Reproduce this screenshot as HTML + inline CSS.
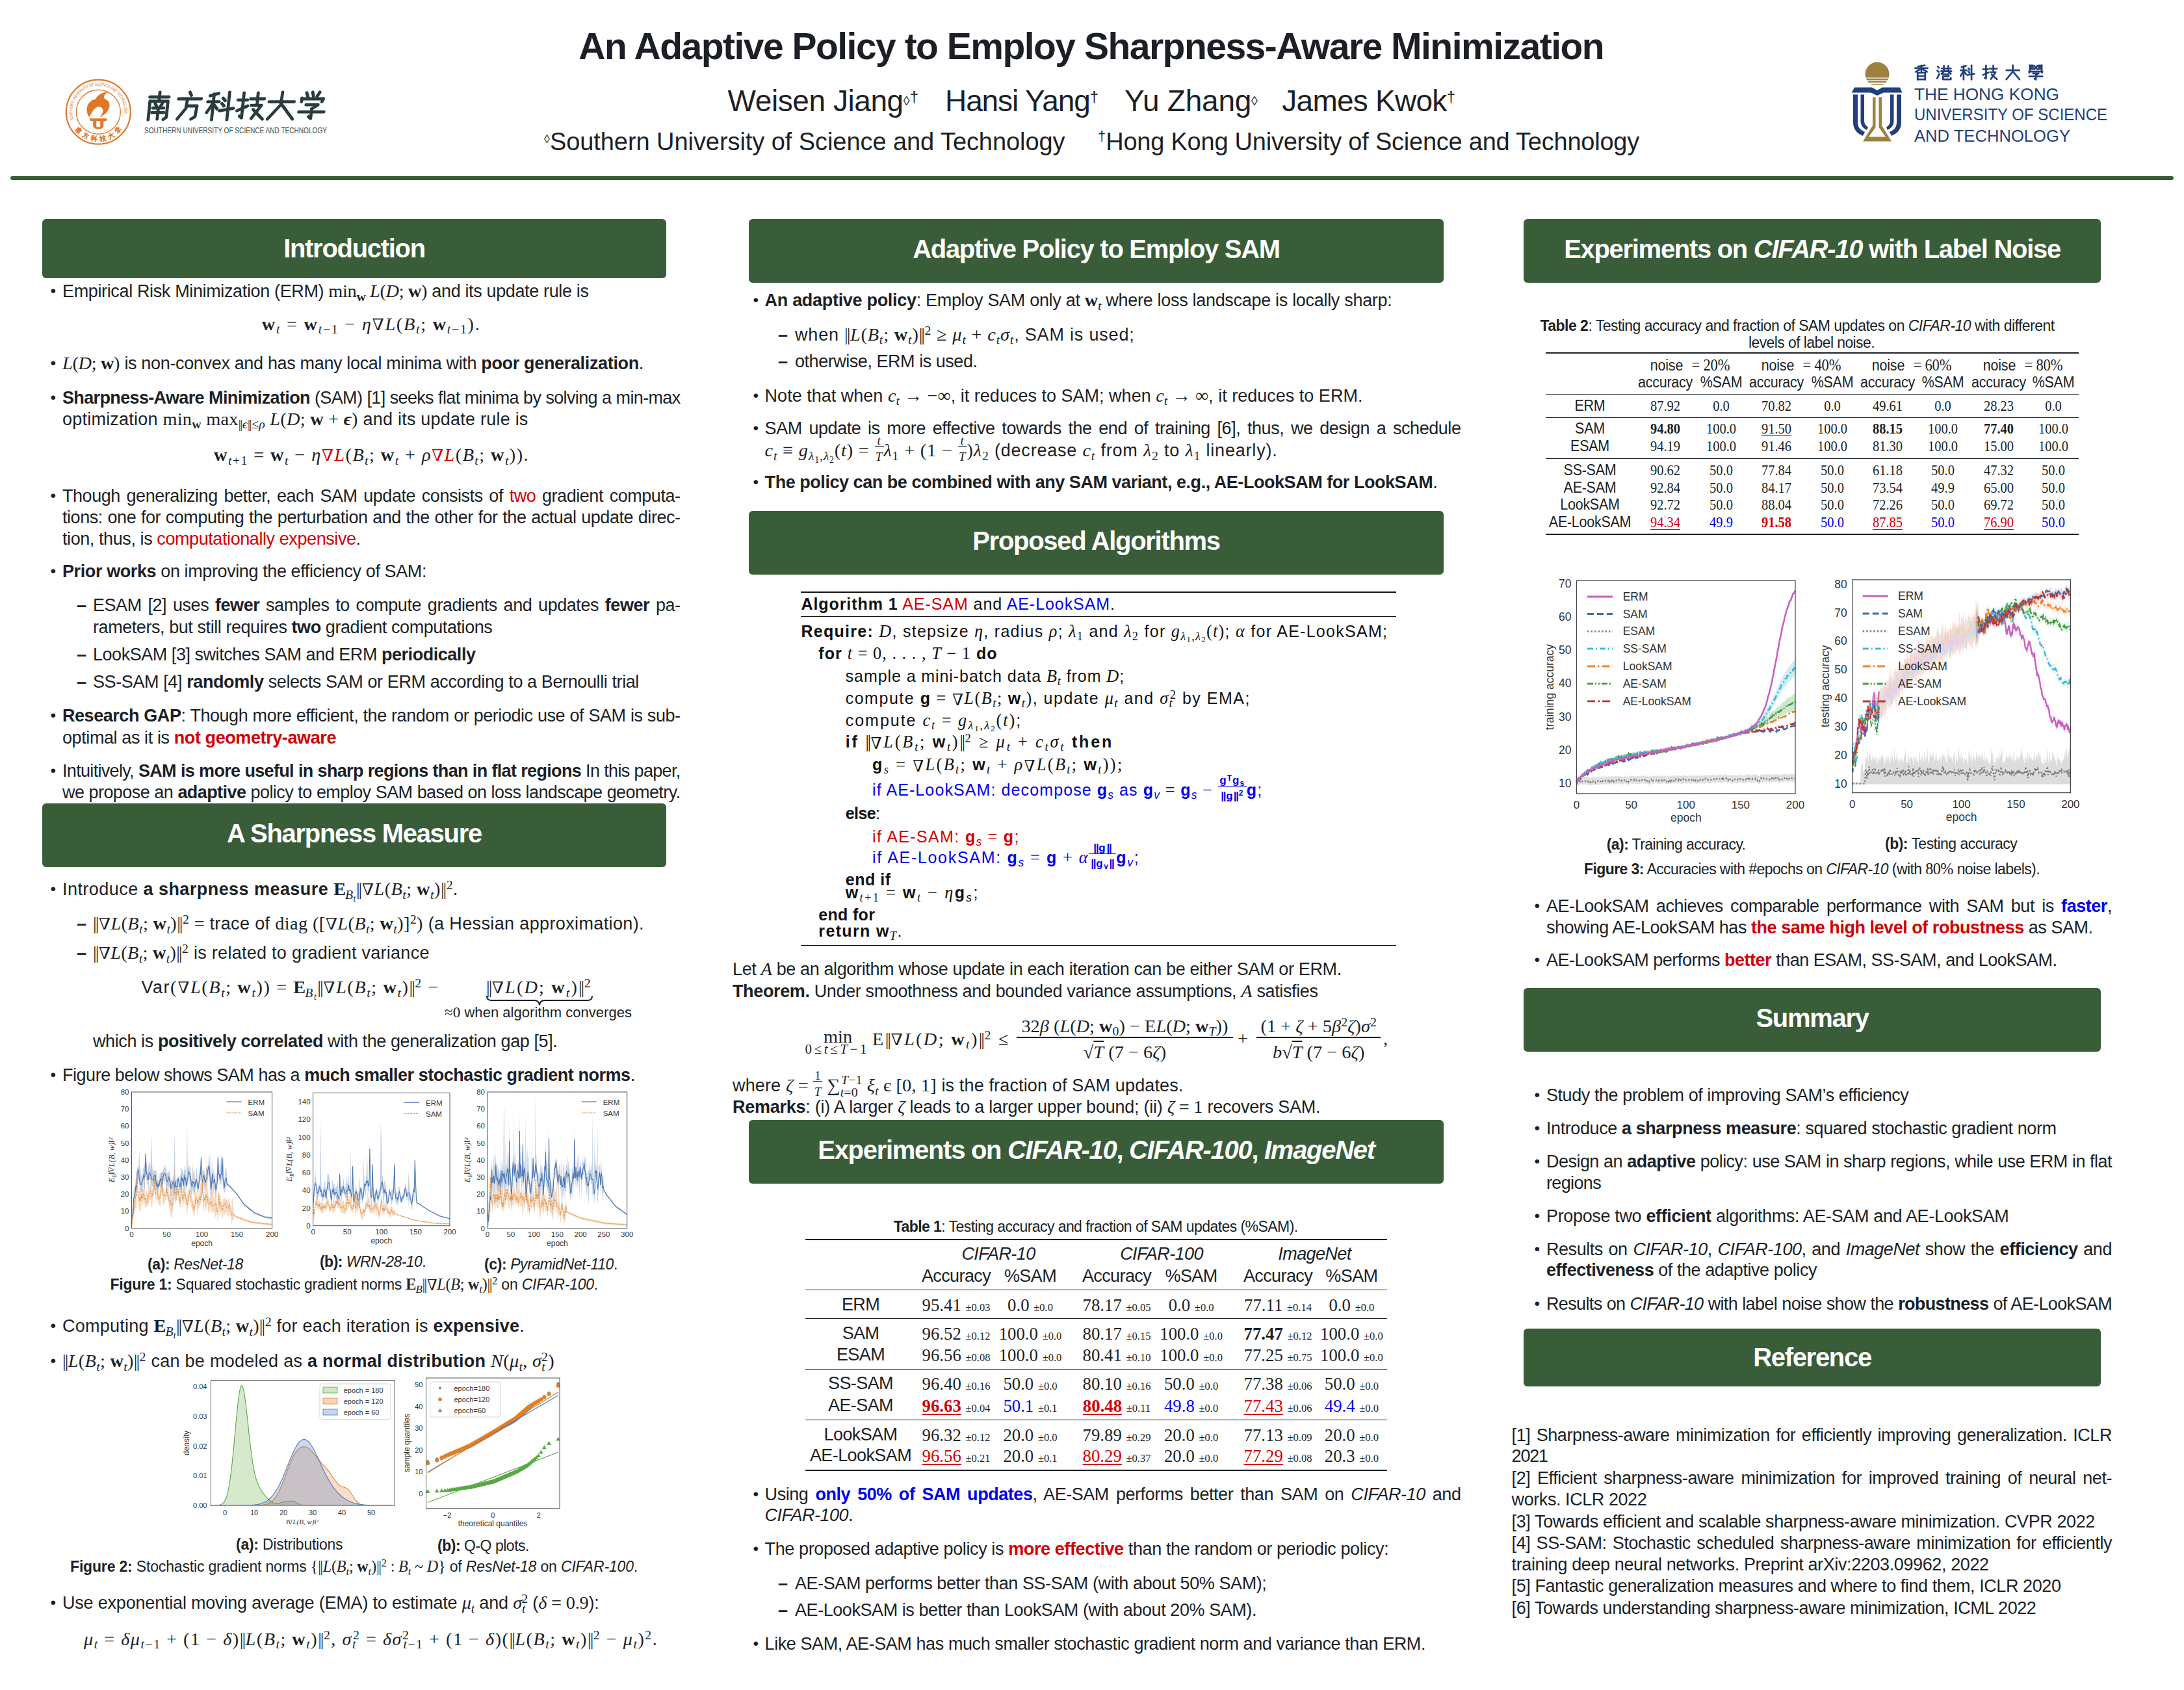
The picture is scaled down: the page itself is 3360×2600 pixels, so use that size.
<!DOCTYPE html><html><head><meta charset="utf-8"><style>
*{margin:0;padding:0;box-sizing:border-box}
html,body{width:3360px;height:2600px;background:#fff;overflow:hidden}
body{position:relative;font-family:"Liberation Sans",sans-serif;color:#1c1f26}
.l{position:absolute;white-space:nowrap;line-height:0;font-size:27px;letter-spacing:-0.45px}
.j{text-align:justify;text-align-last:justify;white-space:normal}
.c{text-align:center}
.r{text-align:right}
.m{font-family:"Liberation Serif",serif;font-size:1.05em}
.m i, i.m{font-style:italic}
.m b, b.m{font-weight:bold}
b{font-weight:bold}
sub,sup{font-size:70%;position:relative;vertical-align:baseline;line-height:0}
sub{top:0.28em}
sup{top:-0.45em}
.nab{display:inline-block;transform:scaleY(-1)}
.nrm{letter-spacing:-0.07em;margin-right:0.05em;font-style:normal}
.red{color:#d40000}
.blue{color:#0000ee}
.hb{position:absolute;background:#395d38;border-radius:6px}
.ht{position:absolute;line-height:0;color:#fff;font-weight:bold;font-size:40px;letter-spacing:-1.3px;text-align:center;white-space:nowrap}
.rule{position:absolute;background:#1c1f26}
.fr{display:inline-block;position:relative;text-align:center;vertical-align:baseline}
.fr .n{position:absolute;left:0;right:0;}
.fr .d{position:absolute;left:0;right:0;}
.fr .bar{position:absolute;left:0;right:0;height:1.5px;background:currentColor}
svg{position:absolute;overflow:visible}
</style></head><body><svg style="left:0;top:0" width="3360" height="260" viewBox="0 0 3360 260"><circle cx="151.3" cy="172.2" r="49.5" fill="none" stroke="#e0782a" stroke-width="2.2"/><circle cx="151.3" cy="172.2" r="34" fill="none" stroke="#e0782a" stroke-width="1.4"/><path id="arc1" d="M 110.9,185.3 A 42.5 42.5 0 1 1 191.7,185.3" fill="none"/><text font-family="Liberation Sans" font-size="6.6" fill="#e0782a" dy="2.3"><textPath href="#arc1" textLength="150" lengthAdjust="spacingAndGlyphs">SOUTHERN UNIVERSITY OF SCIENCE AND TECHNOLOGY</textPath></text><g transform="translate(120.9,200.5) rotate(47) translate(-5,-5)"><polyline points="1.8,2.0 8.2,2.0" fill="none" stroke="#e0782a" stroke-width="1.6" stroke-linecap="round" stroke-linejoin="round"/><polyline points="5.0,0.4 5.0,3.2" fill="none" stroke="#e0782a" stroke-width="1.6" stroke-linecap="round" stroke-linejoin="round"/><polyline points="2.0,3.4 2.0,9.6" fill="none" stroke="#e0782a" stroke-width="1.6" stroke-linecap="round" stroke-linejoin="round"/><polyline points="2.0,3.4 8.0,3.4 8.0,8.8 7.0,9.5" fill="none" stroke="#e0782a" stroke-width="1.6" stroke-linecap="round" stroke-linejoin="round"/><polyline points="3.8,4.2 4.4,5.2" fill="none" stroke="#e0782a" stroke-width="1.6" stroke-linecap="round" stroke-linejoin="round"/><polyline points="6.2,4.2 5.6,5.2" fill="none" stroke="#e0782a" stroke-width="1.6" stroke-linecap="round" stroke-linejoin="round"/><polyline points="3.2,5.7 6.8,5.7" fill="none" stroke="#e0782a" stroke-width="1.6" stroke-linecap="round" stroke-linejoin="round"/><polyline points="3.0,7.2 7.0,7.2" fill="none" stroke="#e0782a" stroke-width="1.6" stroke-linecap="round" stroke-linejoin="round"/><polyline points="5.0,5.7 5.0,9.4" fill="none" stroke="#e0782a" stroke-width="1.6" stroke-linecap="round" stroke-linejoin="round"/></g><g transform="translate(131.7,208.8) rotate(28) translate(-5,-5)"><polyline points="4.8,0.4 5.4,1.5" fill="none" stroke="#e0782a" stroke-width="1.6" stroke-linecap="round" stroke-linejoin="round"/><polyline points="1.2,2.6 8.8,2.6" fill="none" stroke="#e0782a" stroke-width="1.6" stroke-linecap="round" stroke-linejoin="round"/><polyline points="4.2,2.6 4.0,5.8 1.4,9.4" fill="none" stroke="#e0782a" stroke-width="1.6" stroke-linecap="round" stroke-linejoin="round"/><polyline points="4.0,5.0 7.6,5.0 7.3,8.6 6.0,9.4" fill="none" stroke="#e0782a" stroke-width="1.6" stroke-linecap="round" stroke-linejoin="round"/></g><g transform="translate(144.5,213.1) rotate(9) translate(-5,-5)"><polyline points="1.4,1.6 4.2,0.8" fill="none" stroke="#e0782a" stroke-width="1.6" stroke-linecap="round" stroke-linejoin="round"/><polyline points="0.8,3.6 4.6,3.6" fill="none" stroke="#e0782a" stroke-width="1.6" stroke-linecap="round" stroke-linejoin="round"/><polyline points="2.7,1.0 2.7,9.6" fill="none" stroke="#e0782a" stroke-width="1.6" stroke-linecap="round" stroke-linejoin="round"/><polyline points="2.7,4.0 0.8,7.2" fill="none" stroke="#e0782a" stroke-width="1.6" stroke-linecap="round" stroke-linejoin="round"/><polyline points="3.0,4.6 4.2,6.0" fill="none" stroke="#e0782a" stroke-width="1.6" stroke-linecap="round" stroke-linejoin="round"/><polyline points="5.8,2.4 6.6,3.2" fill="none" stroke="#e0782a" stroke-width="1.6" stroke-linecap="round" stroke-linejoin="round"/><polyline points="5.6,4.2 6.4,5.0" fill="none" stroke="#e0782a" stroke-width="1.6" stroke-linecap="round" stroke-linejoin="round"/><polyline points="5.0,6.6 9.6,5.8" fill="none" stroke="#e0782a" stroke-width="1.6" stroke-linecap="round" stroke-linejoin="round"/><polyline points="7.8,0.4 7.8,9.6" fill="none" stroke="#e0782a" stroke-width="1.6" stroke-linecap="round" stroke-linejoin="round"/></g><g transform="translate(158.1,213.1) rotate(-9) translate(-5,-5)"><polyline points="0.6,3.0 3.8,3.0" fill="none" stroke="#e0782a" stroke-width="1.6" stroke-linecap="round" stroke-linejoin="round"/><polyline points="2.4,0.6 2.4,9.0 1.6,8.4" fill="none" stroke="#e0782a" stroke-width="1.6" stroke-linecap="round" stroke-linejoin="round"/><polyline points="0.6,6.6 4.0,5.0" fill="none" stroke="#e0782a" stroke-width="1.6" stroke-linecap="round" stroke-linejoin="round"/><polyline points="4.8,2.6 9.4,2.6" fill="none" stroke="#e0782a" stroke-width="1.6" stroke-linecap="round" stroke-linejoin="round"/><polyline points="7.1,0.6 7.1,4.6" fill="none" stroke="#e0782a" stroke-width="1.6" stroke-linecap="round" stroke-linejoin="round"/><polyline points="5.2,4.8 8.6,4.8 5.6,9.2" fill="none" stroke="#e0782a" stroke-width="1.6" stroke-linecap="round" stroke-linejoin="round"/><polyline points="6.0,6.2 9.4,9.4" fill="none" stroke="#e0782a" stroke-width="1.6" stroke-linecap="round" stroke-linejoin="round"/></g><g transform="translate(170.9,208.8) rotate(-28) translate(-5,-5)"><polyline points="0.8,3.6 9.2,3.6" fill="none" stroke="#e0782a" stroke-width="1.6" stroke-linecap="round" stroke-linejoin="round"/><polyline points="5.0,0.4 4.8,4.6 0.8,9.4" fill="none" stroke="#e0782a" stroke-width="1.6" stroke-linecap="round" stroke-linejoin="round"/><polyline points="5.2,4.6 9.2,9.4" fill="none" stroke="#e0782a" stroke-width="1.6" stroke-linecap="round" stroke-linejoin="round"/></g><g transform="translate(181.7,200.5) rotate(-47) translate(-5,-5)"><polyline points="2.8,0.6 3.4,2.0" fill="none" stroke="#e0782a" stroke-width="1.6" stroke-linecap="round" stroke-linejoin="round"/><polyline points="4.8,0.4 5.2,1.8" fill="none" stroke="#e0782a" stroke-width="1.6" stroke-linecap="round" stroke-linejoin="round"/><polyline points="7.2,0.4 6.4,1.8" fill="none" stroke="#e0782a" stroke-width="1.6" stroke-linecap="round" stroke-linejoin="round"/><polyline points="1.4,2.4 1.4,3.6" fill="none" stroke="#e0782a" stroke-width="1.6" stroke-linecap="round" stroke-linejoin="round"/><polyline points="1.4,2.6 8.6,2.6 8.2,3.6" fill="none" stroke="#e0782a" stroke-width="1.6" stroke-linecap="round" stroke-linejoin="round"/><polyline points="3.0,4.6 7.0,4.6 5.0,6.0" fill="none" stroke="#e0782a" stroke-width="1.6" stroke-linecap="round" stroke-linejoin="round"/><polyline points="5.0,6.0 5.0,9.2 4.2,8.6" fill="none" stroke="#e0782a" stroke-width="1.6" stroke-linecap="round" stroke-linejoin="round"/><polyline points="0.8,7.0 9.2,7.0" fill="none" stroke="#e0782a" stroke-width="1.6" stroke-linecap="round" stroke-linejoin="round"/></g><path d="M 137.3,180.2 C 129.3,168.2 135.3,154.2 147.3,152.2 C 149.3,146.2 157.3,142.2 165.3,141.2 C 157.3,148.2 159.3,152.2 165.3,154.2 C 173.3,162.2 165.3,176.2 153.3,180.2 C 161.3,172.2 159.3,164.2 151.3,164.2 C 143.3,166.2 141.3,174.2 137.3,180.2 Z" fill="#e0782a"/><path d="M 137.3,182.2 L 165.3,182.2 L 163.3,186.2 L 159.3,186.2 L 159.3,194.2 C 157.3,200.2 145.3,200.2 143.3,194.2 L 143.3,186.2 L 139.3,186.2 Z" fill="#e0782a"/><rect x="148.3" y="186.2" width="6" height="9" fill="#fff"/><g transform="skewX(-6) translate(14.0,0)"><polyline points="232.3,149.2 261.7,149.2" fill="none" stroke="#2a3c3d" stroke-width="4.8" stroke-linecap="round" stroke-linejoin="round"/><polyline points="247.0,141.8 247.0,154.7" fill="none" stroke="#2a3c3d" stroke-width="4.8" stroke-linecap="round" stroke-linejoin="round"/><polyline points="233.2,155.6 233.2,184.2" fill="none" stroke="#2a3c3d" stroke-width="4.8" stroke-linecap="round" stroke-linejoin="round"/><polyline points="233.2,155.6 260.8,155.6 260.8,180.5 256.2,183.7" fill="none" stroke="#2a3c3d" stroke-width="4.8" stroke-linecap="round" stroke-linejoin="round"/><polyline points="241.5,159.3 244.2,163.9" fill="none" stroke="#2a3c3d" stroke-width="4.8" stroke-linecap="round" stroke-linejoin="round"/><polyline points="252.5,159.3 249.8,163.9" fill="none" stroke="#2a3c3d" stroke-width="4.8" stroke-linecap="round" stroke-linejoin="round"/><polyline points="238.7,166.2 255.3,166.2" fill="none" stroke="#2a3c3d" stroke-width="4.8" stroke-linecap="round" stroke-linejoin="round"/><polyline points="237.8,173.1 256.2,173.1" fill="none" stroke="#2a3c3d" stroke-width="4.8" stroke-linecap="round" stroke-linejoin="round"/><polyline points="247.0,166.2 247.0,183.2" fill="none" stroke="#2a3c3d" stroke-width="4.8" stroke-linecap="round" stroke-linejoin="round"/></g><g transform="skewX(-6) translate(14.0,0)"><polyline points="293.3,141.8 296.0,146.9" fill="none" stroke="#2a3c3d" stroke-width="4.8" stroke-linecap="round" stroke-linejoin="round"/><polyline points="276.7,152.0 311.7,152.0" fill="none" stroke="#2a3c3d" stroke-width="4.8" stroke-linecap="round" stroke-linejoin="round"/><polyline points="290.5,152.0 289.6,166.7 277.6,183.2" fill="none" stroke="#2a3c3d" stroke-width="4.8" stroke-linecap="round" stroke-linejoin="round"/><polyline points="289.6,163.0 306.2,163.0 304.8,179.6 298.8,183.2" fill="none" stroke="#2a3c3d" stroke-width="4.8" stroke-linecap="round" stroke-linejoin="round"/></g><g transform="skewX(-6) translate(14.0,0)"><polyline points="324.8,147.4 337.7,143.7" fill="none" stroke="#2a3c3d" stroke-width="4.8" stroke-linecap="round" stroke-linejoin="round"/><polyline points="322.1,156.6 339.6,156.6" fill="none" stroke="#2a3c3d" stroke-width="4.8" stroke-linecap="round" stroke-linejoin="round"/><polyline points="330.8,144.6 330.8,184.2" fill="none" stroke="#2a3c3d" stroke-width="4.8" stroke-linecap="round" stroke-linejoin="round"/><polyline points="330.8,158.4 322.1,173.1" fill="none" stroke="#2a3c3d" stroke-width="4.8" stroke-linecap="round" stroke-linejoin="round"/><polyline points="332.2,161.2 337.7,167.6" fill="none" stroke="#2a3c3d" stroke-width="4.8" stroke-linecap="round" stroke-linejoin="round"/><polyline points="345.1,151.0 348.8,154.7" fill="none" stroke="#2a3c3d" stroke-width="4.8" stroke-linecap="round" stroke-linejoin="round"/><polyline points="344.2,159.3 347.8,163.0" fill="none" stroke="#2a3c3d" stroke-width="4.8" stroke-linecap="round" stroke-linejoin="round"/><polyline points="341.4,170.4 362.6,166.7" fill="none" stroke="#2a3c3d" stroke-width="4.8" stroke-linecap="round" stroke-linejoin="round"/><polyline points="354.3,141.8 354.3,184.2" fill="none" stroke="#2a3c3d" stroke-width="4.8" stroke-linecap="round" stroke-linejoin="round"/></g><g transform="skewX(-6) translate(14.0,0)"><polyline points="368.4,153.8 383.1,153.8" fill="none" stroke="#2a3c3d" stroke-width="4.8" stroke-linecap="round" stroke-linejoin="round"/><polyline points="376.6,142.8 376.6,181.4 373.0,178.6" fill="none" stroke="#2a3c3d" stroke-width="4.8" stroke-linecap="round" stroke-linejoin="round"/><polyline points="368.4,170.4 384.0,163.0" fill="none" stroke="#2a3c3d" stroke-width="4.8" stroke-linecap="round" stroke-linejoin="round"/><polyline points="387.7,152.0 408.8,152.0" fill="none" stroke="#2a3c3d" stroke-width="4.8" stroke-linecap="round" stroke-linejoin="round"/><polyline points="398.3,142.8 398.3,161.2" fill="none" stroke="#2a3c3d" stroke-width="4.8" stroke-linecap="round" stroke-linejoin="round"/><polyline points="389.5,162.1 405.2,162.1 391.4,182.3" fill="none" stroke="#2a3c3d" stroke-width="4.8" stroke-linecap="round" stroke-linejoin="round"/><polyline points="393.2,168.5 408.8,183.2" fill="none" stroke="#2a3c3d" stroke-width="4.8" stroke-linecap="round" stroke-linejoin="round"/></g><g transform="skewX(-6) translate(14.0,0)"><polyline points="416.5,156.6 455.1,156.6" fill="none" stroke="#2a3c3d" stroke-width="4.8" stroke-linecap="round" stroke-linejoin="round"/><polyline points="435.8,141.8 434.9,161.2 416.5,183.2" fill="none" stroke="#2a3c3d" stroke-width="4.8" stroke-linecap="round" stroke-linejoin="round"/><polyline points="436.7,161.2 455.1,183.2" fill="none" stroke="#2a3c3d" stroke-width="4.8" stroke-linecap="round" stroke-linejoin="round"/></g><g transform="skewX(-6) translate(14.0,0)"><polyline points="472.9,142.8 475.6,149.2" fill="none" stroke="#2a3c3d" stroke-width="4.8" stroke-linecap="round" stroke-linejoin="round"/><polyline points="482.1,141.8 483.9,148.3" fill="none" stroke="#2a3c3d" stroke-width="4.8" stroke-linecap="round" stroke-linejoin="round"/><polyline points="493.1,141.8 489.4,148.3" fill="none" stroke="#2a3c3d" stroke-width="4.8" stroke-linecap="round" stroke-linejoin="round"/><polyline points="466.4,151.0 466.4,156.6" fill="none" stroke="#2a3c3d" stroke-width="4.8" stroke-linecap="round" stroke-linejoin="round"/><polyline points="466.4,152.0 499.6,152.0 497.7,156.6" fill="none" stroke="#2a3c3d" stroke-width="4.8" stroke-linecap="round" stroke-linejoin="round"/><polyline points="473.8,161.2 492.2,161.2 483.0,167.6" fill="none" stroke="#2a3c3d" stroke-width="4.8" stroke-linecap="round" stroke-linejoin="round"/><polyline points="483.0,167.6 483.0,182.3 479.3,179.6" fill="none" stroke="#2a3c3d" stroke-width="4.8" stroke-linecap="round" stroke-linejoin="round"/><polyline points="463.7,172.2 502.3,172.2" fill="none" stroke="#2a3c3d" stroke-width="4.8" stroke-linecap="round" stroke-linejoin="round"/></g><text x="222" y="205" font-family="Liberation Sans" font-size="13.5" fill="#3b4d4e" textLength="281" lengthAdjust="spacingAndGlyphs">SOUTHERN UNIVERSITY OF SCIENCE AND TECHNOLOGY</text><clipPath id="sunclip"><rect x="2868" y="94" width="40" height="38"/></clipPath><circle cx="2888" cy="114" r="18.5" fill="#9d8140" clip-path="url(#sunclip)"/><rect x="2868" y="119.5" width="40" height="1.2" fill="#fff"/><rect x="2868" y="123.5" width="40" height="1.5" fill="#fff"/><rect x="2868" y="127.2" width="40" height="1.8" fill="#fff"/><rect x="2868" y="130.5" width="40" height="2.1" fill="#fff"/><rect x="2868" y="132.2" width="40" height="4" fill="#fff"/><path d="M 2848.7,142.5 L 2853,134.5 L 2880,134.5 L 2888,139 L 2896,134.5 L 2923,134.5 L 2926.5,142.5 L 2898,142.5 L 2888,147 L 2878,142.5 Z" fill="#213f7c"/><path d="M 2851,145.5 L 2858,145.5 L 2858,188 C 2858,196 2862,200 2869,203 L 2866,209 C 2856,205 2851,198 2851,188 Z" fill="#213f7c"/><path d="M 2862.5,145.5 L 2868,145.5 L 2868,185 C 2868,190 2870,193 2874,196 L 2872,200 C 2866,197 2862.5,193 2862.5,186 Z" fill="#213f7c"/><path d="M 2925,145.5 L 2918,145.5 L 2918,188 C 2918,196 2914,200 2907,203 L 2910,209 C 2920,205 2925,198 2925,188 Z" fill="#213f7c"/><path d="M 2913.5,145.5 L 2908,145.5 L 2908,185 C 2908,190 2906,193 2902,196 L 2904,200 C 2910,197 2913.5,193 2913.5,186 Z" fill="#213f7c"/><path d="M 2881,149.5 L 2885.5,149.5 L 2885.5,196 L 2875,210.5 L 2901,210.5 L 2890.5,196 L 2890.5,149.5 L 2895,149.5 L 2895,193 L 2910,217.5 L 2866,217.5 L 2881,193 Z" fill="#9d8140"/><polyline points="2950.7,102.4 2961.3,100.5" fill="none" stroke="#213f7c" stroke-width="2.7" stroke-linecap="round" stroke-linejoin="round"/><polyline points="2946.4,104.8 2965.6,104.8" fill="none" stroke="#213f7c" stroke-width="2.7" stroke-linecap="round" stroke-linejoin="round"/><polyline points="2956.0,100.9 2956.0,110.1" fill="none" stroke="#213f7c" stroke-width="2.7" stroke-linecap="round" stroke-linejoin="round"/><polyline points="2955.5,105.7 2947.4,110.5" fill="none" stroke="#213f7c" stroke-width="2.7" stroke-linecap="round" stroke-linejoin="round"/><polyline points="2956.5,105.7 2964.6,110.5" fill="none" stroke="#213f7c" stroke-width="2.7" stroke-linecap="round" stroke-linejoin="round"/><polyline points="2950.2,112.0 2950.2,122.5" fill="none" stroke="#213f7c" stroke-width="2.7" stroke-linecap="round" stroke-linejoin="round"/><polyline points="2950.2,112.0 2961.8,112.0 2961.8,122.5" fill="none" stroke="#213f7c" stroke-width="2.7" stroke-linecap="round" stroke-linejoin="round"/><polyline points="2950.2,117.0 2961.8,117.0" fill="none" stroke="#213f7c" stroke-width="2.7" stroke-linecap="round" stroke-linejoin="round"/><polyline points="2950.2,122.1 2961.8,122.1" fill="none" stroke="#213f7c" stroke-width="2.7" stroke-linecap="round" stroke-linejoin="round"/><polyline points="2981.1,102.4 2983.0,104.3" fill="none" stroke="#213f7c" stroke-width="2.7" stroke-linecap="round" stroke-linejoin="round"/><polyline points="2980.4,108.6 2982.6,110.5" fill="none" stroke="#213f7c" stroke-width="2.7" stroke-linecap="round" stroke-linejoin="round"/><polyline points="2980.2,120.6 2983.5,113.9" fill="none" stroke="#213f7c" stroke-width="2.7" stroke-linecap="round" stroke-linejoin="round"/><polyline points="2987.4,105.3 3001.3,105.3" fill="none" stroke="#213f7c" stroke-width="2.7" stroke-linecap="round" stroke-linejoin="round"/><polyline points="2986.4,109.6 3002.2,109.6" fill="none" stroke="#213f7c" stroke-width="2.7" stroke-linecap="round" stroke-linejoin="round"/><polyline points="2990.7,101.4 2990.7,109.6" fill="none" stroke="#213f7c" stroke-width="2.7" stroke-linecap="round" stroke-linejoin="round"/><polyline points="2997.4,101.4 2997.4,109.6" fill="none" stroke="#213f7c" stroke-width="2.7" stroke-linecap="round" stroke-linejoin="round"/><polyline points="2990.7,110.1 2986.9,113.4" fill="none" stroke="#213f7c" stroke-width="2.7" stroke-linecap="round" stroke-linejoin="round"/><polyline points="2997.4,110.1 3001.3,113.4" fill="none" stroke="#213f7c" stroke-width="2.7" stroke-linecap="round" stroke-linejoin="round"/><polyline points="2988.8,114.4 2997.9,114.4 2997.9,117.7 2989.3,117.7 2989.3,122.1 3001.3,122.1 3001.3,120.1" fill="none" stroke="#213f7c" stroke-width="2.7" stroke-linecap="round" stroke-linejoin="round"/><polyline points="3017.8,103.3 3024.5,101.4" fill="none" stroke="#213f7c" stroke-width="2.7" stroke-linecap="round" stroke-linejoin="round"/><polyline points="3016.3,108.1 3025.4,108.1" fill="none" stroke="#213f7c" stroke-width="2.7" stroke-linecap="round" stroke-linejoin="round"/><polyline points="3020.9,101.9 3020.9,122.5" fill="none" stroke="#213f7c" stroke-width="2.7" stroke-linecap="round" stroke-linejoin="round"/><polyline points="3020.9,109.1 3016.3,116.8" fill="none" stroke="#213f7c" stroke-width="2.7" stroke-linecap="round" stroke-linejoin="round"/><polyline points="3021.6,110.5 3024.5,113.9" fill="none" stroke="#213f7c" stroke-width="2.7" stroke-linecap="round" stroke-linejoin="round"/><polyline points="3028.3,105.3 3030.2,107.2" fill="none" stroke="#213f7c" stroke-width="2.7" stroke-linecap="round" stroke-linejoin="round"/><polyline points="3027.8,109.6 3029.8,111.5" fill="none" stroke="#213f7c" stroke-width="2.7" stroke-linecap="round" stroke-linejoin="round"/><polyline points="3026.4,115.3 3037.4,113.4" fill="none" stroke="#213f7c" stroke-width="2.7" stroke-linecap="round" stroke-linejoin="round"/><polyline points="3033.1,100.5 3033.1,122.5" fill="none" stroke="#213f7c" stroke-width="2.7" stroke-linecap="round" stroke-linejoin="round"/><polyline points="3051.0,106.7 3058.7,106.7" fill="none" stroke="#213f7c" stroke-width="2.7" stroke-linecap="round" stroke-linejoin="round"/><polyline points="3055.4,100.9 3055.4,121.1 3053.4,119.7" fill="none" stroke="#213f7c" stroke-width="2.7" stroke-linecap="round" stroke-linejoin="round"/><polyline points="3051.0,115.3 3059.2,111.5" fill="none" stroke="#213f7c" stroke-width="2.7" stroke-linecap="round" stroke-linejoin="round"/><polyline points="3061.1,105.7 3072.2,105.7" fill="none" stroke="#213f7c" stroke-width="2.7" stroke-linecap="round" stroke-linejoin="round"/><polyline points="3066.6,100.9 3066.6,110.5" fill="none" stroke="#213f7c" stroke-width="2.7" stroke-linecap="round" stroke-linejoin="round"/><polyline points="3062.1,111.0 3070.2,111.0 3063.0,121.6" fill="none" stroke="#213f7c" stroke-width="2.7" stroke-linecap="round" stroke-linejoin="round"/><polyline points="3064.0,114.4 3072.2,122.1" fill="none" stroke="#213f7c" stroke-width="2.7" stroke-linecap="round" stroke-linejoin="round"/><polyline points="3086.7,108.1 3106.9,108.1" fill="none" stroke="#213f7c" stroke-width="2.7" stroke-linecap="round" stroke-linejoin="round"/><polyline points="3096.8,100.5 3096.3,110.5 3086.7,122.1" fill="none" stroke="#213f7c" stroke-width="2.7" stroke-linecap="round" stroke-linejoin="round"/><polyline points="3097.3,110.5 3106.9,122.1" fill="none" stroke="#213f7c" stroke-width="2.7" stroke-linecap="round" stroke-linejoin="round"/><polyline points="3122.9,100.5 3122.9,108.6" fill="none" stroke="#213f7c" stroke-width="2.7" stroke-linecap="round" stroke-linejoin="round"/><polyline points="3141.1,100.5 3141.1,108.6" fill="none" stroke="#213f7c" stroke-width="2.7" stroke-linecap="round" stroke-linejoin="round"/><polyline points="3122.9,100.9 3127.7,100.9" fill="none" stroke="#213f7c" stroke-width="2.7" stroke-linecap="round" stroke-linejoin="round"/><polyline points="3136.3,100.9 3141.1,100.9" fill="none" stroke="#213f7c" stroke-width="2.7" stroke-linecap="round" stroke-linejoin="round"/><polyline points="3124.8,103.3 3127.7,103.3" fill="none" stroke="#213f7c" stroke-width="2.7" stroke-linecap="round" stroke-linejoin="round"/><polyline points="3136.3,103.3 3139.2,103.3" fill="none" stroke="#213f7c" stroke-width="2.7" stroke-linecap="round" stroke-linejoin="round"/><polyline points="3124.8,106.2 3127.7,106.2" fill="none" stroke="#213f7c" stroke-width="2.7" stroke-linecap="round" stroke-linejoin="round"/><polyline points="3136.3,106.2 3139.2,106.2" fill="none" stroke="#213f7c" stroke-width="2.7" stroke-linecap="round" stroke-linejoin="round"/><polyline points="3129.6,101.4 3134.4,106.7" fill="none" stroke="#213f7c" stroke-width="2.7" stroke-linecap="round" stroke-linejoin="round"/><polyline points="3134.4,101.4 3129.6,106.7" fill="none" stroke="#213f7c" stroke-width="2.7" stroke-linecap="round" stroke-linejoin="round"/><polyline points="3121.9,109.6 3121.9,112.0" fill="none" stroke="#213f7c" stroke-width="2.7" stroke-linecap="round" stroke-linejoin="round"/><polyline points="3121.9,110.1 3142.1,110.1 3141.6,112.0" fill="none" stroke="#213f7c" stroke-width="2.7" stroke-linecap="round" stroke-linejoin="round"/><polyline points="3127.7,112.9 3136.3,112.9 3132.0,115.3" fill="none" stroke="#213f7c" stroke-width="2.7" stroke-linecap="round" stroke-linejoin="round"/><polyline points="3132.0,115.3 3132.0,122.5 3130.1,121.1" fill="none" stroke="#213f7c" stroke-width="2.7" stroke-linecap="round" stroke-linejoin="round"/><polyline points="3121.9,117.7 3142.1,117.7" fill="none" stroke="#213f7c" stroke-width="2.7" stroke-linecap="round" stroke-linejoin="round"/><text x="2945" y="153.8" font-family="Liberation Sans" font-size="26.5" fill="#213f7c" textLength="223" lengthAdjust="spacingAndGlyphs">THE HONG KONG</text><text x="2945" y="185.4" font-family="Liberation Sans" font-size="26.5" fill="#213f7c" textLength="297" lengthAdjust="spacingAndGlyphs">UNIVERSITY OF SCIENCE</text><text x="2945" y="217.7" font-family="Liberation Sans" font-size="26.5" fill="#213f7c" textLength="240" lengthAdjust="spacingAndGlyphs">AND TECHNOLOGY</text></svg>
<div id="L1" class="l" style="left:890.3px;top:70.7px;font-size:57px;letter-spacing:-1.509px;font-weight:bold;">An Adaptive Policy to Employ Sharpness-Aware Minimization</div>
<div id="L2" class="l" style="left:1119.6px;top:155.3px;font-size:46px;letter-spacing:-0.430px;">Weisen Jiang<span style="font-size:20px;position:relative;top:-9px;letter-spacing:0">◊</span><span style="font-size:24px;position:relative;top:-14px;letter-spacing:0">†</span></div>
<div id="L3" class="l" style="left:1454.0px;top:155.3px;font-size:46px;letter-spacing:-1.094px;">Hansi Yang<span style="font-size:24px;position:relative;top:-14px;letter-spacing:0">†</span></div>
<div id="L4" class="l" style="left:1730.0px;top:155.3px;font-size:46px;letter-spacing:-0.230px;">Yu Zhang<span style="font-size:20px;position:relative;top:-9px;letter-spacing:0">◊</span></div>
<div id="L5" class="l" style="left:1972.3px;top:155.3px;font-size:46px;letter-spacing:-0.742px;">James Kwok<span style="font-size:24px;position:relative;top:-14px;letter-spacing:0">†</span></div>
<div id="L6" class="l" style="left:837.0px;top:218.4px;font-size:38px;letter-spacing:-0.068px;"><span style="font-size:18px;position:relative;top:-11px;letter-spacing:0">◊</span>Southern University of Science and Technology</div>
<div id="L7" class="l" style="left:1689.0px;top:218.4px;font-size:38px;letter-spacing:-0.236px;"><span style="font-size:22px;position:relative;top:-14px;letter-spacing:0">†</span>Hong Kong University of Science and Technology</div>
<div style="position:absolute;left:16px;top:271px;width:3328px;height:6px;border-radius:3px;background:#395d38"></div>
<div class="hb" style="left:65px;top:337px;width:960px;height:90.5px"></div>
<div class="ht" style="left:65px;top:382.1px;width:960px">Introduction</div>
<div class="hb" style="left:65px;top:1236px;width:960px;height:98px"></div>
<div class="ht" style="left:65px;top:1282.1px;width:960px">A Sharpness Measure</div>
<div class="hb" style="left:1152px;top:337px;width:1069px;height:98px"></div>
<div class="ht" style="left:1152px;top:383.1px;width:1069px">Adaptive Policy to Employ SAM</div>
<div class="hb" style="left:1152px;top:785.5px;width:1069px;height:98.5px"></div>
<div class="ht" style="left:1152px;top:831.6px;width:1069px">Proposed Algorithms</div>
<div class="hb" style="left:1152px;top:1723px;width:1069px;height:97.5px"></div>
<div class="ht" style="left:1152px;top:1769.1px;width:1069px">Experiments on <i>CIFAR-10</i>, <i>CIFAR-100</i>, <i>ImageNet</i></div>
<div class="hb" style="left:2344px;top:337px;width:888px;height:97.5px"></div>
<div class="ht" style="left:2344px;top:383.1px;width:888px">Experiments on <i>CIFAR-10</i> with Label Noise</div>
<div class="hb" style="left:2344px;top:1520px;width:888px;height:97.5px"></div>
<div class="ht" style="left:2344px;top:1566.1px;width:888px">Summary</div>
<div class="hb" style="left:2344px;top:2044px;width:888px;height:88.5px"></div>
<div class="ht" style="left:2344px;top:2088.1px;width:888px">Reference</div>
<div id="L8" class="l" style="left:77.5px;top:448.0px;font-size:24.5px;letter-spacing:-0.450px;letter-spacing:0">•</div>
<div id="L9" class="l" style="left:96.0px;top:448.1px;letter-spacing:-0.359px;">Empirical Risk Minimization (ERM) <span class="m">min<sub><b>w</b></sub> <i>L</i>(<i>D</i>; <b>w</b>)</span> and its update rule is</div>
<div id="L10" class="l" style="left:402.8px;top:498.7px;letter-spacing:1.703px;"><span class="m"><b>w</b><sub><i>t</i></sub> = <b>w</b><sub><i>t</i>−1</sub> − <i>η</i><span class="nab">Δ</span><i>L</i>(<i>B</i><sub><i>t</i></sub>; <b>w</b><sub><i>t</i>−1</sub>).</span></div>
<div id="L11" class="l" style="left:77.5px;top:558.8px;font-size:24.5px;letter-spacing:-0.450px;letter-spacing:0">•</div>
<div id="L12" class="l" style="left:96.0px;top:558.9px;letter-spacing:-0.341px;"><span class="m"><i>L</i>(<i>D</i>; <b>w</b>)</span> is non-convex and has many local minima with <b>poor generalization</b>.</div>
<div id="L13" class="l" style="left:77.5px;top:611.7px;font-size:24.5px;letter-spacing:-0.450px;letter-spacing:0">•</div>
<div id="L14" class="l j" style="left:96.0px;top:611.8px;width:950.6px;letter-spacing:-0.645px;"><b>Sharpness-Aware Minimization</b> (SAM) [1] seeks flat minima by solving a min-max</div>
<div id="L15" class="l" style="left:96.0px;top:644.9px;letter-spacing:0.225px;">optimization <span class="m">min<sub><b>w</b></sub> max<sub><span class="nrm">||</span><i>ϵ</i><span class="nrm">||</span>≤<i>ρ</i></sub> <i>L</i>(<i>D</i>; <b>w</b> + <b><i>ϵ</i></b>)</span> and its update rule is</div>
<div id="L16" class="l" style="left:329.0px;top:700.3px;letter-spacing:1.401px;"><span class="m"><b>w</b><sub><i>t</i>+1</sub> = <b>w</b><sub><i>t</i></sub> − <i>η</i><span class="red"><span class="nab">Δ</span><i>L</i></span>(<i>B</i><sub><i>t</i></sub>; <b>w</b><sub><i>t</i></sub> + <i>ρ</i><span class="red"><span class="nab">Δ</span><i>L</i></span>(<i>B</i><sub><i>t</i></sub>; <b>w</b><sub><i>t</i></sub>)).</span></div>
<div id="L17" class="l" style="left:77.5px;top:762.7px;font-size:24.5px;letter-spacing:-0.450px;letter-spacing:0">•</div>
<div id="L18" class="l j" style="left:96.0px;top:762.8px;width:950.6px;letter-spacing:-0.450px;">Though generalizing better, each SAM update consists of <span class="red">two</span> gradient computa-</div>
<div id="L19" class="l j" style="left:96.0px;top:795.8px;width:950.6px;letter-spacing:-0.450px;">tions: one for computing the perturbation and the other for the actual update direc-</div>
<div id="L20" class="l" style="left:96.0px;top:828.8px;letter-spacing:-0.417px;">tion, thus, is <span class="red">computationally expensive</span>.</div>
<div id="L21" class="l" style="left:77.5px;top:879.0px;font-size:24.5px;letter-spacing:-0.450px;letter-spacing:0">•</div>
<div id="L22" class="l" style="left:96.0px;top:879.1px;letter-spacing:-0.399px;"><b>Prior works</b> on improving the efficiency of SAM:</div>
<div id="L23" class="l" style="left:118.0px;top:931.0px;letter-spacing:-0.450px;font-weight:bold;letter-spacing:0">–</div>
<div id="L24" class="l j" style="left:143.0px;top:931.0px;width:903.6px;letter-spacing:-0.450px;">ESAM [2] uses <b>fewer</b> samples to compute gradients and updates <b>fewer</b> pa-</div>
<div id="L25" class="l" style="left:143.0px;top:965.0px;letter-spacing:-0.433px;">rameters, but still requires <b>two</b> gradient computations</div>
<div id="L26" class="l" style="left:118.0px;top:1007.4px;letter-spacing:-0.450px;font-weight:bold;letter-spacing:0">–</div>
<div id="L27" class="l" style="left:143.0px;top:1007.4px;letter-spacing:-0.461px;">LookSAM [3] switches SAM and ERM <b>periodically</b></div>
<div id="L28" class="l" style="left:118.0px;top:1048.9px;letter-spacing:-0.450px;font-weight:bold;letter-spacing:0">–</div>
<div id="L29" class="l" style="left:143.0px;top:1048.9px;letter-spacing:-0.396px;">SS-SAM [4] <b>randomly</b> selects SAM or ERM according to a Bernoulli trial</div>
<div id="L30" class="l" style="left:77.5px;top:1100.7px;font-size:24.5px;letter-spacing:-0.450px;letter-spacing:0">•</div>
<div id="L31" class="l j" style="left:96.0px;top:1100.8px;width:950.6px;letter-spacing:-0.450px;"><b>Research GAP</b>: Though more efficient, the random or periodic use of SAM is sub-</div>
<div id="L32" class="l" style="left:96.0px;top:1134.7px;letter-spacing:-0.404px;">optimal as it is <b class="red">not geometry-aware</b></div>
<div id="L33" class="l" style="left:77.5px;top:1185.6px;font-size:24.5px;letter-spacing:-0.450px;letter-spacing:0">•</div>
<div id="L34" class="l j" style="left:96.0px;top:1185.7px;width:950.6px;letter-spacing:-0.681px;">Intuitively, <b>SAM is more useful in sharp regions than in flat regions</b> In this paper,</div>
<div id="L35" class="l j" style="left:96.0px;top:1218.7px;width:950.6px;letter-spacing:-0.571px;">we propose an <b>adaptive</b> policy to employ SAM based on loss landscape geometry.</div>
<div id="L36" class="l" style="left:77.5px;top:1368.3px;font-size:24.5px;letter-spacing:-0.450px;letter-spacing:0">•</div>
<div id="L37" class="l" style="left:96.0px;top:1368.4px;letter-spacing:0.446px;">Introduce <b>a sharpness measure</b> <span class="m"><span style="font-weight:bold;letter-spacing:-1px">E</span><sub><i>B</i><sub><i>t</i></sub></sub><span class="nrm">||</span><span class="nab">Δ</span><i>L</i>(<i>B</i><sub><i>t</i></sub>; <b>w</b><sub><i>t</i></sub>)<span class="nrm">||</span><sup>2</sup>.</span></div>
<div id="L38" class="l" style="left:118.0px;top:1421.4px;letter-spacing:-0.450px;font-weight:bold;letter-spacing:0">–</div>
<div id="L39" class="l" style="left:143.0px;top:1421.4px;letter-spacing:0.366px;"><span class="m"><span class="nrm">||</span><span class="nab">Δ</span><i>L</i>(<i>B</i><sub><i>t</i></sub>; <b>w</b><sub><i>t</i></sub>)<span class="nrm">||</span><sup>2</sup> = </span>trace of <span class="m">diag ([<span class="nab">Δ</span><i>L</i>(<i>B</i><sub><i>t</i></sub>; <b>w</b><sub><i>t</i></sub>)]<sup>2</sup>)</span> (a Hessian approximation).</div>
<div id="L40" class="l" style="left:118.0px;top:1466.4px;letter-spacing:-0.450px;font-weight:bold;letter-spacing:0">–</div>
<div id="L41" class="l" style="left:143.0px;top:1466.4px;letter-spacing:0.274px;"><span class="m"><span class="nrm">||</span><span class="nab">Δ</span><i>L</i>(<i>B</i><sub><i>t</i></sub>; <b>w</b><sub><i>t</i></sub>)<span class="nrm">||</span><sup>2</sup></span> is related to gradient variance</div>
<div id="L42" class="l" style="left:217.4px;top:1519.4px;letter-spacing:1.566px;">Var<span class="m">(<span class="nab">Δ</span><i>L</i>(<i>B</i><sub><i>t</i></sub>; <b>w</b><sub><i>t</i></sub>)) = <span style="font-weight:bold;letter-spacing:-1px">E</span><sub><i>B</i><sub><i>t</i></sub></sub><span class="nrm">||</span><span class="nab">Δ</span><i>L</i>(<i>B</i><sub><i>t</i></sub>; <b>w</b><sub><i>t</i></sub>)<span class="nrm">||</span><sup>2</sup> −</span></div>
<div id="L43" class="l" style="left:748.0px;top:1519.4px;letter-spacing:2.085px;"><span class="m"><span class="nrm">||</span><span class="nab">Δ</span><i>L</i>(<i>D</i>; <b>w</b><sub><i>t</i></sub>)<span class="nrm">||</span><sup>2</sup></span></div>
<svg style="left:748px;top:1530px" width="164" height="18" viewBox="0 0 164 18"><path d="M1 2 Q1 9 8 9 L74 9 Q81 9 82 16 Q83 9 90 9 L156 9 Q163 9 163 2" fill="none" stroke="#1c1f26" stroke-width="2"/></svg>
<div id="L44" class="l" style="left:684.0px;top:1556.7px;font-size:22px;letter-spacing:0.031px;"><span class="m">≈0</span> when algorithm converges</div>
<div id="L45" class="l" style="left:143.0px;top:1602.0px;letter-spacing:-0.405px;">which is <b>positively correlated</b> with the generalization gap [5].</div>
<div id="L46" class="l" style="left:77.5px;top:1653.8px;font-size:24.5px;letter-spacing:-0.450px;letter-spacing:0">•</div>
<div id="L47" class="l" style="left:96.0px;top:1653.9px;letter-spacing:-0.466px;">Figure below shows SAM has a <b>much smaller stochastic gradient norms</b>.</div>
<div id="L48" class="l" style="left:227.0px;top:1944.8px;font-size:23px;letter-spacing:-0.379px;"><b>(a):</b> <i>ResNet-18</i></div>
<div id="L49" class="l" style="left:492.0px;top:1940.8px;font-size:23px;letter-spacing:-0.536px;"><b>(b):</b> <i>WRN-28-10</i>.</div>
<div id="L50" class="l" style="left:745.0px;top:1944.8px;font-size:23px;letter-spacing:-0.403px;"><b>(c):</b> <i>PyramidNet-110</i>.</div>
<div id="L51" class="l" style="left:169.5px;top:1975.8px;font-size:23px;letter-spacing:-0.240px;"><b>Figure 1:</b> Squared stochastic gradient norms <span class="m"><span style="font-weight:bold;letter-spacing:-1px">E</span><sub><i>B</i></sub><span class="nrm">||</span><span class="nab">Δ</span><i>L</i>(<i>B</i>; <b>w</b><sub><i>t</i></sub>)<span class="nrm">||</span><sup>2</sup></span> on <i>CIFAR-100</i>.</div>
<div id="L52" class="l" style="left:77.5px;top:2040.3px;font-size:24.5px;letter-spacing:-0.450px;letter-spacing:0">•</div>
<div id="L53" class="l" style="left:96.0px;top:2040.4px;letter-spacing:0.243px;">Computing <span class="m"><span style="font-weight:bold;letter-spacing:-1px">E</span><sub><i>B</i><sub><i>t</i></sub></sub><span class="nrm">||</span><span class="nab">Δ</span><i>L</i>(<i>B</i><sub><i>t</i></sub>; <b>w</b><sub><i>t</i></sub>)<span class="nrm">||</span><sup>2</sup></span> for each iteration is <b>expensive</b>.</div>
<div id="L54" class="l" style="left:77.5px;top:2094.3px;font-size:24.5px;letter-spacing:-0.450px;letter-spacing:0">•</div>
<div id="L55" class="l" style="left:96.0px;top:2094.4px;letter-spacing:0.272px;"><span class="m"><span class="nrm">||</span><i>L</i>(<i>B</i><sub><i>t</i></sub>; <b>w</b><sub><i>t</i></sub>)<span class="nrm">||</span><sup>2</sup></span> can be modeled as <b>a normal distribution</b> <span class="m"><i>N</i>(<i>μ</i><sub><i>t</i></sub>, <i>σ</i><sub style="margin-right:-0.3em"><i>t</i></sub><sup>2</sup>)</span></div>
<div id="L56" class="l" style="left:363.0px;top:2375.8px;font-size:23px;letter-spacing:-0.246px;"><b>(a):</b> Distributions</div>
<div id="L57" class="l" style="left:673.0px;top:2377.8px;font-size:23px;letter-spacing:-0.483px;"><b>(b):</b> Q-Q plots.</div>
<div id="L58" class="l" style="left:108.0px;top:2409.8px;font-size:23px;letter-spacing:-0.168px;"><b>Figure 2:</b> Stochastic gradient norms <span class="m">{<span class="nrm">||</span><i>L</i>(<i>B</i><sub><i>t</i></sub>; <b>w</b><sub><i>t</i></sub>)<span class="nrm">||</span><sup>2</sup> : <i>B</i><sub><i>t</i></sub> ~ <i>D</i>}</span> of <i>ResNet-18</i> on <i>CIFAR-100</i>.</div>
<div id="L59" class="l" style="left:77.5px;top:2466.3px;font-size:24.5px;letter-spacing:-0.450px;letter-spacing:0">•</div>
<div id="L60" class="l" style="left:96.0px;top:2466.4px;letter-spacing:-0.196px;">Use exponential moving average (EMA) to estimate <span class="m"><i>μ</i><sub><i>t</i></sub></span> and <span class="m"><i>σ</i><sub style="margin-right:-0.3em"><i>t</i></sub><sup>2</sup></span> (<span class="m"><i>δ</i> = 0.9</span>):</div>
<div id="L61" class="l" style="left:129.0px;top:2521.7px;letter-spacing:1.461px;"><span class="m"><i>μ</i><sub><i>t</i></sub> = <i>δμ</i><sub><i>t</i>−1</sub> + (1 − <i>δ</i>)<span class="nrm">||</span><i>L</i>(<i>B</i><sub><i>t</i></sub>; <b>w</b><sub><i>t</i></sub>)<span class="nrm">||</span><sup>2</sup>,  <i>σ</i><sub style="margin-right:-0.3em"><i>t</i></sub><sup>2</sup> = <i>δσ</i><sup style="margin-right:-0.5em">2</sup><sub><i>t</i>−1</sub> + (1 − <i>δ</i>)(<span class="nrm">||</span><i>L</i>(<i>B</i><sub><i>t</i></sub>; <b>w</b><sub><i>t</i></sub>)<span class="nrm">||</span><sup>2</sup> − <i>μ</i><sub><i>t</i></sub>)<sup>2</sup>.</span></div>
<div id="L62" class="l" style="left:1158.5px;top:462.3px;font-size:24.5px;letter-spacing:-0.450px;letter-spacing:0">•</div>
<div id="L63" class="l" style="left:1176.6px;top:462.4px;letter-spacing:-0.307px;"><b>An adaptive policy</b>: Employ SAM only at <span class="m"><b>w</b><sub><i>t</i></sub></span> where loss landscape is locally sharp:</div>
<div id="L64" class="l" style="left:1197.0px;top:514.7px;letter-spacing:-0.450px;font-weight:bold;letter-spacing:0">–</div>
<div id="L65" class="l" style="left:1223.0px;top:514.7px;letter-spacing:0.811px;">when <span class="m"><span class="nrm">||</span><i>L</i>(<i>B</i><sub><i>t</i></sub>; <b>w</b><sub><i>t</i></sub>)<span class="nrm">||</span><sup>2</sup> ≥ <i>μ</i><sub><i>t</i></sub> + <i>c</i><sub><i>t</i></sub><i>σ</i><sub><i>t</i></sub></span>, SAM is used;</div>
<div id="L66" class="l" style="left:1197.0px;top:556.1px;letter-spacing:-0.450px;font-weight:bold;letter-spacing:0">–</div>
<div id="L67" class="l" style="left:1223.0px;top:556.1px;letter-spacing:-0.461px;">otherwise, ERM is used.</div>
<div id="L68" class="l" style="left:1158.5px;top:608.8px;font-size:24.5px;letter-spacing:-0.450px;letter-spacing:0">•</div>
<div id="L69" class="l" style="left:1176.6px;top:608.9px;letter-spacing:0.011px;">Note that when <span class="m"><i>c</i><sub><i>t</i></sub> → −∞</span>, it reduces to SAM; when <span class="m"><i>c</i><sub><i>t</i></sub> → ∞</span>, it reduces to ERM.</div>
<div id="L70" class="l" style="left:1158.5px;top:659.0px;font-size:24.5px;letter-spacing:-0.450px;letter-spacing:0">•</div>
<div id="L71" class="l j" style="left:1176.6px;top:659.1px;width:1070.9px;letter-spacing:-0.450px;">SAM update is more effective towards the end of training [6], thus, we design a schedule</div>
<div id="L72" class="l" style="left:1176.6px;top:693.2px;letter-spacing:0.795px;"><span class="m"><i>c</i><sub><i>t</i></sub> ≡ <i>g</i><sub><i>λ</i><sub>1</sub>,<i>λ</i><sub>2</sub></sub>(<i>t</i>) = <span class="fr" style="width:14px;font-size:19px">&#8203;<span class="n" style="top:-0.95em"><i>t</i></span><span class="bar" style="top:-0.55em"></span><span class="d" style="top:0.35em"><i>T</i></span></span><i>λ</i><sub>1</sub> + (1 − <span class="fr" style="width:14px;font-size:19px">&#8203;<span class="n" style="top:-0.95em"><i>t</i></span><span class="bar" style="top:-0.55em"></span><span class="d" style="top:0.35em"><i>T</i></span></span>)<i>λ</i><sub>2</sub></span> (decrease <span class="m"><i>c</i><sub><i>t</i></sub></span> from <span class="m"><i>λ</i><sub>2</sub></span> to <span class="m"><i>λ</i><sub>1</sub></span> linearly).</div>
<div id="L73" class="l" style="left:1158.5px;top:742.3px;font-size:24.5px;letter-spacing:-0.450px;letter-spacing:0">•</div>
<div id="L74" class="l" style="left:1176.6px;top:742.4px;letter-spacing:-0.454px;"><b>The policy can be combined with any SAM variant, e.g., AE-LookSAM for LookSAM</b>.</div>
<div class="rule" style="left:1232.4px;top:910px;width:915.2999999999997px;height:2px;background:#111"></div>
<div class="rule" style="left:1232.4px;top:948px;width:915.2999999999997px;height:1px;background:#111"></div>
<div class="rule" style="left:1232.4px;top:1454px;width:915.2999999999997px;height:1px;background:#111"></div>
<div id="L75" class="l" style="left:1232.4px;top:928.7px;font-size:25px;letter-spacing:0.942px;color:#111"><b>Algorithm 1</b> <span class="red">AE-SAM</span> and <span class="blue">AE-LookSAM</span>.</div>
<div id="L76" class="l" style="left:1232.4px;top:970.6px;font-size:25px;letter-spacing:1.275px;color:#111"><b>Require:</b> <span class="m"><i>D</i></span>, stepsize <span class="m"><i>η</i></span>, radius <span class="m"><i>ρ</i></span>; <span class="m"><i>λ</i><sub>1</sub></span> and <span class="m"><i>λ</i><sub>2</sub></span> for <span class="m"><i>g</i><sub><i>λ</i><sub>1</sub>,<i>λ</i><sub>2</sub></sub>(<i>t</i>)</span>; <span class="m"><i>α</i></span> for AE-LookSAM;</div>
<div id="L77" class="l" style="left:1259.3px;top:1005.1px;font-size:25px;letter-spacing:1.032px;color:#111"><b>for</b> <span class="m"><i>t</i> = 0, . . . , <i>T</i> − 1</span> <b>do</b></div>
<div id="L78" class="l" style="left:1300.7px;top:1039.9px;font-size:25px;letter-spacing:0.917px;color:#111">sample a mini-batch data <span class="m"><i>B</i><sub><i>t</i></sub></span> from <span class="m"><i>D</i></span>;</div>
<div id="L79" class="l" style="left:1300.7px;top:1074.1px;font-size:25px;letter-spacing:1.516px;color:#111">compute <b>g</b><span class="m"> = <span class="nab">Δ</span><i>L</i>(<i>B</i><sub><i>t</i></sub>; </span><b>w</b><span class="m"><sub><i>t</i></sub>)</span>, update <span class="m"><i>μ</i><sub><i>t</i></sub></span> and <span class="m"><i>σ</i><sub style="margin-right:-0.3em"><i>t</i></sub><sup>2</sup></span> by EMA;</div>
<div id="L80" class="l" style="left:1300.7px;top:1107.7px;font-size:25px;letter-spacing:1.991px;color:#111">compute <span class="m"><i>c</i><sub><i>t</i></sub> = <i>g</i><sub><i>λ</i><sub>1</sub>,<i>λ</i><sub>2</sub></sub>(<i>t</i>)</span>;</div>
<div id="L81" class="l" style="left:1300.7px;top:1141.3px;font-size:25px;letter-spacing:2.827px;color:#111"><b>if</b> <span class="m"><span class="nrm">||</span><span class="nab">Δ</span><i>L</i>(<i>B</i><sub><i>t</i></sub>; </span><b>w</b><span class="m"><sub><i>t</i></sub>)<span class="nrm">||</span><sup>2</sup> ≥ <i>μ</i><sub><i>t</i></sub> + <i>c</i><sub><i>t</i></sub><i>σ</i><sub><i>t</i></sub></span> <b>then</b></div>
<div id="L82" class="l" style="left:1342.0px;top:1176.1px;font-size:25px;letter-spacing:2.376px;color:#111"><b>g</b><span class="m"><sub><i>s</i></sub> = <span class="nab">Δ</span><i>L</i>(<i>B</i><sub><i>t</i></sub>; </span><b>w</b><span class="m"><sub><i>t</i></sub> + <i>ρ</i><span class="nab">Δ</span><i>L</i>(<i>B</i><sub><i>t</i></sub>; </span><b>w</b><span class="m"><sub><i>t</i></sub>));</span></div>
<div id="L83" class="l" style="left:1342.0px;top:1214.8px;font-size:25px;letter-spacing:1.104px;color:#111"><span class="blue">if AE-LookSAM: decompose <b>g</b><sub><i>s</i></sub> as <b>g</b><sub><i>v</i></sub><span class="m"> = </span><b>g</b><sub><i>s</i></sub><span class="m"> − </span><b><span class="fr" style="width:44px;font-size:17px">&#8203;<span class="n" style="top:-1.05em">g<sup>T</sup>g<sub>s</sub></span><span class="bar" style="top:-0.6em"></span><span class="d" style="top:0.35em"><span class="nrm">||</span>g<span class="nrm">||</span><sup>2</sup></span></span></b><b>g</b>;</span></div>
<div id="L84" class="l" style="left:1300.7px;top:1250.6px;font-size:25px;letter-spacing:-0.562px;color:#111"><b>else</b>:</div>
<div id="L85" class="l" style="left:1342.0px;top:1286.8px;font-size:25px;letter-spacing:1.371px;color:#111"><span class="red">if AE-SAM: <b>g</b><sub><i>s</i></sub><span class="m"> = </span><b>g</b>;</span></div>
<div id="L86" class="l" style="left:1342.0px;top:1318.9px;font-size:25px;letter-spacing:1.694px;color:#111"><span class="blue">if AE-LookSAM: <b>g</b><sub><i>s</i></sub><span class="m"> = </span><b>g</b><span class="m"> + <i>α</i></span><span class="fr" style="width:42px;font-size:17px">&#8203;<span class="n" style="top:-1.05em"><b><span class="nrm">||</span>g<span class="nrm">||</span></b></span><span class="bar" style="top:-0.6em"></span><span class="d" style="top:0.35em"><b><span class="nrm">||</span>g<sub>v</sub><span class="nrm">||</span></b></span></span><b>g</b><sub><i>v</i></sub>;</span></div>
<div id="L87" class="l" style="left:1300.7px;top:1352.5px;font-size:25px;letter-spacing:0.538px;color:#111"><b>end if</b></div>
<div id="L88" class="l" style="left:1300.7px;top:1373.1px;font-size:25px;letter-spacing:2.337px;color:#111"><b>w</b><span class="m"><sub><i>t</i>+1</sub> = </span><b>w</b><span class="m"><sub><i>t</i></sub> − <i>η</i></span><b>g</b><sub><i>s</i></sub>;</div>
<div id="L89" class="l" style="left:1259.3px;top:1406.8px;font-size:25px;letter-spacing:0.311px;color:#111"><b>end for</b></div>
<div id="L90" class="l" style="left:1259.3px;top:1431.6px;font-size:25px;letter-spacing:1.357px;color:#111"><b>return</b> <b>w</b><span class="m"><sub><i>T</i></sub></span>.</div>
<div id="L91" class="l" style="left:1127.0px;top:1491.4px;letter-spacing:-0.373px;">Let <span class="m"><i>A</i></span> be an algorithm whose update in each iteration can be either SAM or ERM.</div>
<div id="L92" class="l" style="left:1127.0px;top:1525.1px;letter-spacing:-0.369px;"><b>Theorem.</b> Under smoothness and bounded variance assumptions, <span class="m"><i>A</i></span> satisfies</div>
<div id="L93" class="l" style="left:1267.0px;top:1595.3px;letter-spacing:0.000px;"><span class="m">min</span></div>
<div id="L94" class="l" style="left:1238.6px;top:1614.1px;font-size:20px;letter-spacing:3.565px;"><span class="m">0≤<i>t</i>≤<i>T</i>−1</span></div>
<div id="L95" class="l" style="left:1342.0px;top:1598.7px;letter-spacing:2.320px;"><span class="m">E<span class="nrm">||</span><span class="nab">Δ</span><i>L</i>(<i>D</i>; <b>w</b><sub><i>t</i></sub>)<span class="nrm">||</span><sup>2</sup> ≤</span></div>
<div class="rule" style="left:1563.6px;top:1595px;width:333.70000000000005px;height:2px;background:#1c1f26"></div>
<div id="L96" class="l c" style="left:1563.6px;top:1578.7px;width:333.7px;letter-spacing:0.000px;"><span class="m">32<i>β</i> (<i>L</i>(<i>D</i>; <b>w</b><sub>0</sub>) − E<i>L</i>(<i>D</i>; <b>w</b><sub><i>T</i></sub>))</span></div>
<div id="L97" class="l c" style="left:1563.6px;top:1618.7px;width:333.7px;letter-spacing:0.000px;"><span class="m">√<span style="text-decoration:overline"><i>T</i></span> (7 − 6<i>ζ</i>)</span></div>
<div id="L98" class="l" style="left:1904.0px;top:1597.7px;letter-spacing:0.000px;"><span class="m">+</span></div>
<div class="rule" style="left:1933px;top:1595px;width:191.4000000000001px;height:2px;background:#1c1f26"></div>
<div id="L99" class="l c" style="left:1933.0px;top:1578.7px;width:191.4px;letter-spacing:0.000px;"><span class="m">(1 + <i>ζ</i> + 5<i>β</i><sup>2</sup><i>ζ</i>)<i>σ</i><sup>2</sup></span></div>
<div id="L100" class="l c" style="left:1933.0px;top:1618.7px;width:191.4px;letter-spacing:0.000px;"><span class="m"><i>b</i>√<span style="text-decoration:overline"><i>T</i></span> (7 − 6<i>ζ</i>)</span></div>
<div id="L101" class="l" style="left:2128.0px;top:1597.7px;letter-spacing:0.000px;"><span class="m">,</span></div>
<div id="L102" class="l" style="left:1127.0px;top:1670.0px;letter-spacing:0.144px;">where <span class="m"><i>ζ</i> = <span class="fr" style="width:14px;font-size:19px">&#8203;<span class="n" style="top:-0.95em">1</span><span class="bar" style="top:-0.55em"></span><span class="d" style="top:0.35em"><i>T</i></span></span> ∑<sub style="margin-right:-1.3em;top:0.4em"><i>t</i>=0</sub><sup style="top:-0.55em"><i>T</i>−1</sup> <i>ξ</i><sub><i>t</i></sub> є [0, 1]</span> is the fraction of SAM updates.</div>
<div id="L103" class="l" style="left:1127.0px;top:1703.4px;letter-spacing:-0.254px;"><b>Remarks</b>: (i) A larger <span class="m"><i>ζ</i></span> leads to a larger upper bound; (ii) <span class="m"><i>ζ</i> = 1</span> recovers SAM.</div>
<div id="L104" class="l" style="left:1374.7px;top:1886.8px;font-size:23px;letter-spacing:-0.563px;"><b>Table 1</b>: Testing accuracy and fraction of SAM updates (%SAM).</div>
<div class="rule" style="left:1238.6px;top:1906px;width:895.0999999999999px;height:2px;background:#1c1f26"></div>
<div class="rule" style="left:1238.6px;top:1984px;width:895.0999999999999px;height:1px;background:#1c1f26"></div>
<div class="rule" style="left:1238.6px;top:2028px;width:895.0999999999999px;height:1px;background:#1c1f26"></div>
<div class="rule" style="left:1238.6px;top:2106px;width:895.0999999999999px;height:1px;background:#1c1f26"></div>
<div class="rule" style="left:1238.6px;top:2184px;width:895.0999999999999px;height:1px;background:#1c1f26"></div>
<div class="rule" style="left:1238.6px;top:2261px;width:895.0999999999999px;height:2px;background:#1c1f26"></div>
<div id="L105" class="l c" style="left:1386.0px;top:1929.4px;width:300.0px;letter-spacing:-0.600px;"><i>CIFAR-10</i></div>
<div id="L106" class="l c" style="left:1637.0px;top:1929.4px;width:300.0px;letter-spacing:-0.600px;"><i>CIFAR-100</i></div>
<div id="L107" class="l c" style="left:1872.5px;top:1929.4px;width:300.0px;letter-spacing:-0.600px;"><i>ImageNet</i></div>
<div id="L108" class="l c" style="left:1321.0px;top:1963.0px;width:300.0px;letter-spacing:-0.600px;">Accuracy</div>
<div id="L109" class="l c" style="left:1435.0px;top:1963.0px;width:300.0px;letter-spacing:-0.600px;">%SAM</div>
<div id="L110" class="l c" style="left:1568.0px;top:1963.0px;width:300.0px;letter-spacing:-0.600px;">Accuracy</div>
<div id="L111" class="l c" style="left:1682.6px;top:1963.0px;width:300.0px;letter-spacing:-0.600px;">%SAM</div>
<div id="L112" class="l c" style="left:1816.0px;top:1963.0px;width:300.0px;letter-spacing:-0.600px;">Accuracy</div>
<div id="L113" class="l c" style="left:1929.4px;top:1963.0px;width:300.0px;letter-spacing:-0.600px;">%SAM</div>
<div id="L114" class="l c" style="left:1174.0px;top:2007.0px;width:300.0px;letter-spacing:-0.600px;">ERM</div>
<div id="L115" class="l c" style="left:1321.0px;top:2007.8px;font-size:25.5px;width:300.0px;letter-spacing:0.000px;"><span class="m"><span style="">95.41</span> <span style="font-size:16.5px">±0.03</span></span></div>
<div id="L116" class="l c" style="left:1435.0px;top:2007.8px;font-size:25.5px;width:300.0px;letter-spacing:0.000px;"><span class="m"><span style="">0.0</span> <span style="font-size:16.5px">±0.0</span></span></div>
<div id="L117" class="l c" style="left:1568.0px;top:2007.8px;font-size:25.5px;width:300.0px;letter-spacing:0.000px;"><span class="m"><span style="">78.17</span> <span style="font-size:16.5px">±0.05</span></span></div>
<div id="L118" class="l c" style="left:1682.6px;top:2007.8px;font-size:25.5px;width:300.0px;letter-spacing:0.000px;"><span class="m"><span style="">0.0</span> <span style="font-size:16.5px">±0.0</span></span></div>
<div id="L119" class="l c" style="left:1816.0px;top:2007.8px;font-size:25.5px;width:300.0px;letter-spacing:0.000px;"><span class="m"><span style="">77.11</span> <span style="font-size:16.5px">±0.14</span></span></div>
<div id="L120" class="l c" style="left:1929.4px;top:2007.8px;font-size:25.5px;width:300.0px;letter-spacing:0.000px;"><span class="m"><span style="">0.0</span> <span style="font-size:16.5px">±0.0</span></span></div>
<div id="L121" class="l c" style="left:1174.0px;top:2051.0px;width:300.0px;letter-spacing:-0.600px;">SAM</div>
<div id="L122" class="l c" style="left:1321.0px;top:2051.8px;font-size:25.5px;width:300.0px;letter-spacing:0.000px;"><span class="m"><span style="">96.52</span> <span style="font-size:16.5px">±0.12</span></span></div>
<div id="L123" class="l c" style="left:1435.0px;top:2051.8px;font-size:25.5px;width:300.0px;letter-spacing:0.000px;"><span class="m"><span style="">100.0</span> <span style="font-size:16.5px">±0.0</span></span></div>
<div id="L124" class="l c" style="left:1568.0px;top:2051.8px;font-size:25.5px;width:300.0px;letter-spacing:0.000px;"><span class="m"><span style="">80.17</span> <span style="font-size:16.5px">±0.15</span></span></div>
<div id="L125" class="l c" style="left:1682.6px;top:2051.8px;font-size:25.5px;width:300.0px;letter-spacing:0.000px;"><span class="m"><span style="">100.0</span> <span style="font-size:16.5px">±0.0</span></span></div>
<div id="L126" class="l c" style="left:1816.0px;top:2051.8px;font-size:25.5px;width:300.0px;letter-spacing:0.000px;"><span class="m"><span style="font-weight:bold;">77.47</span> <span style="font-size:16.5px">±0.12</span></span></div>
<div id="L127" class="l c" style="left:1929.4px;top:2051.8px;font-size:25.5px;width:300.0px;letter-spacing:0.000px;"><span class="m"><span style="">100.0</span> <span style="font-size:16.5px">±0.0</span></span></div>
<div id="L128" class="l c" style="left:1174.0px;top:2084.4px;width:300.0px;letter-spacing:-0.600px;">ESAM</div>
<div id="L129" class="l c" style="left:1321.0px;top:2085.2px;font-size:25.5px;width:300.0px;letter-spacing:0.000px;"><span class="m"><span style="">96.56</span> <span style="font-size:16.5px">±0.08</span></span></div>
<div id="L130" class="l c" style="left:1435.0px;top:2085.2px;font-size:25.5px;width:300.0px;letter-spacing:0.000px;"><span class="m"><span style="">100.0</span> <span style="font-size:16.5px">±0.0</span></span></div>
<div id="L131" class="l c" style="left:1568.0px;top:2085.2px;font-size:25.5px;width:300.0px;letter-spacing:0.000px;"><span class="m"><span style="">80.41</span> <span style="font-size:16.5px">±0.10</span></span></div>
<div id="L132" class="l c" style="left:1682.6px;top:2085.2px;font-size:25.5px;width:300.0px;letter-spacing:0.000px;"><span class="m"><span style="">100.0</span> <span style="font-size:16.5px">±0.0</span></span></div>
<div id="L133" class="l c" style="left:1816.0px;top:2085.2px;font-size:25.5px;width:300.0px;letter-spacing:0.000px;"><span class="m"><span style="">77.25</span> <span style="font-size:16.5px">±0.75</span></span></div>
<div id="L134" class="l c" style="left:1929.4px;top:2085.2px;font-size:25.5px;width:300.0px;letter-spacing:0.000px;"><span class="m"><span style="">100.0</span> <span style="font-size:16.5px">±0.0</span></span></div>
<div id="L135" class="l c" style="left:1174.0px;top:2128.4px;width:300.0px;letter-spacing:-0.600px;">SS-SAM</div>
<div id="L136" class="l c" style="left:1321.0px;top:2129.2px;font-size:25.5px;width:300.0px;letter-spacing:0.000px;"><span class="m"><span style="">96.40</span> <span style="font-size:16.5px">±0.16</span></span></div>
<div id="L137" class="l c" style="left:1435.0px;top:2129.2px;font-size:25.5px;width:300.0px;letter-spacing:0.000px;"><span class="m"><span style="">50.0</span> <span style="font-size:16.5px">±0.0</span></span></div>
<div id="L138" class="l c" style="left:1568.0px;top:2129.2px;font-size:25.5px;width:300.0px;letter-spacing:0.000px;"><span class="m"><span style="">80.10</span> <span style="font-size:16.5px">±0.16</span></span></div>
<div id="L139" class="l c" style="left:1682.6px;top:2129.2px;font-size:25.5px;width:300.0px;letter-spacing:0.000px;"><span class="m"><span style="">50.0</span> <span style="font-size:16.5px">±0.0</span></span></div>
<div id="L140" class="l c" style="left:1816.0px;top:2129.2px;font-size:25.5px;width:300.0px;letter-spacing:0.000px;"><span class="m"><span style="">77.38</span> <span style="font-size:16.5px">±0.06</span></span></div>
<div id="L141" class="l c" style="left:1929.4px;top:2129.2px;font-size:25.5px;width:300.0px;letter-spacing:0.000px;"><span class="m"><span style="">50.0</span> <span style="font-size:16.5px">±0.0</span></span></div>
<div id="L142" class="l c" style="left:1174.0px;top:2161.9px;width:300.0px;letter-spacing:-0.600px;">AE-SAM</div>
<div id="L143" class="l c" style="left:1321.0px;top:2162.7px;font-size:25.5px;width:300.0px;letter-spacing:0.000px;"><span class="m"><span style="color:#d40000;font-weight:bold;text-decoration:underline;text-decoration-thickness:1.5px;text-underline-offset:3px;">96.63</span> <span style="font-size:16.5px">±0.04</span></span></div>
<div id="L144" class="l c" style="left:1435.0px;top:2162.7px;font-size:25.5px;width:300.0px;letter-spacing:0.000px;"><span class="m"><span style="color:#0000ee;">50.1</span> <span style="font-size:16.5px">±0.1</span></span></div>
<div id="L145" class="l c" style="left:1568.0px;top:2162.7px;font-size:25.5px;width:300.0px;letter-spacing:0.000px;"><span class="m"><span style="color:#d40000;font-weight:bold;text-decoration:underline;text-decoration-thickness:1.5px;text-underline-offset:3px;">80.48</span> <span style="font-size:16.5px">±0.11</span></span></div>
<div id="L146" class="l c" style="left:1682.6px;top:2162.7px;font-size:25.5px;width:300.0px;letter-spacing:0.000px;"><span class="m"><span style="color:#0000ee;">49.8</span> <span style="font-size:16.5px">±0.0</span></span></div>
<div id="L147" class="l c" style="left:1816.0px;top:2162.7px;font-size:25.5px;width:300.0px;letter-spacing:0.000px;"><span class="m"><span style="color:#d40000;text-decoration:underline;text-decoration-thickness:1.5px;text-underline-offset:3px;">77.43</span> <span style="font-size:16.5px">±0.06</span></span></div>
<div id="L148" class="l c" style="left:1929.4px;top:2162.7px;font-size:25.5px;width:300.0px;letter-spacing:0.000px;"><span class="m"><span style="color:#0000ee;">49.4</span> <span style="font-size:16.5px">±0.0</span></span></div>
<div id="L149" class="l c" style="left:1174.0px;top:2207.0px;width:300.0px;letter-spacing:-0.600px;">LookSAM</div>
<div id="L150" class="l c" style="left:1321.0px;top:2207.8px;font-size:25.5px;width:300.0px;letter-spacing:0.000px;"><span class="m"><span style="">96.32</span> <span style="font-size:16.5px">±0.12</span></span></div>
<div id="L151" class="l c" style="left:1435.0px;top:2207.8px;font-size:25.5px;width:300.0px;letter-spacing:0.000px;"><span class="m"><span style="">20.0</span> <span style="font-size:16.5px">±0.0</span></span></div>
<div id="L152" class="l c" style="left:1568.0px;top:2207.8px;font-size:25.5px;width:300.0px;letter-spacing:0.000px;"><span class="m"><span style="">79.89</span> <span style="font-size:16.5px">±0.29</span></span></div>
<div id="L153" class="l c" style="left:1682.6px;top:2207.8px;font-size:25.5px;width:300.0px;letter-spacing:0.000px;"><span class="m"><span style="">20.0</span> <span style="font-size:16.5px">±0.0</span></span></div>
<div id="L154" class="l c" style="left:1816.0px;top:2207.8px;font-size:25.5px;width:300.0px;letter-spacing:0.000px;"><span class="m"><span style="">77.13</span> <span style="font-size:16.5px">±0.09</span></span></div>
<div id="L155" class="l c" style="left:1929.4px;top:2207.8px;font-size:25.5px;width:300.0px;letter-spacing:0.000px;"><span class="m"><span style="">20.0</span> <span style="font-size:16.5px">±0.0</span></span></div>
<div id="L156" class="l c" style="left:1174.0px;top:2239.4px;width:300.0px;letter-spacing:-0.600px;">AE-LookSAM</div>
<div id="L157" class="l c" style="left:1321.0px;top:2240.2px;font-size:25.5px;width:300.0px;letter-spacing:0.000px;"><span class="m"><span style="color:#d40000;text-decoration:underline;text-decoration-thickness:1.5px;text-underline-offset:3px;">96.56</span> <span style="font-size:16.5px">±0.21</span></span></div>
<div id="L158" class="l c" style="left:1435.0px;top:2240.2px;font-size:25.5px;width:300.0px;letter-spacing:0.000px;"><span class="m"><span style="">20.0</span> <span style="font-size:16.5px">±0.1</span></span></div>
<div id="L159" class="l c" style="left:1568.0px;top:2240.2px;font-size:25.5px;width:300.0px;letter-spacing:0.000px;"><span class="m"><span style="color:#d40000;text-decoration:underline;text-decoration-thickness:1.5px;text-underline-offset:3px;">80.29</span> <span style="font-size:16.5px">±0.37</span></span></div>
<div id="L160" class="l c" style="left:1682.6px;top:2240.2px;font-size:25.5px;width:300.0px;letter-spacing:0.000px;"><span class="m"><span style="">20.0</span> <span style="font-size:16.5px">±0.0</span></span></div>
<div id="L161" class="l c" style="left:1816.0px;top:2240.2px;font-size:25.5px;width:300.0px;letter-spacing:0.000px;"><span class="m"><span style="color:#d40000;text-decoration:underline;text-decoration-thickness:1.5px;text-underline-offset:3px;">77.29</span> <span style="font-size:16.5px">±0.08</span></span></div>
<div id="L162" class="l c" style="left:1929.4px;top:2240.2px;font-size:25.5px;width:300.0px;letter-spacing:0.000px;"><span class="m"><span style="">20.3</span> <span style="font-size:16.5px">±0.0</span></span></div>
<div id="L163" class="l" style="left:1158.5px;top:2298.9px;font-size:24.5px;letter-spacing:-0.450px;letter-spacing:0">•</div>
<div id="L164" class="l j" style="left:1176.6px;top:2299.0px;width:1070.9px;letter-spacing:-0.450px;">Using <b class="blue">only 50% of SAM updates</b>, AE-SAM performs better than SAM on <i>CIFAR-10</i> and</div>
<div id="L165" class="l" style="left:1176.6px;top:2331.4px;letter-spacing:-0.517px;"><i>CIFAR-100</i>.</div>
<div id="L166" class="l" style="left:1158.5px;top:2383.3px;font-size:24.5px;letter-spacing:-0.450px;letter-spacing:0">•</div>
<div id="L167" class="l" style="left:1176.6px;top:2383.4px;letter-spacing:-0.395px;">The proposed adaptive policy is <b class="red">more effective</b> than the random or periodic policy:</div>
<div id="L168" class="l" style="left:1197.0px;top:2436.2px;letter-spacing:-0.450px;font-weight:bold;letter-spacing:0">–</div>
<div id="L169" class="l" style="left:1223.0px;top:2436.2px;letter-spacing:-0.418px;">AE-SAM performs better than SS-SAM (with about 50% SAM);</div>
<div id="L170" class="l" style="left:1197.0px;top:2477.4px;letter-spacing:-0.450px;font-weight:bold;letter-spacing:0">–</div>
<div id="L171" class="l" style="left:1223.0px;top:2477.4px;letter-spacing:-0.434px;">AE-LookSAM is better than LookSAM (with about 20% SAM).</div>
<div id="L172" class="l" style="left:1158.5px;top:2529.3px;font-size:24.5px;letter-spacing:-0.450px;letter-spacing:0">•</div>
<div id="L173" class="l" style="left:1176.6px;top:2529.4px;letter-spacing:-0.420px;">Like SAM, AE-SAM has much smaller stochastic gradient norm and variance than ERM.</div>
<div id="L174" class="l" style="left:2369.5px;top:500.8px;font-size:23px;letter-spacing:-0.525px;"><b>Table 2</b>: Testing accuracy and fraction of SAM updates on <i>CIFAR-10</i> with different</div>
<div id="L175" class="l" style="left:2690.0px;top:526.8px;font-size:23px;letter-spacing:-0.597px;">levels of label noise.</div>
<div class="rule" style="left:2378px;top:542px;width:820px;height:2px;background:#1c1f26"></div>
<div class="rule" style="left:2378px;top:606px;width:820px;height:1px;background:#1c1f26"></div>
<div class="rule" style="left:2378px;top:642px;width:820px;height:1px;background:#1c1f26"></div>
<div class="rule" style="left:2378px;top:705px;width:820px;height:1px;background:#1c1f26"></div>
<div class="rule" style="left:2378px;top:821px;width:820px;height:2px;background:#1c1f26"></div>
<div id="L176" class="l c" style="left:2480.0px;top:561.6px;font-size:23px;width:240.0px;letter-spacing:-0.200px;transform:scaleX(0.935);">noise <span class="m" style="margin-left:8px">= 20%</span></div>
<div id="L177" class="l c" style="left:2650.8px;top:561.6px;font-size:23px;width:240.0px;letter-spacing:-0.200px;transform:scaleX(0.935);">noise <span class="m" style="margin-left:8px">= 40%</span></div>
<div id="L178" class="l c" style="left:2821.3px;top:561.6px;font-size:23px;width:240.0px;letter-spacing:-0.200px;transform:scaleX(0.935);">noise <span class="m" style="margin-left:8px">= 60%</span></div>
<div id="L179" class="l c" style="left:2992.0px;top:561.6px;font-size:23px;width:240.0px;letter-spacing:-0.200px;transform:scaleX(0.935);">noise <span class="m" style="margin-left:8px">= 80%</span></div>
<div id="L180" class="l c" style="left:2442.0px;top:588.3px;font-size:23px;width:240.0px;letter-spacing:-0.300px;transform:scaleX(0.935);">accuracy</div>
<div id="L181" class="l c" style="left:2528.0px;top:588.3px;font-size:23px;width:240.0px;letter-spacing:-0.300px;transform:scaleX(0.935);">%SAM</div>
<div id="L182" class="l c" style="left:2613.0px;top:588.3px;font-size:23px;width:240.0px;letter-spacing:-0.300px;transform:scaleX(0.935);">accuracy</div>
<div id="L183" class="l c" style="left:2698.5px;top:588.3px;font-size:23px;width:240.0px;letter-spacing:-0.300px;transform:scaleX(0.935);">%SAM</div>
<div id="L184" class="l c" style="left:2783.7px;top:588.3px;font-size:23px;width:240.0px;letter-spacing:-0.300px;transform:scaleX(0.935);">accuracy</div>
<div id="L185" class="l c" style="left:2869.0px;top:588.3px;font-size:23px;width:240.0px;letter-spacing:-0.300px;transform:scaleX(0.935);">%SAM</div>
<div id="L186" class="l c" style="left:2954.6px;top:588.3px;font-size:23px;width:240.0px;letter-spacing:-0.300px;transform:scaleX(0.935);">accuracy</div>
<div id="L187" class="l c" style="left:3039.4px;top:588.3px;font-size:23px;width:240.0px;letter-spacing:-0.300px;transform:scaleX(0.935);">%SAM</div>
<div id="L188" class="l c" style="left:2325.7px;top:623.6px;font-size:23px;width:240.0px;letter-spacing:-0.300px;transform:scaleX(0.935);">ERM</div>
<div id="L189" class="l c" style="left:2442.0px;top:624.5px;font-size:21px;width:240.0px;letter-spacing:0.000px;transform:scaleX(0.93);"><span class="m" style="">87.92</span></div>
<div id="L190" class="l c" style="left:2528.0px;top:624.5px;font-size:21px;width:240.0px;letter-spacing:0.000px;transform:scaleX(0.93);"><span class="m" style="">0.0</span></div>
<div id="L191" class="l c" style="left:2613.0px;top:624.5px;font-size:21px;width:240.0px;letter-spacing:0.000px;transform:scaleX(0.93);"><span class="m" style="">70.82</span></div>
<div id="L192" class="l c" style="left:2698.5px;top:624.5px;font-size:21px;width:240.0px;letter-spacing:0.000px;transform:scaleX(0.93);"><span class="m" style="">0.0</span></div>
<div id="L193" class="l c" style="left:2783.7px;top:624.5px;font-size:21px;width:240.0px;letter-spacing:0.000px;transform:scaleX(0.93);"><span class="m" style="">49.61</span></div>
<div id="L194" class="l c" style="left:2869.0px;top:624.5px;font-size:21px;width:240.0px;letter-spacing:0.000px;transform:scaleX(0.93);"><span class="m" style="">0.0</span></div>
<div id="L195" class="l c" style="left:2954.6px;top:624.5px;font-size:21px;width:240.0px;letter-spacing:0.000px;transform:scaleX(0.93);"><span class="m" style="">28.23</span></div>
<div id="L196" class="l c" style="left:3039.4px;top:624.5px;font-size:21px;width:240.0px;letter-spacing:0.000px;transform:scaleX(0.93);"><span class="m" style="">0.0</span></div>
<div id="L197" class="l c" style="left:2325.7px;top:659.3px;font-size:23px;width:240.0px;letter-spacing:-0.300px;transform:scaleX(0.935);">SAM</div>
<div id="L198" class="l c" style="left:2442.0px;top:660.2px;font-size:21px;width:240.0px;letter-spacing:0.000px;transform:scaleX(0.93);"><span class="m" style="font-weight:bold;">94.80</span></div>
<div id="L199" class="l c" style="left:2528.0px;top:660.2px;font-size:21px;width:240.0px;letter-spacing:0.000px;transform:scaleX(0.93);"><span class="m" style="">100.0</span></div>
<div id="L200" class="l c" style="left:2613.0px;top:660.2px;font-size:21px;width:240.0px;letter-spacing:0.000px;transform:scaleX(0.93);"><span class="m" style="text-decoration:underline;text-decoration-thickness:1.2px;text-underline-offset:3px;">91.50</span></div>
<div id="L201" class="l c" style="left:2698.5px;top:660.2px;font-size:21px;width:240.0px;letter-spacing:0.000px;transform:scaleX(0.93);"><span class="m" style="">100.0</span></div>
<div id="L202" class="l c" style="left:2783.7px;top:660.2px;font-size:21px;width:240.0px;letter-spacing:0.000px;transform:scaleX(0.93);"><span class="m" style="font-weight:bold;">88.15</span></div>
<div id="L203" class="l c" style="left:2869.0px;top:660.2px;font-size:21px;width:240.0px;letter-spacing:0.000px;transform:scaleX(0.93);"><span class="m" style="">100.0</span></div>
<div id="L204" class="l c" style="left:2954.6px;top:660.2px;font-size:21px;width:240.0px;letter-spacing:0.000px;transform:scaleX(0.93);"><span class="m" style="font-weight:bold;">77.40</span></div>
<div id="L205" class="l c" style="left:3039.4px;top:660.2px;font-size:21px;width:240.0px;letter-spacing:0.000px;transform:scaleX(0.93);"><span class="m" style="">100.0</span></div>
<div id="L206" class="l c" style="left:2325.7px;top:686.4px;font-size:23px;width:240.0px;letter-spacing:-0.300px;transform:scaleX(0.935);">ESAM</div>
<div id="L207" class="l c" style="left:2442.0px;top:687.3px;font-size:21px;width:240.0px;letter-spacing:0.000px;transform:scaleX(0.93);"><span class="m" style="">94.19</span></div>
<div id="L208" class="l c" style="left:2528.0px;top:687.3px;font-size:21px;width:240.0px;letter-spacing:0.000px;transform:scaleX(0.93);"><span class="m" style="">100.0</span></div>
<div id="L209" class="l c" style="left:2613.0px;top:687.3px;font-size:21px;width:240.0px;letter-spacing:0.000px;transform:scaleX(0.93);"><span class="m" style="">91.46</span></div>
<div id="L210" class="l c" style="left:2698.5px;top:687.3px;font-size:21px;width:240.0px;letter-spacing:0.000px;transform:scaleX(0.93);"><span class="m" style="">100.0</span></div>
<div id="L211" class="l c" style="left:2783.7px;top:687.3px;font-size:21px;width:240.0px;letter-spacing:0.000px;transform:scaleX(0.93);"><span class="m" style="">81.30</span></div>
<div id="L212" class="l c" style="left:2869.0px;top:687.3px;font-size:21px;width:240.0px;letter-spacing:0.000px;transform:scaleX(0.93);"><span class="m" style="">100.0</span></div>
<div id="L213" class="l c" style="left:2954.6px;top:687.3px;font-size:21px;width:240.0px;letter-spacing:0.000px;transform:scaleX(0.93);"><span class="m" style="">15.00</span></div>
<div id="L214" class="l c" style="left:3039.4px;top:687.3px;font-size:21px;width:240.0px;letter-spacing:0.000px;transform:scaleX(0.93);"><span class="m" style="">100.0</span></div>
<div id="L215" class="l c" style="left:2325.7px;top:722.8px;font-size:23px;width:240.0px;letter-spacing:-0.300px;transform:scaleX(0.935);">SS-SAM</div>
<div id="L216" class="l c" style="left:2442.0px;top:723.7px;font-size:21px;width:240.0px;letter-spacing:0.000px;transform:scaleX(0.93);"><span class="m" style="">90.62</span></div>
<div id="L217" class="l c" style="left:2528.0px;top:723.7px;font-size:21px;width:240.0px;letter-spacing:0.000px;transform:scaleX(0.93);"><span class="m" style="">50.0</span></div>
<div id="L218" class="l c" style="left:2613.0px;top:723.7px;font-size:21px;width:240.0px;letter-spacing:0.000px;transform:scaleX(0.93);"><span class="m" style="">77.84</span></div>
<div id="L219" class="l c" style="left:2698.5px;top:723.7px;font-size:21px;width:240.0px;letter-spacing:0.000px;transform:scaleX(0.93);"><span class="m" style="">50.0</span></div>
<div id="L220" class="l c" style="left:2783.7px;top:723.7px;font-size:21px;width:240.0px;letter-spacing:0.000px;transform:scaleX(0.93);"><span class="m" style="">61.18</span></div>
<div id="L221" class="l c" style="left:2869.0px;top:723.7px;font-size:21px;width:240.0px;letter-spacing:0.000px;transform:scaleX(0.93);"><span class="m" style="">50.0</span></div>
<div id="L222" class="l c" style="left:2954.6px;top:723.7px;font-size:21px;width:240.0px;letter-spacing:0.000px;transform:scaleX(0.93);"><span class="m" style="">47.32</span></div>
<div id="L223" class="l c" style="left:3039.4px;top:723.7px;font-size:21px;width:240.0px;letter-spacing:0.000px;transform:scaleX(0.93);"><span class="m" style="">50.0</span></div>
<div id="L224" class="l c" style="left:2325.7px;top:749.8px;font-size:23px;width:240.0px;letter-spacing:-0.300px;transform:scaleX(0.935);">AE-SAM</div>
<div id="L225" class="l c" style="left:2442.0px;top:750.7px;font-size:21px;width:240.0px;letter-spacing:0.000px;transform:scaleX(0.93);"><span class="m" style="">92.84</span></div>
<div id="L226" class="l c" style="left:2528.0px;top:750.7px;font-size:21px;width:240.0px;letter-spacing:0.000px;transform:scaleX(0.93);"><span class="m" style="">50.0</span></div>
<div id="L227" class="l c" style="left:2613.0px;top:750.7px;font-size:21px;width:240.0px;letter-spacing:0.000px;transform:scaleX(0.93);"><span class="m" style="">84.17</span></div>
<div id="L228" class="l c" style="left:2698.5px;top:750.7px;font-size:21px;width:240.0px;letter-spacing:0.000px;transform:scaleX(0.93);"><span class="m" style="">50.0</span></div>
<div id="L229" class="l c" style="left:2783.7px;top:750.7px;font-size:21px;width:240.0px;letter-spacing:0.000px;transform:scaleX(0.93);"><span class="m" style="">73.54</span></div>
<div id="L230" class="l c" style="left:2869.0px;top:750.7px;font-size:21px;width:240.0px;letter-spacing:0.000px;transform:scaleX(0.93);"><span class="m" style="">49.9</span></div>
<div id="L231" class="l c" style="left:2954.6px;top:750.7px;font-size:21px;width:240.0px;letter-spacing:0.000px;transform:scaleX(0.93);"><span class="m" style="">65.00</span></div>
<div id="L232" class="l c" style="left:3039.4px;top:750.7px;font-size:21px;width:240.0px;letter-spacing:0.000px;transform:scaleX(0.93);"><span class="m" style="">50.0</span></div>
<div id="L233" class="l c" style="left:2325.7px;top:776.4px;font-size:23px;width:240.0px;letter-spacing:-0.300px;transform:scaleX(0.935);">LookSAM</div>
<div id="L234" class="l c" style="left:2442.0px;top:777.3px;font-size:21px;width:240.0px;letter-spacing:0.000px;transform:scaleX(0.93);"><span class="m" style="">92.72</span></div>
<div id="L235" class="l c" style="left:2528.0px;top:777.3px;font-size:21px;width:240.0px;letter-spacing:0.000px;transform:scaleX(0.93);"><span class="m" style="">50.0</span></div>
<div id="L236" class="l c" style="left:2613.0px;top:777.3px;font-size:21px;width:240.0px;letter-spacing:0.000px;transform:scaleX(0.93);"><span class="m" style="">88.04</span></div>
<div id="L237" class="l c" style="left:2698.5px;top:777.3px;font-size:21px;width:240.0px;letter-spacing:0.000px;transform:scaleX(0.93);"><span class="m" style="">50.0</span></div>
<div id="L238" class="l c" style="left:2783.7px;top:777.3px;font-size:21px;width:240.0px;letter-spacing:0.000px;transform:scaleX(0.93);"><span class="m" style="">72.26</span></div>
<div id="L239" class="l c" style="left:2869.0px;top:777.3px;font-size:21px;width:240.0px;letter-spacing:0.000px;transform:scaleX(0.93);"><span class="m" style="">50.0</span></div>
<div id="L240" class="l c" style="left:2954.6px;top:777.3px;font-size:21px;width:240.0px;letter-spacing:0.000px;transform:scaleX(0.93);"><span class="m" style="">69.72</span></div>
<div id="L241" class="l c" style="left:3039.4px;top:777.3px;font-size:21px;width:240.0px;letter-spacing:0.000px;transform:scaleX(0.93);"><span class="m" style="">50.0</span></div>
<div id="L242" class="l c" style="left:2325.7px;top:802.8px;font-size:23px;width:240.0px;letter-spacing:-0.300px;transform:scaleX(0.935);">AE-LookSAM</div>
<div id="L243" class="l c" style="left:2442.0px;top:803.7px;font-size:21px;width:240.0px;letter-spacing:0.000px;transform:scaleX(0.93);"><span class="m" style="color:#d40000;text-decoration:underline;text-decoration-thickness:1.2px;text-underline-offset:3px;">94.34</span></div>
<div id="L244" class="l c" style="left:2528.0px;top:803.7px;font-size:21px;width:240.0px;letter-spacing:0.000px;transform:scaleX(0.93);"><span class="m" style="color:#0000ee;">49.9</span></div>
<div id="L245" class="l c" style="left:2613.0px;top:803.7px;font-size:21px;width:240.0px;letter-spacing:0.000px;transform:scaleX(0.93);"><span class="m" style="color:#d40000;font-weight:bold;">91.58</span></div>
<div id="L246" class="l c" style="left:2698.5px;top:803.7px;font-size:21px;width:240.0px;letter-spacing:0.000px;transform:scaleX(0.93);"><span class="m" style="color:#0000ee;">50.0</span></div>
<div id="L247" class="l c" style="left:2783.7px;top:803.7px;font-size:21px;width:240.0px;letter-spacing:0.000px;transform:scaleX(0.93);"><span class="m" style="color:#d40000;text-decoration:underline;text-decoration-thickness:1.2px;text-underline-offset:3px;">87.85</span></div>
<div id="L248" class="l c" style="left:2869.0px;top:803.7px;font-size:21px;width:240.0px;letter-spacing:0.000px;transform:scaleX(0.93);"><span class="m" style="color:#0000ee;">50.0</span></div>
<div id="L249" class="l c" style="left:2954.6px;top:803.7px;font-size:21px;width:240.0px;letter-spacing:0.000px;transform:scaleX(0.93);"><span class="m" style="color:#d40000;text-decoration:underline;text-decoration-thickness:1.2px;text-underline-offset:3px;">76.90</span></div>
<div id="L250" class="l c" style="left:3039.4px;top:803.7px;font-size:21px;width:240.0px;letter-spacing:0.000px;transform:scaleX(0.93);"><span class="m" style="color:#0000ee;">50.0</span></div>
<div id="L251" class="l" style="left:2471.8px;top:1298.8px;font-size:23px;letter-spacing:-0.587px;"><b>(a):</b> Training accuracy.</div>
<div id="L252" class="l" style="left:2900.0px;top:1297.5px;font-size:23px;letter-spacing:-0.525px;"><b>(b):</b> Testing accuracy</div>
<div id="L253" class="l" style="left:2437.0px;top:1336.8px;font-size:23px;letter-spacing:-0.583px;"><b>Figure 3:</b> Accuracies with #epochs on <i>CIFAR-10</i> (with <span class="m">80%</span> noise labels).</div>
<div id="L254" class="l" style="left:2360.5px;top:1393.5px;font-size:24.5px;letter-spacing:-0.450px;letter-spacing:0">•</div>
<div id="L255" class="l j" style="left:2379.0px;top:1393.6px;width:870.0px;letter-spacing:-0.450px;">AE-LookSAM achieves comparable performance with SAM but is <b class="blue">faster</b>,</div>
<div id="L256" class="l" style="left:2379.0px;top:1426.7px;letter-spacing:-0.465px;">showing AE-LookSAM has <b class="red">the same high level of robustness</b> as SAM.</div>
<div id="L257" class="l" style="left:2360.5px;top:1477.3px;font-size:24.5px;letter-spacing:-0.450px;letter-spacing:0">•</div>
<div id="L258" class="l" style="left:2379.0px;top:1477.4px;letter-spacing:-0.480px;">AE-LookSAM performs <b class="red">better</b> than ESAM, SS-SAM, and LookSAM.</div>
<div id="L259" class="l" style="left:2360.5px;top:1684.9px;font-size:24.5px;letter-spacing:-0.450px;letter-spacing:0">•</div>
<div id="L260" class="l" style="left:2379.0px;top:1685.0px;letter-spacing:-0.444px;">Study the problem of improving SAM’s efficiency</div>
<div id="L261" class="l" style="left:2360.5px;top:1735.6px;font-size:24.5px;letter-spacing:-0.450px;letter-spacing:0">•</div>
<div id="L262" class="l" style="left:2379.0px;top:1735.7px;letter-spacing:-0.411px;">Introduce <b>a sharpness measure</b>: squared stochastic gradient norm</div>
<div id="L263" class="l" style="left:2360.5px;top:1786.9px;font-size:24.5px;letter-spacing:-0.450px;letter-spacing:0">•</div>
<div id="L264" class="l j" style="left:2379.0px;top:1787.0px;width:870.0px;letter-spacing:-0.533px;">Design an <b>adaptive</b> policy: use SAM in sharp regions, while use ERM in flat</div>
<div id="L265" class="l" style="left:2379.0px;top:1819.7px;letter-spacing:-0.651px;">regions</div>
<div id="L266" class="l" style="left:2360.5px;top:1870.8px;font-size:24.5px;letter-spacing:-0.450px;letter-spacing:0">•</div>
<div id="L267" class="l" style="left:2379.0px;top:1870.9px;letter-spacing:-0.351px;">Propose two <b>efficient</b> algorithms: AE-SAM and AE-LookSAM</div>
<div id="L268" class="l" style="left:2360.5px;top:1921.6px;font-size:24.5px;letter-spacing:-0.450px;letter-spacing:0">•</div>
<div id="L269" class="l j" style="left:2379.0px;top:1921.7px;width:870.0px;letter-spacing:-0.450px;">Results on <i>CIFAR-10</i>, <i>CIFAR-100</i>, and <i>ImageNet</i> show the <b>efficiency</b> and</div>
<div id="L270" class="l" style="left:2379.0px;top:1954.4px;letter-spacing:-0.452px;"><b>effectiveness</b> of the adaptive policy</div>
<div id="L271" class="l" style="left:2360.5px;top:2005.9px;font-size:24.5px;letter-spacing:-0.450px;letter-spacing:0">•</div>
<div id="L272" class="l j" style="left:2379.0px;top:2006.0px;width:870.0px;letter-spacing:-0.642px;">Results on <i>CIFAR-10</i> with label noise show the <b>robustness</b> of AE-LookSAM</div>
<div id="L273" class="l j" style="left:2325.6px;top:2207.9px;width:923.4px;letter-spacing:-0.450px;">[1] Sharpness-aware minimization for efficiently improving generalization.  ICLR</div>
<div id="L274" class="l" style="left:2325.6px;top:2240.2px;letter-spacing:-1.219px;">2021</div>
<div id="L275" class="l j" style="left:2325.6px;top:2274.4px;width:923.4px;letter-spacing:-0.450px;">[2] Efficient sharpness-aware minimization for improved training of neural net-</div>
<div id="L276" class="l" style="left:2325.6px;top:2306.7px;letter-spacing:-0.431px;">works. ICLR 2022</div>
<div id="L277" class="l" style="left:2325.6px;top:2341.2px;letter-spacing:-0.393px;">[3] Towards efficient and scalable sharpness-aware minimization. CVPR 2022</div>
<div id="L278" class="l j" style="left:2325.6px;top:2374.0px;width:923.4px;letter-spacing:-0.450px;">[4] SS-SAM: Stochastic scheduled sharpness-aware minimization for efficiently</div>
<div id="L279" class="l" style="left:2325.6px;top:2406.7px;letter-spacing:-0.385px;">training deep neural networks. Preprint arXiv:2203.09962, 2022</div>
<div id="L280" class="l" style="left:2325.6px;top:2439.9px;letter-spacing:-0.424px;">[5] Fantastic generalization measures and where to find them, ICLR 2020</div>
<div id="L281" class="l" style="left:2325.6px;top:2473.6px;letter-spacing:-0.425px;">[6] Towards understanding sharpness-aware minimization, ICML 2022</div>
<svg style="left:140px;top:1670px" width="850" height="260" viewBox="140 1670 850 260" ><polygon points="202.5,1860.7 203.6,1854.6 204.7,1859.7 205.7,1833.2 206.8,1826.8 207.9,1822.8 209.0,1811.9 210.1,1813.3 211.1,1796.1 212.2,1796.5 213.3,1791.9 214.4,1767.2 215.5,1811.5 216.5,1793.8 217.6,1811.2 218.7,1809.7 219.8,1802.5 220.9,1796.3 221.9,1796.3 223.0,1787.1 224.1,1767.6 225.2,1788.1 226.3,1799.4 227.4,1803.2 228.4,1794.4 229.5,1788.8 230.6,1785.5 231.7,1799.7 232.8,1741.4 233.8,1789.3 234.9,1799.4 236.0,1802.7 237.1,1799.6 238.2,1801.0 239.2,1802.0 240.3,1798.4 241.4,1807.8 242.5,1815.8 243.6,1814.8 244.6,1818.3 245.7,1805.2 246.8,1804.8 247.9,1806.5 249.0,1811.6 250.0,1802.8 251.1,1801.2 252.2,1789.5 253.3,1797.7 254.4,1796.8 255.4,1792.7 256.5,1803.4 257.6,1804.1 258.7,1805.1 259.8,1800.9 260.8,1801.9 261.9,1806.8 263.0,1814.7 264.1,1815.7 265.2,1815.9 266.2,1809.0 267.3,1811.7 268.4,1740.4 269.5,1802.1 270.6,1819.0 271.7,1813.2 272.7,1814.5 273.8,1806.1 274.9,1810.9 276.0,1815.3 277.1,1807.0 278.1,1805.7 279.2,1795.0 280.3,1798.6 281.4,1803.3 282.5,1806.8 283.5,1799.8 284.6,1792.1 285.7,1801.6 286.8,1813.5 287.9,1728.3 288.9,1799.7 290.0,1790.0 291.1,1795.4 292.2,1794.6 293.3,1800.3 294.3,1814.5 295.4,1813.2 296.5,1790.5 297.6,1806.9 298.7,1794.4 299.7,1819.4 300.8,1811.0 301.9,1797.7 303.0,1798.4 304.1,1816.4 305.1,1822.9 306.2,1801.1 307.3,1800.7 308.4,1794.1 309.5,1774.2 310.6,1805.2 311.6,1800.3 312.7,1804.1 313.8,1795.5 314.9,1805.5 316.0,1812.3 317.0,1798.3 318.1,1793.9 319.2,1796.7 320.3,1792.0 321.4,1781.8 322.4,1775.0 323.5,1814.9 324.6,1764.1 325.7,1810.6 326.8,1789.2 327.8,1810.6 328.9,1797.1 330.0,1805.3 331.1,1815.7 332.2,1824.3 333.2,1809.3 334.3,1799.3 335.4,1770.0 336.5,1799.1 337.6,1801.3 338.6,1795.5 339.7,1786.8 340.8,1777.7 341.9,1773.3 343.0,1791.4 344.0,1777.7 345.1,1820.3 346.2,1801.5 347.3,1797.3 348.4,1796.6 349.4,1820.1 350.5,1821.0 351.6,1822.0 352.7,1822.9 353.8,1823.8 354.9,1825.0 355.9,1826.2 357.0,1827.4 358.1,1828.6 359.2,1829.7 360.3,1830.9 361.3,1832.1 362.4,1833.3 363.5,1834.4 364.6,1835.6 365.7,1837.2 366.7,1838.8 367.8,1840.3 368.9,1841.9 370.0,1843.5 371.1,1845.1 372.1,1846.6 373.2,1848.2 374.3,1849.8 375.4,1851.3 376.5,1852.2 377.5,1853.1 378.6,1854.0 379.7,1854.8 380.8,1855.7 381.9,1856.6 382.9,1857.5 384.0,1858.3 385.1,1859.2 386.2,1860.1 387.3,1861.0 388.3,1861.8 389.4,1862.7 390.5,1863.6 391.6,1864.4 392.7,1864.9 393.7,1865.3 394.8,1865.8 395.9,1866.2 397.0,1866.6 398.1,1867.1 399.2,1867.5 400.2,1867.9 401.3,1868.4 402.4,1868.8 403.5,1869.3 404.6,1869.7 405.6,1870.1 406.7,1870.6 407.8,1871.0 408.9,1871.1 410.0,1871.3 411.0,1871.4 412.1,1871.5 413.2,1871.7 414.3,1871.8 415.4,1871.9 416.4,1872.0 417.5,1872.2 418.6,1872.3 418.6,1875.5 417.5,1875.3 416.4,1875.2 415.4,1875.1 414.3,1874.9 413.2,1874.8 412.1,1874.7 411.0,1874.5 410.0,1874.4 408.9,1874.3 407.8,1874.1 406.7,1873.7 405.6,1873.3 404.6,1872.8 403.5,1872.4 402.4,1872.0 401.3,1871.5 400.2,1871.1 399.2,1870.6 398.1,1870.2 397.0,1869.8 395.9,1869.3 394.8,1868.9 393.7,1868.5 392.7,1868.0 391.6,1867.6 390.5,1866.7 389.4,1865.8 388.3,1865.0 387.3,1864.1 386.2,1863.2 385.1,1862.4 384.0,1861.5 382.9,1860.6 381.9,1859.7 380.8,1858.9 379.7,1858.0 378.6,1857.1 377.5,1856.2 376.5,1855.4 375.4,1854.5 374.3,1852.9 373.2,1851.3 372.1,1849.8 371.1,1848.2 370.0,1846.6 368.9,1845.1 367.8,1843.5 366.7,1841.9 365.7,1840.3 364.6,1838.8 363.5,1837.6 362.4,1836.4 361.3,1835.2 360.3,1834.1 359.2,1832.9 358.1,1831.7 357.0,1830.5 355.9,1829.3 354.9,1828.2 353.8,1827.0 352.7,1826.0 351.6,1825.1 350.5,1824.2 349.4,1823.2 348.4,1824.5 347.3,1826.4 346.2,1834.5 345.1,1834.4 344.0,1829.9 343.0,1828.6 341.9,1793.9 340.8,1819.6 339.7,1821.0 338.6,1825.7 337.6,1812.7 336.5,1820.7 335.4,1789.9 334.3,1828.3 333.2,1833.1 332.2,1846.8 331.1,1835.8 330.0,1826.8 328.9,1839.5 327.8,1826.4 326.8,1816.4 325.7,1837.1 324.6,1840.2 323.5,1836.9 322.4,1806.9 321.4,1805.9 320.3,1809.3 319.2,1817.3 318.1,1821.8 317.0,1825.3 316.0,1831.6 314.9,1832.9 313.8,1822.0 312.7,1825.9 311.6,1836.8 310.6,1833.8 309.5,1801.4 308.4,1818.6 307.3,1819.9 306.2,1825.4 305.1,1836.0 304.1,1836.9 303.0,1831.2 301.9,1820.0 300.8,1828.8 299.7,1835.9 298.7,1833.8 297.6,1837.4 296.5,1828.3 295.4,1838.7 294.3,1837.2 293.3,1833.2 292.2,1823.0 291.1,1811.5 290.0,1812.7 288.9,1822.3 287.9,1823.7 286.8,1831.2 285.7,1822.7 284.6,1827.7 283.5,1829.7 282.5,1838.0 281.4,1819.4 280.3,1823.0 279.2,1829.8 278.1,1830.0 277.1,1837.6 276.0,1830.6 274.9,1826.7 273.8,1820.5 272.7,1834.0 271.7,1840.5 270.6,1851.0 269.5,1823.6 268.4,1838.5 267.3,1829.1 266.2,1823.7 265.2,1846.5 264.1,1840.1 263.0,1840.4 261.9,1825.9 260.8,1828.5 259.8,1823.8 258.7,1828.7 257.6,1823.6 256.5,1825.0 255.4,1833.6 254.4,1816.8 253.3,1820.8 252.2,1811.9 251.1,1821.0 250.0,1838.0 249.0,1835.7 247.9,1831.1 246.8,1826.6 245.7,1824.2 244.6,1833.0 243.6,1833.7 242.5,1838.7 241.4,1829.9 240.3,1829.1 239.2,1819.5 238.2,1824.0 237.1,1818.0 236.0,1834.7 234.9,1826.5 233.8,1822.9 232.8,1821.1 231.7,1815.7 230.6,1816.3 229.5,1813.3 228.4,1828.8 227.4,1822.3 226.3,1821.9 225.2,1813.1 224.1,1783.9 223.0,1825.9 221.9,1830.9 220.9,1815.2 219.8,1830.6 218.7,1838.3 217.6,1833.0 216.5,1835.5 215.5,1825.8 214.4,1824.4 213.3,1811.8 212.2,1816.7 211.1,1822.1 210.1,1836.5 209.0,1831.7 207.9,1844.4 206.8,1843.7 205.7,1856.6 204.7,1876.2 203.6,1875.8 202.5,1887.2" fill="#4a76b2" fill-opacity="0.33" stroke="none"/><polygon points="202.5,1878.3 203.6,1861.1 204.7,1859.1 205.7,1855.3 206.8,1844.4 207.9,1839.0 209.0,1826.3 210.1,1821.5 211.1,1792.3 212.2,1828.9 213.3,1833.3 214.4,1831.5 215.5,1821.4 216.5,1838.6 217.6,1826.5 218.7,1838.4 219.8,1828.0 220.9,1830.7 221.9,1777.7 223.0,1836.4 224.1,1837.8 225.2,1832.1 226.3,1836.0 227.4,1838.2 228.4,1825.0 229.5,1826.3 230.6,1823.7 231.7,1813.6 232.8,1755.6 233.8,1829.8 234.9,1829.1 236.0,1802.2 237.1,1823.0 238.2,1805.9 239.2,1827.2 240.3,1821.7 241.4,1814.5 242.5,1832.0 243.6,1833.5 244.6,1839.4 245.7,1833.0 246.8,1830.5 247.9,1816.1 249.0,1797.5 250.0,1831.9 251.1,1827.6 252.2,1827.4 253.3,1834.2 254.4,1832.9 255.4,1828.7 256.5,1817.5 257.6,1828.6 258.7,1803.6 259.8,1837.3 260.8,1836.5 261.9,1826.0 263.0,1831.9 264.1,1844.9 265.2,1841.8 266.2,1841.8 267.3,1809.4 268.4,1791.0 269.5,1823.3 270.6,1826.4 271.7,1827.5 272.7,1827.6 273.8,1821.5 274.9,1831.6 276.0,1827.0 277.1,1842.2 278.1,1832.1 279.2,1801.2 280.3,1832.4 281.4,1838.3 282.5,1829.0 283.5,1829.6 284.6,1821.5 285.7,1828.9 286.8,1841.5 287.9,1841.3 288.9,1830.0 290.0,1828.4 291.1,1831.5 292.2,1821.0 293.3,1840.5 294.3,1837.2 295.4,1837.2 296.5,1845.8 297.6,1854.3 298.7,1848.3 299.7,1798.1 300.8,1837.1 301.9,1835.7 303.0,1833.6 304.1,1844.6 305.1,1839.5 306.2,1837.6 307.3,1826.3 308.4,1821.8 309.5,1815.7 310.6,1831.0 311.6,1799.5 312.7,1840.2 313.8,1837.9 314.9,1832.9 316.0,1836.8 317.0,1823.0 318.1,1768.1 319.2,1826.4 320.3,1842.5 321.4,1837.2 322.4,1844.2 323.5,1841.4 324.6,1833.8 325.7,1836.7 326.8,1811.3 327.8,1831.7 328.9,1847.1 330.0,1843.2 331.1,1842.8 332.2,1784.7 333.2,1847.7 334.3,1858.9 335.4,1842.8 336.5,1828.3 337.6,1843.4 338.6,1831.0 339.7,1844.5 340.8,1850.0 341.9,1854.8 343.0,1843.3 344.0,1845.1 345.1,1842.1 346.2,1847.1 347.3,1838.4 348.4,1846.3 349.4,1844.1 350.5,1850.0 351.6,1843.1 352.7,1842.9 353.8,1854.5 354.9,1855.0 355.9,1862.0 357.0,1840.2 358.1,1848.8 359.2,1859.7 360.3,1867.9 361.3,1868.6 362.4,1869.4 363.5,1870.2 364.6,1871.0 365.7,1871.4 366.7,1871.8 367.8,1872.2 368.9,1872.6 370.0,1873.0 371.1,1873.4 372.1,1873.7 373.2,1874.1 374.3,1874.5 375.4,1874.9 376.5,1875.3 377.5,1875.7 378.6,1876.1 379.7,1876.5 380.8,1876.9 381.9,1877.3 382.9,1877.7 384.0,1878.1 385.1,1878.5 386.2,1878.9 387.3,1879.0 388.3,1879.1 389.4,1879.2 390.5,1879.3 391.6,1879.4 392.7,1879.5 393.7,1879.7 394.8,1879.8 395.9,1879.9 397.0,1880.0 398.1,1880.1 399.2,1880.2 400.2,1880.3 401.3,1880.4 402.4,1880.6 403.5,1880.7 404.6,1880.8 405.6,1880.9 406.7,1881.0 407.8,1881.1 408.9,1881.2 410.0,1881.4 411.0,1881.5 412.1,1881.6 413.2,1881.7 414.3,1881.8 415.4,1881.9 416.4,1882.0 417.5,1882.2 418.6,1882.3 418.6,1885.4 417.5,1885.3 416.4,1885.2 415.4,1885.1 414.3,1885.0 413.2,1884.8 412.1,1884.7 411.0,1884.6 410.0,1884.5 408.9,1884.4 407.8,1884.3 406.7,1884.2 405.6,1884.0 404.6,1883.9 403.5,1883.8 402.4,1883.7 401.3,1883.6 400.2,1883.5 399.2,1883.4 398.1,1883.3 397.0,1883.1 395.9,1883.0 394.8,1882.9 393.7,1882.8 392.7,1882.7 391.6,1882.6 390.5,1882.5 389.4,1882.3 388.3,1882.2 387.3,1882.1 386.2,1882.0 385.1,1881.6 384.0,1881.2 382.9,1880.8 381.9,1880.4 380.8,1880.0 379.7,1879.6 378.6,1879.3 377.5,1878.9 376.5,1878.5 375.4,1878.1 374.3,1877.7 373.2,1877.3 372.1,1876.9 371.1,1876.5 370.0,1876.1 368.9,1875.7 367.8,1875.3 366.7,1874.9 365.7,1874.5 364.6,1874.1 363.5,1873.4 362.4,1872.6 361.3,1871.8 360.3,1871.0 359.2,1877.5 358.1,1879.4 357.0,1875.1 355.9,1886.2 354.9,1870.1 353.8,1870.9 352.7,1859.3 351.6,1874.6 350.5,1864.7 349.4,1871.7 348.4,1865.6 347.3,1863.8 346.2,1867.9 345.1,1869.2 344.0,1862.9 343.0,1876.7 341.9,1872.8 340.8,1863.6 339.7,1865.2 338.6,1870.0 337.6,1869.4 336.5,1847.8 335.4,1884.9 334.3,1872.4 333.2,1867.6 332.2,1869.8 331.1,1874.4 330.0,1866.9 328.9,1864.3 327.8,1864.7 326.8,1863.5 325.7,1868.7 324.6,1856.4 323.5,1859.1 322.4,1864.7 321.4,1861.2 320.3,1868.9 319.2,1848.5 318.1,1860.9 317.0,1853.3 316.0,1865.5 314.9,1853.1 313.8,1865.3 312.7,1859.3 311.6,1831.4 310.6,1848.9 309.5,1846.3 308.4,1853.2 307.3,1861.2 306.2,1853.8 305.1,1861.5 304.1,1871.2 303.0,1856.3 301.9,1850.6 300.8,1851.0 299.7,1865.1 298.7,1874.3 297.6,1868.9 296.5,1863.8 295.4,1860.1 294.3,1856.9 293.3,1852.8 292.2,1840.7 291.1,1846.6 290.0,1851.6 288.9,1858.4 287.9,1875.3 286.8,1855.6 285.7,1852.2 284.6,1850.3 283.5,1845.1 282.5,1849.9 281.4,1860.8 280.3,1850.1 279.2,1829.5 278.1,1855.2 277.1,1861.2 276.0,1855.0 274.9,1849.6 273.8,1836.3 272.7,1840.3 271.7,1846.9 270.6,1852.2 269.5,1848.5 268.4,1845.2 267.3,1839.4 266.2,1863.5 265.2,1865.5 264.1,1872.8 263.0,1874.2 261.9,1861.2 260.8,1861.5 259.8,1853.0 258.7,1848.5 257.6,1844.3 256.5,1837.3 255.4,1847.4 254.4,1846.6 253.3,1848.8 252.2,1857.7 251.1,1850.5 250.0,1851.9 249.0,1810.6 247.9,1844.5 246.8,1854.9 245.7,1855.2 244.6,1853.1 243.6,1853.8 242.5,1843.1 241.4,1848.9 240.3,1845.3 239.2,1847.1 238.2,1825.8 237.1,1837.3 236.0,1839.7 234.9,1848.2 233.8,1858.9 232.8,1854.5 231.7,1844.4 230.6,1847.9 229.5,1843.4 228.4,1853.1 227.4,1855.1 226.3,1855.6 225.2,1856.2 224.1,1860.5 223.0,1855.8 221.9,1849.4 220.9,1843.9 219.8,1855.5 218.7,1853.1 217.6,1848.7 216.5,1862.4 215.5,1862.6 214.4,1865.3 213.3,1853.2 212.2,1849.3 211.1,1811.9 210.1,1861.1 209.0,1856.0 207.9,1864.7 206.8,1870.5 205.7,1870.7 204.7,1876.2 203.6,1889.6 202.5,1889.6" fill="#e08a3c" fill-opacity="0.33" stroke="none"/><polyline points="202.5,1875.2 203.6,1869.1 204.7,1867.1 205.7,1845.0 206.8,1838.1 207.9,1834.7 209.0,1824.2 210.1,1827.0 211.1,1804.1 212.2,1802.1 213.3,1799.9 214.4,1815.4 215.5,1819.2 216.5,1822.2 217.6,1822.7 218.7,1817.7 219.8,1814.3 220.9,1808.5 221.9,1811.4 223.0,1810.3 224.1,1775.0 225.2,1804.6 226.3,1807.0 227.4,1814.4 228.4,1814.5 229.5,1804.1 230.6,1804.6 231.7,1808.0 232.8,1812.1 233.8,1814.8 234.9,1815.0 236.0,1815.6 237.1,1809.4 238.2,1807.8 239.2,1808.8 240.3,1823.4 241.4,1819.5 242.5,1826.6 243.6,1821.7 244.6,1824.9 245.7,1817.9 246.8,1812.7 247.9,1818.6 249.0,1821.5 250.0,1819.9 251.1,1809.4 252.2,1806.3 253.3,1805.3 254.4,1806.7 255.4,1810.8 256.5,1815.7 257.6,1818.0 258.7,1814.7 259.8,1810.1 260.8,1817.6 261.9,1819.2 263.0,1829.0 264.1,1822.8 265.2,1821.7 266.2,1818.1 267.3,1820.9 268.4,1827.1 269.5,1816.9 270.6,1825.8 271.7,1825.6 272.7,1825.8 273.8,1812.2 274.9,1817.5 276.0,1822.7 277.1,1826.2 278.1,1819.6 279.2,1810.6 280.3,1817.1 281.4,1813.0 282.5,1824.3 283.5,1808.2 284.6,1814.8 285.7,1811.9 286.8,1825.3 287.9,1818.0 288.9,1813.2 290.0,1802.6 291.1,1804.9 292.2,1806.7 293.3,1812.6 294.3,1820.9 295.4,1825.8 296.5,1817.2 297.6,1820.1 298.7,1819.2 299.7,1826.4 300.8,1819.2 301.9,1814.2 303.0,1818.2 304.1,1826.5 305.1,1829.0 306.2,1818.5 307.3,1807.8 308.4,1806.9 309.5,1780.4 310.6,1815.4 311.6,1817.5 312.7,1812.7 313.8,1807.6 314.9,1815.9 316.0,1819.9 317.0,1814.3 318.1,1814.0 319.2,1802.7 320.3,1798.7 321.4,1793.3 322.4,1798.4 323.5,1821.0 324.6,1830.1 325.7,1819.1 326.8,1805.8 327.8,1820.0 328.9,1817.8 330.0,1813.6 331.1,1822.9 332.2,1831.0 333.2,1825.3 334.3,1818.5 335.4,1780.0 336.5,1807.5 337.6,1807.0 338.6,1815.2 339.7,1806.9 340.8,1807.1 341.9,1781.8 343.0,1814.2 344.0,1818.3 345.1,1827.7 346.2,1816.7 347.3,1814.0 348.4,1812.8 349.4,1821.7 350.5,1822.6 351.6,1823.5 352.7,1824.5 353.8,1825.4 354.9,1826.6 355.9,1827.8 357.0,1828.9 358.1,1830.1 359.2,1831.3 360.3,1832.5 361.3,1833.7 362.4,1834.8 363.5,1836.0 364.6,1837.2 365.7,1838.8 366.7,1840.3 367.8,1841.9 368.9,1843.5 370.0,1845.1 371.1,1846.6 372.1,1848.2 373.2,1849.8 374.3,1851.3 375.4,1852.9 376.5,1853.8 377.5,1854.7 378.6,1855.5 379.7,1856.4 380.8,1857.3 381.9,1858.2 382.9,1859.0 384.0,1859.9 385.1,1860.8 386.2,1861.7 387.3,1862.5 388.3,1863.4 389.4,1864.3 390.5,1865.1 391.6,1866.0 392.7,1866.5 393.7,1866.9 394.8,1867.3 395.9,1867.8 397.0,1868.2 398.1,1868.6 399.2,1869.1 400.2,1869.5 401.3,1869.9 402.4,1870.4 403.5,1870.8 404.6,1871.3 405.6,1871.7 406.7,1872.1 407.8,1872.6 408.9,1872.7 410.0,1872.8 411.0,1873.0 412.1,1873.1 413.2,1873.2 414.3,1873.4 415.4,1873.5 416.4,1873.6 417.5,1873.7 418.6,1873.9" fill="none" stroke="#4a76b2" stroke-width="1.1"/><polyline points="202.5,1889.6 203.6,1876.5 204.7,1867.8 205.7,1863.6 206.8,1852.9 207.9,1845.5 209.0,1838.9 210.1,1840.3 211.1,1802.1 212.2,1837.5 213.3,1838.8 214.4,1847.6 215.5,1841.5 216.5,1846.9 217.6,1837.8 218.7,1844.8 219.8,1840.3 220.9,1836.4 221.9,1841.8 223.0,1846.1 224.1,1843.8 225.2,1850.5 226.3,1849.4 227.4,1845.2 228.4,1838.9 229.5,1834.5 230.6,1832.5 231.7,1833.2 232.8,1837.1 233.8,1841.8 234.9,1835.3 236.0,1832.7 237.1,1830.4 238.2,1811.8 239.2,1836.5 240.3,1836.1 241.4,1835.9 242.5,1837.5 243.6,1842.3 244.6,1845.6 245.7,1843.5 246.8,1837.6 247.9,1830.7 249.0,1803.2 250.0,1838.4 251.1,1839.6 252.2,1837.5 253.3,1840.2 254.4,1839.6 255.4,1839.8 256.5,1827.5 257.6,1835.1 258.7,1842.4 259.8,1845.9 260.8,1848.6 261.9,1846.5 263.0,1853.9 264.1,1850.9 265.2,1855.5 266.2,1852.3 267.3,1821.2 268.4,1835.6 269.5,1833.1 270.6,1838.5 271.7,1834.8 272.7,1834.7 273.8,1829.4 274.9,1841.2 276.0,1842.1 277.1,1850.9 278.1,1843.7 279.2,1817.9 280.3,1844.5 281.4,1845.4 282.5,1841.8 283.5,1835.7 284.6,1834.2 285.7,1842.3 286.8,1847.1 287.9,1853.9 288.9,1850.3 290.0,1843.2 291.1,1837.3 292.2,1831.2 293.3,1847.2 294.3,1847.4 295.4,1848.5 296.5,1851.8 297.6,1860.4 298.7,1861.0 299.7,1857.3 300.8,1844.3 301.9,1843.0 303.0,1843.8 304.1,1852.3 305.1,1846.4 306.2,1846.3 307.3,1841.6 308.4,1846.2 309.5,1837.0 310.6,1838.1 311.6,1818.6 312.7,1845.9 313.8,1848.1 314.9,1843.1 316.0,1845.8 317.0,1838.7 318.1,1843.3 319.2,1841.7 320.3,1852.4 321.4,1851.9 322.4,1853.9 323.5,1851.0 324.6,1848.4 325.7,1851.0 326.8,1855.3 327.8,1854.9 328.9,1854.3 330.0,1854.0 331.1,1854.2 332.2,1850.5 333.2,1858.5 334.3,1864.8 335.4,1865.1 336.5,1836.2 337.6,1852.8 338.6,1850.1 339.7,1856.8 340.8,1856.0 341.9,1862.0 343.0,1859.2 344.0,1855.5 345.1,1852.4 346.2,1852.9 347.3,1850.9 348.4,1857.9 349.4,1859.4 350.5,1858.9 351.6,1856.6 352.7,1852.4 353.8,1861.6 354.9,1863.7 355.9,1869.1 357.0,1867.5 358.1,1868.6 359.2,1868.9 360.3,1869.4 361.3,1870.2 362.4,1871.0 363.5,1871.8 364.6,1872.6 365.7,1873.0 366.7,1873.4 367.8,1873.7 368.9,1874.1 370.0,1874.5 371.1,1874.9 372.1,1875.3 373.2,1875.7 374.3,1876.1 375.4,1876.5 376.5,1876.9 377.5,1877.3 378.6,1877.7 379.7,1878.1 380.8,1878.5 381.9,1878.9 382.9,1879.3 384.0,1879.6 385.1,1880.0 386.2,1880.4 387.3,1880.5 388.3,1880.7 389.4,1880.8 390.5,1880.9 391.6,1881.0 392.7,1881.1 393.7,1881.2 394.8,1881.3 395.9,1881.5 397.0,1881.6 398.1,1881.7 399.2,1881.8 400.2,1881.9 401.3,1882.0 402.4,1882.1 403.5,1882.2 404.6,1882.4 405.6,1882.5 406.7,1882.6 407.8,1882.7 408.9,1882.8 410.0,1882.9 411.0,1883.0 412.1,1883.2 413.2,1883.3 414.3,1883.4 415.4,1883.5 416.4,1883.6 417.5,1883.7 418.6,1883.8" fill="none" stroke="#e08a3c" stroke-width="1.0" stroke-dasharray="3,1.5"/><rect x="202.5" y="1680" width="216.10000000000002" height="209.5999999999999" fill="none" stroke="#555" stroke-width="1.0"/><text x="198.5" y="1893.6" font-family="Liberation Sans" font-size="11.5" text-anchor="end" fill="#333" >0</text><text x="198.5" y="1867.4" font-family="Liberation Sans" font-size="11.5" text-anchor="end" fill="#333" >10</text><text x="198.5" y="1841.2" font-family="Liberation Sans" font-size="11.5" text-anchor="end" fill="#333" >20</text><text x="198.5" y="1815.0" font-family="Liberation Sans" font-size="11.5" text-anchor="end" fill="#333" >30</text><text x="198.5" y="1788.8" font-family="Liberation Sans" font-size="11.5" text-anchor="end" fill="#333" >40</text><text x="198.5" y="1762.6" font-family="Liberation Sans" font-size="11.5" text-anchor="end" fill="#333" >50</text><text x="198.5" y="1736.4" font-family="Liberation Sans" font-size="11.5" text-anchor="end" fill="#333" >60</text><text x="198.5" y="1710.2" font-family="Liberation Sans" font-size="11.5" text-anchor="end" fill="#333" >70</text><text x="198.5" y="1684.0" font-family="Liberation Sans" font-size="11.5" text-anchor="end" fill="#333" >80</text><text x="202.5" y="1902.6" font-family="Liberation Sans" font-size="11.5" text-anchor="middle" fill="#333" >0</text><text x="256.5" y="1902.6" font-family="Liberation Sans" font-size="11.5" text-anchor="middle" fill="#333" >50</text><text x="310.6" y="1902.6" font-family="Liberation Sans" font-size="11.5" text-anchor="middle" fill="#333" >100</text><text x="364.6" y="1902.6" font-family="Liberation Sans" font-size="11.5" text-anchor="middle" fill="#333" >150</text><text x="418.6" y="1902.6" font-family="Liberation Sans" font-size="11.5" text-anchor="middle" fill="#333" >200</text><text x="310.6" y="1916.6" font-family="Liberation Sans" font-size="12" text-anchor="middle" fill="#333" >epoch</text><text transform="translate(175.5,1784.8) rotate(-90)" font-family="Liberation Serif" font-style="italic" font-size="12.5" text-anchor="middle" fill="#333">E<tspan font-size="8" dy="3">B</tspan><tspan dy="-3">‖</tspan><tspan font-style="normal" dx="7.6" dy="-8.2" rotate="180">Δ</tspan><tspan dx="-7.6" dy="8.2">L(B, w)‖²</tspan></text><line x1="348.6" y1="1695" x2="371.6" y2="1695" stroke="#4a76b2" stroke-width="1.2"/><line x1="348.6" y1="1712" x2="371.6" y2="1712" stroke="#e08a3c" stroke-width="1.2" stroke-dasharray="3,1.5"/><text x="381.6" y="1699.5" font-family="Liberation Sans" font-size="11.5" text-anchor="start" fill="#333" >ERM</text><text x="381.6" y="1716.5" font-family="Liberation Sans" font-size="11.5" text-anchor="start" fill="#333" >SAM</text><polygon points="481.6,1848.0 482.7,1825.6 483.7,1820.8 484.8,1799.1 485.8,1812.8 486.9,1817.6 487.9,1829.9 489.0,1829.0 490.0,1820.8 491.1,1824.0 492.1,1820.3 493.2,1722.3 494.2,1819.6 495.3,1836.7 496.3,1835.5 497.4,1827.7 498.4,1827.0 499.5,1815.0 500.5,1823.5 501.6,1831.8 502.6,1827.7 503.7,1806.2 504.7,1806.2 505.8,1806.2 506.8,1813.1 507.9,1827.2 509.0,1828.9 510.0,1840.7 511.1,1814.0 512.1,1819.2 513.2,1823.8 514.2,1820.4 515.3,1829.8 516.3,1827.0 517.4,1825.6 518.4,1823.7 519.5,1819.2 520.5,1836.6 521.6,1836.6 522.6,1797.5 523.7,1829.1 524.7,1824.7 525.8,1825.5 526.8,1826.9 527.9,1811.9 528.9,1816.0 530.0,1827.2 531.0,1826.8 532.1,1826.0 533.1,1808.1 534.2,1818.4 535.3,1822.2 536.3,1804.2 537.4,1822.7 538.4,1826.6 539.5,1765.4 540.5,1835.7 541.6,1838.6 542.6,1785.6 543.7,1840.1 544.7,1844.1 545.8,1834.5 546.8,1829.9 547.9,1820.8 548.9,1832.0 550.0,1834.2 551.0,1837.3 552.1,1828.6 553.1,1809.9 554.2,1826.8 555.2,1825.5 556.3,1825.8 557.3,1835.0 558.4,1833.8 559.4,1777.6 560.5,1816.4 561.6,1818.5 562.6,1819.3 563.7,1808.9 564.7,1769.8 565.8,1809.6 566.8,1819.8 567.9,1820.4 568.9,1760.5 570.0,1821.4 571.0,1832.7 572.1,1821.2 573.1,1787.5 574.2,1824.9 575.2,1829.8 576.3,1840.5 577.3,1832.6 578.4,1830.8 579.4,1826.0 580.5,1835.8 581.5,1841.9 582.6,1831.3 583.6,1832.3 584.7,1815.9 585.7,1728.9 586.8,1750.0 587.9,1809.0 588.9,1808.3 590.0,1825.9 591.0,1815.8 592.1,1818.5 593.1,1824.2 594.2,1825.9 595.2,1847.2 596.3,1836.9 597.3,1840.7 598.4,1828.3 599.4,1827.9 600.5,1832.8 601.5,1837.1 602.6,1829.1 603.6,1831.1 604.7,1826.8 605.7,1820.4 606.8,1781.2 607.8,1821.2 608.9,1833.6 609.9,1832.5 611.0,1835.5 612.0,1838.7 613.1,1828.6 614.2,1824.0 615.2,1830.5 616.3,1839.9 617.3,1841.0 618.4,1834.0 619.4,1840.6 620.5,1835.0 621.5,1832.3 622.6,1827.0 623.6,1817.9 624.7,1827.3 625.7,1831.8 626.8,1834.9 627.8,1820.1 628.9,1803.1 629.9,1822.0 631.0,1835.9 632.0,1839.6 633.1,1847.3 634.1,1843.5 635.2,1832.3 636.2,1823.5 637.3,1829.4 638.3,1780.5 639.4,1807.5 640.5,1833.7 641.5,1849.5 642.6,1850.2 643.6,1850.8 644.7,1851.5 645.7,1852.2 646.8,1852.9 647.8,1853.6 648.9,1854.2 649.9,1854.9 651.0,1855.6 652.0,1856.3 653.1,1857.0 654.1,1857.6 655.2,1858.3 656.2,1859.0 657.3,1859.7 658.3,1860.4 659.4,1861.0 660.4,1861.7 661.5,1862.3 662.5,1862.8 663.6,1863.4 664.6,1863.9 665.7,1864.5 666.8,1865.0 667.8,1865.5 668.9,1866.1 669.9,1866.6 671.0,1867.2 672.0,1867.7 673.1,1868.3 674.1,1868.8 675.2,1869.4 676.2,1869.9 677.3,1870.2 678.3,1870.4 679.4,1870.7 680.4,1871.0 681.5,1871.3 682.5,1871.5 683.6,1871.8 684.6,1872.1 685.7,1872.4 686.7,1872.6 687.8,1872.9 688.8,1873.2 689.9,1873.4 690.9,1873.7 692.0,1874.0 692.0,1875.6 690.9,1875.3 689.9,1875.1 688.8,1874.8 687.8,1874.5 686.7,1874.3 685.7,1874.0 684.6,1873.7 683.6,1873.4 682.5,1873.2 681.5,1872.9 680.4,1872.6 679.4,1872.4 678.3,1872.1 677.3,1871.8 676.2,1871.5 675.2,1871.0 674.1,1870.4 673.1,1869.9 672.0,1869.4 671.0,1868.8 669.9,1868.3 668.9,1867.7 667.8,1867.2 666.8,1866.6 665.7,1866.1 664.6,1865.5 663.6,1865.0 662.5,1864.5 661.5,1863.9 660.4,1863.4 659.4,1862.7 658.3,1862.0 657.3,1861.3 656.2,1860.6 655.2,1860.0 654.1,1859.3 653.1,1858.6 652.0,1857.9 651.0,1857.2 649.9,1856.6 648.9,1855.9 647.8,1855.2 646.8,1854.5 645.7,1853.8 644.7,1853.1 643.6,1852.5 642.6,1851.8 641.5,1851.1 640.5,1854.3 639.4,1822.9 638.3,1793.9 637.3,1853.3 636.2,1839.9 635.2,1849.9 634.1,1860.8 633.1,1859.5 632.0,1853.1 631.0,1844.3 629.9,1847.4 628.9,1857.4 627.8,1838.7 626.8,1846.0 625.7,1846.5 624.7,1838.8 623.6,1836.1 622.6,1834.5 621.5,1847.8 620.5,1844.0 619.4,1850.4 618.4,1846.7 617.3,1851.1 616.3,1851.6 615.2,1843.7 614.2,1839.6 613.1,1848.0 612.0,1858.6 611.0,1849.5 609.9,1854.6 608.9,1847.4 607.8,1850.2 606.8,1810.7 605.7,1834.1 604.7,1846.5 603.6,1848.7 602.6,1854.4 601.5,1848.4 600.5,1840.0 599.4,1840.2 598.4,1844.0 597.3,1852.7 596.3,1853.8 595.2,1856.6 594.2,1843.0 593.1,1839.3 592.1,1837.1 591.0,1843.3 590.0,1847.2 588.9,1827.6 587.9,1846.1 586.8,1826.9 585.7,1838.6 584.7,1835.8 583.6,1844.7 582.6,1844.9 581.5,1854.9 580.5,1845.3 579.4,1836.5 578.4,1850.0 577.3,1850.0 576.3,1854.9 575.2,1852.5 574.2,1848.0 573.1,1795.7 572.1,1849.6 571.0,1858.3 570.0,1839.4 568.9,1772.7 567.9,1836.5 566.8,1832.1 565.8,1833.2 564.7,1823.4 563.7,1822.1 562.6,1843.0 561.6,1829.4 560.5,1833.6 559.4,1840.9 558.4,1847.4 557.3,1852.6 556.3,1842.6 555.2,1835.0 554.2,1852.8 553.1,1851.8 552.1,1862.9 551.0,1850.7 550.0,1859.2 548.9,1842.2 547.9,1856.7 546.8,1841.8 545.8,1847.9 544.7,1851.4 543.7,1851.9 542.6,1804.2 541.6,1845.7 540.5,1850.7 539.5,1836.5 538.4,1838.3 537.4,1836.7 536.3,1830.2 535.3,1837.1 534.2,1835.2 533.1,1845.0 532.1,1843.1 531.0,1841.1 530.0,1838.4 528.9,1834.9 527.9,1836.8 526.8,1835.6 525.8,1842.6 524.7,1855.9 523.7,1846.2 522.6,1817.7 521.6,1850.1 520.5,1846.3 519.5,1854.6 518.4,1846.1 517.4,1843.4 516.3,1839.5 515.3,1842.2 514.2,1843.9 513.2,1834.4 512.1,1838.0 511.1,1836.0 510.0,1855.3 509.0,1854.2 507.9,1835.7 506.8,1831.1 505.8,1833.0 504.7,1827.4 503.7,1830.8 502.6,1846.5 501.6,1848.8 500.5,1839.7 499.5,1843.1 498.4,1840.9 497.4,1846.6 496.3,1848.1 495.3,1852.1 494.2,1834.0 493.2,1843.6 492.1,1828.9 491.1,1841.1 490.0,1840.6 489.0,1846.0 487.9,1845.3 486.9,1836.8 485.8,1825.4 484.8,1823.9 483.7,1837.8 482.7,1844.9 481.6,1859.8" fill="#4a76b2" fill-opacity="0.33" stroke="none"/><polygon points="481.6,1844.8 482.7,1859.3 483.7,1860.7 484.8,1852.2 485.8,1844.8 486.9,1840.6 487.9,1826.9 489.0,1842.6 490.0,1851.3 491.1,1847.9 492.1,1849.8 493.2,1848.8 494.2,1851.7 495.3,1849.1 496.3,1851.1 497.4,1850.9 498.4,1855.0 499.5,1851.2 500.5,1853.0 501.6,1846.2 502.6,1849.2 503.7,1841.5 504.7,1842.0 505.8,1848.2 506.8,1852.5 507.9,1858.7 509.0,1850.6 510.0,1850.4 511.1,1850.1 512.1,1853.1 513.2,1831.9 514.2,1850.4 515.3,1844.2 516.3,1847.5 517.4,1844.7 518.4,1833.5 519.5,1844.1 520.5,1847.5 521.6,1839.1 522.6,1841.5 523.7,1848.6 524.7,1853.4 525.8,1849.5 526.8,1849.1 527.9,1847.8 528.9,1846.5 530.0,1854.2 531.0,1850.3 532.1,1849.6 533.1,1848.8 534.2,1827.8 535.3,1846.9 536.3,1844.9 537.4,1839.5 538.4,1848.2 539.5,1833.8 540.5,1849.7 541.6,1854.0 542.6,1854.1 543.7,1845.6 544.7,1851.8 545.8,1829.7 546.8,1853.1 547.9,1841.2 548.9,1841.0 550.0,1840.3 551.0,1845.8 552.1,1843.9 553.1,1849.7 554.2,1855.0 555.2,1859.0 556.3,1863.9 557.3,1858.6 558.4,1864.1 559.4,1857.6 560.5,1860.9 561.6,1851.1 562.6,1849.5 563.7,1848.7 564.7,1847.2 565.8,1830.3 566.8,1842.7 567.9,1841.7 568.9,1850.4 570.0,1852.8 571.0,1855.2 572.1,1848.3 573.1,1855.9 574.2,1852.4 575.2,1851.4 576.3,1850.3 577.3,1848.9 578.4,1846.2 579.4,1850.9 580.5,1849.8 581.5,1850.4 582.6,1861.7 583.6,1863.8 584.7,1861.1 585.7,1849.3 586.8,1838.8 587.9,1847.1 588.9,1858.7 590.0,1820.7 591.0,1854.9 592.1,1848.0 593.1,1848.1 594.2,1854.2 595.2,1849.5 596.3,1858.6 597.3,1856.2 598.4,1863.0 599.4,1863.0 600.5,1857.1 601.5,1854.4 602.6,1855.9 603.6,1857.4 604.7,1861.8 605.7,1863.4 606.8,1860.2 607.8,1866.3 608.9,1866.7 609.9,1867.2 611.0,1867.6 612.0,1868.1 613.1,1868.5 614.2,1868.9 615.2,1869.2 616.3,1869.5 617.3,1869.8 618.4,1870.2 619.4,1870.5 620.5,1870.8 621.5,1871.2 622.6,1871.5 623.6,1871.8 624.7,1872.1 625.7,1872.5 626.8,1872.8 627.8,1873.1 628.9,1873.4 629.9,1873.8 631.0,1874.1 632.0,1874.4 633.1,1874.7 634.1,1875.1 635.2,1875.4 636.2,1875.7 637.3,1876.1 638.3,1876.4 639.4,1876.7 640.5,1876.9 641.5,1877.0 642.6,1877.2 643.6,1877.4 644.7,1877.5 645.7,1877.7 646.8,1877.9 647.8,1878.0 648.9,1878.2 649.9,1878.3 651.0,1878.5 652.0,1878.7 653.1,1878.8 654.1,1879.0 655.2,1879.2 656.2,1879.3 657.3,1879.5 658.3,1879.7 659.4,1879.8 660.4,1880.0 661.5,1880.1 662.5,1880.3 663.6,1880.5 664.6,1880.6 665.7,1880.8 666.8,1880.9 667.8,1880.9 668.9,1881.0 669.9,1881.0 671.0,1881.1 672.0,1881.1 673.1,1881.2 674.1,1881.2 675.2,1881.3 676.2,1881.3 677.3,1881.4 678.3,1881.5 679.4,1881.5 680.4,1881.6 681.5,1881.6 682.5,1881.7 683.6,1881.7 684.6,1881.8 685.7,1881.8 686.7,1881.9 687.8,1881.9 688.8,1882.0 689.9,1882.0 690.9,1882.1 692.0,1882.2 692.0,1883.8 690.9,1883.7 689.9,1883.7 688.8,1883.6 687.8,1883.6 686.7,1883.5 685.7,1883.5 684.6,1883.4 683.6,1883.4 682.5,1883.3 681.5,1883.2 680.4,1883.2 679.4,1883.1 678.3,1883.1 677.3,1883.0 676.2,1883.0 675.2,1882.9 674.1,1882.9 673.1,1882.8 672.0,1882.8 671.0,1882.7 669.9,1882.6 668.9,1882.6 667.8,1882.5 666.8,1882.5 665.7,1882.4 664.6,1882.3 663.6,1882.1 662.5,1881.9 661.5,1881.8 660.4,1881.6 659.4,1881.5 658.3,1881.3 657.3,1881.1 656.2,1881.0 655.2,1880.8 654.1,1880.6 653.1,1880.5 652.0,1880.3 651.0,1880.1 649.9,1880.0 648.9,1879.8 647.8,1879.7 646.8,1879.5 645.7,1879.3 644.7,1879.2 643.6,1879.0 642.6,1878.8 641.5,1878.7 640.5,1878.5 639.4,1878.3 638.3,1878.0 637.3,1877.7 636.2,1877.4 635.2,1877.0 634.1,1876.7 633.1,1876.4 632.0,1876.1 631.0,1875.7 629.9,1875.4 628.9,1875.1 627.8,1874.7 626.8,1874.4 625.7,1874.1 624.7,1873.8 623.6,1873.4 622.6,1873.1 621.5,1872.8 620.5,1872.5 619.4,1872.1 618.4,1871.8 617.3,1871.5 616.3,1871.2 615.2,1870.8 614.2,1870.5 613.1,1870.2 612.0,1869.7 611.0,1869.3 609.9,1868.8 608.9,1868.4 607.8,1867.9 606.8,1868.9 605.7,1871.0 604.7,1872.7 603.6,1868.5 602.6,1866.2 601.5,1871.3 600.5,1872.8 599.4,1871.8 598.4,1871.9 597.3,1868.3 596.3,1869.1 595.2,1864.4 594.2,1862.3 593.1,1863.4 592.1,1861.0 591.0,1873.9 590.0,1865.1 588.9,1871.9 587.9,1863.5 586.8,1853.6 585.7,1862.9 584.7,1870.5 583.6,1876.9 582.6,1872.1 581.5,1862.4 580.5,1863.0 579.4,1870.7 578.4,1861.4 577.3,1861.5 576.3,1866.7 575.2,1863.5 574.2,1867.0 573.1,1863.4 572.1,1866.3 571.0,1868.4 570.0,1865.3 568.9,1863.0 567.9,1864.0 566.8,1858.5 565.8,1860.6 564.7,1858.5 563.7,1858.2 562.6,1864.3 561.6,1865.5 560.5,1874.8 559.4,1867.0 558.4,1876.5 557.3,1875.7 556.3,1874.0 555.2,1876.5 554.2,1865.3 553.1,1857.5 552.1,1861.0 551.0,1856.8 550.0,1868.1 548.9,1862.0 547.9,1866.7 546.8,1872.5 545.8,1844.8 544.7,1867.3 543.7,1860.1 542.6,1866.2 541.6,1865.5 540.5,1863.2 539.5,1861.0 538.4,1858.7 537.4,1852.3 536.3,1856.3 535.3,1864.3 534.2,1843.3 533.1,1865.0 532.1,1866.7 531.0,1865.3 530.0,1868.5 528.9,1865.4 527.9,1866.3 526.8,1868.5 525.8,1863.3 524.7,1868.7 523.7,1861.2 522.6,1859.7 521.6,1856.6 520.5,1860.1 519.5,1859.1 518.4,1858.2 517.4,1852.4 516.3,1859.9 515.3,1864.1 514.2,1866.3 513.2,1865.6 512.1,1864.1 511.1,1864.7 510.0,1857.1 509.0,1863.2 507.9,1865.0 506.8,1864.3 505.8,1856.1 504.7,1860.0 503.7,1852.9 502.6,1863.7 501.6,1858.9 500.5,1862.8 499.5,1859.1 498.4,1867.6 497.4,1865.8 496.3,1867.8 495.3,1860.0 494.2,1868.0 493.2,1861.5 492.1,1864.8 491.1,1859.0 490.0,1860.5 489.0,1861.4 487.9,1860.2 486.9,1854.5 485.8,1856.3 484.8,1862.3 483.7,1877.4 482.7,1874.9 481.6,1864.9" fill="#e08a3c" fill-opacity="0.33" stroke="none"/><polyline points="481.6,1855.7 482.7,1841.9 483.7,1826.9 484.8,1820.3 485.8,1822.5 486.9,1825.8 487.9,1836.8 489.0,1834.3 490.0,1832.9 491.1,1828.2 492.1,1825.5 493.2,1833.7 494.2,1830.6 495.3,1841.0 496.3,1838.6 497.4,1841.2 498.4,1830.7 499.5,1831.1 500.5,1834.3 501.6,1844.5 502.6,1832.0 503.7,1826.1 504.7,1819.8 505.8,1819.7 506.8,1820.8 507.9,1830.8 509.0,1841.0 510.0,1846.8 511.1,1830.5 512.1,1834.2 513.2,1828.3 514.2,1838.5 515.3,1834.7 516.3,1835.9 517.4,1834.4 518.4,1835.5 519.5,1840.5 520.5,1842.6 521.6,1844.1 522.6,1806.1 523.7,1839.9 524.7,1836.5 525.8,1831.1 526.8,1832.5 527.9,1824.4 528.9,1829.3 530.0,1832.3 531.0,1836.0 532.1,1835.9 533.1,1831.6 534.2,1831.8 535.3,1829.5 536.3,1823.2 537.4,1831.6 538.4,1829.9 539.5,1830.7 540.5,1839.4 541.6,1842.3 542.6,1794.3 543.7,1845.6 544.7,1848.5 545.8,1840.8 546.8,1834.4 547.9,1832.7 548.9,1835.7 550.0,1843.2 551.0,1846.2 552.1,1846.2 553.1,1839.7 554.2,1832.4 555.2,1828.4 556.3,1831.8 557.3,1844.6 558.4,1843.3 559.4,1837.1 560.5,1822.7 561.6,1822.8 562.6,1823.8 563.7,1816.8 564.7,1819.2 565.8,1817.4 566.8,1824.9 567.9,1823.5 568.9,1767.4 570.0,1834.8 571.0,1842.1 572.1,1839.3 573.1,1791.6 574.2,1839.6 575.2,1845.0 576.3,1848.5 577.3,1837.5 578.4,1835.5 579.4,1830.4 580.5,1841.7 581.5,1844.8 582.6,1841.2 583.6,1837.4 584.7,1832.5 585.7,1829.4 586.8,1820.3 587.9,1818.5 588.9,1824.0 590.0,1831.4 591.0,1835.4 592.1,1829.4 593.1,1835.3 594.2,1834.6 595.2,1850.3 596.3,1850.7 597.3,1848.8 598.4,1839.5 599.4,1833.2 600.5,1836.2 601.5,1841.0 602.6,1844.5 603.6,1844.9 604.7,1837.8 605.7,1830.0 606.8,1791.6 607.8,1833.5 608.9,1843.1 609.9,1843.7 611.0,1842.6 612.0,1846.2 613.1,1842.1 614.2,1832.8 615.2,1835.5 616.3,1844.5 617.3,1848.0 618.4,1843.3 619.4,1843.7 620.5,1840.0 621.5,1841.1 622.6,1830.2 623.6,1828.3 624.7,1831.0 625.7,1840.2 626.8,1839.3 627.8,1835.3 628.9,1835.3 629.9,1836.5 631.0,1841.2 632.0,1846.0 633.1,1852.4 634.1,1848.8 635.2,1836.7 636.2,1830.2 637.3,1834.3 638.3,1785.0 639.4,1819.2 640.5,1845.6 641.5,1850.3 642.6,1851.0 643.6,1851.7 644.7,1852.3 645.7,1853.0 646.8,1853.7 647.8,1854.4 648.9,1855.1 649.9,1855.7 651.0,1856.4 652.0,1857.1 653.1,1857.8 654.1,1858.5 655.2,1859.1 656.2,1859.8 657.3,1860.5 658.3,1861.2 659.4,1861.9 660.4,1862.5 661.5,1863.1 662.5,1863.6 663.6,1864.2 664.6,1864.7 665.7,1865.3 666.8,1865.8 667.8,1866.4 668.9,1866.9 669.9,1867.4 671.0,1868.0 672.0,1868.5 673.1,1869.1 674.1,1869.6 675.2,1870.2 676.2,1870.7 677.3,1871.0 678.3,1871.3 679.4,1871.5 680.4,1871.8 681.5,1872.1 682.5,1872.4 683.6,1872.6 684.6,1872.9 685.7,1873.2 686.7,1873.4 687.8,1873.7 688.8,1874.0 689.9,1874.3 690.9,1874.5 692.0,1874.8" fill="none" stroke="#4a76b2" stroke-width="1.1"/><polyline points="481.6,1851.5 482.7,1868.5 483.7,1864.9 484.8,1856.2 485.8,1853.0 486.9,1848.3 487.9,1853.5 489.0,1853.2 490.0,1856.4 491.1,1851.8 492.1,1857.1 493.2,1857.1 494.2,1861.8 495.3,1856.1 496.3,1859.3 497.4,1855.0 498.4,1858.6 499.5,1854.8 500.5,1857.8 501.6,1855.3 502.6,1855.7 503.7,1848.5 504.7,1849.9 505.8,1851.2 506.8,1859.9 507.9,1861.6 509.0,1857.2 510.0,1853.6 511.1,1853.9 512.1,1858.5 513.2,1855.2 514.2,1858.4 515.3,1853.5 516.3,1854.2 517.4,1848.0 518.4,1852.6 519.5,1849.2 520.5,1852.1 521.6,1850.0 522.6,1854.7 523.7,1856.8 524.7,1859.2 525.8,1857.7 526.8,1855.3 527.9,1856.0 528.9,1857.8 530.0,1859.3 531.0,1861.1 532.1,1860.9 533.1,1861.1 534.2,1832.4 535.3,1855.3 536.3,1849.8 537.4,1848.8 538.4,1851.3 539.5,1853.5 540.5,1858.8 541.6,1857.1 542.6,1859.4 543.7,1853.1 544.7,1856.0 545.8,1839.5 546.8,1859.7 547.9,1856.4 548.9,1855.3 550.0,1851.1 551.0,1852.5 552.1,1852.9 553.1,1854.0 554.2,1861.2 555.2,1867.1 556.3,1868.5 557.3,1866.7 558.4,1867.3 559.4,1861.4 560.5,1865.2 561.6,1860.9 562.6,1857.6 563.7,1854.4 564.7,1850.9 565.8,1854.8 566.8,1854.9 567.9,1853.6 568.9,1859.0 570.0,1859.1 571.0,1860.5 572.1,1858.6 573.1,1859.8 574.2,1859.7 575.2,1858.4 576.3,1855.1 577.3,1855.8 578.4,1854.0 579.4,1859.9 580.5,1858.0 581.5,1858.3 582.6,1866.0 583.6,1868.8 584.7,1864.0 585.7,1856.2 586.8,1845.9 587.9,1858.3 588.9,1862.9 590.0,1857.9 591.0,1862.4 592.1,1858.0 593.1,1859.2 594.2,1858.9 595.2,1859.8 596.3,1862.9 597.3,1863.4 598.4,1866.5 599.4,1867.4 600.5,1864.6 601.5,1861.9 602.6,1860.3 603.6,1865.5 604.7,1867.1 605.7,1866.9 606.8,1863.3 607.8,1867.1 608.9,1867.5 609.9,1868.0 611.0,1868.4 612.0,1868.9 613.1,1869.4 614.2,1869.7 615.2,1870.0 616.3,1870.3 617.3,1870.7 618.4,1871.0 619.4,1871.3 620.5,1871.6 621.5,1872.0 622.6,1872.3 623.6,1872.6 624.7,1873.0 625.7,1873.3 626.8,1873.6 627.8,1873.9 628.9,1874.3 629.9,1874.6 631.0,1874.9 632.0,1875.2 633.1,1875.6 634.1,1875.9 635.2,1876.2 636.2,1876.5 637.3,1876.9 638.3,1877.2 639.4,1877.5 640.5,1877.7 641.5,1877.9 642.6,1878.0 643.6,1878.2 644.7,1878.3 645.7,1878.5 646.8,1878.7 647.8,1878.8 648.9,1879.0 649.9,1879.2 651.0,1879.3 652.0,1879.5 653.1,1879.7 654.1,1879.8 655.2,1880.0 656.2,1880.1 657.3,1880.3 658.3,1880.5 659.4,1880.6 660.4,1880.8 661.5,1881.0 662.5,1881.1 663.6,1881.3 664.6,1881.5 665.7,1881.6 666.8,1881.7 667.8,1881.7 668.9,1881.8 669.9,1881.8 671.0,1881.9 672.0,1881.9 673.1,1882.0 674.1,1882.0 675.2,1882.1 676.2,1882.2 677.3,1882.2 678.3,1882.3 679.4,1882.3 680.4,1882.4 681.5,1882.4 682.5,1882.5 683.6,1882.5 684.6,1882.6 685.7,1882.6 686.7,1882.7 687.8,1882.8 688.8,1882.8 689.9,1882.9 690.9,1882.9 692.0,1883.0" fill="none" stroke="#e08a3c" stroke-width="1.0" stroke-dasharray="3,1.5"/><rect x="481.6" y="1681.4" width="210.39999999999998" height="204.29999999999995" fill="none" stroke="#555" stroke-width="1.0"/><text x="477.6" y="1889.7" font-family="Liberation Sans" font-size="11.5" text-anchor="end" fill="#333" >0</text><text x="477.6" y="1862.5" font-family="Liberation Sans" font-size="11.5" text-anchor="end" fill="#333" >20</text><text x="477.6" y="1835.2" font-family="Liberation Sans" font-size="11.5" text-anchor="end" fill="#333" >40</text><text x="477.6" y="1808.0" font-family="Liberation Sans" font-size="11.5" text-anchor="end" fill="#333" >60</text><text x="477.6" y="1780.7" font-family="Liberation Sans" font-size="11.5" text-anchor="end" fill="#333" >80</text><text x="477.6" y="1753.5" font-family="Liberation Sans" font-size="11.5" text-anchor="end" fill="#333" >100</text><text x="477.6" y="1726.3" font-family="Liberation Sans" font-size="11.5" text-anchor="end" fill="#333" >120</text><text x="477.6" y="1699.0" font-family="Liberation Sans" font-size="11.5" text-anchor="end" fill="#333" >140</text><text x="481.6" y="1898.7" font-family="Liberation Sans" font-size="11.5" text-anchor="middle" fill="#333" >0</text><text x="534.2" y="1898.7" font-family="Liberation Sans" font-size="11.5" text-anchor="middle" fill="#333" >50</text><text x="586.8" y="1898.7" font-family="Liberation Sans" font-size="11.5" text-anchor="middle" fill="#333" >100</text><text x="639.4" y="1898.7" font-family="Liberation Sans" font-size="11.5" text-anchor="middle" fill="#333" >150</text><text x="692.0" y="1898.7" font-family="Liberation Sans" font-size="11.5" text-anchor="middle" fill="#333" >200</text><text x="586.8" y="1912.7" font-family="Liberation Sans" font-size="12" text-anchor="middle" fill="#333" >epoch</text><text transform="translate(448.6,1783.5500000000002) rotate(-90)" font-family="Liberation Serif" font-style="italic" font-size="12.5" text-anchor="middle" fill="#333">E<tspan font-size="8" dy="3">B</tspan><tspan dy="-3">‖</tspan><tspan font-style="normal" dx="7.6" dy="-8.2" rotate="180">Δ</tspan><tspan dx="-7.6" dy="8.2">L(B, w)‖²</tspan></text><line x1="622.0" y1="1696.4" x2="645.0" y2="1696.4" stroke="#4a76b2" stroke-width="1.2"/><line x1="622.0" y1="1713.4" x2="645.0" y2="1713.4" stroke="#e08a3c" stroke-width="1.2" stroke-dasharray="3,1.5"/><text x="655.0" y="1700.9" font-family="Liberation Sans" font-size="11.5" text-anchor="start" fill="#333" >ERM</text><text x="655.0" y="1717.9" font-family="Liberation Sans" font-size="11.5" text-anchor="start" fill="#333" >SAM</text><polygon points="750.0,1849.6 750.7,1845.7 751.4,1871.4 752.1,1862.2 752.9,1839.7 753.6,1830.7 754.3,1837.4 755.0,1832.7 755.7,1826.7 756.4,1782.3 757.2,1802.1 757.9,1789.5 758.6,1810.5 759.3,1773.5 760.0,1797.2 760.7,1788.6 761.5,1752.1 762.2,1788.0 762.9,1775.8 763.6,1796.4 764.3,1790.8 765.0,1807.6 765.7,1792.5 766.5,1793.6 767.2,1800.9 767.9,1809.3 768.6,1801.1 769.3,1806.1 770.0,1807.7 770.8,1779.2 771.5,1794.9 772.2,1805.3 772.9,1778.9 773.6,1794.8 774.3,1799.9 775.0,1710.5 775.8,1703.5 776.5,1797.0 777.2,1801.8 777.9,1747.5 778.6,1787.1 779.3,1793.3 780.1,1795.5 780.8,1772.6 781.5,1771.8 782.2,1798.0 782.9,1801.3 783.6,1724.9 784.4,1798.7 785.1,1800.1 785.8,1793.3 786.5,1820.0 787.2,1816.9 787.9,1814.1 788.6,1787.3 789.4,1775.3 790.1,1783.4 790.8,1717.0 791.5,1793.3 792.2,1775.7 792.9,1774.1 793.7,1797.9 794.4,1796.3 795.1,1807.9 795.8,1790.8 796.5,1791.5 797.2,1784.3 797.9,1797.3 798.7,1788.4 799.4,1711.8 800.1,1795.5 800.8,1779.1 801.5,1758.0 802.2,1800.2 803.0,1798.7 803.7,1786.3 804.4,1738.9 805.1,1792.1 805.8,1799.9 806.5,1793.9 807.3,1782.4 808.0,1795.4 808.7,1709.9 809.4,1826.3 810.1,1750.1 810.8,1814.5 811.5,1763.8 812.3,1786.7 813.0,1771.1 813.7,1805.8 814.4,1815.5 815.1,1814.6 815.8,1825.2 816.6,1821.2 817.3,1815.8 818.0,1749.8 818.7,1804.0 819.4,1802.3 820.1,1775.1 820.9,1791.8 821.6,1792.6 822.3,1801.9 823.0,1798.0 823.7,1682.0 824.4,1774.5 825.1,1777.7 825.9,1788.9 826.6,1802.6 827.3,1807.1 828.0,1801.9 828.7,1809.6 829.4,1811.1 830.2,1803.6 830.9,1806.9 831.6,1786.8 832.3,1792.6 833.0,1800.4 833.7,1792.3 834.4,1805.8 835.2,1788.1 835.9,1818.4 836.6,1803.9 837.3,1802.4 838.0,1787.7 838.7,1783.0 839.5,1753.4 840.2,1796.6 840.9,1787.3 841.6,1783.6 842.3,1791.8 843.0,1812.7 843.8,1806.9 844.5,1721.9 845.2,1793.8 845.9,1802.8 846.6,1804.6 847.3,1822.6 848.0,1815.4 848.8,1826.5 849.5,1828.9 850.2,1808.1 850.9,1817.1 851.6,1803.9 852.3,1790.6 853.1,1792.1 853.8,1789.3 854.5,1787.4 855.2,1779.1 855.9,1786.5 856.6,1779.4 857.4,1806.8 858.1,1804.4 858.8,1795.6 859.5,1804.9 860.2,1791.9 860.9,1792.1 861.6,1804.9 862.4,1813.9 863.1,1781.5 863.8,1797.2 864.5,1815.6 865.2,1814.8 865.9,1812.4 866.7,1789.6 867.4,1792.9 868.1,1796.6 868.8,1815.3 869.5,1797.7 870.2,1806.3 870.9,1792.8 871.7,1790.9 872.4,1772.5 873.1,1796.2 873.8,1795.2 874.5,1785.2 875.2,1792.9 876.0,1799.1 876.7,1797.3 877.4,1829.7 878.1,1807.1 878.8,1829.9 879.5,1810.5 880.3,1795.8 881.0,1802.0 881.7,1785.2 882.4,1807.0 883.1,1802.5 883.8,1732.6 884.5,1795.1 885.3,1802.7 886.0,1783.7 886.7,1791.4 887.4,1801.7 888.1,1792.0 888.8,1777.4 889.6,1774.8 890.3,1786.9 891.0,1803.7 891.7,1795.2 892.4,1783.5 893.1,1791.4 893.8,1792.0 894.6,1807.6 895.3,1797.9 896.0,1777.0 896.7,1789.8 897.4,1788.1 898.1,1785.7 898.9,1773.7 899.6,1786.6 900.3,1780.1 901.0,1781.6 901.7,1787.6 902.4,1804.2 903.2,1805.8 903.9,1810.9 904.6,1808.5 905.3,1799.6 906.0,1801.3 906.7,1801.1 907.4,1781.6 908.2,1800.2 908.9,1800.4 909.6,1786.1 910.3,1800.0 911.0,1796.4 911.7,1712.0 912.5,1788.3 913.2,1806.8 913.9,1828.2 914.6,1743.6 915.3,1815.7 916.0,1771.7 916.8,1794.3 917.5,1791.7 918.2,1796.7 918.9,1798.3 919.6,1727.6 920.3,1806.7 921.0,1809.9 921.8,1791.4 922.5,1792.1 923.2,1793.6 923.9,1809.5 924.6,1780.9 925.3,1794.0 926.1,1801.4 926.8,1814.9 927.5,1817.7 928.2,1804.2 928.9,1828.6 929.6,1830.0 930.3,1831.4 931.1,1832.8 931.8,1834.2 932.5,1835.6 933.2,1836.5 933.9,1837.5 934.6,1838.4 935.4,1839.3 936.1,1840.2 936.8,1841.1 937.5,1842.0 938.2,1843.0 938.9,1843.9 939.7,1844.8 940.4,1845.7 941.1,1846.6 941.8,1847.5 942.5,1848.5 943.2,1849.4 943.9,1850.3 944.7,1851.2 945.4,1852.1 946.1,1853.1 946.8,1854.0 947.5,1854.5 948.2,1855.0 949.0,1855.5 949.7,1856.1 950.4,1856.6 951.1,1857.1 951.8,1857.6 952.5,1858.2 953.2,1858.7 954.0,1859.2 954.7,1859.7 955.4,1860.3 956.1,1860.8 956.8,1861.3 957.5,1861.8 958.3,1862.4 959.0,1862.9 959.7,1863.4 960.4,1863.9 961.1,1864.4 961.8,1865.0 962.6,1865.5 963.3,1866.0 964.0,1866.5 964.7,1867.1 964.7,1870.2 964.0,1869.7 963.3,1869.2 962.6,1868.6 961.8,1868.1 961.1,1867.6 960.4,1867.1 959.7,1866.5 959.0,1866.0 958.3,1865.5 957.5,1865.0 956.8,1864.4 956.1,1863.9 955.4,1863.4 954.7,1862.9 954.0,1862.4 953.2,1861.8 952.5,1861.3 951.8,1860.8 951.1,1860.3 950.4,1859.7 949.7,1859.2 949.0,1858.7 948.2,1858.2 947.5,1857.6 946.8,1857.1 946.1,1856.2 945.4,1855.3 944.7,1854.4 943.9,1853.4 943.2,1852.5 942.5,1851.6 941.8,1850.7 941.1,1849.8 940.4,1848.9 939.7,1847.9 938.9,1847.0 938.2,1846.1 937.5,1845.2 936.8,1844.3 936.1,1843.4 935.4,1842.4 934.6,1841.5 933.9,1840.6 933.2,1839.7 932.5,1838.8 931.8,1837.4 931.1,1836.0 930.3,1834.6 929.6,1833.2 928.9,1831.8 928.2,1836.2 927.5,1836.0 926.8,1853.0 926.1,1831.3 925.3,1820.9 924.6,1822.5 923.9,1839.3 923.2,1820.0 922.5,1809.8 921.8,1813.9 921.0,1832.6 920.3,1838.2 919.6,1853.0 918.9,1847.6 918.2,1824.5 917.5,1816.1 916.8,1812.2 916.0,1806.1 915.3,1835.4 914.6,1847.4 913.9,1853.4 913.2,1834.6 912.5,1824.3 911.7,1845.0 911.0,1823.1 910.3,1820.2 909.6,1825.0 908.9,1814.8 908.2,1815.8 907.4,1815.0 906.7,1820.1 906.0,1844.9 905.3,1855.5 904.6,1829.0 903.9,1829.1 903.2,1836.9 902.4,1840.6 901.7,1820.5 901.0,1827.3 900.3,1821.4 899.6,1807.1 898.9,1799.3 898.1,1811.0 897.4,1806.0 896.7,1811.4 896.0,1815.2 895.3,1815.2 894.6,1845.8 893.8,1815.0 893.1,1812.8 892.4,1810.6 891.7,1845.8 891.0,1828.1 890.3,1818.7 889.6,1816.8 888.8,1821.6 888.1,1830.3 887.4,1826.4 886.7,1815.9 886.0,1808.5 885.3,1828.6 884.5,1816.1 883.8,1765.0 883.1,1820.7 882.4,1832.7 881.7,1815.6 881.0,1822.5 880.3,1846.0 879.5,1830.1 878.8,1843.3 878.1,1841.4 877.4,1847.3 876.7,1839.5 876.0,1828.0 875.2,1824.4 874.5,1817.3 873.8,1819.7 873.1,1824.4 872.4,1814.8 871.7,1820.4 870.9,1815.1 870.2,1847.4 869.5,1831.1 868.8,1839.4 868.1,1817.1 867.4,1832.5 866.7,1839.1 865.9,1845.8 865.2,1834.1 864.5,1845.0 863.8,1835.6 863.1,1822.2 862.4,1832.8 861.6,1831.8 860.9,1813.3 860.2,1821.4 859.5,1823.0 858.8,1823.0 858.1,1831.1 857.4,1822.0 856.6,1804.2 855.9,1813.6 855.2,1808.1 854.5,1806.8 853.8,1814.2 853.1,1808.9 852.3,1818.7 851.6,1832.4 850.9,1837.0 850.2,1837.1 849.5,1874.8 848.8,1853.1 848.0,1842.1 847.3,1870.5 846.6,1843.3 845.9,1836.0 845.2,1820.8 844.5,1757.6 843.8,1839.4 843.0,1834.0 842.3,1831.7 841.6,1831.7 840.9,1825.0 840.2,1826.8 839.5,1784.6 838.7,1826.1 838.0,1821.2 837.3,1829.4 836.6,1835.2 835.9,1850.6 835.2,1825.4 834.4,1844.7 833.7,1815.8 833.0,1833.6 832.3,1832.2 831.6,1840.2 830.9,1837.6 830.2,1840.8 829.4,1852.1 828.7,1840.3 828.0,1847.7 827.3,1825.0 826.6,1815.2 825.9,1820.2 825.1,1803.7 824.4,1807.5 823.7,1801.4 823.0,1818.6 822.3,1817.5 821.6,1827.8 820.9,1813.4 820.1,1792.4 819.4,1835.1 818.7,1826.3 818.0,1833.4 817.3,1844.4 816.6,1843.2 815.8,1853.0 815.1,1827.5 814.4,1839.0 813.7,1823.0 813.0,1819.2 812.3,1814.2 811.5,1820.4 810.8,1837.6 810.1,1847.7 809.4,1855.6 808.7,1846.0 808.0,1825.9 807.3,1804.8 806.5,1808.9 805.8,1819.6 805.1,1831.9 804.4,1767.6 803.7,1824.3 803.0,1825.3 802.2,1824.8 801.5,1800.9 800.8,1801.0 800.1,1819.7 799.4,1746.3 798.7,1822.2 797.9,1832.0 797.2,1813.9 796.5,1815.8 795.8,1814.2 795.1,1833.2 794.4,1830.0 793.7,1826.2 792.9,1807.6 792.2,1800.4 791.5,1813.1 790.8,1835.6 790.1,1806.1 789.4,1800.1 788.6,1807.2 787.9,1848.3 787.2,1848.5 786.5,1863.3 785.8,1825.1 785.1,1821.9 784.4,1817.4 783.6,1764.5 782.9,1846.7 782.2,1829.4 781.5,1813.0 780.8,1803.9 780.1,1825.9 779.3,1824.1 778.6,1816.3 777.9,1826.9 777.2,1847.5 776.5,1829.8 775.8,1822.6 775.0,1843.3 774.3,1816.0 773.6,1827.1 772.9,1826.0 772.2,1836.4 771.5,1842.7 770.8,1810.0 770.0,1831.3 769.3,1848.9 768.6,1836.5 767.9,1832.4 767.2,1832.7 766.5,1832.3 765.7,1824.3 765.0,1837.7 764.3,1832.0 763.6,1826.7 762.9,1807.0 762.2,1823.2 761.5,1827.1 760.7,1848.2 760.0,1827.8 759.3,1814.6 758.6,1852.7 757.9,1820.6 757.2,1840.7 756.4,1818.0 755.7,1848.8 755.0,1846.3 754.3,1865.0 753.6,1865.2 752.9,1871.0 752.1,1884.0 751.4,1889.1 750.7,1881.0 750.0,1889.6" fill="#4a76b2" fill-opacity="0.33" stroke="none"/><polygon points="750.0,1864.5 750.7,1850.5 751.4,1852.1 752.1,1849.2 752.9,1847.8 753.6,1831.5 754.3,1801.3 755.0,1832.0 755.7,1829.1 756.4,1839.9 757.2,1837.6 757.9,1846.3 758.6,1837.1 759.3,1822.7 760.0,1816.5 760.7,1838.4 761.5,1841.9 762.2,1834.3 762.9,1817.6 763.6,1836.8 764.3,1836.9 765.0,1796.8 765.7,1810.8 766.5,1807.1 767.2,1824.6 767.9,1837.1 768.6,1834.4 769.3,1825.5 770.0,1814.0 770.8,1805.5 771.5,1839.3 772.2,1850.1 772.9,1838.6 773.6,1818.3 774.3,1842.7 775.0,1837.7 775.8,1827.2 776.5,1821.6 777.2,1830.7 777.9,1829.9 778.6,1830.4 779.3,1833.2 780.1,1807.5 780.8,1809.7 781.5,1833.2 782.2,1835.5 782.9,1834.2 783.6,1836.8 784.4,1836.0 785.1,1816.6 785.8,1828.9 786.5,1833.4 787.2,1836.9 787.9,1831.9 788.6,1835.9 789.4,1828.7 790.1,1831.5 790.8,1820.1 791.5,1827.2 792.2,1831.9 792.9,1822.5 793.7,1839.4 794.4,1829.7 795.1,1809.9 795.8,1820.3 796.5,1814.7 797.2,1831.4 797.9,1828.6 798.7,1788.2 799.4,1825.7 800.1,1836.3 800.8,1833.4 801.5,1827.1 802.2,1816.5 803.0,1830.3 803.7,1840.5 804.4,1836.0 805.1,1833.6 805.8,1826.8 806.5,1843.9 807.3,1790.9 808.0,1834.7 808.7,1824.9 809.4,1829.5 810.1,1817.8 810.8,1808.1 811.5,1843.9 812.3,1825.5 813.0,1837.4 813.7,1843.8 814.4,1856.4 815.1,1847.3 815.8,1841.0 816.6,1837.9 817.3,1842.7 818.0,1829.4 818.7,1840.0 819.4,1831.7 820.1,1832.3 820.9,1834.7 821.6,1827.5 822.3,1842.7 823.0,1841.7 823.7,1823.8 824.4,1745.2 825.1,1835.6 825.9,1819.0 826.6,1830.6 827.3,1828.0 828.0,1829.1 828.7,1827.8 829.4,1829.8 830.2,1829.9 830.9,1851.5 831.6,1847.1 832.3,1840.2 833.0,1837.2 833.7,1841.1 834.4,1833.0 835.2,1836.9 835.9,1827.0 836.6,1840.4 837.3,1838.7 838.0,1836.7 838.7,1834.7 839.5,1842.2 840.2,1839.8 840.9,1849.7 841.6,1854.4 842.3,1850.3 843.0,1847.1 843.8,1840.4 844.5,1835.8 845.2,1802.2 845.9,1830.6 846.6,1841.7 847.3,1831.9 848.0,1848.2 848.8,1845.4 849.5,1850.2 850.2,1848.9 850.9,1846.2 851.6,1821.0 852.3,1819.1 853.1,1833.0 853.8,1832.1 854.5,1827.7 855.2,1839.8 855.9,1843.8 856.6,1789.2 857.4,1850.0 858.1,1850.5 858.8,1849.6 859.5,1791.7 860.2,1842.0 860.9,1852.7 861.6,1849.0 862.4,1863.8 863.1,1857.1 863.8,1833.6 864.5,1837.9 865.2,1848.5 865.9,1852.7 866.7,1863.1 867.4,1863.7 868.1,1857.2 868.8,1857.0 869.5,1850.7 870.2,1853.4 870.9,1838.2 871.7,1862.4 872.4,1862.8 873.1,1863.2 873.8,1863.6 874.5,1864.0 875.2,1864.4 876.0,1864.8 876.7,1865.1 877.4,1865.4 878.1,1865.7 878.8,1866.0 879.5,1866.3 880.3,1866.6 881.0,1867.0 881.7,1867.3 882.4,1867.6 883.1,1867.9 883.8,1868.2 884.5,1868.5 885.3,1868.8 886.0,1869.2 886.7,1869.5 887.4,1869.8 888.1,1870.1 888.8,1870.4 889.6,1870.7 890.3,1871.1 891.0,1871.4 891.7,1871.7 892.4,1872.0 893.1,1872.3 893.8,1872.5 894.6,1872.6 895.3,1872.8 896.0,1872.9 896.7,1873.1 897.4,1873.3 898.1,1873.4 898.9,1873.6 899.6,1873.7 900.3,1873.9 901.0,1874.0 901.7,1874.2 902.4,1874.4 903.2,1874.5 903.9,1874.7 904.6,1874.8 905.3,1875.0 906.0,1875.1 906.7,1875.3 907.4,1875.5 908.2,1875.6 908.9,1875.8 909.6,1875.9 910.3,1876.1 911.0,1876.2 911.7,1876.4 912.5,1876.6 913.2,1876.7 913.9,1876.9 914.6,1877.0 915.3,1877.2 916.0,1877.3 916.8,1877.5 917.5,1877.7 918.2,1877.8 918.9,1878.0 919.6,1878.1 920.3,1878.3 921.0,1878.4 921.8,1878.6 922.5,1878.8 923.2,1878.9 923.9,1879.1 924.6,1879.2 925.3,1879.4 926.1,1879.5 926.8,1879.7 927.5,1879.9 928.2,1880.0 928.9,1880.2 929.6,1880.2 930.3,1880.3 931.1,1880.3 931.8,1880.4 932.5,1880.4 933.2,1880.5 933.9,1880.5 934.6,1880.6 935.4,1880.6 936.1,1880.7 936.8,1880.7 937.5,1880.8 938.2,1880.8 938.9,1880.9 939.7,1881.0 940.4,1881.0 941.1,1881.1 941.8,1881.1 942.5,1881.2 943.2,1881.2 943.9,1881.3 944.7,1881.3 945.4,1881.4 946.1,1881.4 946.8,1881.5 947.5,1881.5 948.2,1881.6 949.0,1881.6 949.7,1881.7 950.4,1881.7 951.1,1881.8 951.8,1881.8 952.5,1881.9 953.2,1881.9 954.0,1882.0 954.7,1882.1 955.4,1882.1 956.1,1882.2 956.8,1882.2 957.5,1882.3 958.3,1882.3 959.0,1882.4 959.7,1882.4 960.4,1882.5 961.1,1882.5 961.8,1882.6 962.6,1882.6 963.3,1882.7 964.0,1882.7 964.7,1882.8 964.7,1885.9 964.0,1885.9 963.3,1885.8 962.6,1885.8 961.8,1885.7 961.1,1885.7 960.4,1885.6 959.7,1885.6 959.0,1885.5 958.3,1885.5 957.5,1885.4 956.8,1885.4 956.1,1885.3 955.4,1885.3 954.7,1885.2 954.0,1885.1 953.2,1885.1 952.5,1885.0 951.8,1885.0 951.1,1884.9 950.4,1884.9 949.7,1884.8 949.0,1884.8 948.2,1884.7 947.5,1884.7 946.8,1884.6 946.1,1884.6 945.4,1884.5 944.7,1884.5 943.9,1884.4 943.2,1884.4 942.5,1884.3 941.8,1884.3 941.1,1884.2 940.4,1884.2 939.7,1884.1 938.9,1884.0 938.2,1884.0 937.5,1883.9 936.8,1883.9 936.1,1883.8 935.4,1883.8 934.6,1883.7 933.9,1883.7 933.2,1883.6 932.5,1883.6 931.8,1883.5 931.1,1883.5 930.3,1883.4 929.6,1883.4 928.9,1883.3 928.2,1883.2 927.5,1883.0 926.8,1882.8 926.1,1882.7 925.3,1882.5 924.6,1882.4 923.9,1882.2 923.2,1882.1 922.5,1881.9 921.8,1881.7 921.0,1881.6 920.3,1881.4 919.6,1881.3 918.9,1881.1 918.2,1881.0 917.5,1880.8 916.8,1880.6 916.0,1880.5 915.3,1880.3 914.6,1880.2 913.9,1880.0 913.2,1879.9 912.5,1879.7 911.7,1879.5 911.0,1879.4 910.3,1879.2 909.6,1879.1 908.9,1878.9 908.2,1878.8 907.4,1878.6 906.7,1878.4 906.0,1878.3 905.3,1878.1 904.6,1878.0 903.9,1877.8 903.2,1877.7 902.4,1877.5 901.7,1877.3 901.0,1877.2 900.3,1877.0 899.6,1876.9 898.9,1876.7 898.1,1876.6 897.4,1876.4 896.7,1876.2 896.0,1876.1 895.3,1875.9 894.6,1875.8 893.8,1875.6 893.1,1875.5 892.4,1875.1 891.7,1874.8 891.0,1874.5 890.3,1874.2 889.6,1873.9 888.8,1873.6 888.1,1873.3 887.4,1872.9 886.7,1872.6 886.0,1872.3 885.3,1872.0 884.5,1871.7 883.8,1871.4 883.1,1871.1 882.4,1870.7 881.7,1870.4 881.0,1870.1 880.3,1869.8 879.5,1869.5 878.8,1869.2 878.1,1868.8 877.4,1868.5 876.7,1868.2 876.0,1867.9 875.2,1867.6 874.5,1867.2 873.8,1866.8 873.1,1866.3 872.4,1865.9 871.7,1865.5 870.9,1866.6 870.2,1878.0 869.5,1876.4 868.8,1880.8 868.1,1880.1 867.4,1889.6 866.7,1874.2 865.9,1871.7 865.2,1862.8 864.5,1859.3 863.8,1862.3 863.1,1882.6 862.4,1879.7 861.6,1875.5 860.9,1869.4 860.2,1872.1 859.5,1868.7 858.8,1869.0 858.1,1881.2 857.4,1863.9 856.6,1866.8 855.9,1856.6 855.2,1869.7 854.5,1852.5 853.8,1854.8 853.1,1867.4 852.3,1852.5 851.6,1867.7 850.9,1869.8 850.2,1875.5 849.5,1877.4 848.8,1871.2 848.0,1862.9 847.3,1866.9 846.6,1867.0 845.9,1857.2 845.2,1828.8 844.5,1848.8 843.8,1862.8 843.0,1862.9 842.3,1872.8 841.6,1869.1 840.9,1869.0 840.2,1854.1 839.5,1862.0 838.7,1868.2 838.0,1854.0 837.3,1857.0 836.6,1865.6 835.9,1869.4 835.2,1866.9 834.4,1861.5 833.7,1858.4 833.0,1858.5 832.3,1867.3 831.6,1874.2 830.9,1875.8 830.2,1859.6 829.4,1867.9 828.7,1853.3 828.0,1858.8 827.3,1854.7 826.6,1861.1 825.9,1846.1 825.1,1857.4 824.4,1826.5 823.7,1849.5 823.0,1858.8 822.3,1869.8 821.6,1862.9 820.9,1856.0 820.1,1861.9 819.4,1852.2 818.7,1856.8 818.0,1861.7 817.3,1857.7 816.6,1858.4 815.8,1855.0 815.1,1862.8 814.4,1870.8 813.7,1864.7 813.0,1859.5 812.3,1854.5 811.5,1869.3 810.8,1843.5 810.1,1853.8 809.4,1854.8 808.7,1840.3 808.0,1852.3 807.3,1865.6 806.5,1856.0 805.8,1856.2 805.1,1862.6 804.4,1871.6 803.7,1865.9 803.0,1853.3 802.2,1857.6 801.5,1853.6 800.8,1855.7 800.1,1861.5 799.4,1849.9 798.7,1849.2 797.9,1854.5 797.2,1857.4 796.5,1852.8 795.8,1850.9 795.1,1847.5 794.4,1853.7 793.7,1853.9 792.9,1851.3 792.2,1851.1 791.5,1843.6 790.8,1855.9 790.1,1851.7 789.4,1858.3 788.6,1854.3 787.9,1845.2 787.2,1867.2 786.5,1852.9 785.8,1855.1 785.1,1845.5 784.4,1856.9 783.6,1860.6 782.9,1859.7 782.2,1850.9 781.5,1859.6 780.8,1848.1 780.1,1837.1 779.3,1845.7 778.6,1851.0 777.9,1854.3 777.2,1851.9 776.5,1861.1 775.8,1854.1 775.0,1854.7 774.3,1866.5 773.6,1856.5 772.9,1866.7 772.2,1863.0 771.5,1859.5 770.8,1849.1 770.0,1838.6 769.3,1849.3 768.6,1852.3 767.9,1859.1 767.2,1848.2 766.5,1858.5 765.7,1857.8 765.0,1858.5 764.3,1857.4 763.6,1853.4 762.9,1848.1 762.2,1863.0 761.5,1859.1 760.7,1855.7 760.0,1842.5 759.3,1849.1 758.6,1857.6 757.9,1869.0 757.2,1857.1 756.4,1854.6 755.7,1847.0 755.0,1849.2 754.3,1821.7 753.6,1850.4 752.9,1875.4 752.1,1877.1 751.4,1879.8 750.7,1872.4 750.0,1879.1" fill="#e08a3c" fill-opacity="0.33" stroke="none"/><polyline points="750.0,1869.8 750.7,1868.8 751.4,1879.8 752.1,1869.0 752.9,1861.2 753.6,1839.5 754.3,1845.9 755.0,1840.5 755.7,1837.6 756.4,1799.4 757.2,1820.1 757.9,1812.3 758.6,1820.3 759.3,1809.0 760.0,1810.3 760.7,1820.8 761.5,1817.5 762.2,1808.0 762.9,1791.5 763.6,1812.2 764.3,1814.3 765.0,1816.2 765.7,1811.5 766.5,1823.0 767.2,1818.0 767.9,1816.8 768.6,1814.4 769.3,1826.1 770.0,1818.9 770.8,1800.5 771.5,1815.1 772.2,1820.1 772.9,1802.0 773.6,1808.3 774.3,1805.7 775.0,1812.2 775.8,1804.0 776.5,1813.7 777.2,1818.4 777.9,1821.2 778.6,1807.5 779.3,1809.5 780.1,1802.7 780.8,1798.2 781.5,1799.3 782.2,1814.9 782.9,1823.7 783.6,1754.9 784.4,1804.2 785.1,1810.7 785.8,1818.0 786.5,1836.4 787.2,1835.1 787.9,1824.1 788.6,1799.0 789.4,1788.2 790.1,1795.5 790.8,1809.8 791.5,1802.2 792.2,1793.7 792.9,1790.5 793.7,1805.6 794.4,1817.6 795.1,1818.8 795.8,1804.4 796.5,1801.0 797.2,1803.0 797.9,1812.4 798.7,1812.6 799.4,1740.1 800.1,1812.6 800.8,1792.3 801.5,1793.1 802.2,1809.2 803.0,1808.9 803.7,1809.3 804.4,1761.5 805.1,1819.2 805.8,1805.9 806.5,1799.4 807.3,1797.4 808.0,1812.5 808.7,1825.3 809.4,1836.7 810.1,1834.5 810.8,1822.9 811.5,1813.1 812.3,1802.5 813.0,1811.6 813.7,1813.2 814.4,1821.7 815.1,1821.0 815.8,1833.0 816.6,1836.4 817.3,1824.6 818.0,1822.0 818.7,1811.7 819.4,1811.9 820.1,1781.9 820.9,1805.6 821.6,1811.7 822.3,1810.7 823.0,1803.6 823.7,1795.7 824.4,1789.7 825.1,1796.9 825.9,1804.6 826.6,1809.1 827.3,1818.5 828.0,1823.1 828.7,1824.2 829.4,1827.4 830.2,1822.0 830.9,1823.4 831.6,1813.6 832.3,1814.5 833.0,1817.8 833.7,1804.0 834.4,1815.1 835.2,1815.6 835.9,1839.3 836.6,1825.6 837.3,1815.7 838.0,1793.9 838.7,1800.4 839.5,1771.8 840.2,1810.0 840.9,1814.5 841.6,1814.6 842.3,1818.2 843.0,1818.9 843.8,1826.8 844.5,1751.3 845.2,1809.4 845.9,1814.6 846.6,1817.6 847.3,1831.1 848.0,1836.2 848.8,1842.3 849.5,1837.8 850.2,1831.2 850.9,1831.3 851.6,1819.3 852.3,1811.2 853.1,1797.7 853.8,1796.7 854.5,1796.3 855.2,1787.0 855.9,1792.8 856.6,1792.8 857.4,1813.5 858.1,1818.3 858.8,1816.8 859.5,1811.2 860.2,1807.6 860.9,1807.7 861.6,1816.6 862.4,1822.9 863.1,1809.0 863.8,1822.6 864.5,1826.0 865.2,1824.2 865.9,1826.3 866.7,1812.0 867.4,1816.5 868.1,1809.7 868.8,1828.1 869.5,1824.2 870.2,1819.6 870.9,1807.1 871.7,1802.2 872.4,1807.0 873.1,1809.2 873.8,1810.1 874.5,1808.9 875.2,1804.6 876.0,1811.3 876.7,1816.8 877.4,1836.1 878.1,1831.9 878.8,1835.5 879.5,1823.3 880.3,1818.9 881.0,1811.3 881.7,1804.3 882.4,1813.8 883.1,1812.0 883.8,1753.0 884.5,1808.6 885.3,1812.2 886.0,1795.2 886.7,1810.3 887.4,1808.1 888.1,1816.4 888.8,1803.8 889.6,1802.0 890.3,1806.6 891.0,1811.3 891.7,1805.0 892.4,1795.5 893.1,1798.8 893.8,1807.0 894.6,1814.4 895.3,1803.9 896.0,1807.7 896.7,1799.0 897.4,1797.1 898.1,1795.4 898.9,1789.7 899.6,1801.2 900.3,1801.7 901.0,1811.0 901.7,1812.8 902.4,1811.1 903.2,1822.9 903.9,1822.3 904.6,1822.6 905.3,1823.7 906.0,1817.1 906.7,1813.1 907.4,1805.7 908.2,1806.2 908.9,1806.8 909.6,1811.1 910.3,1812.0 911.0,1814.8 911.7,1814.1 912.5,1815.3 913.2,1823.2 913.9,1836.6 914.6,1836.3 915.3,1828.4 916.0,1800.3 916.8,1804.9 917.5,1801.1 918.2,1817.5 918.9,1822.6 919.6,1829.9 920.3,1823.3 921.0,1816.6 921.8,1807.9 922.5,1803.3 923.2,1812.1 923.9,1823.2 924.6,1807.2 925.3,1805.8 926.1,1810.9 926.8,1827.7 927.5,1825.1 928.2,1825.0 928.9,1830.2 929.6,1831.6 930.3,1833.0 931.1,1834.4 931.8,1835.8 932.5,1837.2 933.2,1838.1 933.9,1839.0 934.6,1840.0 935.4,1840.9 936.1,1841.8 936.8,1842.7 937.5,1843.6 938.2,1844.5 938.9,1845.5 939.7,1846.4 940.4,1847.3 941.1,1848.2 941.8,1849.1 942.5,1850.0 943.2,1851.0 943.9,1851.9 944.7,1852.8 945.4,1853.7 946.1,1854.6 946.8,1855.5 947.5,1856.1 948.2,1856.6 949.0,1857.1 949.7,1857.6 950.4,1858.2 951.1,1858.7 951.8,1859.2 952.5,1859.7 953.2,1860.3 954.0,1860.8 954.7,1861.3 955.4,1861.8 956.1,1862.4 956.8,1862.9 957.5,1863.4 958.3,1863.9 959.0,1864.4 959.7,1865.0 960.4,1865.5 961.1,1866.0 961.8,1866.5 962.6,1867.1 963.3,1867.6 964.0,1868.1 964.7,1868.6" fill="none" stroke="#4a76b2" stroke-width="1.1"/><polyline points="750.0,1871.7 750.7,1863.3 751.4,1863.8 752.1,1863.1 752.9,1859.3 753.6,1844.6 754.3,1811.0 755.0,1839.5 755.7,1841.1 756.4,1849.1 757.2,1849.3 757.9,1852.4 758.6,1844.1 759.3,1838.1 760.0,1836.8 760.7,1847.7 761.5,1851.2 762.2,1845.1 762.9,1837.7 763.6,1844.6 764.3,1846.0 765.0,1848.3 765.7,1837.1 766.5,1846.0 767.2,1840.0 767.9,1845.7 768.6,1840.2 769.3,1841.9 770.0,1828.3 770.8,1837.1 771.5,1846.8 772.2,1855.7 772.9,1857.4 773.6,1849.0 774.3,1856.4 775.0,1847.8 775.8,1837.2 776.5,1837.3 777.2,1841.0 777.9,1846.6 778.6,1845.3 779.3,1840.0 780.1,1828.8 780.8,1834.9 781.5,1839.3 782.2,1843.0 782.9,1843.2 783.6,1843.7 784.4,1845.5 785.1,1839.9 785.8,1847.3 786.5,1841.9 787.2,1845.3 787.9,1837.7 788.6,1845.6 789.4,1841.7 790.1,1839.5 790.8,1837.0 791.5,1837.3 792.2,1842.2 792.9,1839.4 793.7,1846.6 794.4,1845.8 795.1,1841.9 795.8,1841.1 796.5,1842.7 797.2,1850.6 797.9,1847.4 798.7,1842.4 799.4,1841.2 800.1,1841.9 800.8,1843.8 801.5,1834.2 802.2,1840.5 803.0,1839.4 803.7,1846.1 804.4,1843.5 805.1,1842.4 805.8,1843.5 806.5,1850.3 807.3,1845.0 808.0,1843.3 808.7,1830.9 809.4,1841.7 810.1,1846.5 810.8,1836.4 811.5,1850.9 812.3,1846.1 813.0,1851.9 813.7,1858.0 814.4,1864.0 815.1,1853.5 815.8,1848.8 816.6,1843.6 817.3,1849.2 818.0,1845.7 818.7,1848.9 819.4,1845.0 820.1,1842.4 820.9,1843.0 821.6,1848.2 822.3,1856.2 823.0,1850.8 823.7,1837.4 824.4,1813.7 825.1,1843.7 825.9,1837.4 826.6,1843.6 827.3,1836.1 828.0,1838.8 828.7,1837.4 829.4,1847.5 830.2,1848.4 830.9,1857.6 831.6,1857.8 832.3,1856.7 833.0,1849.2 833.7,1847.2 834.4,1849.8 835.2,1856.0 835.9,1855.4 836.6,1850.4 837.3,1844.2 838.0,1848.1 838.7,1849.6 839.5,1852.1 840.2,1848.4 840.9,1857.2 841.6,1859.9 842.3,1863.1 843.0,1854.9 843.8,1852.8 844.5,1842.5 845.2,1820.7 845.9,1847.3 846.6,1854.3 847.3,1850.6 848.0,1853.9 848.8,1854.7 849.5,1860.9 850.2,1858.6 850.9,1856.4 851.6,1845.5 852.3,1844.3 853.1,1845.8 853.8,1848.6 854.5,1846.5 855.2,1847.4 855.9,1850.9 856.6,1856.2 857.4,1855.6 858.1,1856.5 858.8,1856.6 859.5,1858.6 860.2,1857.9 860.9,1859.6 861.6,1864.8 862.4,1869.3 863.1,1863.6 863.8,1855.5 864.5,1851.2 865.2,1855.1 865.9,1860.0 866.7,1868.6 867.4,1875.3 868.1,1872.6 868.8,1868.3 869.5,1862.9 870.2,1865.7 870.9,1856.2 871.7,1863.9 872.4,1864.3 873.1,1864.8 873.8,1865.2 874.5,1865.6 875.2,1866.0 876.0,1866.3 876.7,1866.6 877.4,1867.0 878.1,1867.3 878.8,1867.6 879.5,1867.9 880.3,1868.2 881.0,1868.5 881.7,1868.8 882.4,1869.2 883.1,1869.5 883.8,1869.8 884.5,1870.1 885.3,1870.4 886.0,1870.7 886.7,1871.1 887.4,1871.4 888.1,1871.7 888.8,1872.0 889.6,1872.3 890.3,1872.6 891.0,1872.9 891.7,1873.3 892.4,1873.6 893.1,1873.9 893.8,1874.0 894.6,1874.2 895.3,1874.4 896.0,1874.5 896.7,1874.7 897.4,1874.8 898.1,1875.0 898.9,1875.1 899.6,1875.3 900.3,1875.5 901.0,1875.6 901.7,1875.8 902.4,1875.9 903.2,1876.1 903.9,1876.2 904.6,1876.4 905.3,1876.6 906.0,1876.7 906.7,1876.9 907.4,1877.0 908.2,1877.2 908.9,1877.3 909.6,1877.5 910.3,1877.7 911.0,1877.8 911.7,1878.0 912.5,1878.1 913.2,1878.3 913.9,1878.4 914.6,1878.6 915.3,1878.8 916.0,1878.9 916.8,1879.1 917.5,1879.2 918.2,1879.4 918.9,1879.5 919.6,1879.7 920.3,1879.9 921.0,1880.0 921.8,1880.2 922.5,1880.3 923.2,1880.5 923.9,1880.6 924.6,1880.8 925.3,1881.0 926.1,1881.1 926.8,1881.3 927.5,1881.4 928.2,1881.6 928.9,1881.7 929.6,1881.8 930.3,1881.8 931.1,1881.9 931.8,1881.9 932.5,1882.0 933.2,1882.1 933.9,1882.1 934.6,1882.2 935.4,1882.2 936.1,1882.3 936.8,1882.3 937.5,1882.4 938.2,1882.4 938.9,1882.5 939.7,1882.5 940.4,1882.6 941.1,1882.6 941.8,1882.7 942.5,1882.7 943.2,1882.8 943.9,1882.8 944.7,1882.9 945.4,1882.9 946.1,1883.0 946.8,1883.0 947.5,1883.1 948.2,1883.2 949.0,1883.2 949.7,1883.3 950.4,1883.3 951.1,1883.4 951.8,1883.4 952.5,1883.5 953.2,1883.5 954.0,1883.6 954.7,1883.6 955.4,1883.7 956.1,1883.7 956.8,1883.8 957.5,1883.8 958.3,1883.9 959.0,1883.9 959.7,1884.0 960.4,1884.0 961.1,1884.1 961.8,1884.2 962.6,1884.2 963.3,1884.3 964.0,1884.3 964.7,1884.4" fill="none" stroke="#e08a3c" stroke-width="1.0" stroke-dasharray="3,1.5"/><rect x="750.0" y="1680" width="214.70000000000005" height="209.5999999999999" fill="none" stroke="#555" stroke-width="1.0"/><text x="746.0" y="1893.6" font-family="Liberation Sans" font-size="11.5" text-anchor="end" fill="#333" >0</text><text x="746.0" y="1867.4" font-family="Liberation Sans" font-size="11.5" text-anchor="end" fill="#333" >10</text><text x="746.0" y="1841.2" font-family="Liberation Sans" font-size="11.5" text-anchor="end" fill="#333" >20</text><text x="746.0" y="1815.0" font-family="Liberation Sans" font-size="11.5" text-anchor="end" fill="#333" >30</text><text x="746.0" y="1788.8" font-family="Liberation Sans" font-size="11.5" text-anchor="end" fill="#333" >40</text><text x="746.0" y="1762.6" font-family="Liberation Sans" font-size="11.5" text-anchor="end" fill="#333" >50</text><text x="746.0" y="1736.4" font-family="Liberation Sans" font-size="11.5" text-anchor="end" fill="#333" >60</text><text x="746.0" y="1710.2" font-family="Liberation Sans" font-size="11.5" text-anchor="end" fill="#333" >70</text><text x="746.0" y="1684.0" font-family="Liberation Sans" font-size="11.5" text-anchor="end" fill="#333" >80</text><text x="750.0" y="1902.6" font-family="Liberation Sans" font-size="11.5" text-anchor="middle" fill="#333" >0</text><text x="785.8" y="1902.6" font-family="Liberation Sans" font-size="11.5" text-anchor="middle" fill="#333" >50</text><text x="821.6" y="1902.6" font-family="Liberation Sans" font-size="11.5" text-anchor="middle" fill="#333" >100</text><text x="857.4" y="1902.6" font-family="Liberation Sans" font-size="11.5" text-anchor="middle" fill="#333" >150</text><text x="893.1" y="1902.6" font-family="Liberation Sans" font-size="11.5" text-anchor="middle" fill="#333" >200</text><text x="928.9" y="1902.6" font-family="Liberation Sans" font-size="11.5" text-anchor="middle" fill="#333" >250</text><text x="964.7" y="1902.6" font-family="Liberation Sans" font-size="11.5" text-anchor="middle" fill="#333" >300</text><text x="857.4" y="1916.6" font-family="Liberation Sans" font-size="12" text-anchor="middle" fill="#333" >epoch</text><text transform="translate(723.0,1784.8) rotate(-90)" font-family="Liberation Serif" font-style="italic" font-size="12.5" text-anchor="middle" fill="#333">E<tspan font-size="8" dy="3">B</tspan><tspan dy="-3">‖</tspan><tspan font-style="normal" dx="7.6" dy="-8.2" rotate="180">Δ</tspan><tspan dx="-7.6" dy="8.2">L(B, w)‖²</tspan></text><line x1="894.7" y1="1695" x2="917.7" y2="1695" stroke="#4a76b2" stroke-width="1.2"/><line x1="894.7" y1="1712" x2="917.7" y2="1712" stroke="#e08a3c" stroke-width="1.2" stroke-dasharray="3,1.5"/><text x="927.7" y="1699.5" font-family="Liberation Sans" font-size="11.5" text-anchor="start" fill="#333" >ERM</text><text x="927.7" y="1716.5" font-family="Liberation Sans" font-size="11.5" text-anchor="start" fill="#333" >SAM</text></svg>
<svg style="left:270px;top:2110px" width="620" height="250" viewBox="270 2110 620 250" ><polygon points="323.5,2316.0 323.5,2316.0 324.4,2316.0 325.4,2316.0 326.3,2316.0 327.2,2316.0 328.2,2316.0 329.1,2316.0 330.0,2315.9 331.0,2315.9 331.9,2315.9 332.8,2315.9 333.8,2315.8 334.7,2315.7 335.6,2315.6 336.6,2315.5 337.5,2315.3 338.4,2315.1 339.4,2314.8 340.3,2314.4 341.2,2314.0 342.2,2313.3 343.1,2312.6 344.0,2311.6 345.0,2310.4 345.9,2308.9 346.8,2307.0 347.8,2304.8 348.7,2302.2 349.6,2299.0 350.6,2295.3 351.5,2291.0 352.4,2286.1 353.4,2280.5 354.3,2274.2 355.2,2267.3 356.2,2259.6 357.1,2251.3 358.0,2242.3 359.0,2232.9 359.9,2223.1 360.8,2212.9 361.8,2202.7 362.7,2192.5 363.6,2182.5 364.6,2172.9 365.5,2163.9 366.4,2155.7 367.4,2148.5 368.3,2142.4 369.2,2137.6 370.2,2134.2 371.1,2132.2 372.0,2131.6 373.0,2132.6 373.9,2134.9 374.8,2138.6 375.8,2143.5 376.7,2149.4 377.6,2156.3 378.6,2163.9 379.5,2172.1 380.4,2180.7 381.4,2189.4 382.3,2198.2 383.2,2206.9 384.2,2215.3 385.1,2223.4 386.0,2231.0 387.0,2238.1 387.9,2244.7 388.8,2250.8 389.8,2256.3 390.7,2261.2 391.6,2265.7 392.6,2269.7 393.5,2273.2 394.4,2276.4 395.3,2279.2 396.3,2281.7 397.2,2284.0 398.1,2286.1 399.1,2287.9 400.0,2289.7 400.9,2291.3 401.9,2292.8 402.8,2294.3 403.7,2295.6 404.7,2296.9 405.6,2298.2 406.5,2299.4 407.5,2300.6 408.4,2301.7 409.3,2302.8 410.3,2303.8 411.2,2304.8 412.1,2305.7 413.1,2306.6 414.0,2307.5 414.9,2308.2 415.9,2309.0 416.8,2309.7 417.7,2310.3 418.7,2310.9 419.6,2311.4 420.5,2311.9 421.5,2312.3 422.4,2312.7 423.3,2313.0 424.3,2313.2 425.2,2313.3 426.1,2313.4 427.1,2313.3 428.0,2313.2 428.9,2313.0 429.9,2312.7 430.8,2312.4 431.7,2312.1 432.7,2311.7 433.6,2311.3 434.5,2311.0 435.5,2310.8 436.4,2310.6 437.3,2310.5 438.3,2310.4 439.2,2310.3 440.1,2310.3 441.1,2310.2 442.0,2310.2 442.9,2310.0 443.9,2309.9 444.8,2309.7 445.7,2309.5 446.7,2309.4 447.6,2309.3 448.5,2309.2 449.5,2309.3 450.4,2309.4 451.3,2309.6 452.3,2309.9 453.2,2310.3 454.1,2310.8 455.1,2311.3 456.0,2311.9 456.9,2312.4 457.9,2313.0 458.8,2313.5 459.7,2313.9 460.7,2314.3 461.6,2314.7 462.5,2315.0 463.5,2315.2 464.4,2315.4 465.3,2315.6 466.3,2315.7 467.2,2315.8 468.1,2315.9 469.1,2315.9 470.0,2315.9 470.9,2316.0 471.9,2316.0 472.8,2316.0 473.7,2316.0 474.7,2316.0 475.6,2316.0 476.5,2316.0 477.5,2316.0 478.4,2316.0 479.3,2316.0 480.3,2316.0 481.2,2316.0 482.1,2316.0 483.1,2316.0 484.0,2316.0 484.9,2316.0 485.9,2316.0 486.8,2316.0 487.7,2316.0 488.7,2316.0 489.6,2316.0 490.5,2316.0 491.5,2316.0 492.4,2316.0 493.3,2316.0 494.3,2316.0 495.2,2316.0 496.1,2316.0 497.1,2316.0 498.0,2316.0 498.9,2316.0 499.9,2316.0 500.8,2316.0 501.7,2316.0 502.7,2316.0 503.6,2316.0 504.5,2316.0 505.5,2316.0 506.4,2316.0 507.3,2316.0 508.3,2316.0 509.2,2316.0 510.1,2316.0 511.1,2316.0 512.0,2316.0 512.9,2316.0 513.9,2316.0 514.8,2316.0 515.7,2316.0 516.7,2316.0 517.6,2316.0 518.5,2316.0 519.5,2316.0 520.4,2316.0 521.3,2316.0 522.3,2316.0 523.2,2316.0 524.1,2316.0 525.1,2316.0 526.0,2316.0 526.9,2316.0 527.9,2316.0 528.8,2316.0 529.7,2316.0 530.7,2316.0 531.6,2316.0 532.5,2316.0 533.4,2316.0 534.4,2316.0 535.3,2316.0 536.2,2316.0 537.2,2316.0 538.1,2316.0 539.0,2316.0 540.0,2316.0 540.9,2316.0 541.8,2316.0 542.8,2316.0 543.7,2316.0 544.6,2316.0 545.6,2316.0 546.5,2316.0 547.4,2316.0 548.4,2316.0 549.3,2316.0 550.2,2316.0 551.2,2316.0 552.1,2316.0 553.0,2316.0 554.0,2316.0 554.9,2316.0 555.8,2316.0 556.8,2316.0 557.7,2316.0 558.6,2316.0 559.6,2316.0 560.5,2316.0 561.4,2316.0 562.4,2316.0 563.3,2316.0 564.2,2316.0 565.2,2316.0 566.1,2316.0 567.0,2316.0 568.0,2316.0 568.9,2316.0 569.8,2316.0 570.8,2316.0 571.7,2316.0 572.6,2316.0 573.6,2316.0 574.5,2316.0 575.4,2316.0 576.4,2316.0 577.3,2316.0 578.2,2316.0 579.2,2316.0 580.1,2316.0 581.0,2316.0 582.0,2316.0 582.9,2316.0 583.8,2316.0 584.8,2316.0 585.7,2316.0 586.6,2316.0 587.6,2316.0 588.5,2316.0 589.4,2316.0 590.4,2316.0 591.3,2316.0 592.2,2316.0 593.2,2316.0 594.1,2316.0 595.0,2316.0 596.0,2316.0 596.9,2316.0 597.8,2316.0 598.8,2316.0 599.7,2316.0 600.6,2316.0 601.6,2316.0 602.5,2316.0 602.5,2316.0" fill="#6ab04c" fill-opacity="0.28"/><polyline points="323.5,2316.0 324.4,2316.0 325.4,2316.0 326.3,2316.0 327.2,2316.0 328.2,2316.0 329.1,2316.0 330.0,2315.9 331.0,2315.9 331.9,2315.9 332.8,2315.9 333.8,2315.8 334.7,2315.7 335.6,2315.6 336.6,2315.5 337.5,2315.3 338.4,2315.1 339.4,2314.8 340.3,2314.4 341.2,2314.0 342.2,2313.3 343.1,2312.6 344.0,2311.6 345.0,2310.4 345.9,2308.9 346.8,2307.0 347.8,2304.8 348.7,2302.2 349.6,2299.0 350.6,2295.3 351.5,2291.0 352.4,2286.1 353.4,2280.5 354.3,2274.2 355.2,2267.3 356.2,2259.6 357.1,2251.3 358.0,2242.3 359.0,2232.9 359.9,2223.1 360.8,2212.9 361.8,2202.7 362.7,2192.5 363.6,2182.5 364.6,2172.9 365.5,2163.9 366.4,2155.7 367.4,2148.5 368.3,2142.4 369.2,2137.6 370.2,2134.2 371.1,2132.2 372.0,2131.6 373.0,2132.6 373.9,2134.9 374.8,2138.6 375.8,2143.5 376.7,2149.4 377.6,2156.3 378.6,2163.9 379.5,2172.1 380.4,2180.7 381.4,2189.4 382.3,2198.2 383.2,2206.9 384.2,2215.3 385.1,2223.4 386.0,2231.0 387.0,2238.1 387.9,2244.7 388.8,2250.8 389.8,2256.3 390.7,2261.2 391.6,2265.7 392.6,2269.7 393.5,2273.2 394.4,2276.4 395.3,2279.2 396.3,2281.7 397.2,2284.0 398.1,2286.1 399.1,2287.9 400.0,2289.7 400.9,2291.3 401.9,2292.8 402.8,2294.3 403.7,2295.6 404.7,2296.9 405.6,2298.2 406.5,2299.4 407.5,2300.6 408.4,2301.7 409.3,2302.8 410.3,2303.8 411.2,2304.8 412.1,2305.7 413.1,2306.6 414.0,2307.5 414.9,2308.2 415.9,2309.0 416.8,2309.7 417.7,2310.3 418.7,2310.9 419.6,2311.4 420.5,2311.9 421.5,2312.3 422.4,2312.7 423.3,2313.0 424.3,2313.2 425.2,2313.3 426.1,2313.4 427.1,2313.3 428.0,2313.2 428.9,2313.0 429.9,2312.7 430.8,2312.4 431.7,2312.1 432.7,2311.7 433.6,2311.3 434.5,2311.0 435.5,2310.8 436.4,2310.6 437.3,2310.5 438.3,2310.4 439.2,2310.3 440.1,2310.3 441.1,2310.2 442.0,2310.2 442.9,2310.0 443.9,2309.9 444.8,2309.7 445.7,2309.5 446.7,2309.4 447.6,2309.3 448.5,2309.2 449.5,2309.3 450.4,2309.4 451.3,2309.6 452.3,2309.9 453.2,2310.3 454.1,2310.8 455.1,2311.3 456.0,2311.9 456.9,2312.4 457.9,2313.0 458.8,2313.5 459.7,2313.9 460.7,2314.3 461.6,2314.7 462.5,2315.0 463.5,2315.2 464.4,2315.4 465.3,2315.6 466.3,2315.7 467.2,2315.8 468.1,2315.9 469.1,2315.9 470.0,2315.9 470.9,2316.0 471.9,2316.0 472.8,2316.0 473.7,2316.0 474.7,2316.0 475.6,2316.0 476.5,2316.0 477.5,2316.0 478.4,2316.0 479.3,2316.0 480.3,2316.0 481.2,2316.0 482.1,2316.0 483.1,2316.0 484.0,2316.0 484.9,2316.0 485.9,2316.0 486.8,2316.0 487.7,2316.0 488.7,2316.0 489.6,2316.0 490.5,2316.0 491.5,2316.0 492.4,2316.0 493.3,2316.0 494.3,2316.0 495.2,2316.0 496.1,2316.0 497.1,2316.0 498.0,2316.0 498.9,2316.0 499.9,2316.0 500.8,2316.0 501.7,2316.0 502.7,2316.0 503.6,2316.0 504.5,2316.0 505.5,2316.0 506.4,2316.0 507.3,2316.0 508.3,2316.0 509.2,2316.0 510.1,2316.0 511.1,2316.0 512.0,2316.0 512.9,2316.0 513.9,2316.0 514.8,2316.0 515.7,2316.0 516.7,2316.0 517.6,2316.0 518.5,2316.0 519.5,2316.0 520.4,2316.0 521.3,2316.0 522.3,2316.0 523.2,2316.0 524.1,2316.0 525.1,2316.0 526.0,2316.0 526.9,2316.0 527.9,2316.0 528.8,2316.0 529.7,2316.0 530.7,2316.0 531.6,2316.0 532.5,2316.0 533.4,2316.0 534.4,2316.0 535.3,2316.0 536.2,2316.0 537.2,2316.0 538.1,2316.0 539.0,2316.0 540.0,2316.0 540.9,2316.0 541.8,2316.0 542.8,2316.0 543.7,2316.0 544.6,2316.0 545.6,2316.0 546.5,2316.0 547.4,2316.0 548.4,2316.0 549.3,2316.0 550.2,2316.0 551.2,2316.0 552.1,2316.0 553.0,2316.0 554.0,2316.0 554.9,2316.0 555.8,2316.0 556.8,2316.0 557.7,2316.0 558.6,2316.0 559.6,2316.0 560.5,2316.0 561.4,2316.0 562.4,2316.0 563.3,2316.0 564.2,2316.0 565.2,2316.0 566.1,2316.0 567.0,2316.0 568.0,2316.0 568.9,2316.0 569.8,2316.0 570.8,2316.0 571.7,2316.0 572.6,2316.0 573.6,2316.0 574.5,2316.0 575.4,2316.0 576.4,2316.0 577.3,2316.0 578.2,2316.0 579.2,2316.0 580.1,2316.0 581.0,2316.0 582.0,2316.0 582.9,2316.0 583.8,2316.0 584.8,2316.0 585.7,2316.0 586.6,2316.0 587.6,2316.0 588.5,2316.0 589.4,2316.0 590.4,2316.0 591.3,2316.0 592.2,2316.0 593.2,2316.0 594.1,2316.0 595.0,2316.0 596.0,2316.0 596.9,2316.0 597.8,2316.0 598.8,2316.0 599.7,2316.0 600.6,2316.0 601.6,2316.0 602.5,2316.0" fill="none" stroke="#5aa845" stroke-width="1.1"/><polygon points="323.5,2316.0 323.5,2316.0 324.4,2316.0 325.4,2316.0 326.3,2316.0 327.2,2316.0 328.2,2316.0 329.1,2316.0 330.0,2316.0 331.0,2316.0 331.9,2316.0 332.8,2316.0 333.8,2316.0 334.7,2316.0 335.6,2316.0 336.6,2316.0 337.5,2316.0 338.4,2316.0 339.4,2316.0 340.3,2316.0 341.2,2316.0 342.2,2316.0 343.1,2316.0 344.0,2316.0 345.0,2316.0 345.9,2316.0 346.8,2316.0 347.8,2316.0 348.7,2316.0 349.6,2316.0 350.6,2316.0 351.5,2316.0 352.4,2316.0 353.4,2316.0 354.3,2316.0 355.2,2316.0 356.2,2316.0 357.1,2316.0 358.0,2316.0 359.0,2316.0 359.9,2316.0 360.8,2316.0 361.8,2316.0 362.7,2316.0 363.6,2316.0 364.6,2316.0 365.5,2316.0 366.4,2316.0 367.4,2316.0 368.3,2316.0 369.2,2316.0 370.2,2316.0 371.1,2316.0 372.0,2316.0 373.0,2316.0 373.9,2316.0 374.8,2316.0 375.8,2316.0 376.7,2316.0 377.6,2316.0 378.6,2316.0 379.5,2316.0 380.4,2316.0 381.4,2316.0 382.3,2316.0 383.2,2316.0 384.2,2316.0 385.1,2316.0 386.0,2316.0 387.0,2316.0 387.9,2316.0 388.8,2316.0 389.8,2316.0 390.7,2316.0 391.6,2316.0 392.6,2315.9 393.5,2315.9 394.4,2315.9 395.3,2315.9 396.3,2315.9 397.2,2315.8 398.1,2315.8 399.1,2315.8 400.0,2315.7 400.9,2315.7 401.9,2315.6 402.8,2315.5 403.7,2315.4 404.7,2315.3 405.6,2315.2 406.5,2315.0 407.5,2314.8 408.4,2314.6 409.3,2314.4 410.3,2314.1 411.2,2313.8 412.1,2313.5 413.1,2313.1 414.0,2312.6 414.9,2312.1 415.9,2311.5 416.8,2310.9 417.7,2310.2 418.7,2309.5 419.6,2308.6 420.5,2307.7 421.5,2306.7 422.4,2305.6 423.3,2304.4 424.3,2303.1 425.2,2301.7 426.1,2300.2 427.1,2298.6 428.0,2296.9 428.9,2295.1 429.9,2293.2 430.8,2291.3 431.7,2289.2 432.7,2287.0 433.6,2284.8 434.5,2282.5 435.5,2280.1 436.4,2277.7 437.3,2275.2 438.3,2272.7 439.2,2270.2 440.1,2267.7 441.1,2265.1 442.0,2262.6 442.9,2260.1 443.9,2257.6 444.8,2255.2 445.7,2252.8 446.7,2250.5 447.6,2248.3 448.5,2246.2 449.5,2244.1 450.4,2242.2 451.3,2240.3 452.3,2238.6 453.2,2237.0 454.1,2235.5 455.1,2234.1 456.0,2232.8 456.9,2231.6 457.9,2230.6 458.8,2229.7 459.7,2228.8 460.7,2228.1 461.6,2227.5 462.5,2227.0 463.5,2226.6 464.4,2226.3 465.3,2226.1 466.3,2225.9 467.2,2225.9 468.1,2225.9 469.1,2226.0 470.0,2226.2 470.9,2226.5 471.9,2226.9 472.8,2227.3 473.7,2227.8 474.7,2228.4 475.6,2229.1 476.5,2229.8 477.5,2230.6 478.4,2231.4 479.3,2232.4 480.3,2233.3 481.2,2234.3 482.1,2235.4 483.1,2236.5 484.0,2237.6 484.9,2238.7 485.9,2239.9 486.8,2241.1 487.7,2242.2 488.7,2243.4 489.6,2244.6 490.5,2245.7 491.5,2246.9 492.4,2248.0 493.3,2249.1 494.3,2250.2 495.2,2251.3 496.1,2252.3 497.1,2253.4 498.0,2254.4 498.9,2255.4 499.9,2256.5 500.8,2257.5 501.7,2258.6 502.7,2259.6 503.6,2260.7 504.5,2261.8 505.5,2263.0 506.4,2264.2 507.3,2265.4 508.3,2266.7 509.2,2268.0 510.1,2269.4 511.1,2270.7 512.0,2272.1 512.9,2273.5 513.9,2274.9 514.8,2276.3 515.7,2277.6 516.7,2278.9 517.6,2280.1 518.5,2281.3 519.5,2282.4 520.4,2283.4 521.3,2284.2 522.3,2285.0 523.2,2285.7 524.1,2286.2 525.1,2286.7 526.0,2287.1 526.9,2287.4 527.9,2287.7 528.8,2287.9 529.7,2288.2 530.7,2288.5 531.6,2288.8 532.5,2289.3 533.4,2289.8 534.4,2290.5 535.3,2291.2 536.2,2292.1 537.2,2293.2 538.1,2294.3 539.0,2295.6 540.0,2296.9 540.9,2298.3 541.8,2299.8 542.8,2301.2 543.7,2302.7 544.6,2304.1 545.6,2305.5 546.5,2306.8 547.4,2308.0 548.4,2309.1 549.3,2310.2 550.2,2311.1 551.2,2311.9 552.1,2312.6 553.0,2313.2 554.0,2313.8 554.9,2314.2 555.8,2314.6 556.8,2314.9 557.7,2315.1 558.6,2315.3 559.6,2315.5 560.5,2315.6 561.4,2315.7 562.4,2315.8 563.3,2315.8 564.2,2315.9 565.2,2315.9 566.1,2315.9 567.0,2316.0 568.0,2316.0 568.9,2316.0 569.8,2316.0 570.8,2316.0 571.7,2316.0 572.6,2316.0 573.6,2316.0 574.5,2316.0 575.4,2316.0 576.4,2316.0 577.3,2316.0 578.2,2316.0 579.2,2316.0 580.1,2316.0 581.0,2316.0 582.0,2316.0 582.9,2316.0 583.8,2316.0 584.8,2316.0 585.7,2316.0 586.6,2316.0 587.6,2316.0 588.5,2316.0 589.4,2316.0 590.4,2316.0 591.3,2316.0 592.2,2316.0 593.2,2316.0 594.1,2316.0 595.0,2316.0 596.0,2316.0 596.9,2316.0 597.8,2316.0 598.8,2316.0 599.7,2316.0 600.6,2316.0 601.6,2316.0 602.5,2316.0 602.5,2316.0" fill="#e58a45" fill-opacity="0.28"/><polyline points="323.5,2316.0 324.4,2316.0 325.4,2316.0 326.3,2316.0 327.2,2316.0 328.2,2316.0 329.1,2316.0 330.0,2316.0 331.0,2316.0 331.9,2316.0 332.8,2316.0 333.8,2316.0 334.7,2316.0 335.6,2316.0 336.6,2316.0 337.5,2316.0 338.4,2316.0 339.4,2316.0 340.3,2316.0 341.2,2316.0 342.2,2316.0 343.1,2316.0 344.0,2316.0 345.0,2316.0 345.9,2316.0 346.8,2316.0 347.8,2316.0 348.7,2316.0 349.6,2316.0 350.6,2316.0 351.5,2316.0 352.4,2316.0 353.4,2316.0 354.3,2316.0 355.2,2316.0 356.2,2316.0 357.1,2316.0 358.0,2316.0 359.0,2316.0 359.9,2316.0 360.8,2316.0 361.8,2316.0 362.7,2316.0 363.6,2316.0 364.6,2316.0 365.5,2316.0 366.4,2316.0 367.4,2316.0 368.3,2316.0 369.2,2316.0 370.2,2316.0 371.1,2316.0 372.0,2316.0 373.0,2316.0 373.9,2316.0 374.8,2316.0 375.8,2316.0 376.7,2316.0 377.6,2316.0 378.6,2316.0 379.5,2316.0 380.4,2316.0 381.4,2316.0 382.3,2316.0 383.2,2316.0 384.2,2316.0 385.1,2316.0 386.0,2316.0 387.0,2316.0 387.9,2316.0 388.8,2316.0 389.8,2316.0 390.7,2316.0 391.6,2316.0 392.6,2315.9 393.5,2315.9 394.4,2315.9 395.3,2315.9 396.3,2315.9 397.2,2315.8 398.1,2315.8 399.1,2315.8 400.0,2315.7 400.9,2315.7 401.9,2315.6 402.8,2315.5 403.7,2315.4 404.7,2315.3 405.6,2315.2 406.5,2315.0 407.5,2314.8 408.4,2314.6 409.3,2314.4 410.3,2314.1 411.2,2313.8 412.1,2313.5 413.1,2313.1 414.0,2312.6 414.9,2312.1 415.9,2311.5 416.8,2310.9 417.7,2310.2 418.7,2309.5 419.6,2308.6 420.5,2307.7 421.5,2306.7 422.4,2305.6 423.3,2304.4 424.3,2303.1 425.2,2301.7 426.1,2300.2 427.1,2298.6 428.0,2296.9 428.9,2295.1 429.9,2293.2 430.8,2291.3 431.7,2289.2 432.7,2287.0 433.6,2284.8 434.5,2282.5 435.5,2280.1 436.4,2277.7 437.3,2275.2 438.3,2272.7 439.2,2270.2 440.1,2267.7 441.1,2265.1 442.0,2262.6 442.9,2260.1 443.9,2257.6 444.8,2255.2 445.7,2252.8 446.7,2250.5 447.6,2248.3 448.5,2246.2 449.5,2244.1 450.4,2242.2 451.3,2240.3 452.3,2238.6 453.2,2237.0 454.1,2235.5 455.1,2234.1 456.0,2232.8 456.9,2231.6 457.9,2230.6 458.8,2229.7 459.7,2228.8 460.7,2228.1 461.6,2227.5 462.5,2227.0 463.5,2226.6 464.4,2226.3 465.3,2226.1 466.3,2225.9 467.2,2225.9 468.1,2225.9 469.1,2226.0 470.0,2226.2 470.9,2226.5 471.9,2226.9 472.8,2227.3 473.7,2227.8 474.7,2228.4 475.6,2229.1 476.5,2229.8 477.5,2230.6 478.4,2231.4 479.3,2232.4 480.3,2233.3 481.2,2234.3 482.1,2235.4 483.1,2236.5 484.0,2237.6 484.9,2238.7 485.9,2239.9 486.8,2241.1 487.7,2242.2 488.7,2243.4 489.6,2244.6 490.5,2245.7 491.5,2246.9 492.4,2248.0 493.3,2249.1 494.3,2250.2 495.2,2251.3 496.1,2252.3 497.1,2253.4 498.0,2254.4 498.9,2255.4 499.9,2256.5 500.8,2257.5 501.7,2258.6 502.7,2259.6 503.6,2260.7 504.5,2261.8 505.5,2263.0 506.4,2264.2 507.3,2265.4 508.3,2266.7 509.2,2268.0 510.1,2269.4 511.1,2270.7 512.0,2272.1 512.9,2273.5 513.9,2274.9 514.8,2276.3 515.7,2277.6 516.7,2278.9 517.6,2280.1 518.5,2281.3 519.5,2282.4 520.4,2283.4 521.3,2284.2 522.3,2285.0 523.2,2285.7 524.1,2286.2 525.1,2286.7 526.0,2287.1 526.9,2287.4 527.9,2287.7 528.8,2287.9 529.7,2288.2 530.7,2288.5 531.6,2288.8 532.5,2289.3 533.4,2289.8 534.4,2290.5 535.3,2291.2 536.2,2292.1 537.2,2293.2 538.1,2294.3 539.0,2295.6 540.0,2296.9 540.9,2298.3 541.8,2299.8 542.8,2301.2 543.7,2302.7 544.6,2304.1 545.6,2305.5 546.5,2306.8 547.4,2308.0 548.4,2309.1 549.3,2310.2 550.2,2311.1 551.2,2311.9 552.1,2312.6 553.0,2313.2 554.0,2313.8 554.9,2314.2 555.8,2314.6 556.8,2314.9 557.7,2315.1 558.6,2315.3 559.6,2315.5 560.5,2315.6 561.4,2315.7 562.4,2315.8 563.3,2315.8 564.2,2315.9 565.2,2315.9 566.1,2315.9 567.0,2316.0 568.0,2316.0 568.9,2316.0 569.8,2316.0 570.8,2316.0 571.7,2316.0 572.6,2316.0 573.6,2316.0 574.5,2316.0 575.4,2316.0 576.4,2316.0 577.3,2316.0 578.2,2316.0 579.2,2316.0 580.1,2316.0 581.0,2316.0 582.0,2316.0 582.9,2316.0 583.8,2316.0 584.8,2316.0 585.7,2316.0 586.6,2316.0 587.6,2316.0 588.5,2316.0 589.4,2316.0 590.4,2316.0 591.3,2316.0 592.2,2316.0 593.2,2316.0 594.1,2316.0 595.0,2316.0 596.0,2316.0 596.9,2316.0 597.8,2316.0 598.8,2316.0 599.7,2316.0 600.6,2316.0 601.6,2316.0 602.5,2316.0" fill="none" stroke="#e3883a" stroke-width="1.1"/><polygon points="323.5,2316.0 323.5,2316.0 324.4,2316.0 325.4,2316.0 326.3,2316.0 327.2,2316.0 328.2,2316.0 329.1,2316.0 330.0,2316.0 331.0,2316.0 331.9,2316.0 332.8,2316.0 333.8,2316.0 334.7,2316.0 335.6,2316.0 336.6,2316.0 337.5,2316.0 338.4,2316.0 339.4,2316.0 340.3,2316.0 341.2,2316.0 342.2,2316.0 343.1,2316.0 344.0,2316.0 345.0,2316.0 345.9,2316.0 346.8,2316.0 347.8,2316.0 348.7,2316.0 349.6,2316.0 350.6,2316.0 351.5,2316.0 352.4,2316.0 353.4,2316.0 354.3,2316.0 355.2,2316.0 356.2,2316.0 357.1,2316.0 358.0,2316.0 359.0,2316.0 359.9,2316.0 360.8,2316.0 361.8,2316.0 362.7,2316.0 363.6,2316.0 364.6,2316.0 365.5,2316.0 366.4,2316.0 367.4,2316.0 368.3,2316.0 369.2,2316.0 370.2,2316.0 371.1,2316.0 372.0,2315.9 373.0,2315.9 373.9,2315.9 374.8,2315.9 375.8,2315.9 376.7,2315.9 377.6,2315.9 378.6,2315.9 379.5,2315.8 380.4,2315.8 381.4,2315.8 382.3,2315.8 383.2,2315.7 384.2,2315.7 385.1,2315.6 386.0,2315.6 387.0,2315.5 387.9,2315.5 388.8,2315.4 389.8,2315.3 390.7,2315.2 391.6,2315.2 392.6,2315.0 393.5,2314.9 394.4,2314.8 395.3,2314.7 396.3,2314.5 397.2,2314.3 398.1,2314.1 399.1,2313.9 400.0,2313.7 400.9,2313.4 401.9,2313.1 402.8,2312.8 403.7,2312.5 404.7,2312.1 405.6,2311.7 406.5,2311.3 407.5,2310.9 408.4,2310.4 409.3,2309.8 410.3,2309.2 411.2,2308.6 412.1,2307.9 413.1,2307.2 414.0,2306.5 414.9,2305.6 415.9,2304.8 416.8,2303.8 417.7,2302.8 418.7,2301.8 419.6,2300.7 420.5,2299.5 421.5,2298.3 422.4,2297.0 423.3,2295.6 424.3,2294.2 425.2,2292.7 426.1,2291.2 427.1,2289.5 428.0,2287.8 428.9,2286.1 429.9,2284.3 430.8,2282.4 431.7,2280.5 432.7,2278.5 433.6,2276.5 434.5,2274.4 435.5,2272.2 436.4,2270.0 437.3,2267.8 438.3,2265.6 439.2,2263.3 440.1,2261.0 441.1,2258.7 442.0,2256.4 442.9,2254.0 443.9,2251.7 444.8,2249.4 445.7,2247.1 446.7,2244.8 447.6,2242.5 448.5,2240.3 449.5,2238.2 450.4,2236.0 451.3,2234.0 452.3,2232.0 453.2,2230.1 454.1,2228.3 455.1,2226.5 456.0,2224.9 456.9,2223.4 457.9,2221.9 458.8,2220.6 459.7,2219.4 460.7,2218.3 461.6,2217.4 462.5,2216.6 463.5,2215.9 464.4,2215.3 465.3,2214.9 466.3,2214.6 467.2,2214.4 468.1,2214.4 469.1,2214.6 470.0,2214.8 470.9,2215.2 471.9,2215.7 472.8,2216.4 473.7,2217.2 474.7,2218.1 475.6,2219.1 476.5,2220.2 477.5,2221.4 478.4,2222.7 479.3,2224.2 480.3,2225.7 481.2,2227.2 482.1,2228.9 483.1,2230.6 484.0,2232.4 484.9,2234.3 485.9,2236.1 486.8,2238.1 487.7,2240.0 488.7,2242.0 489.6,2244.0 490.5,2246.0 491.5,2248.1 492.4,2250.1 493.3,2252.1 494.3,2254.2 495.2,2256.2 496.1,2258.2 497.1,2260.2 498.0,2262.1 498.9,2264.0 499.9,2265.9 500.8,2267.8 501.7,2269.6 502.7,2271.4 503.6,2273.1 504.5,2274.9 505.5,2276.5 506.4,2278.1 507.3,2279.7 508.3,2281.2 509.2,2282.7 510.1,2284.2 511.1,2285.6 512.0,2286.9 512.9,2288.2 513.9,2289.5 514.8,2290.7 515.7,2291.9 516.7,2293.0 517.6,2294.1 518.5,2295.2 519.5,2296.2 520.4,2297.2 521.3,2298.1 522.3,2299.0 523.2,2299.9 524.1,2300.8 525.1,2301.6 526.0,2302.3 526.9,2303.1 527.9,2303.8 528.8,2304.5 529.7,2305.1 530.7,2305.7 531.6,2306.3 532.5,2306.9 533.4,2307.5 534.4,2308.0 535.3,2308.5 536.2,2309.0 537.2,2309.4 538.1,2309.8 539.0,2310.2 540.0,2310.6 540.9,2311.0 541.8,2311.3 542.8,2311.7 543.7,2312.0 544.6,2312.3 545.6,2312.5 546.5,2312.8 547.4,2313.0 548.4,2313.3 549.3,2313.5 550.2,2313.7 551.2,2313.9 552.1,2314.1 553.0,2314.2 554.0,2314.4 554.9,2314.5 555.8,2314.6 556.8,2314.8 557.7,2314.9 558.6,2315.0 559.6,2315.1 560.5,2315.2 561.4,2315.2 562.4,2315.3 563.3,2315.4 564.2,2315.4 565.2,2315.5 566.1,2315.6 567.0,2315.6 568.0,2315.6 568.9,2315.7 569.8,2315.7 570.8,2315.7 571.7,2315.8 572.6,2315.8 573.6,2315.8 574.5,2315.8 575.4,2315.9 576.4,2315.9 577.3,2315.9 578.2,2315.9 579.2,2315.9 580.1,2315.9 581.0,2315.9 582.0,2315.9 582.9,2316.0 583.8,2316.0 584.8,2316.0 585.7,2316.0 586.6,2316.0 587.6,2316.0 588.5,2316.0 589.4,2316.0 590.4,2316.0 591.3,2316.0 592.2,2316.0 593.2,2316.0 594.1,2316.0 595.0,2316.0 596.0,2316.0 596.9,2316.0 597.8,2316.0 598.8,2316.0 599.7,2316.0 600.6,2316.0 601.6,2316.0 602.5,2316.0 602.5,2316.0" fill="#4c76b8" fill-opacity="0.28"/><polyline points="323.5,2316.0 324.4,2316.0 325.4,2316.0 326.3,2316.0 327.2,2316.0 328.2,2316.0 329.1,2316.0 330.0,2316.0 331.0,2316.0 331.9,2316.0 332.8,2316.0 333.8,2316.0 334.7,2316.0 335.6,2316.0 336.6,2316.0 337.5,2316.0 338.4,2316.0 339.4,2316.0 340.3,2316.0 341.2,2316.0 342.2,2316.0 343.1,2316.0 344.0,2316.0 345.0,2316.0 345.9,2316.0 346.8,2316.0 347.8,2316.0 348.7,2316.0 349.6,2316.0 350.6,2316.0 351.5,2316.0 352.4,2316.0 353.4,2316.0 354.3,2316.0 355.2,2316.0 356.2,2316.0 357.1,2316.0 358.0,2316.0 359.0,2316.0 359.9,2316.0 360.8,2316.0 361.8,2316.0 362.7,2316.0 363.6,2316.0 364.6,2316.0 365.5,2316.0 366.4,2316.0 367.4,2316.0 368.3,2316.0 369.2,2316.0 370.2,2316.0 371.1,2316.0 372.0,2315.9 373.0,2315.9 373.9,2315.9 374.8,2315.9 375.8,2315.9 376.7,2315.9 377.6,2315.9 378.6,2315.9 379.5,2315.8 380.4,2315.8 381.4,2315.8 382.3,2315.8 383.2,2315.7 384.2,2315.7 385.1,2315.6 386.0,2315.6 387.0,2315.5 387.9,2315.5 388.8,2315.4 389.8,2315.3 390.7,2315.2 391.6,2315.2 392.6,2315.0 393.5,2314.9 394.4,2314.8 395.3,2314.7 396.3,2314.5 397.2,2314.3 398.1,2314.1 399.1,2313.9 400.0,2313.7 400.9,2313.4 401.9,2313.1 402.8,2312.8 403.7,2312.5 404.7,2312.1 405.6,2311.7 406.5,2311.3 407.5,2310.9 408.4,2310.4 409.3,2309.8 410.3,2309.2 411.2,2308.6 412.1,2307.9 413.1,2307.2 414.0,2306.5 414.9,2305.6 415.9,2304.8 416.8,2303.8 417.7,2302.8 418.7,2301.8 419.6,2300.7 420.5,2299.5 421.5,2298.3 422.4,2297.0 423.3,2295.6 424.3,2294.2 425.2,2292.7 426.1,2291.2 427.1,2289.5 428.0,2287.8 428.9,2286.1 429.9,2284.3 430.8,2282.4 431.7,2280.5 432.7,2278.5 433.6,2276.5 434.5,2274.4 435.5,2272.2 436.4,2270.0 437.3,2267.8 438.3,2265.6 439.2,2263.3 440.1,2261.0 441.1,2258.7 442.0,2256.4 442.9,2254.0 443.9,2251.7 444.8,2249.4 445.7,2247.1 446.7,2244.8 447.6,2242.5 448.5,2240.3 449.5,2238.2 450.4,2236.0 451.3,2234.0 452.3,2232.0 453.2,2230.1 454.1,2228.3 455.1,2226.5 456.0,2224.9 456.9,2223.4 457.9,2221.9 458.8,2220.6 459.7,2219.4 460.7,2218.3 461.6,2217.4 462.5,2216.6 463.5,2215.9 464.4,2215.3 465.3,2214.9 466.3,2214.6 467.2,2214.4 468.1,2214.4 469.1,2214.6 470.0,2214.8 470.9,2215.2 471.9,2215.7 472.8,2216.4 473.7,2217.2 474.7,2218.1 475.6,2219.1 476.5,2220.2 477.5,2221.4 478.4,2222.7 479.3,2224.2 480.3,2225.7 481.2,2227.2 482.1,2228.9 483.1,2230.6 484.0,2232.4 484.9,2234.3 485.9,2236.1 486.8,2238.1 487.7,2240.0 488.7,2242.0 489.6,2244.0 490.5,2246.0 491.5,2248.1 492.4,2250.1 493.3,2252.1 494.3,2254.2 495.2,2256.2 496.1,2258.2 497.1,2260.2 498.0,2262.1 498.9,2264.0 499.9,2265.9 500.8,2267.8 501.7,2269.6 502.7,2271.4 503.6,2273.1 504.5,2274.9 505.5,2276.5 506.4,2278.1 507.3,2279.7 508.3,2281.2 509.2,2282.7 510.1,2284.2 511.1,2285.6 512.0,2286.9 512.9,2288.2 513.9,2289.5 514.8,2290.7 515.7,2291.9 516.7,2293.0 517.6,2294.1 518.5,2295.2 519.5,2296.2 520.4,2297.2 521.3,2298.1 522.3,2299.0 523.2,2299.9 524.1,2300.8 525.1,2301.6 526.0,2302.3 526.9,2303.1 527.9,2303.8 528.8,2304.5 529.7,2305.1 530.7,2305.7 531.6,2306.3 532.5,2306.9 533.4,2307.5 534.4,2308.0 535.3,2308.5 536.2,2309.0 537.2,2309.4 538.1,2309.8 539.0,2310.2 540.0,2310.6 540.9,2311.0 541.8,2311.3 542.8,2311.7 543.7,2312.0 544.6,2312.3 545.6,2312.5 546.5,2312.8 547.4,2313.0 548.4,2313.3 549.3,2313.5 550.2,2313.7 551.2,2313.9 552.1,2314.1 553.0,2314.2 554.0,2314.4 554.9,2314.5 555.8,2314.6 556.8,2314.8 557.7,2314.9 558.6,2315.0 559.6,2315.1 560.5,2315.2 561.4,2315.2 562.4,2315.3 563.3,2315.4 564.2,2315.4 565.2,2315.5 566.1,2315.6 567.0,2315.6 568.0,2315.6 568.9,2315.7 569.8,2315.7 570.8,2315.7 571.7,2315.8 572.6,2315.8 573.6,2315.8 574.5,2315.8 575.4,2315.9 576.4,2315.9 577.3,2315.9 578.2,2315.9 579.2,2315.9 580.1,2315.9 581.0,2315.9 582.0,2315.9 582.9,2316.0 583.8,2316.0 584.8,2316.0 585.7,2316.0 586.6,2316.0 587.6,2316.0 588.5,2316.0 589.4,2316.0 590.4,2316.0 591.3,2316.0 592.2,2316.0 593.2,2316.0 594.1,2316.0 595.0,2316.0 596.0,2316.0 596.9,2316.0 597.8,2316.0 598.8,2316.0 599.7,2316.0 600.6,2316.0 601.6,2316.0 602.5,2316.0" fill="none" stroke="#4a7ebf" stroke-width="1.1"/><rect x="324.5" y="2316" width="282.9" height="4" fill="#fff"/><rect x="324.5" y="2123.6" width="282.9" height="192.4000000000001" fill="none" stroke="#555" stroke-width="1.0"/><text x="318.5" y="2320.0" font-family="Liberation Sans" font-size="11" text-anchor="end" fill="#333" >0.00</text><text x="318.5" y="2274.2" font-family="Liberation Sans" font-size="11" text-anchor="end" fill="#333" >0.01</text><text x="318.5" y="2228.5" font-family="Liberation Sans" font-size="11" text-anchor="end" fill="#333" >0.02</text><text x="318.5" y="2182.8" font-family="Liberation Sans" font-size="11" text-anchor="end" fill="#333" >0.03</text><text x="318.5" y="2137.0" font-family="Liberation Sans" font-size="11" text-anchor="end" fill="#333" >0.04</text><text x="346.0" y="2331.0" font-family="Liberation Sans" font-size="11" text-anchor="middle" fill="#333" >0</text><text x="391.0" y="2331.0" font-family="Liberation Sans" font-size="11" text-anchor="middle" fill="#333" >10</text><text x="436.0" y="2331.0" font-family="Liberation Sans" font-size="11" text-anchor="middle" fill="#333" >20</text><text x="481.0" y="2331.0" font-family="Liberation Sans" font-size="11" text-anchor="middle" fill="#333" >30</text><text x="526.0" y="2331.0" font-family="Liberation Sans" font-size="11" text-anchor="middle" fill="#333" >40</text><text x="571.0" y="2331.0" font-family="Liberation Sans" font-size="11" text-anchor="middle" fill="#333" >50</text><text transform="translate(291,2220) rotate(-90)" font-family="Liberation Sans" font-size="12" text-anchor="middle" fill="#333">density</text><text x="465" y="2345" font-family="Liberation Serif" font-style="italic" font-size="11" text-anchor="middle" fill="#333">‖<tspan font-style="normal" dx="6.7" dy="-7.2" rotate="180">Δ</tspan><tspan dx="-6.7" dy="7.2">L(B, w)‖²</tspan></text><rect x="492" y="2129" width="109" height="54.5" rx="3" fill="#fff" stroke="#ccc" stroke-width="0.8"/><rect x="497" y="2134" width="22" height="9" fill="#cfe8c4" stroke="#5aa845" stroke-width="0.8"/><text x="528.7" y="2142.5" font-family="Liberation Sans" font-size="11" text-anchor="start" fill="#333" >epoch = 180</text><rect x="497" y="2151" width="22" height="9" fill="#f8d5b5" stroke="#e3883a" stroke-width="0.8"/><text x="528.7" y="2159.5" font-family="Liberation Sans" font-size="11" text-anchor="start" fill="#333" >epoch = 120</text><rect x="497" y="2168" width="22" height="9" fill="#c6d6ee" stroke="#4a7ebf" stroke-width="0.8"/><text x="528.7" y="2176.5" font-family="Liberation Sans" font-size="11" text-anchor="start" fill="#333" >epoch = 60</text><circle cx="658.1" cy="2248.3" r="2.0" fill="#4a7ebf"/><circle cx="672.2" cy="2244.3" r="2.0" fill="#4a7ebf"/><circle cx="679.4" cy="2241.3" r="2.0" fill="#4a7ebf"/><circle cx="684.4" cy="2239.1" r="2.0" fill="#4a7ebf"/><circle cx="688.4" cy="2237.4" r="2.0" fill="#4a7ebf"/><circle cx="691.6" cy="2236.1" r="2.0" fill="#4a7ebf"/><circle cx="694.4" cy="2235.1" r="2.0" fill="#4a7ebf"/><circle cx="696.9" cy="2234.1" r="2.0" fill="#4a7ebf"/><circle cx="699.1" cy="2233.3" r="2.0" fill="#4a7ebf"/><circle cx="701.2" cy="2232.5" r="2.0" fill="#4a7ebf"/><circle cx="703.0" cy="2231.8" r="2.0" fill="#4a7ebf"/><circle cx="704.8" cy="2231.1" r="2.0" fill="#4a7ebf"/><circle cx="706.4" cy="2230.5" r="2.0" fill="#4a7ebf"/><circle cx="707.9" cy="2229.9" r="2.0" fill="#4a7ebf"/><circle cx="709.4" cy="2229.4" r="2.0" fill="#4a7ebf"/><circle cx="710.7" cy="2228.8" r="2.0" fill="#4a7ebf"/><circle cx="712.0" cy="2228.3" r="2.0" fill="#4a7ebf"/><circle cx="713.3" cy="2227.9" r="2.0" fill="#4a7ebf"/><circle cx="714.5" cy="2227.4" r="2.0" fill="#4a7ebf"/><circle cx="715.6" cy="2227.0" r="2.0" fill="#4a7ebf"/><circle cx="716.7" cy="2226.5" r="2.0" fill="#4a7ebf"/><circle cx="717.8" cy="2226.1" r="2.0" fill="#4a7ebf"/><circle cx="718.9" cy="2225.7" r="2.0" fill="#4a7ebf"/><circle cx="719.9" cy="2225.3" r="2.0" fill="#4a7ebf"/><circle cx="720.9" cy="2225.0" r="2.0" fill="#4a7ebf"/><circle cx="721.8" cy="2224.6" r="2.0" fill="#4a7ebf"/><circle cx="722.8" cy="2224.3" r="2.0" fill="#4a7ebf"/><circle cx="723.7" cy="2223.8" r="2.0" fill="#4a7ebf"/><circle cx="724.6" cy="2223.3" r="2.0" fill="#4a7ebf"/><circle cx="725.4" cy="2222.8" r="2.0" fill="#4a7ebf"/><circle cx="726.3" cy="2222.3" r="2.0" fill="#4a7ebf"/><circle cx="727.1" cy="2221.8" r="2.0" fill="#4a7ebf"/><circle cx="727.9" cy="2221.4" r="2.0" fill="#4a7ebf"/><circle cx="728.7" cy="2220.9" r="2.0" fill="#4a7ebf"/><circle cx="729.5" cy="2220.5" r="2.0" fill="#4a7ebf"/><circle cx="730.3" cy="2220.0" r="2.0" fill="#4a7ebf"/><circle cx="731.1" cy="2219.6" r="2.0" fill="#4a7ebf"/><circle cx="731.8" cy="2219.1" r="2.0" fill="#4a7ebf"/><circle cx="732.6" cy="2218.7" r="2.0" fill="#4a7ebf"/><circle cx="733.3" cy="2218.3" r="2.0" fill="#4a7ebf"/><circle cx="734.0" cy="2217.9" r="2.0" fill="#4a7ebf"/><circle cx="734.7" cy="2217.5" r="2.0" fill="#4a7ebf"/><circle cx="735.4" cy="2217.1" r="2.0" fill="#4a7ebf"/><circle cx="736.1" cy="2216.7" r="2.0" fill="#4a7ebf"/><circle cx="736.8" cy="2216.3" r="2.0" fill="#4a7ebf"/><circle cx="737.5" cy="2215.9" r="2.0" fill="#4a7ebf"/><circle cx="738.2" cy="2215.5" r="2.0" fill="#4a7ebf"/><circle cx="738.8" cy="2215.1" r="2.0" fill="#4a7ebf"/><circle cx="739.5" cy="2214.8" r="2.0" fill="#4a7ebf"/><circle cx="740.1" cy="2214.4" r="2.0" fill="#4a7ebf"/><circle cx="740.8" cy="2214.0" r="2.0" fill="#4a7ebf"/><circle cx="741.4" cy="2213.6" r="2.0" fill="#4a7ebf"/><circle cx="742.1" cy="2213.3" r="2.0" fill="#4a7ebf"/><circle cx="742.7" cy="2212.9" r="2.0" fill="#4a7ebf"/><circle cx="743.3" cy="2212.6" r="2.0" fill="#4a7ebf"/><circle cx="744.0" cy="2212.2" r="2.0" fill="#4a7ebf"/><circle cx="744.6" cy="2211.8" r="2.0" fill="#4a7ebf"/><circle cx="745.2" cy="2211.5" r="2.0" fill="#4a7ebf"/><circle cx="745.8" cy="2211.1" r="2.0" fill="#4a7ebf"/><circle cx="746.4" cy="2210.8" r="2.0" fill="#4a7ebf"/><circle cx="747.0" cy="2210.4" r="2.0" fill="#4a7ebf"/><circle cx="747.6" cy="2210.1" r="2.0" fill="#4a7ebf"/><circle cx="748.2" cy="2209.8" r="2.0" fill="#4a7ebf"/><circle cx="748.8" cy="2209.4" r="2.0" fill="#4a7ebf"/><circle cx="749.4" cy="2209.1" r="2.0" fill="#4a7ebf"/><circle cx="750.0" cy="2208.7" r="2.0" fill="#4a7ebf"/><circle cx="750.6" cy="2208.4" r="2.0" fill="#4a7ebf"/><circle cx="751.2" cy="2208.1" r="2.0" fill="#4a7ebf"/><circle cx="751.8" cy="2207.7" r="2.0" fill="#4a7ebf"/><circle cx="752.3" cy="2207.4" r="2.0" fill="#4a7ebf"/><circle cx="752.9" cy="2207.1" r="2.0" fill="#4a7ebf"/><circle cx="753.5" cy="2206.7" r="2.0" fill="#4a7ebf"/><circle cx="754.1" cy="2206.4" r="2.0" fill="#4a7ebf"/><circle cx="754.7" cy="2206.1" r="2.0" fill="#4a7ebf"/><circle cx="755.2" cy="2205.7" r="2.0" fill="#4a7ebf"/><circle cx="755.8" cy="2205.4" r="2.0" fill="#4a7ebf"/><circle cx="756.4" cy="2205.1" r="2.0" fill="#4a7ebf"/><circle cx="757.0" cy="2204.7" r="2.0" fill="#4a7ebf"/><circle cx="757.5" cy="2204.4" r="2.0" fill="#4a7ebf"/><circle cx="758.1" cy="2204.1" r="2.0" fill="#4a7ebf"/><circle cx="758.7" cy="2203.8" r="2.0" fill="#4a7ebf"/><circle cx="759.3" cy="2203.5" r="2.0" fill="#4a7ebf"/><circle cx="759.8" cy="2203.2" r="2.0" fill="#4a7ebf"/><circle cx="760.4" cy="2202.9" r="2.0" fill="#4a7ebf"/><circle cx="761.0" cy="2202.6" r="2.0" fill="#4a7ebf"/><circle cx="761.6" cy="2202.3" r="2.0" fill="#4a7ebf"/><circle cx="762.1" cy="2202.0" r="2.0" fill="#4a7ebf"/><circle cx="762.7" cy="2201.7" r="2.0" fill="#4a7ebf"/><circle cx="763.3" cy="2201.3" r="2.0" fill="#4a7ebf"/><circle cx="763.9" cy="2201.0" r="2.0" fill="#4a7ebf"/><circle cx="764.5" cy="2200.7" r="2.0" fill="#4a7ebf"/><circle cx="765.0" cy="2200.4" r="2.0" fill="#4a7ebf"/><circle cx="765.6" cy="2200.1" r="2.0" fill="#4a7ebf"/><circle cx="766.2" cy="2199.8" r="2.0" fill="#4a7ebf"/><circle cx="766.8" cy="2199.5" r="2.0" fill="#4a7ebf"/><circle cx="767.4" cy="2199.2" r="2.0" fill="#4a7ebf"/><circle cx="768.0" cy="2198.9" r="2.0" fill="#4a7ebf"/><circle cx="768.6" cy="2198.6" r="2.0" fill="#4a7ebf"/><circle cx="769.2" cy="2198.3" r="2.0" fill="#4a7ebf"/><circle cx="769.8" cy="2197.9" r="2.0" fill="#4a7ebf"/><circle cx="770.4" cy="2197.6" r="2.0" fill="#4a7ebf"/><circle cx="771.0" cy="2197.3" r="2.0" fill="#4a7ebf"/><circle cx="771.6" cy="2197.0" r="2.0" fill="#4a7ebf"/><circle cx="772.2" cy="2196.7" r="2.0" fill="#4a7ebf"/><circle cx="772.8" cy="2196.3" r="2.0" fill="#4a7ebf"/><circle cx="773.5" cy="2196.0" r="2.0" fill="#4a7ebf"/><circle cx="774.1" cy="2195.7" r="2.0" fill="#4a7ebf"/><circle cx="774.7" cy="2195.3" r="2.0" fill="#4a7ebf"/><circle cx="775.4" cy="2195.0" r="2.0" fill="#4a7ebf"/><circle cx="776.0" cy="2194.7" r="2.0" fill="#4a7ebf"/><circle cx="776.7" cy="2194.3" r="2.0" fill="#4a7ebf"/><circle cx="777.3" cy="2194.0" r="2.0" fill="#4a7ebf"/><circle cx="778.0" cy="2193.6" r="2.0" fill="#4a7ebf"/><circle cx="778.6" cy="2193.3" r="2.0" fill="#4a7ebf"/><circle cx="779.3" cy="2192.9" r="2.0" fill="#4a7ebf"/><circle cx="780.0" cy="2192.6" r="2.0" fill="#4a7ebf"/><circle cx="780.7" cy="2192.2" r="2.0" fill="#4a7ebf"/><circle cx="781.4" cy="2191.9" r="2.0" fill="#4a7ebf"/><circle cx="782.1" cy="2191.5" r="2.0" fill="#4a7ebf"/><circle cx="782.8" cy="2191.1" r="2.0" fill="#4a7ebf"/><circle cx="783.5" cy="2190.7" r="2.0" fill="#4a7ebf"/><circle cx="784.2" cy="2190.4" r="2.0" fill="#4a7ebf"/><circle cx="785.0" cy="2190.0" r="2.0" fill="#4a7ebf"/><circle cx="785.7" cy="2189.6" r="2.0" fill="#4a7ebf"/><circle cx="786.5" cy="2189.2" r="2.0" fill="#4a7ebf"/><circle cx="787.3" cy="2188.7" r="2.0" fill="#4a7ebf"/><circle cx="788.1" cy="2188.2" r="2.0" fill="#4a7ebf"/><circle cx="788.9" cy="2187.8" r="2.0" fill="#4a7ebf"/><circle cx="789.7" cy="2187.3" r="2.0" fill="#4a7ebf"/><circle cx="790.5" cy="2186.8" r="2.0" fill="#4a7ebf"/><circle cx="791.4" cy="2186.3" r="2.0" fill="#4a7ebf"/><circle cx="792.2" cy="2185.8" r="2.0" fill="#4a7ebf"/><circle cx="793.1" cy="2185.2" r="2.0" fill="#4a7ebf"/><circle cx="794.0" cy="2184.6" r="2.0" fill="#4a7ebf"/><circle cx="795.0" cy="2183.8" r="2.0" fill="#4a7ebf"/><circle cx="795.9" cy="2183.0" r="2.0" fill="#4a7ebf"/><circle cx="796.9" cy="2182.1" r="2.0" fill="#4a7ebf"/><circle cx="797.9" cy="2181.3" r="2.0" fill="#4a7ebf"/><circle cx="799.0" cy="2180.4" r="2.0" fill="#4a7ebf"/><circle cx="800.1" cy="2179.5" r="2.0" fill="#4a7ebf"/><circle cx="801.2" cy="2178.5" r="2.0" fill="#4a7ebf"/><circle cx="802.3" cy="2177.6" r="2.0" fill="#4a7ebf"/><circle cx="803.5" cy="2176.5" r="2.0" fill="#4a7ebf"/><circle cx="804.8" cy="2175.5" r="2.0" fill="#4a7ebf"/><circle cx="806.1" cy="2174.4" r="2.0" fill="#4a7ebf"/><circle cx="807.4" cy="2173.2" r="2.0" fill="#4a7ebf"/><circle cx="808.9" cy="2172.0" r="2.0" fill="#4a7ebf"/><circle cx="810.4" cy="2170.7" r="2.0" fill="#4a7ebf"/><circle cx="812.0" cy="2169.1" r="2.0" fill="#4a7ebf"/><circle cx="813.8" cy="2167.3" r="2.0" fill="#4a7ebf"/><circle cx="815.6" cy="2165.6" r="2.0" fill="#4a7ebf"/><circle cx="817.7" cy="2164.0" r="2.0" fill="#4a7ebf"/><circle cx="819.9" cy="2162.2" r="2.0" fill="#4a7ebf"/><circle cx="822.4" cy="2160.3" r="2.0" fill="#4a7ebf"/><circle cx="825.2" cy="2158.1" r="2.0" fill="#4a7ebf"/><circle cx="828.4" cy="2155.5" r="2.0" fill="#4a7ebf"/><circle cx="832.4" cy="2152.4" r="2.0" fill="#4a7ebf"/><circle cx="837.4" cy="2148.5" r="2.0" fill="#4a7ebf"/><circle cx="844.6" cy="2142.8" r="2.0" fill="#4a7ebf"/><circle cx="858.7" cy="2128.3" r="2.0" fill="#4a7ebf"/><circle cx="658.1" cy="2251.0" r="3.1" fill="#e67e22"/><circle cx="672.2" cy="2246.5" r="3.1" fill="#e67e22"/><circle cx="679.4" cy="2243.3" r="3.1" fill="#e67e22"/><circle cx="684.4" cy="2240.9" r="3.1" fill="#e67e22"/><circle cx="688.4" cy="2239.0" r="3.1" fill="#e67e22"/><circle cx="691.6" cy="2237.6" r="3.1" fill="#e67e22"/><circle cx="694.4" cy="2236.4" r="3.1" fill="#e67e22"/><circle cx="696.9" cy="2235.4" r="3.1" fill="#e67e22"/><circle cx="699.1" cy="2234.4" r="3.1" fill="#e67e22"/><circle cx="701.2" cy="2233.5" r="3.1" fill="#e67e22"/><circle cx="703.0" cy="2232.7" r="3.1" fill="#e67e22"/><circle cx="704.8" cy="2232.0" r="3.1" fill="#e67e22"/><circle cx="706.4" cy="2231.3" r="3.1" fill="#e67e22"/><circle cx="707.9" cy="2230.6" r="3.1" fill="#e67e22"/><circle cx="709.4" cy="2230.0" r="3.1" fill="#e67e22"/><circle cx="710.7" cy="2229.4" r="3.1" fill="#e67e22"/><circle cx="712.0" cy="2228.9" r="3.1" fill="#e67e22"/><circle cx="713.3" cy="2228.3" r="3.1" fill="#e67e22"/><circle cx="714.5" cy="2227.8" r="3.1" fill="#e67e22"/><circle cx="715.6" cy="2227.3" r="3.1" fill="#e67e22"/><circle cx="716.7" cy="2226.9" r="3.1" fill="#e67e22"/><circle cx="717.8" cy="2226.4" r="3.1" fill="#e67e22"/><circle cx="718.9" cy="2225.9" r="3.1" fill="#e67e22"/><circle cx="719.9" cy="2225.5" r="3.1" fill="#e67e22"/><circle cx="720.9" cy="2225.1" r="3.1" fill="#e67e22"/><circle cx="721.8" cy="2224.7" r="3.1" fill="#e67e22"/><circle cx="722.8" cy="2224.3" r="3.1" fill="#e67e22"/><circle cx="723.7" cy="2223.8" r="3.1" fill="#e67e22"/><circle cx="724.6" cy="2223.3" r="3.1" fill="#e67e22"/><circle cx="725.4" cy="2222.8" r="3.1" fill="#e67e22"/><circle cx="726.3" cy="2222.3" r="3.1" fill="#e67e22"/><circle cx="727.1" cy="2221.8" r="3.1" fill="#e67e22"/><circle cx="727.9" cy="2221.4" r="3.1" fill="#e67e22"/><circle cx="728.7" cy="2220.9" r="3.1" fill="#e67e22"/><circle cx="729.5" cy="2220.5" r="3.1" fill="#e67e22"/><circle cx="730.3" cy="2220.0" r="3.1" fill="#e67e22"/><circle cx="731.1" cy="2219.6" r="3.1" fill="#e67e22"/><circle cx="731.8" cy="2219.1" r="3.1" fill="#e67e22"/><circle cx="732.6" cy="2218.7" r="3.1" fill="#e67e22"/><circle cx="733.3" cy="2218.3" r="3.1" fill="#e67e22"/><circle cx="734.0" cy="2217.9" r="3.1" fill="#e67e22"/><circle cx="734.7" cy="2217.5" r="3.1" fill="#e67e22"/><circle cx="735.4" cy="2217.1" r="3.1" fill="#e67e22"/><circle cx="736.1" cy="2216.7" r="3.1" fill="#e67e22"/><circle cx="736.8" cy="2216.3" r="3.1" fill="#e67e22"/><circle cx="737.5" cy="2215.9" r="3.1" fill="#e67e22"/><circle cx="738.2" cy="2215.5" r="3.1" fill="#e67e22"/><circle cx="738.8" cy="2215.1" r="3.1" fill="#e67e22"/><circle cx="739.5" cy="2214.8" r="3.1" fill="#e67e22"/><circle cx="740.1" cy="2214.4" r="3.1" fill="#e67e22"/><circle cx="740.8" cy="2214.0" r="3.1" fill="#e67e22"/><circle cx="741.4" cy="2213.6" r="3.1" fill="#e67e22"/><circle cx="742.1" cy="2213.3" r="3.1" fill="#e67e22"/><circle cx="742.7" cy="2212.9" r="3.1" fill="#e67e22"/><circle cx="743.3" cy="2212.6" r="3.1" fill="#e67e22"/><circle cx="744.0" cy="2212.2" r="3.1" fill="#e67e22"/><circle cx="744.6" cy="2211.8" r="3.1" fill="#e67e22"/><circle cx="745.2" cy="2211.5" r="3.1" fill="#e67e22"/><circle cx="745.8" cy="2211.1" r="3.1" fill="#e67e22"/><circle cx="746.4" cy="2210.8" r="3.1" fill="#e67e22"/><circle cx="747.0" cy="2210.4" r="3.1" fill="#e67e22"/><circle cx="747.6" cy="2210.1" r="3.1" fill="#e67e22"/><circle cx="748.2" cy="2209.8" r="3.1" fill="#e67e22"/><circle cx="748.8" cy="2209.4" r="3.1" fill="#e67e22"/><circle cx="749.4" cy="2209.1" r="3.1" fill="#e67e22"/><circle cx="750.0" cy="2208.7" r="3.1" fill="#e67e22"/><circle cx="750.6" cy="2208.4" r="3.1" fill="#e67e22"/><circle cx="751.2" cy="2208.1" r="3.1" fill="#e67e22"/><circle cx="751.8" cy="2207.7" r="3.1" fill="#e67e22"/><circle cx="752.3" cy="2207.4" r="3.1" fill="#e67e22"/><circle cx="752.9" cy="2207.1" r="3.1" fill="#e67e22"/><circle cx="753.5" cy="2206.7" r="3.1" fill="#e67e22"/><circle cx="754.1" cy="2206.4" r="3.1" fill="#e67e22"/><circle cx="754.7" cy="2206.1" r="3.1" fill="#e67e22"/><circle cx="755.2" cy="2205.7" r="3.1" fill="#e67e22"/><circle cx="755.8" cy="2205.4" r="3.1" fill="#e67e22"/><circle cx="756.4" cy="2205.1" r="3.1" fill="#e67e22"/><circle cx="757.0" cy="2204.7" r="3.1" fill="#e67e22"/><circle cx="757.5" cy="2204.4" r="3.1" fill="#e67e22"/><circle cx="758.1" cy="2204.1" r="3.1" fill="#e67e22"/><circle cx="758.7" cy="2203.7" r="3.1" fill="#e67e22"/><circle cx="759.3" cy="2203.4" r="3.1" fill="#e67e22"/><circle cx="759.8" cy="2203.0" r="3.1" fill="#e67e22"/><circle cx="760.4" cy="2202.7" r="3.1" fill="#e67e22"/><circle cx="761.0" cy="2202.3" r="3.1" fill="#e67e22"/><circle cx="761.6" cy="2202.0" r="3.1" fill="#e67e22"/><circle cx="762.1" cy="2201.6" r="3.1" fill="#e67e22"/><circle cx="762.7" cy="2201.2" r="3.1" fill="#e67e22"/><circle cx="763.3" cy="2200.9" r="3.1" fill="#e67e22"/><circle cx="763.9" cy="2200.5" r="3.1" fill="#e67e22"/><circle cx="764.5" cy="2200.2" r="3.1" fill="#e67e22"/><circle cx="765.0" cy="2199.8" r="3.1" fill="#e67e22"/><circle cx="765.6" cy="2199.4" r="3.1" fill="#e67e22"/><circle cx="766.2" cy="2199.1" r="3.1" fill="#e67e22"/><circle cx="766.8" cy="2198.7" r="3.1" fill="#e67e22"/><circle cx="767.4" cy="2198.3" r="3.1" fill="#e67e22"/><circle cx="768.0" cy="2198.0" r="3.1" fill="#e67e22"/><circle cx="768.6" cy="2197.6" r="3.1" fill="#e67e22"/><circle cx="769.2" cy="2197.2" r="3.1" fill="#e67e22"/><circle cx="769.8" cy="2196.9" r="3.1" fill="#e67e22"/><circle cx="770.4" cy="2196.5" r="3.1" fill="#e67e22"/><circle cx="771.0" cy="2196.1" r="3.1" fill="#e67e22"/><circle cx="771.6" cy="2195.7" r="3.1" fill="#e67e22"/><circle cx="772.2" cy="2195.3" r="3.1" fill="#e67e22"/><circle cx="772.8" cy="2195.0" r="3.1" fill="#e67e22"/><circle cx="773.5" cy="2194.6" r="3.1" fill="#e67e22"/><circle cx="774.1" cy="2194.2" r="3.1" fill="#e67e22"/><circle cx="774.7" cy="2193.8" r="3.1" fill="#e67e22"/><circle cx="775.4" cy="2193.4" r="3.1" fill="#e67e22"/><circle cx="776.0" cy="2193.0" r="3.1" fill="#e67e22"/><circle cx="776.7" cy="2192.6" r="3.1" fill="#e67e22"/><circle cx="777.3" cy="2192.2" r="3.1" fill="#e67e22"/><circle cx="778.0" cy="2191.8" r="3.1" fill="#e67e22"/><circle cx="778.6" cy="2191.4" r="3.1" fill="#e67e22"/><circle cx="779.3" cy="2190.9" r="3.1" fill="#e67e22"/><circle cx="780.0" cy="2190.5" r="3.1" fill="#e67e22"/><circle cx="780.7" cy="2190.1" r="3.1" fill="#e67e22"/><circle cx="781.4" cy="2189.7" r="3.1" fill="#e67e22"/><circle cx="782.1" cy="2189.2" r="3.1" fill="#e67e22"/><circle cx="782.8" cy="2188.8" r="3.1" fill="#e67e22"/><circle cx="783.5" cy="2188.3" r="3.1" fill="#e67e22"/><circle cx="784.2" cy="2187.9" r="3.1" fill="#e67e22"/><circle cx="785.0" cy="2187.4" r="3.1" fill="#e67e22"/><circle cx="785.7" cy="2187.0" r="3.1" fill="#e67e22"/><circle cx="786.5" cy="2186.5" r="3.1" fill="#e67e22"/><circle cx="787.3" cy="2186.0" r="3.1" fill="#e67e22"/><circle cx="788.1" cy="2185.5" r="3.1" fill="#e67e22"/><circle cx="788.9" cy="2185.0" r="3.1" fill="#e67e22"/><circle cx="789.7" cy="2184.5" r="3.1" fill="#e67e22"/><circle cx="790.5" cy="2184.0" r="3.1" fill="#e67e22"/><circle cx="791.4" cy="2183.5" r="3.1" fill="#e67e22"/><circle cx="792.2" cy="2182.9" r="3.1" fill="#e67e22"/><circle cx="793.1" cy="2182.4" r="3.1" fill="#e67e22"/><circle cx="794.0" cy="2181.7" r="3.1" fill="#e67e22"/><circle cx="795.0" cy="2180.9" r="3.1" fill="#e67e22"/><circle cx="795.9" cy="2180.0" r="3.1" fill="#e67e22"/><circle cx="796.9" cy="2179.2" r="3.1" fill="#e67e22"/><circle cx="797.9" cy="2178.3" r="3.1" fill="#e67e22"/><circle cx="799.0" cy="2177.4" r="3.1" fill="#e67e22"/><circle cx="800.1" cy="2176.4" r="3.1" fill="#e67e22"/><circle cx="801.2" cy="2175.5" r="3.1" fill="#e67e22"/><circle cx="802.3" cy="2174.4" r="3.1" fill="#e67e22"/><circle cx="803.5" cy="2173.4" r="3.1" fill="#e67e22"/><circle cx="804.8" cy="2172.3" r="3.1" fill="#e67e22"/><circle cx="806.1" cy="2171.2" r="3.1" fill="#e67e22"/><circle cx="807.4" cy="2170.0" r="3.1" fill="#e67e22"/><circle cx="808.9" cy="2168.7" r="3.1" fill="#e67e22"/><circle cx="810.4" cy="2167.4" r="3.1" fill="#e67e22"/><circle cx="812.0" cy="2165.9" r="3.1" fill="#e67e22"/><circle cx="813.8" cy="2164.4" r="3.1" fill="#e67e22"/><circle cx="815.6" cy="2163.1" r="3.1" fill="#e67e22"/><circle cx="817.7" cy="2161.8" r="3.1" fill="#e67e22"/><circle cx="819.9" cy="2160.5" r="3.1" fill="#e67e22"/><circle cx="822.4" cy="2159.0" r="3.1" fill="#e67e22"/><circle cx="825.2" cy="2157.4" r="3.1" fill="#e67e22"/><circle cx="828.4" cy="2155.4" r="3.1" fill="#e67e22"/><circle cx="832.4" cy="2152.8" r="3.1" fill="#e67e22"/><circle cx="837.4" cy="2149.4" r="3.1" fill="#e67e22"/><circle cx="844.6" cy="2144.6" r="3.1" fill="#e67e22"/><circle cx="858.7" cy="2131.7" r="3.1" fill="#e67e22"/><polygon points="658.1,2291.0 654.7,2297.0 661.5,2297.0" fill="#5aa845"/><polygon points="672.2,2290.2 668.8,2296.2 675.6,2296.2" fill="#5aa845"/><polygon points="679.4,2289.8 676.0,2295.8 682.8,2295.8" fill="#5aa845"/><polygon points="684.4,2289.6 681.0,2295.6 687.8,2295.6" fill="#5aa845"/><polygon points="688.4,2289.3 685.0,2295.3 691.8,2295.3" fill="#5aa845"/><polygon points="691.6,2288.8 688.2,2294.8 695.0,2294.8" fill="#5aa845"/><polygon points="694.4,2288.4 691.0,2294.4 697.8,2294.4" fill="#5aa845"/><polygon points="696.9,2288.1 693.5,2294.1 700.3,2294.1" fill="#5aa845"/><polygon points="699.1,2287.8 695.7,2293.8 702.5,2293.8" fill="#5aa845"/><polygon points="701.2,2287.5 697.8,2293.5 704.6,2293.5" fill="#5aa845"/><polygon points="703.0,2287.2 699.6,2293.2 706.4,2293.2" fill="#5aa845"/><polygon points="704.8,2287.0 701.4,2293.0 708.2,2293.0" fill="#5aa845"/><polygon points="706.4,2286.7 703.0,2292.7 709.8,2292.7" fill="#5aa845"/><polygon points="707.9,2286.5 704.5,2292.5 711.3,2292.5" fill="#5aa845"/><polygon points="709.4,2286.3 706.0,2292.3 712.8,2292.3" fill="#5aa845"/><polygon points="710.7,2286.1 707.3,2292.1 714.1,2292.1" fill="#5aa845"/><polygon points="712.0,2285.9 708.6,2291.9 715.4,2291.9" fill="#5aa845"/><polygon points="713.3,2285.7 709.9,2291.7 716.7,2291.7" fill="#5aa845"/><polygon points="714.5,2285.6 711.1,2291.6 717.9,2291.6" fill="#5aa845"/><polygon points="715.6,2285.4 712.2,2291.4 719.0,2291.4" fill="#5aa845"/><polygon points="716.7,2285.2 713.3,2291.2 720.1,2291.2" fill="#5aa845"/><polygon points="717.8,2285.1 714.4,2291.1 721.2,2291.1" fill="#5aa845"/><polygon points="718.9,2284.9 715.5,2290.9 722.3,2290.9" fill="#5aa845"/><polygon points="719.9,2284.8 716.5,2290.8 723.3,2290.8" fill="#5aa845"/><polygon points="720.9,2284.7 717.5,2290.7 724.3,2290.7" fill="#5aa845"/><polygon points="721.8,2284.5 718.4,2290.5 725.2,2290.5" fill="#5aa845"/><polygon points="722.8,2284.4 719.4,2290.4 726.2,2290.4" fill="#5aa845"/><polygon points="723.7,2284.2 720.3,2290.2 727.1,2290.2" fill="#5aa845"/><polygon points="724.6,2284.0 721.2,2290.0 728.0,2290.0" fill="#5aa845"/><polygon points="725.4,2283.8 722.0,2289.8 728.8,2289.8" fill="#5aa845"/><polygon points="726.3,2283.6 722.9,2289.6 729.7,2289.6" fill="#5aa845"/><polygon points="727.1,2283.4 723.7,2289.4 730.5,2289.4" fill="#5aa845"/><polygon points="727.9,2283.2 724.5,2289.2 731.3,2289.2" fill="#5aa845"/><polygon points="728.7,2283.0 725.3,2289.0 732.1,2289.0" fill="#5aa845"/><polygon points="729.5,2282.8 726.1,2288.8 732.9,2288.8" fill="#5aa845"/><polygon points="730.3,2282.6 726.9,2288.6 733.7,2288.6" fill="#5aa845"/><polygon points="731.1,2282.4 727.7,2288.4 734.5,2288.4" fill="#5aa845"/><polygon points="731.8,2282.3 728.4,2288.3 735.2,2288.3" fill="#5aa845"/><polygon points="732.6,2282.1 729.2,2288.1 736.0,2288.1" fill="#5aa845"/><polygon points="733.3,2281.9 729.9,2287.9 736.7,2287.9" fill="#5aa845"/><polygon points="734.0,2281.7 730.6,2287.7 737.4,2287.7" fill="#5aa845"/><polygon points="734.7,2281.6 731.3,2287.6 738.1,2287.6" fill="#5aa845"/><polygon points="735.4,2281.4 732.0,2287.4 738.8,2287.4" fill="#5aa845"/><polygon points="736.1,2281.2 732.7,2287.2 739.5,2287.2" fill="#5aa845"/><polygon points="736.8,2281.1 733.4,2287.1 740.2,2287.1" fill="#5aa845"/><polygon points="737.5,2280.9 734.1,2286.9 740.9,2286.9" fill="#5aa845"/><polygon points="738.2,2280.7 734.8,2286.7 741.6,2286.7" fill="#5aa845"/><polygon points="738.8,2280.6 735.4,2286.6 742.2,2286.6" fill="#5aa845"/><polygon points="739.5,2280.4 736.1,2286.4 742.9,2286.4" fill="#5aa845"/><polygon points="740.1,2280.3 736.7,2286.3 743.5,2286.3" fill="#5aa845"/><polygon points="740.8,2280.1 737.4,2286.1 744.2,2286.1" fill="#5aa845"/><polygon points="741.4,2280.0 738.0,2286.0 744.8,2286.0" fill="#5aa845"/><polygon points="742.1,2279.8 738.7,2285.8 745.5,2285.8" fill="#5aa845"/><polygon points="742.7,2279.7 739.3,2285.7 746.1,2285.7" fill="#5aa845"/><polygon points="743.3,2279.5 739.9,2285.5 746.7,2285.5" fill="#5aa845"/><polygon points="744.0,2279.4 740.6,2285.4 747.4,2285.4" fill="#5aa845"/><polygon points="744.6,2279.2 741.2,2285.2 748.0,2285.2" fill="#5aa845"/><polygon points="745.2,2279.1 741.8,2285.1 748.6,2285.1" fill="#5aa845"/><polygon points="745.8,2278.9 742.4,2284.9 749.2,2284.9" fill="#5aa845"/><polygon points="746.4,2278.8 743.0,2284.8 749.8,2284.8" fill="#5aa845"/><polygon points="747.0,2278.6 743.6,2284.6 750.4,2284.6" fill="#5aa845"/><polygon points="747.6,2278.5 744.2,2284.5 751.0,2284.5" fill="#5aa845"/><polygon points="748.2,2278.4 744.8,2284.4 751.6,2284.4" fill="#5aa845"/><polygon points="748.8,2278.2 745.4,2284.2 752.2,2284.2" fill="#5aa845"/><polygon points="749.4,2278.1 746.0,2284.1 752.8,2284.1" fill="#5aa845"/><polygon points="750.0,2277.9 746.6,2283.9 753.4,2283.9" fill="#5aa845"/><polygon points="750.6,2277.8 747.2,2283.8 754.0,2283.8" fill="#5aa845"/><polygon points="751.2,2277.6 747.8,2283.6 754.6,2283.6" fill="#5aa845"/><polygon points="751.8,2277.5 748.4,2283.5 755.2,2283.5" fill="#5aa845"/><polygon points="752.3,2277.4 748.9,2283.4 755.7,2283.4" fill="#5aa845"/><polygon points="752.9,2277.2 749.5,2283.2 756.3,2283.2" fill="#5aa845"/><polygon points="753.5,2277.1 750.1,2283.1 756.9,2283.1" fill="#5aa845"/><polygon points="754.1,2277.0 750.7,2283.0 757.5,2283.0" fill="#5aa845"/><polygon points="754.7,2276.8 751.3,2282.8 758.1,2282.8" fill="#5aa845"/><polygon points="755.2,2276.7 751.8,2282.7 758.6,2282.7" fill="#5aa845"/><polygon points="755.8,2276.5 752.4,2282.5 759.2,2282.5" fill="#5aa845"/><polygon points="756.4,2276.4 753.0,2282.4 759.8,2282.4" fill="#5aa845"/><polygon points="757.0,2276.3 753.6,2282.3 760.4,2282.3" fill="#5aa845"/><polygon points="757.5,2276.1 754.1,2282.1 760.9,2282.1" fill="#5aa845"/><polygon points="758.1,2276.0 754.7,2282.0 761.5,2282.0" fill="#5aa845"/><polygon points="758.7,2275.8 755.3,2281.8 762.1,2281.8" fill="#5aa845"/><polygon points="759.3,2275.5 755.9,2281.5 762.7,2281.5" fill="#5aa845"/><polygon points="759.8,2275.3 756.4,2281.3 763.2,2281.3" fill="#5aa845"/><polygon points="760.4,2275.1 757.0,2281.1 763.8,2281.1" fill="#5aa845"/><polygon points="761.0,2274.8 757.6,2280.8 764.4,2280.8" fill="#5aa845"/><polygon points="761.6,2274.6 758.2,2280.6 765.0,2280.6" fill="#5aa845"/><polygon points="762.1,2274.3 758.7,2280.3 765.5,2280.3" fill="#5aa845"/><polygon points="762.7,2274.1 759.3,2280.1 766.1,2280.1" fill="#5aa845"/><polygon points="763.3,2273.8 759.9,2279.8 766.7,2279.8" fill="#5aa845"/><polygon points="763.9,2273.6 760.5,2279.6 767.3,2279.6" fill="#5aa845"/><polygon points="764.5,2273.3 761.1,2279.3 767.9,2279.3" fill="#5aa845"/><polygon points="765.0,2273.1 761.6,2279.1 768.4,2279.1" fill="#5aa845"/><polygon points="765.6,2272.8 762.2,2278.8 769.0,2278.8" fill="#5aa845"/><polygon points="766.2,2272.6 762.8,2278.6 769.6,2278.6" fill="#5aa845"/><polygon points="766.8,2272.3 763.4,2278.3 770.2,2278.3" fill="#5aa845"/><polygon points="767.4,2272.1 764.0,2278.1 770.8,2278.1" fill="#5aa845"/><polygon points="768.0,2271.8 764.6,2277.8 771.4,2277.8" fill="#5aa845"/><polygon points="768.6,2271.5 765.2,2277.5 772.0,2277.5" fill="#5aa845"/><polygon points="769.2,2271.3 765.8,2277.3 772.6,2277.3" fill="#5aa845"/><polygon points="769.8,2271.0 766.4,2277.0 773.2,2277.0" fill="#5aa845"/><polygon points="770.4,2270.8 767.0,2276.8 773.8,2276.8" fill="#5aa845"/><polygon points="771.0,2270.5 767.6,2276.5 774.4,2276.5" fill="#5aa845"/><polygon points="771.6,2270.2 768.2,2276.2 775.0,2276.2" fill="#5aa845"/><polygon points="772.2,2270.0 768.8,2276.0 775.6,2276.0" fill="#5aa845"/><polygon points="772.8,2269.7 769.4,2275.7 776.2,2275.7" fill="#5aa845"/><polygon points="773.5,2269.4 770.1,2275.4 776.9,2275.4" fill="#5aa845"/><polygon points="774.1,2269.2 770.7,2275.2 777.5,2275.2" fill="#5aa845"/><polygon points="774.7,2268.9 771.3,2274.9 778.1,2274.9" fill="#5aa845"/><polygon points="775.4,2268.6 772.0,2274.6 778.8,2274.6" fill="#5aa845"/><polygon points="776.0,2268.4 772.6,2274.4 779.4,2274.4" fill="#5aa845"/><polygon points="776.7,2268.1 773.3,2274.1 780.1,2274.1" fill="#5aa845"/><polygon points="777.3,2267.8 773.9,2273.8 780.7,2273.8" fill="#5aa845"/><polygon points="778.0,2267.5 774.6,2273.5 781.4,2273.5" fill="#5aa845"/><polygon points="778.6,2267.2 775.2,2273.2 782.0,2273.2" fill="#5aa845"/><polygon points="779.3,2266.9 775.9,2272.9 782.7,2272.9" fill="#5aa845"/><polygon points="780.0,2266.6 776.6,2272.6 783.4,2272.6" fill="#5aa845"/><polygon points="780.7,2266.4 777.3,2272.4 784.1,2272.4" fill="#5aa845"/><polygon points="781.4,2266.1 778.0,2272.1 784.8,2272.1" fill="#5aa845"/><polygon points="782.1,2265.8 778.7,2271.8 785.5,2271.8" fill="#5aa845"/><polygon points="782.8,2265.4 779.4,2271.4 786.2,2271.4" fill="#5aa845"/><polygon points="783.5,2265.1 780.1,2271.1 786.9,2271.1" fill="#5aa845"/><polygon points="784.2,2264.8 780.8,2270.8 787.6,2270.8" fill="#5aa845"/><polygon points="785.0,2264.5 781.6,2270.5 788.4,2270.5" fill="#5aa845"/><polygon points="785.7,2264.2 782.3,2270.2 789.1,2270.2" fill="#5aa845"/><polygon points="786.5,2263.9 783.1,2269.9 789.9,2269.9" fill="#5aa845"/><polygon points="787.3,2263.5 783.9,2269.5 790.7,2269.5" fill="#5aa845"/><polygon points="788.1,2263.2 784.7,2269.2 791.5,2269.2" fill="#5aa845"/><polygon points="788.9,2262.8 785.5,2268.8 792.3,2268.8" fill="#5aa845"/><polygon points="789.7,2262.5 786.3,2268.5 793.1,2268.5" fill="#5aa845"/><polygon points="790.5,2262.1 787.1,2268.1 793.9,2268.1" fill="#5aa845"/><polygon points="791.4,2261.8 788.0,2267.8 794.8,2267.8" fill="#5aa845"/><polygon points="792.2,2261.4 788.8,2267.4 795.6,2267.4" fill="#5aa845"/><polygon points="793.1,2261.0 789.7,2267.0 796.5,2267.0" fill="#5aa845"/><polygon points="794.0,2260.5 790.6,2266.5 797.4,2266.5" fill="#5aa845"/><polygon points="795.0,2260.0 791.6,2266.0 798.4,2266.0" fill="#5aa845"/><polygon points="795.9,2259.5 792.5,2265.5 799.3,2265.5" fill="#5aa845"/><polygon points="796.9,2258.9 793.5,2264.9 800.3,2264.9" fill="#5aa845"/><polygon points="797.9,2258.3 794.5,2264.3 801.3,2264.3" fill="#5aa845"/><polygon points="799.0,2257.7 795.6,2263.7 802.4,2263.7" fill="#5aa845"/><polygon points="800.1,2257.1 796.7,2263.1 803.5,2263.1" fill="#5aa845"/><polygon points="801.2,2256.5 797.8,2262.5 804.6,2262.5" fill="#5aa845"/><polygon points="802.3,2255.8 798.9,2261.8 805.7,2261.8" fill="#5aa845"/><polygon points="803.5,2255.1 800.1,2261.1 806.9,2261.1" fill="#5aa845"/><polygon points="804.8,2254.4 801.4,2260.4 808.2,2260.4" fill="#5aa845"/><polygon points="806.1,2253.7 802.7,2259.7 809.5,2259.7" fill="#5aa845"/><polygon points="807.4,2252.9 804.0,2258.9 810.8,2258.9" fill="#5aa845"/><polygon points="808.9,2252.0 805.5,2258.0 812.3,2258.0" fill="#5aa845"/><polygon points="810.4,2251.2 807.0,2257.2 813.8,2257.2" fill="#5aa845"/><polygon points="812.0,2250.0 808.6,2256.0 815.4,2256.0" fill="#5aa845"/><polygon points="813.8,2248.5 810.4,2254.5 817.2,2254.5" fill="#5aa845"/><polygon points="815.6,2246.9 812.2,2252.9 819.0,2252.9" fill="#5aa845"/><polygon points="817.7,2245.2 814.3,2251.2 821.1,2251.2" fill="#5aa845"/><polygon points="819.9,2243.3 816.5,2249.3 823.3,2249.3" fill="#5aa845"/><polygon points="822.4,2241.1 819.0,2247.1 825.8,2247.1" fill="#5aa845"/><polygon points="825.2,2238.7 821.8,2244.7 828.6,2244.7" fill="#5aa845"/><polygon points="828.4,2235.9 825.0,2241.9 831.8,2241.9" fill="#5aa845"/><polygon points="832.4,2230.5 829.0,2236.5 835.8,2236.5" fill="#5aa845"/><polygon points="837.4,2223.3 834.0,2229.3 840.8,2229.3" fill="#5aa845"/><polygon points="844.6,2217.1 841.2,2223.1 848.0,2223.1" fill="#5aa845"/><polygon points="858.7,2210.4 855.3,2216.4 862.1,2216.4" fill="#5aa845"/><line x1="658.0799999999999" y1="2264.4" x2="858.72" y2="2146.8" stroke="#4a7ebf" stroke-width="1.1"/><line x1="658.0799999999999" y1="2266.08" x2="858.72" y2="2141.76" stroke="#e67e22" stroke-width="1.1"/><line x1="658.0799999999999" y1="2311.44" x2="858.72" y2="2234.16" stroke="#5aa845" stroke-width="1.1"/><rect x="655.5" y="2120" width="205.5" height="200.69999999999982" fill="none" stroke="#555" stroke-width="1.0"/><text x="650.5" y="2302.0" font-family="Liberation Sans" font-size="11" text-anchor="end" fill="#333" >0</text><text x="650.5" y="2268.4" font-family="Liberation Sans" font-size="11" text-anchor="end" fill="#333" >10</text><text x="650.5" y="2234.8" font-family="Liberation Sans" font-size="11" text-anchor="end" fill="#333" >20</text><text x="650.5" y="2201.2" font-family="Liberation Sans" font-size="11" text-anchor="end" fill="#333" >30</text><text x="650.5" y="2167.6" font-family="Liberation Sans" font-size="11" text-anchor="end" fill="#333" >40</text><text x="650.5" y="2134.0" font-family="Liberation Sans" font-size="11" text-anchor="end" fill="#333" >50</text><text x="688.0" y="2334.7" font-family="Liberation Sans" font-size="11" text-anchor="middle" fill="#333" >−2</text><text x="758.4" y="2334.7" font-family="Liberation Sans" font-size="11" text-anchor="middle" fill="#333" >0</text><text x="828.8" y="2334.7" font-family="Liberation Sans" font-size="11" text-anchor="middle" fill="#333" >2</text><text x="758.0" y="2348.0" font-family="Liberation Sans" font-size="12" text-anchor="middle" fill="#333" >theoretical quantiles</text><text transform="translate(630,2220) rotate(-90)" font-family="Liberation Sans" font-size="12" text-anchor="middle" fill="#333">sample quantiles</text><rect x="661.7" y="2126" width="108.3" height="54" rx="3" fill="#fff" stroke="#ccc" stroke-width="0.8"/><circle cx="677" cy="2135.4" r="1.8" fill="#4a7ebf"/><circle cx="677" cy="2152.8" r="2.8" fill="#e67e22"/><polygon points="677,2166.6 674,2172 680,2172" fill="#5aa845"/><text x="698.5" y="2139.5" font-family="Liberation Sans" font-size="11" text-anchor="start" fill="#333" >epoch=180</text><text x="698.5" y="2156.8" font-family="Liberation Sans" font-size="11" text-anchor="start" fill="#333" >epoch=120</text><text x="698.5" y="2174.1" font-family="Liberation Sans" font-size="11" text-anchor="start" fill="#333" >epoch=60</text></svg>
<svg style="left:2360px;top:880px" width="860" height="400" viewBox="2360 880 860 400" ><polygon points="2425.5,1199.3 2426.6,1198.2 2427.8,1197.2 2428.9,1196.0 2430.0,1195.6 2431.1,1196.1 2432.3,1195.0 2433.4,1193.7 2434.5,1195.6 2435.6,1195.7 2436.8,1194.5 2437.9,1194.7 2439.0,1194.9 2440.1,1196.0 2441.3,1195.0 2442.4,1194.3 2443.5,1196.3 2444.6,1195.4 2445.8,1196.9 2446.9,1196.2 2448.0,1196.8 2449.1,1195.1 2450.3,1196.2 2451.4,1194.6 2452.5,1194.7 2453.6,1195.0 2454.8,1197.4 2455.9,1195.4 2457.0,1194.8 2458.1,1194.7 2459.3,1196.3 2460.4,1195.2 2461.5,1195.7 2462.6,1195.6 2463.8,1193.6 2464.9,1195.5 2466.0,1194.7 2467.1,1193.8 2468.3,1195.3 2469.4,1194.8 2470.5,1194.5 2471.6,1194.5 2472.8,1195.9 2473.9,1194.5 2475.0,1193.2 2476.1,1196.1 2477.3,1193.7 2478.4,1194.4 2479.5,1195.2 2480.6,1192.5 2481.8,1193.7 2482.9,1195.7 2484.0,1194.4 2485.1,1193.9 2486.3,1194.6 2487.4,1193.7 2488.5,1194.5 2489.6,1193.7 2490.8,1192.9 2491.9,1195.1 2493.0,1194.1 2494.2,1194.8 2495.3,1194.2 2496.4,1195.5 2497.5,1194.9 2498.7,1194.5 2499.8,1193.4 2500.9,1193.1 2502.0,1195.6 2503.2,1195.0 2504.3,1193.6 2505.4,1196.2 2506.5,1194.7 2507.7,1194.3 2508.8,1192.9 2509.9,1193.4 2511.0,1194.5 2512.2,1194.5 2513.3,1194.4 2514.4,1192.5 2515.5,1194.5 2516.7,1194.4 2517.8,1193.7 2518.9,1194.2 2520.0,1194.2 2521.2,1195.2 2522.3,1194.0 2523.4,1194.4 2524.5,1192.8 2525.7,1193.3 2526.8,1194.0 2527.9,1193.2 2529.0,1194.3 2530.2,1192.8 2531.3,1193.9 2532.4,1193.3 2533.5,1195.2 2534.7,1193.5 2535.8,1195.6 2536.9,1195.9 2538.0,1194.1 2539.2,1194.7 2540.3,1193.6 2541.4,1191.5 2542.5,1194.6 2543.7,1194.4 2544.8,1193.5 2545.9,1193.2 2547.0,1193.9 2548.2,1193.9 2549.3,1193.0 2550.4,1193.1 2551.5,1194.7 2552.7,1193.7 2553.8,1193.6 2554.9,1194.7 2556.0,1193.3 2557.2,1194.5 2558.3,1192.6 2559.4,1193.3 2560.6,1193.4 2561.7,1194.1 2562.8,1193.6 2563.9,1195.5 2565.1,1194.6 2566.2,1193.1 2567.3,1195.6 2568.4,1192.6 2569.6,1195.2 2570.7,1192.6 2571.8,1194.3 2572.9,1192.6 2574.1,1193.2 2575.2,1194.9 2576.3,1192.1 2577.4,1191.9 2578.6,1193.4 2579.7,1193.6 2580.8,1193.4 2581.9,1194.3 2583.1,1192.1 2584.2,1193.8 2585.3,1193.3 2586.4,1194.0 2587.6,1193.8 2588.7,1194.5 2589.8,1191.9 2590.9,1193.3 2592.1,1192.2 2593.2,1193.1 2594.3,1193.8 2595.4,1193.4 2596.6,1193.7 2597.7,1193.1 2598.8,1193.5 2599.9,1193.4 2601.1,1194.5 2602.2,1193.9 2603.3,1191.3 2604.4,1193.7 2605.6,1194.1 2606.7,1192.6 2607.8,1191.5 2608.9,1194.4 2610.1,1193.1 2611.2,1193.6 2612.3,1194.7 2613.4,1192.1 2614.6,1192.9 2615.7,1192.8 2616.8,1193.6 2617.9,1192.4 2619.1,1193.4 2620.2,1193.0 2621.3,1193.9 2622.4,1194.0 2623.6,1191.4 2624.7,1193.3 2625.8,1192.4 2626.9,1192.8 2628.1,1193.2 2629.2,1193.2 2630.3,1192.0 2631.5,1193.0 2632.6,1192.8 2633.7,1192.6 2634.8,1191.4 2636.0,1191.9 2637.1,1192.2 2638.2,1193.2 2639.3,1194.0 2640.5,1191.6 2641.6,1191.6 2642.7,1192.7 2643.8,1192.0 2645.0,1191.7 2646.1,1191.6 2647.2,1191.5 2648.3,1192.9 2649.5,1190.9 2650.6,1193.7 2651.7,1191.5 2652.8,1191.9 2654.0,1191.5 2655.1,1190.5 2656.2,1190.8 2657.3,1193.5 2658.5,1194.1 2659.6,1191.5 2660.7,1193.4 2661.8,1192.3 2663.0,1191.4 2664.1,1194.0 2665.2,1194.4 2666.3,1192.0 2667.5,1192.2 2668.6,1192.5 2669.7,1192.2 2670.8,1193.1 2672.0,1193.7 2673.1,1192.3 2674.2,1193.1 2675.3,1193.8 2676.5,1191.6 2677.6,1192.2 2678.7,1191.7 2679.8,1193.1 2681.0,1192.7 2682.1,1193.1 2683.2,1192.9 2684.3,1191.8 2685.5,1192.8 2686.6,1191.6 2687.7,1191.6 2688.8,1189.9 2690.0,1193.4 2691.1,1191.0 2692.2,1192.0 2693.3,1191.9 2694.5,1193.4 2695.6,1192.4 2696.7,1191.1 2697.9,1191.9 2699.0,1191.8 2700.1,1192.1 2701.2,1190.6 2702.4,1191.8 2703.5,1194.0 2704.6,1192.5 2705.7,1193.8 2706.9,1195.1 2708.0,1192.3 2709.1,1190.4 2710.2,1191.7 2711.4,1192.9 2712.5,1192.6 2713.6,1190.5 2714.7,1191.5 2715.9,1191.6 2717.0,1191.7 2718.1,1191.6 2719.2,1190.8 2720.4,1191.0 2721.5,1191.4 2722.6,1192.6 2723.7,1191.0 2724.9,1192.2 2726.0,1190.4 2727.1,1192.8 2728.2,1191.6 2729.4,1191.5 2730.5,1192.8 2731.6,1189.7 2732.7,1189.9 2733.9,1191.9 2735.0,1190.6 2736.1,1191.0 2737.2,1194.1 2738.4,1191.1 2739.5,1191.4 2740.6,1191.3 2741.7,1192.4 2742.9,1191.6 2744.0,1191.5 2745.1,1190.1 2746.2,1190.9 2747.4,1191.3 2748.5,1189.7 2749.6,1191.8 2750.7,1191.6 2751.9,1193.1 2753.0,1189.6 2754.1,1190.2 2755.2,1190.2 2756.4,1190.5 2757.5,1191.0 2758.6,1190.9 2759.7,1191.4 2760.9,1191.3 2762.0,1191.0 2762.0,1202.8 2760.9,1203.1 2759.7,1203.1 2758.6,1202.7 2757.5,1202.8 2756.4,1202.2 2755.2,1202.0 2754.1,1202.0 2753.0,1201.4 2751.9,1204.8 2750.7,1203.4 2749.6,1203.6 2748.5,1201.5 2747.4,1203.0 2746.2,1202.7 2745.1,1201.8 2744.0,1203.3 2742.9,1203.4 2741.7,1204.2 2740.6,1203.0 2739.5,1203.2 2738.4,1202.9 2737.2,1205.8 2736.1,1202.8 2735.0,1202.4 2733.9,1203.7 2732.7,1201.7 2731.6,1201.5 2730.5,1204.6 2729.4,1203.3 2728.2,1203.4 2727.1,1204.6 2726.0,1202.2 2724.9,1204.0 2723.7,1202.8 2722.6,1204.4 2721.5,1203.1 2720.4,1202.8 2719.2,1202.5 2718.1,1203.3 2717.0,1203.5 2715.9,1203.4 2714.7,1203.3 2713.6,1202.3 2712.5,1204.4 2711.4,1204.7 2710.2,1203.4 2709.1,1202.1 2708.0,1204.1 2706.9,1206.9 2705.7,1205.6 2704.6,1204.3 2703.5,1205.8 2702.4,1203.6 2701.2,1202.4 2700.1,1203.9 2699.0,1203.5 2697.9,1203.7 2696.7,1202.9 2695.6,1204.1 2694.5,1205.2 2693.3,1203.7 2692.2,1203.8 2691.1,1202.8 2690.0,1205.2 2688.8,1201.7 2687.7,1203.4 2686.6,1203.4 2685.5,1204.6 2684.3,1203.6 2683.2,1204.7 2682.1,1204.8 2681.0,1204.5 2679.8,1204.9 2678.7,1203.5 2677.6,1203.9 2676.5,1203.4 2675.3,1205.6 2674.2,1204.9 2673.1,1204.1 2672.0,1205.5 2670.8,1204.8 2669.7,1203.9 2668.6,1204.2 2667.5,1204.0 2666.3,1203.8 2665.2,1206.2 2664.1,1205.7 2663.0,1203.2 2661.8,1204.1 2660.7,1205.1 2659.6,1203.3 2658.5,1205.8 2657.3,1205.3 2656.2,1202.6 2655.1,1202.2 2654.0,1203.3 2652.8,1203.7 2651.7,1203.3 2650.6,1205.5 2649.5,1202.7 2648.3,1204.7 2647.2,1203.3 2646.1,1203.4 2645.0,1203.5 2643.8,1203.7 2642.7,1204.4 2641.6,1203.3 2640.5,1203.4 2639.3,1205.8 2638.2,1204.9 2637.1,1204.0 2636.0,1203.7 2634.8,1203.2 2633.7,1204.4 2632.6,1204.6 2631.5,1204.8 2630.3,1203.8 2629.2,1205.0 2628.1,1204.9 2626.9,1204.5 2625.8,1204.2 2624.7,1205.0 2623.6,1203.2 2622.4,1205.8 2621.3,1205.7 2620.2,1204.7 2619.1,1205.1 2617.9,1204.1 2616.8,1205.4 2615.7,1204.6 2614.6,1204.7 2613.4,1203.9 2612.3,1206.5 2611.2,1205.3 2610.1,1204.9 2608.9,1206.2 2607.8,1203.3 2606.7,1204.4 2605.6,1205.8 2604.4,1205.5 2603.3,1203.1 2602.2,1205.6 2601.1,1206.2 2599.9,1205.1 2598.8,1205.2 2597.7,1204.8 2596.6,1205.4 2595.4,1205.2 2594.3,1205.6 2593.2,1204.9 2592.1,1203.9 2590.9,1205.1 2589.8,1203.7 2588.7,1206.3 2587.6,1205.6 2586.4,1205.8 2585.3,1205.1 2584.2,1205.6 2583.1,1203.9 2581.9,1206.0 2580.8,1205.2 2579.7,1205.4 2578.6,1205.2 2577.4,1203.6 2576.3,1203.8 2575.2,1206.7 2574.1,1205.0 2572.9,1204.4 2571.8,1206.0 2570.7,1204.4 2569.6,1207.0 2568.4,1204.3 2567.3,1207.4 2566.2,1204.9 2565.1,1206.4 2563.9,1207.3 2562.8,1205.4 2561.7,1205.9 2560.6,1205.2 2559.4,1205.1 2558.3,1204.3 2557.2,1206.2 2556.0,1205.1 2554.9,1206.5 2553.8,1205.4 2552.7,1205.5 2551.5,1206.5 2550.4,1204.9 2549.3,1204.7 2548.2,1205.7 2547.0,1205.6 2545.9,1205.0 2544.8,1205.3 2543.7,1206.1 2542.5,1206.4 2541.4,1203.2 2540.3,1205.4 2539.2,1206.5 2538.0,1205.9 2536.9,1207.7 2535.8,1207.3 2534.7,1205.3 2533.5,1207.0 2532.4,1205.0 2531.3,1205.7 2530.2,1204.6 2529.0,1206.0 2527.9,1205.0 2526.8,1205.7 2525.7,1205.1 2524.5,1204.5 2523.4,1206.2 2522.3,1205.8 2521.2,1206.9 2520.0,1206.0 2518.9,1205.9 2517.8,1205.5 2516.7,1206.1 2515.5,1206.3 2514.4,1204.3 2513.3,1206.1 2512.2,1206.3 2511.0,1206.2 2509.9,1205.2 2508.8,1204.6 2507.7,1206.0 2506.5,1206.4 2505.4,1208.0 2504.3,1205.3 2503.2,1206.8 2502.0,1207.4 2500.9,1204.9 2499.8,1205.1 2498.7,1206.3 2497.5,1206.7 2496.4,1207.3 2495.3,1206.0 2494.2,1206.6 2493.0,1205.9 2491.9,1206.8 2490.8,1204.7 2489.6,1205.5 2488.5,1206.2 2487.4,1205.5 2486.3,1206.4 2485.1,1205.6 2484.0,1206.2 2482.9,1207.5 2481.8,1205.5 2480.6,1204.2 2479.5,1206.9 2478.4,1206.2 2477.3,1205.4 2476.1,1207.9 2475.0,1205.0 2473.9,1206.3 2472.8,1207.6 2471.6,1206.3 2470.5,1206.3 2469.4,1206.5 2468.3,1207.0 2467.1,1205.5 2466.0,1206.5 2464.9,1207.3 2463.8,1205.4 2462.6,1207.3 2461.5,1207.5 2460.4,1207.0 2459.3,1208.1 2458.1,1206.4 2457.0,1206.6 2455.9,1207.1 2454.8,1209.2 2453.6,1206.8 2452.5,1206.5 2451.4,1206.4 2450.3,1207.9 2449.1,1206.9 2448.0,1208.6 2446.9,1208.0 2445.8,1208.6 2444.6,1207.2 2443.5,1208.1 2442.4,1206.0 2441.3,1206.8 2440.1,1207.7 2439.0,1206.7 2437.9,1206.4 2436.8,1206.3 2435.6,1207.5 2434.5,1207.3 2433.4,1205.5 2432.3,1206.8 2431.1,1207.9 2430.0,1207.4 2428.9,1207.8 2427.8,1209.0 2426.6,1210.0 2425.5,1211.0" fill="#d8d8d8" fill-opacity="0.8"/><polyline points="2425.5,1205.9 2426.6,1204.9 2427.8,1203.9 2428.9,1202.7 2430.0,1202.2 2431.1,1202.8 2432.3,1201.7 2433.4,1200.4 2434.5,1202.2 2435.6,1202.3 2436.8,1201.2 2437.9,1201.3 2439.0,1201.6 2440.1,1202.6 2441.3,1201.7 2442.4,1200.9 2443.5,1203.0 2444.6,1202.1 2445.8,1203.5 2446.9,1202.9 2448.0,1203.4 2449.1,1201.8 2450.3,1202.8 2451.4,1201.2 2452.5,1201.3 2453.6,1201.7 2454.8,1204.0 2455.9,1202.0 2457.0,1201.5 2458.1,1201.3 2459.3,1203.0 2460.4,1201.9 2461.5,1202.4 2462.6,1202.2 2463.8,1200.3 2464.9,1202.2 2466.0,1201.4 2467.1,1200.4 2468.3,1201.9 2469.4,1201.4 2470.5,1201.2 2471.6,1201.2 2472.8,1202.5 2473.9,1201.2 2475.0,1199.8 2476.1,1202.8 2477.3,1200.3 2478.4,1201.1 2479.5,1201.8 2480.6,1199.1 2481.8,1200.4 2482.9,1202.4 2484.0,1201.0 2485.1,1200.5 2486.3,1201.3 2487.4,1200.4 2488.5,1201.1 2489.6,1200.4 2490.8,1199.6 2491.9,1201.7 2493.0,1200.8 2494.2,1201.5 2495.3,1200.8 2496.4,1202.2 2497.5,1201.5 2498.7,1201.1 2499.8,1200.0 2500.9,1199.7 2502.0,1202.3 2503.2,1201.7 2504.3,1200.2 2505.4,1202.9 2506.5,1201.3 2507.7,1200.9 2508.8,1199.5 2509.9,1200.1 2511.0,1201.1 2512.2,1201.2 2513.3,1201.0 2514.4,1199.2 2515.5,1201.2 2516.7,1201.0 2517.8,1200.3 2518.9,1200.8 2520.0,1200.9 2521.2,1201.8 2522.3,1200.7 2523.4,1201.1 2524.5,1199.4 2525.7,1199.9 2526.8,1200.6 2527.9,1199.9 2529.0,1200.9 2530.2,1199.5 2531.3,1200.5 2532.4,1199.9 2533.5,1201.8 2534.7,1200.1 2535.8,1202.2 2536.9,1202.6 2538.0,1200.8 2539.2,1201.4 2540.3,1200.3 2541.4,1198.1 2542.5,1201.3 2543.7,1201.0 2544.8,1200.2 2545.9,1199.9 2547.0,1200.5 2548.2,1200.5 2549.3,1199.6 2550.4,1199.8 2551.5,1201.4 2552.7,1200.4 2553.8,1200.2 2554.9,1201.3 2556.0,1200.0 2557.2,1201.1 2558.3,1199.2 2559.4,1200.0 2560.6,1200.1 2561.7,1200.8 2562.8,1200.3 2563.9,1202.2 2565.1,1201.3 2566.2,1199.7 2567.3,1202.3 2568.4,1199.2 2569.6,1201.9 2570.7,1199.3 2571.8,1200.9 2572.9,1199.2 2574.1,1199.9 2575.2,1201.6 2576.3,1198.7 2577.4,1198.5 2578.6,1200.0 2579.7,1200.2 2580.8,1200.1 2581.9,1200.9 2583.1,1198.8 2584.2,1200.5 2585.3,1199.9 2586.4,1200.7 2587.6,1200.5 2588.7,1201.2 2589.8,1198.5 2590.9,1200.0 2592.1,1198.8 2593.2,1199.8 2594.3,1200.5 2595.4,1200.1 2596.6,1200.3 2597.7,1199.7 2598.8,1200.1 2599.9,1200.0 2601.1,1201.1 2602.2,1200.5 2603.3,1198.0 2604.4,1200.3 2605.6,1200.7 2606.7,1199.3 2607.8,1198.2 2608.9,1201.1 2610.1,1199.8 2611.2,1200.2 2612.3,1201.4 2613.4,1198.8 2614.6,1199.6 2615.7,1199.4 2616.8,1200.3 2617.9,1199.0 2619.1,1200.0 2620.2,1199.6 2621.3,1200.6 2622.4,1200.7 2623.6,1198.1 2624.7,1199.9 2625.8,1199.1 2626.9,1199.4 2628.1,1199.8 2629.2,1199.9 2630.3,1198.7 2631.5,1199.6 2632.6,1199.5 2633.7,1199.3 2634.8,1198.1 2636.0,1198.6 2637.1,1198.9 2638.2,1199.8 2639.3,1200.6 2640.5,1198.2 2641.6,1198.2 2642.7,1199.3 2643.8,1198.6 2645.0,1198.4 2646.1,1198.3 2647.2,1198.2 2648.3,1199.6 2649.5,1197.6 2650.6,1200.4 2651.7,1198.2 2652.8,1198.6 2654.0,1198.2 2655.1,1197.1 2656.2,1197.5 2657.3,1200.2 2658.5,1200.7 2659.6,1198.1 2660.7,1200.0 2661.8,1199.0 2663.0,1198.1 2664.1,1200.6 2665.2,1201.1 2666.3,1198.6 2667.5,1198.8 2668.6,1199.1 2669.7,1198.8 2670.8,1199.7 2672.0,1200.4 2673.1,1199.0 2674.2,1199.8 2675.3,1200.5 2676.5,1198.3 2677.6,1198.8 2678.7,1198.3 2679.8,1199.7 2681.0,1199.4 2682.1,1199.7 2683.2,1199.6 2684.3,1198.5 2685.5,1199.5 2686.6,1198.3 2687.7,1198.3 2688.8,1196.6 2690.0,1200.0 2691.1,1197.7 2692.2,1198.7 2693.3,1198.6 2694.5,1200.0 2695.6,1199.0 2696.7,1197.8 2697.9,1198.6 2699.0,1198.4 2700.1,1198.8 2701.2,1197.3 2702.4,1198.5 2703.5,1200.7 2704.6,1199.1 2705.7,1200.4 2706.9,1201.7 2708.0,1198.9 2709.1,1197.0 2710.2,1198.3 2711.4,1199.6 2712.5,1199.3 2713.6,1197.2 2714.7,1198.1 2715.9,1198.2 2717.0,1198.3 2718.1,1198.2 2719.2,1197.4 2720.4,1197.7 2721.5,1198.0 2722.6,1199.3 2723.7,1197.7 2724.9,1198.9 2726.0,1197.1 2727.1,1199.5 2728.2,1198.3 2729.4,1198.1 2730.5,1199.5 2731.6,1196.3 2732.7,1196.6 2733.9,1198.6 2735.0,1197.3 2736.1,1197.7 2737.2,1200.7 2738.4,1197.8 2739.5,1198.1 2740.6,1197.9 2741.7,1199.1 2742.9,1198.2 2744.0,1198.1 2745.1,1196.7 2746.2,1197.6 2747.4,1197.9 2748.5,1196.3 2749.6,1198.5 2750.7,1198.3 2751.9,1199.7 2753.0,1196.2 2754.1,1196.8 2755.2,1196.9 2756.4,1197.1 2757.5,1197.7 2758.6,1197.6 2759.7,1198.0 2760.9,1198.0 2762.0,1197.7" fill="none" stroke="#808080" stroke-width="2.2" stroke-dasharray="2.5,3"/><polyline points="2425.5,1202.2 2426.6,1201.7 2427.8,1201.1 2428.9,1200.5 2430.0,1199.5 2431.1,1196.8 2432.3,1196.6 2433.4,1196.1 2434.5,1195.5 2435.6,1195.2 2436.8,1193.6 2437.9,1192.0 2439.0,1192.2 2440.1,1191.3 2441.3,1190.6 2442.4,1189.6 2443.5,1190.3 2444.6,1188.6 2445.8,1188.4 2446.9,1186.4 2448.0,1187.1 2449.1,1185.5 2450.3,1184.2 2451.4,1185.0 2452.5,1184.7 2453.6,1183.6 2454.8,1183.2 2455.9,1183.5 2457.0,1181.9 2458.1,1180.3 2459.3,1181.6 2460.4,1181.1 2461.5,1181.3 2462.6,1179.9 2463.8,1180.6 2464.9,1180.1 2466.0,1177.9 2467.1,1179.2 2468.3,1177.3 2469.4,1176.6 2470.5,1177.3 2471.6,1176.7 2472.8,1175.3 2473.9,1176.6 2475.0,1176.6 2476.1,1176.8 2477.3,1175.4 2478.4,1174.0 2479.5,1174.1 2480.6,1175.3 2481.8,1174.9 2482.9,1174.3 2484.0,1173.4 2485.1,1173.5 2486.3,1172.9 2487.4,1172.6 2488.5,1172.7 2489.6,1172.3 2490.8,1171.8 2491.9,1171.7 2493.0,1171.0 2494.2,1169.7 2495.3,1170.4 2496.4,1170.5 2497.5,1171.6 2498.7,1169.7 2499.8,1171.2 2500.9,1170.6 2502.0,1168.5 2503.2,1168.4 2504.3,1168.8 2505.4,1169.7 2506.5,1168.4 2507.7,1168.4 2508.8,1167.1 2509.9,1165.6 2511.0,1166.9 2512.2,1167.4 2513.3,1167.4 2514.4,1166.3 2515.5,1166.1 2516.7,1166.6 2517.8,1165.3 2518.9,1166.0 2520.0,1164.0 2521.2,1163.8 2522.3,1163.5 2523.4,1164.4 2524.5,1163.4 2525.7,1163.6 2526.8,1163.6 2527.9,1163.2 2529.0,1163.7 2530.2,1163.6 2531.3,1161.6 2532.4,1162.1 2533.5,1161.5 2534.7,1160.6 2535.8,1162.4 2536.9,1161.4 2538.0,1160.4 2539.2,1160.0 2540.3,1160.3 2541.4,1159.0 2542.5,1159.3 2543.7,1160.2 2544.8,1159.7 2545.9,1158.1 2547.0,1158.1 2548.2,1159.7 2549.3,1156.9 2550.4,1157.2 2551.5,1156.4 2552.7,1157.5 2553.8,1157.1 2554.9,1157.5 2556.0,1154.5 2557.2,1156.3 2558.3,1154.7 2559.4,1156.1 2560.6,1155.3 2561.7,1156.4 2562.8,1155.2 2563.9,1153.9 2565.1,1155.4 2566.2,1153.3 2567.3,1153.6 2568.4,1154.5 2569.6,1153.8 2570.7,1153.5 2571.8,1153.0 2572.9,1153.1 2574.1,1153.1 2575.2,1152.4 2576.3,1152.7 2577.4,1152.7 2578.6,1151.5 2579.7,1150.6 2580.8,1152.2 2581.9,1150.8 2583.1,1151.0 2584.2,1151.0 2585.3,1149.4 2586.4,1150.2 2587.6,1148.4 2588.7,1149.9 2589.8,1148.8 2590.9,1149.0 2592.1,1149.2 2593.2,1147.9 2594.3,1148.2 2595.4,1147.4 2596.6,1147.7 2597.7,1148.2 2598.8,1147.2 2599.9,1146.9 2601.1,1145.9 2602.2,1147.1 2603.3,1146.2 2604.4,1147.3 2605.6,1145.2 2606.7,1146.3 2607.8,1146.6 2608.9,1145.0 2610.1,1143.9 2611.2,1145.7 2612.3,1145.1 2613.4,1144.6 2614.6,1144.6 2615.7,1143.2 2616.8,1143.9 2617.9,1143.6 2619.1,1142.3 2620.2,1143.1 2621.3,1141.9 2622.4,1142.7 2623.6,1142.7 2624.7,1142.9 2625.8,1139.8 2626.9,1141.2 2628.1,1140.5 2629.2,1140.5 2630.3,1140.0 2631.5,1139.9 2632.6,1138.2 2633.7,1140.2 2634.8,1140.3 2636.0,1139.6 2637.1,1139.6 2638.2,1137.7 2639.3,1137.4 2640.5,1138.5 2641.6,1138.6 2642.7,1137.5 2643.8,1135.9 2645.0,1138.8 2646.1,1136.0 2647.2,1136.9 2648.3,1135.0 2649.5,1136.4 2650.6,1135.5 2651.7,1136.1 2652.8,1135.4 2654.0,1133.3 2655.1,1133.5 2656.2,1134.1 2657.3,1134.2 2658.5,1134.7 2659.6,1133.2 2660.7,1132.6 2661.8,1132.4 2663.0,1132.1 2664.1,1132.6 2665.2,1131.5 2666.3,1131.1 2667.5,1129.8 2668.6,1129.1 2669.7,1130.3 2670.8,1130.5 2672.0,1129.6 2673.1,1129.7 2674.2,1129.5 2675.3,1128.7 2676.5,1129.1 2677.6,1127.5 2678.7,1127.8 2679.8,1127.4 2681.0,1127.5 2682.1,1127.8 2683.2,1127.8 2684.3,1127.0 2685.5,1127.1 2686.6,1126.4 2687.7,1126.4 2688.8,1127.3 2690.0,1126.1 2691.1,1127.0 2692.2,1126.4 2693.3,1126.0 2694.5,1127.3 2695.6,1125.5 2696.7,1125.4 2697.9,1125.5 2699.0,1125.7 2700.1,1125.6 2701.2,1126.0 2702.4,1125.4 2703.5,1125.5 2704.6,1125.0 2705.7,1125.9 2706.9,1124.8 2708.0,1124.8 2709.1,1125.0 2710.2,1125.2 2711.4,1124.4 2712.5,1126.1 2713.6,1124.5 2714.7,1124.6 2715.9,1124.5 2717.0,1124.4 2718.1,1125.2 2719.2,1124.9 2720.4,1124.1 2721.5,1124.2 2722.6,1124.3 2723.7,1125.6 2724.9,1124.0 2726.0,1123.4 2727.1,1123.4 2728.2,1123.9 2729.4,1125.2 2730.5,1123.2 2731.6,1123.9 2732.7,1125.6 2733.9,1123.2 2735.0,1124.4 2736.1,1124.1 2737.2,1123.4 2738.4,1121.8 2739.5,1122.8 2740.6,1122.1 2741.7,1120.8 2742.9,1120.6 2744.0,1121.7 2745.1,1121.6 2746.2,1122.1 2747.4,1121.3 2748.5,1120.2 2749.6,1119.9 2750.7,1119.8 2751.9,1118.8 2753.0,1119.9 2754.1,1119.0 2755.2,1118.0 2756.4,1117.8 2757.5,1117.1 2758.6,1117.2 2759.7,1117.4 2760.9,1116.5 2762.0,1117.1" fill="none" stroke="#3b6fb0" stroke-width="2.6" stroke-dasharray="10,5"/><polyline points="2425.5,1204.2 2426.6,1201.3 2427.8,1200.7 2428.9,1199.3 2430.0,1199.8 2431.1,1197.8 2432.3,1197.0 2433.4,1196.2 2434.5,1196.4 2435.6,1194.0 2436.8,1192.2 2437.9,1191.8 2439.0,1191.7 2440.1,1190.5 2441.3,1189.1 2442.4,1191.1 2443.5,1188.4 2444.6,1187.2 2445.8,1186.4 2446.9,1185.0 2448.0,1184.8 2449.1,1184.8 2450.3,1184.2 2451.4,1183.3 2452.5,1183.7 2453.6,1182.8 2454.8,1181.5 2455.9,1180.2 2457.0,1181.3 2458.1,1180.8 2459.3,1180.1 2460.4,1178.8 2461.5,1179.4 2462.6,1177.8 2463.8,1179.2 2464.9,1178.2 2466.0,1177.8 2467.1,1176.7 2468.3,1176.1 2469.4,1177.7 2470.5,1176.8 2471.6,1175.5 2472.8,1175.9 2473.9,1176.2 2475.0,1173.9 2476.1,1174.0 2477.3,1173.7 2478.4,1174.1 2479.5,1172.6 2480.6,1173.3 2481.8,1171.9 2482.9,1173.2 2484.0,1172.8 2485.1,1171.7 2486.3,1172.1 2487.4,1170.7 2488.5,1170.8 2489.6,1171.4 2490.8,1170.4 2491.9,1170.4 2493.0,1169.1 2494.2,1170.1 2495.3,1169.6 2496.4,1168.1 2497.5,1167.0 2498.7,1167.0 2499.8,1168.2 2500.9,1167.8 2502.0,1166.5 2503.2,1167.5 2504.3,1167.9 2505.4,1166.8 2506.5,1166.3 2507.7,1167.0 2508.8,1167.4 2509.9,1167.0 2511.0,1165.1 2512.2,1166.0 2513.3,1165.2 2514.4,1164.7 2515.5,1164.2 2516.7,1164.6 2517.8,1163.8 2518.9,1164.6 2520.0,1163.9 2521.2,1164.2 2522.3,1162.3 2523.4,1162.9 2524.5,1163.2 2525.7,1162.7 2526.8,1162.3 2527.9,1161.4 2529.0,1162.9 2530.2,1162.2 2531.3,1161.5 2532.4,1159.0 2533.5,1160.0 2534.7,1160.5 2535.8,1159.7 2536.9,1158.4 2538.0,1159.9 2539.2,1159.8 2540.3,1158.3 2541.4,1158.6 2542.5,1158.2 2543.7,1158.9 2544.8,1156.8 2545.9,1156.7 2547.0,1157.4 2548.2,1157.0 2549.3,1158.9 2550.4,1156.6 2551.5,1157.0 2552.7,1156.3 2553.8,1155.9 2554.9,1156.4 2556.0,1157.2 2557.2,1155.4 2558.3,1156.0 2559.4,1155.5 2560.6,1155.4 2561.7,1155.0 2562.8,1156.3 2563.9,1153.4 2565.1,1153.9 2566.2,1153.0 2567.3,1152.1 2568.4,1153.3 2569.6,1154.5 2570.7,1153.6 2571.8,1153.6 2572.9,1152.8 2574.1,1152.2 2575.2,1153.5 2576.3,1151.5 2577.4,1152.7 2578.6,1151.1 2579.7,1151.1 2580.8,1151.1 2581.9,1150.7 2583.1,1150.8 2584.2,1150.6 2585.3,1151.2 2586.4,1149.7 2587.6,1148.0 2588.7,1147.7 2589.8,1148.0 2590.9,1148.2 2592.1,1149.0 2593.2,1147.2 2594.3,1148.1 2595.4,1147.9 2596.6,1147.8 2597.7,1147.3 2598.8,1147.4 2599.9,1146.9 2601.1,1147.5 2602.2,1146.7 2603.3,1144.4 2604.4,1146.0 2605.6,1145.9 2606.7,1145.0 2607.8,1144.6 2608.9,1145.8 2610.1,1144.9 2611.2,1143.8 2612.3,1144.0 2613.4,1143.9 2614.6,1142.5 2615.7,1144.0 2616.8,1143.2 2617.9,1143.4 2619.1,1141.6 2620.2,1144.0 2621.3,1142.7 2622.4,1142.4 2623.6,1141.2 2624.7,1141.0 2625.8,1140.1 2626.9,1142.2 2628.1,1140.1 2629.2,1140.7 2630.3,1140.7 2631.5,1139.5 2632.6,1140.3 2633.7,1141.0 2634.8,1139.4 2636.0,1140.0 2637.1,1139.1 2638.2,1138.0 2639.3,1137.8 2640.5,1136.5 2641.6,1137.6 2642.7,1138.4 2643.8,1137.5 2645.0,1137.4 2646.1,1137.3 2647.2,1135.8 2648.3,1136.3 2649.5,1137.0 2650.6,1134.7 2651.7,1135.0 2652.8,1134.4 2654.0,1134.3 2655.1,1133.6 2656.2,1133.8 2657.3,1132.6 2658.5,1132.9 2659.6,1132.6 2660.7,1132.3 2661.8,1133.4 2663.0,1132.1 2664.1,1131.9 2665.2,1131.3 2666.3,1132.2 2667.5,1129.5 2668.6,1130.4 2669.7,1131.1 2670.8,1131.2 2672.0,1129.8 2673.1,1129.3 2674.2,1129.5 2675.3,1128.5 2676.5,1128.8 2677.6,1127.5 2678.7,1128.3 2679.8,1127.5 2681.0,1126.5 2682.1,1125.1 2683.2,1127.6 2684.3,1127.0 2685.5,1127.1 2686.6,1125.7 2687.7,1127.0 2688.8,1126.3 2690.0,1125.7 2691.1,1126.3 2692.2,1126.1 2693.3,1125.6 2694.5,1126.7 2695.6,1126.0 2696.7,1125.1 2697.9,1124.5 2699.0,1124.6 2700.1,1125.7 2701.2,1124.6 2702.4,1123.5 2703.5,1123.5 2704.6,1123.9 2705.7,1124.4 2706.9,1123.1 2708.0,1123.9 2709.1,1124.3 2710.2,1123.9 2711.4,1122.1 2712.5,1122.9 2713.6,1122.1 2714.7,1123.2 2715.9,1122.0 2717.0,1123.1 2718.1,1122.6 2719.2,1120.5 2720.4,1121.7 2721.5,1122.5 2722.6,1122.1 2723.7,1121.6 2724.9,1120.8 2726.0,1121.9 2727.1,1122.7 2728.2,1121.5 2729.4,1121.1 2730.5,1120.8 2731.6,1119.7 2732.7,1120.2 2733.9,1119.7 2735.0,1120.9 2736.1,1119.2 2737.2,1118.0 2738.4,1118.8 2739.5,1118.9 2740.6,1118.7 2741.7,1117.2 2742.9,1119.0 2744.0,1118.1 2745.1,1117.3 2746.2,1116.8 2747.4,1117.4 2748.5,1116.5 2749.6,1116.6 2750.7,1116.0 2751.9,1115.8 2753.0,1116.2 2754.1,1115.0 2755.2,1113.9 2756.4,1115.0 2757.5,1114.0 2758.6,1113.0 2759.7,1113.9 2760.9,1112.5 2762.0,1113.1" fill="none" stroke="#c0342f" stroke-width="2.6" stroke-dasharray="12,4,3,4"/><polyline points="2425.5,1200.9 2426.6,1198.8 2427.8,1197.9 2428.9,1198.4 2430.0,1196.6 2431.1,1196.0 2432.3,1195.0 2433.4,1192.9 2434.5,1194.1 2435.6,1191.3 2436.8,1191.3 2437.9,1189.3 2439.0,1189.3 2440.1,1189.1 2441.3,1187.6 2442.4,1186.5 2443.5,1186.2 2444.6,1185.1 2445.8,1185.2 2446.9,1185.7 2448.0,1182.7 2449.1,1182.1 2450.3,1181.9 2451.4,1181.3 2452.5,1179.9 2453.6,1180.5 2454.8,1180.1 2455.9,1179.1 2457.0,1177.5 2458.1,1178.9 2459.3,1176.4 2460.4,1177.3 2461.5,1177.1 2462.6,1174.8 2463.8,1175.4 2464.9,1175.8 2466.0,1174.6 2467.1,1173.2 2468.3,1172.5 2469.4,1173.3 2470.5,1172.3 2471.6,1171.6 2472.8,1172.2 2473.9,1171.1 2475.0,1171.0 2476.1,1171.0 2477.3,1170.6 2478.4,1169.8 2479.5,1169.5 2480.6,1169.6 2481.8,1169.1 2482.9,1167.6 2484.0,1168.0 2485.1,1167.1 2486.3,1166.6 2487.4,1166.8 2488.5,1165.2 2489.6,1167.2 2490.8,1165.7 2491.9,1166.3 2493.0,1164.3 2494.2,1164.2 2495.3,1166.7 2496.4,1165.7 2497.5,1164.2 2498.7,1163.8 2499.8,1163.6 2500.9,1164.0 2502.0,1163.4 2503.2,1163.0 2504.3,1163.3 2505.4,1162.2 2506.5,1164.5 2507.7,1162.1 2508.8,1163.1 2509.9,1161.4 2511.0,1162.1 2512.2,1162.4 2513.3,1161.2 2514.4,1162.0 2515.5,1161.8 2516.7,1162.1 2517.8,1160.7 2518.9,1160.1 2520.0,1159.5 2521.2,1160.3 2522.3,1159.2 2523.4,1159.8 2524.5,1159.7 2525.7,1159.0 2526.8,1158.4 2527.9,1159.3 2529.0,1159.0 2530.2,1158.8 2531.3,1158.4 2532.4,1159.0 2533.5,1157.4 2534.7,1158.3 2535.8,1157.4 2536.9,1158.3 2538.0,1157.2 2539.2,1157.0 2540.3,1157.4 2541.4,1155.4 2542.5,1156.5 2543.7,1155.2 2544.8,1155.7 2545.9,1156.7 2547.0,1156.3 2548.2,1155.5 2549.3,1155.7 2550.4,1155.5 2551.5,1155.6 2552.7,1156.6 2553.8,1155.2 2554.9,1156.5 2556.0,1154.3 2557.2,1155.0 2558.3,1154.8 2559.4,1154.2 2560.6,1153.7 2561.7,1154.8 2562.8,1154.9 2563.9,1154.2 2565.1,1154.7 2566.2,1153.7 2567.3,1151.5 2568.4,1153.4 2569.6,1151.9 2570.7,1153.2 2571.8,1151.8 2572.9,1152.0 2574.1,1151.6 2575.2,1151.0 2576.3,1149.9 2577.4,1150.9 2578.6,1150.7 2579.7,1151.3 2580.8,1149.9 2581.9,1150.4 2583.1,1149.3 2584.2,1149.8 2585.3,1148.2 2586.4,1150.9 2587.6,1149.4 2588.7,1148.2 2589.8,1149.0 2590.9,1149.1 2592.1,1148.5 2593.2,1149.1 2594.3,1147.7 2595.4,1145.7 2596.6,1146.5 2597.7,1148.0 2598.8,1147.6 2599.9,1147.0 2601.1,1145.7 2602.2,1146.9 2603.3,1146.6 2604.4,1145.1 2605.6,1144.9 2606.7,1145.6 2607.8,1146.0 2608.9,1146.1 2610.1,1145.2 2611.2,1146.1 2612.3,1143.6 2613.4,1144.4 2614.6,1143.3 2615.7,1142.0 2616.8,1142.3 2617.9,1143.8 2619.1,1142.0 2620.2,1141.6 2621.3,1142.8 2622.4,1142.7 2623.6,1141.8 2624.7,1142.7 2625.8,1140.0 2626.9,1142.8 2628.1,1141.5 2629.2,1140.6 2630.3,1140.3 2631.5,1139.8 2632.6,1139.4 2633.7,1139.5 2634.8,1138.2 2636.0,1140.5 2637.1,1138.6 2638.2,1138.8 2639.3,1137.9 2640.5,1137.6 2641.6,1138.2 2642.7,1137.7 2643.8,1136.3 2645.0,1136.4 2646.1,1136.9 2647.2,1134.5 2648.3,1134.0 2649.5,1136.6 2650.6,1135.0 2651.7,1133.0 2652.8,1134.1 2654.0,1134.2 2655.1,1134.2 2656.2,1134.2 2657.3,1133.7 2658.5,1133.6 2659.6,1132.3 2660.7,1132.9 2661.8,1132.7 2663.0,1132.9 2664.1,1131.8 2665.2,1132.1 2666.3,1131.2 2667.5,1130.0 2668.6,1130.2 2669.7,1129.8 2670.8,1129.6 2672.0,1129.5 2673.1,1129.3 2674.2,1129.2 2675.3,1128.0 2676.5,1129.1 2677.6,1126.9 2678.7,1127.6 2679.8,1127.9 2681.0,1127.3 2682.1,1127.2 2683.2,1126.2 2684.3,1126.5 2685.5,1124.7 2686.6,1125.8 2687.7,1126.6 2688.8,1125.1 2690.0,1125.7 2691.1,1123.8 2692.2,1122.6 2693.3,1122.6 2694.5,1123.7 2695.6,1122.9 2696.7,1120.6 2697.9,1121.3 2699.0,1121.2 2700.1,1120.0 2701.2,1118.5 2702.4,1119.0 2703.5,1119.5 2704.6,1118.9 2705.7,1118.3 2706.9,1118.8 2708.0,1118.7 2709.1,1117.4 2710.2,1117.8 2711.4,1116.7 2712.5,1116.1 2713.6,1113.9 2714.7,1115.9 2715.9,1114.9 2717.0,1114.5 2718.1,1113.5 2719.2,1112.6 2720.4,1113.3 2721.5,1113.1 2722.6,1113.2 2723.7,1112.2 2724.9,1110.5 2726.0,1110.4 2727.1,1110.7 2728.2,1109.7 2729.4,1108.9 2730.5,1108.1 2731.6,1108.4 2732.7,1107.6 2733.9,1108.3 2735.0,1107.3 2736.1,1104.7 2737.2,1107.1 2738.4,1105.1 2739.5,1104.2 2740.6,1104.2 2741.7,1104.0 2742.9,1102.9 2744.0,1102.4 2745.1,1101.9 2746.2,1102.8 2747.4,1100.9 2748.5,1101.0 2749.6,1100.3 2750.7,1099.2 2751.9,1098.3 2753.0,1097.6 2754.1,1098.2 2755.2,1096.6 2756.4,1095.9 2757.5,1095.5 2758.6,1094.8 2759.7,1095.5 2760.9,1095.0 2762.0,1093.7" fill="none" stroke="#ee8330" stroke-width="2.6" stroke-dasharray="12,4,2.5,4"/><polygon points="2425.5,1199.9 2426.6,1197.4 2427.8,1196.8 2428.9,1195.5 2430.0,1195.5 2431.1,1193.7 2432.3,1192.0 2433.4,1190.3 2434.5,1189.2 2435.6,1189.1 2436.8,1188.2 2437.9,1187.8 2439.0,1185.9 2440.1,1185.6 2441.3,1184.1 2442.4,1182.4 2443.5,1182.9 2444.6,1183.3 2445.8,1182.0 2446.9,1181.8 2448.0,1180.8 2449.1,1178.2 2450.3,1178.4 2451.4,1179.0 2452.5,1176.7 2453.6,1175.6 2454.8,1176.2 2455.9,1175.9 2457.0,1175.0 2458.1,1174.0 2459.3,1173.1 2460.4,1172.2 2461.5,1171.6 2462.6,1171.1 2463.8,1170.5 2464.9,1170.5 2466.0,1171.7 2467.1,1170.2 2468.3,1169.3 2469.4,1169.4 2470.5,1168.0 2471.6,1168.5 2472.8,1168.5 2473.9,1166.3 2475.0,1166.5 2476.1,1166.4 2477.3,1165.5 2478.4,1165.0 2479.5,1165.2 2480.6,1167.0 2481.8,1165.3 2482.9,1164.8 2484.0,1164.8 2485.1,1163.6 2486.3,1162.5 2487.4,1163.5 2488.5,1163.7 2489.6,1161.0 2490.8,1162.6 2491.9,1162.9 2493.0,1161.5 2494.2,1161.1 2495.3,1161.7 2496.4,1160.3 2497.5,1161.0 2498.7,1161.1 2499.8,1160.0 2500.9,1159.3 2502.0,1160.1 2503.2,1159.2 2504.3,1159.3 2505.4,1156.8 2506.5,1159.3 2507.7,1157.5 2508.8,1158.4 2509.9,1158.3 2511.0,1157.4 2512.2,1157.1 2513.3,1156.6 2514.4,1157.2 2515.5,1157.7 2516.7,1157.5 2517.8,1156.5 2518.9,1156.3 2520.0,1155.5 2521.2,1156.0 2522.3,1155.4 2523.4,1154.9 2524.5,1155.8 2525.7,1156.9 2526.8,1156.5 2527.9,1156.5 2529.0,1154.0 2530.2,1155.7 2531.3,1154.0 2532.4,1154.3 2533.5,1153.3 2534.7,1153.7 2535.8,1154.4 2536.9,1154.3 2538.0,1154.0 2539.2,1153.8 2540.3,1154.1 2541.4,1153.6 2542.5,1152.2 2543.7,1154.6 2544.8,1152.9 2545.9,1153.7 2547.0,1152.7 2548.2,1152.0 2549.3,1152.6 2550.4,1151.8 2551.5,1153.4 2552.7,1151.2 2553.8,1152.4 2554.9,1151.3 2556.0,1151.4 2557.2,1153.4 2558.3,1151.8 2559.4,1150.9 2560.6,1149.7 2561.7,1150.5 2562.8,1150.4 2563.9,1151.5 2565.1,1149.2 2566.2,1148.7 2567.3,1149.9 2568.4,1149.9 2569.6,1150.8 2570.7,1148.7 2571.8,1147.1 2572.9,1148.4 2574.1,1147.8 2575.2,1148.2 2576.3,1149.2 2577.4,1147.2 2578.6,1149.0 2579.7,1148.0 2580.8,1147.5 2581.9,1146.8 2583.1,1147.0 2584.2,1146.8 2585.3,1147.5 2586.4,1147.7 2587.6,1146.4 2588.7,1146.8 2589.8,1147.1 2590.9,1146.8 2592.1,1146.0 2593.2,1146.8 2594.3,1146.2 2595.4,1146.2 2596.6,1144.6 2597.7,1144.2 2598.8,1142.8 2599.9,1145.3 2601.1,1144.4 2602.2,1143.0 2603.3,1143.6 2604.4,1143.5 2605.6,1141.7 2606.7,1143.0 2607.8,1143.4 2608.9,1143.3 2610.1,1141.8 2611.2,1141.6 2612.3,1142.6 2613.4,1142.1 2614.6,1140.7 2615.7,1140.4 2616.8,1141.1 2617.9,1139.9 2619.1,1139.7 2620.2,1141.2 2621.3,1139.9 2622.4,1139.0 2623.6,1139.6 2624.7,1140.5 2625.8,1138.8 2626.9,1137.8 2628.1,1136.9 2629.2,1139.5 2630.3,1135.6 2631.5,1138.2 2632.6,1136.3 2633.7,1135.8 2634.8,1135.8 2636.0,1136.1 2637.1,1136.9 2638.2,1135.2 2639.3,1136.0 2640.5,1137.1 2641.6,1132.7 2642.7,1134.1 2643.8,1133.0 2645.0,1134.8 2646.1,1132.7 2647.2,1132.3 2648.3,1132.1 2649.5,1133.0 2650.6,1133.6 2651.7,1132.5 2652.8,1133.8 2654.0,1133.1 2655.1,1131.5 2656.2,1132.0 2657.3,1131.1 2658.5,1130.7 2659.6,1128.9 2660.7,1129.1 2661.8,1129.8 2663.0,1128.5 2664.1,1129.8 2665.2,1129.1 2666.3,1127.8 2667.5,1129.2 2668.6,1128.1 2669.7,1128.6 2670.8,1127.2 2672.0,1125.7 2673.1,1127.3 2674.2,1126.2 2675.3,1126.7 2676.5,1126.6 2677.6,1126.4 2678.7,1123.9 2679.8,1122.9 2681.0,1123.9 2682.1,1124.5 2683.2,1123.0 2684.3,1123.4 2685.5,1122.1 2686.6,1122.1 2687.7,1121.7 2688.8,1121.0 2690.0,1121.5 2691.1,1121.0 2692.2,1121.5 2693.3,1120.1 2694.5,1120.4 2695.6,1118.8 2696.7,1118.7 2697.9,1117.2 2699.0,1116.3 2700.1,1117.0 2701.2,1115.9 2702.4,1115.2 2703.5,1113.2 2704.6,1111.7 2705.7,1111.6 2706.9,1111.7 2708.0,1109.5 2709.1,1111.0 2710.2,1107.9 2711.4,1108.7 2712.5,1109.4 2713.6,1104.4 2714.7,1104.3 2715.9,1105.4 2717.0,1103.5 2718.1,1102.9 2719.2,1101.7 2720.4,1101.9 2721.5,1100.3 2722.6,1098.4 2723.7,1097.6 2724.9,1095.9 2726.0,1095.7 2727.1,1092.9 2728.2,1094.3 2729.4,1092.5 2730.5,1093.1 2731.6,1091.6 2732.7,1088.6 2733.9,1089.3 2735.0,1087.1 2736.1,1086.6 2737.2,1086.3 2738.4,1084.8 2739.5,1083.9 2740.6,1082.9 2741.7,1081.0 2742.9,1080.1 2744.0,1080.1 2745.1,1079.5 2746.2,1077.6 2747.4,1077.0 2748.5,1075.3 2749.6,1073.1 2750.7,1073.7 2751.9,1073.5 2753.0,1072.7 2754.1,1072.4 2755.2,1071.7 2756.4,1070.9 2757.5,1069.6 2758.6,1068.9 2759.7,1067.2 2760.9,1067.3 2762.0,1066.4 2762.0,1091.9 2760.9,1092.5 2759.7,1092.1 2758.6,1093.4 2757.5,1093.9 2756.4,1094.8 2755.2,1095.2 2754.1,1095.6 2753.0,1095.6 2751.9,1096.0 2750.7,1095.8 2749.6,1095.0 2748.5,1096.8 2747.4,1098.2 2746.2,1098.4 2745.1,1099.9 2744.0,1100.3 2742.9,1099.9 2741.7,1100.4 2740.6,1102.0 2739.5,1102.7 2738.4,1103.2 2737.2,1104.4 2736.1,1104.3 2735.0,1104.5 2733.9,1106.3 2732.7,1105.3 2731.6,1107.9 2730.5,1109.1 2729.4,1108.1 2728.2,1109.6 2727.1,1107.9 2726.0,1110.3 2724.9,1110.2 2723.7,1111.6 2722.6,1112.0 2721.5,1113.6 2720.4,1114.8 2719.2,1114.3 2718.1,1115.1 2717.0,1115.4 2715.9,1116.9 2714.7,1115.5 2713.6,1115.2 2712.5,1119.9 2711.4,1118.8 2710.2,1117.7 2709.1,1120.5 2708.0,1118.7 2706.9,1120.5 2705.7,1120.1 2704.6,1119.8 2703.5,1121.0 2702.4,1122.7 2701.2,1123.0 2700.1,1123.8 2699.0,1122.7 2697.9,1123.3 2696.7,1124.5 2695.6,1124.2 2694.5,1125.5 2693.3,1125.2 2692.2,1126.6 2691.1,1126.1 2690.0,1126.6 2688.8,1126.2 2687.7,1126.8 2686.6,1127.2 2685.5,1127.3 2684.3,1128.5 2683.2,1128.1 2682.1,1129.6 2681.0,1129.1 2679.8,1128.0 2678.7,1129.1 2677.6,1131.5 2676.5,1131.7 2675.3,1131.9 2674.2,1131.3 2673.1,1132.4 2672.0,1130.9 2670.8,1132.3 2669.7,1133.8 2668.6,1133.3 2667.5,1134.3 2666.3,1133.0 2665.2,1134.2 2664.1,1134.9 2663.0,1133.6 2661.8,1134.9 2660.7,1134.2 2659.6,1134.0 2658.5,1135.9 2657.3,1136.2 2656.2,1137.1 2655.1,1136.6 2654.0,1138.2 2652.8,1138.9 2651.7,1137.6 2650.6,1138.7 2649.5,1138.1 2648.3,1137.2 2647.2,1137.4 2646.1,1137.8 2645.0,1139.9 2643.8,1138.1 2642.7,1139.2 2641.6,1137.9 2640.5,1142.2 2639.3,1141.1 2638.2,1140.4 2637.1,1142.0 2636.0,1141.3 2634.8,1140.9 2633.7,1141.0 2632.6,1141.4 2631.5,1143.3 2630.3,1140.7 2629.2,1144.6 2628.1,1142.0 2626.9,1142.9 2625.8,1143.9 2624.7,1145.6 2623.6,1144.7 2622.4,1144.2 2621.3,1145.0 2620.2,1146.4 2619.1,1144.8 2617.9,1145.0 2616.8,1146.2 2615.7,1145.5 2614.6,1145.8 2613.4,1147.2 2612.3,1147.7 2611.2,1146.7 2610.1,1146.9 2608.9,1148.4 2607.8,1148.5 2606.7,1148.1 2605.6,1146.8 2604.4,1148.6 2603.3,1148.7 2602.2,1148.1 2601.1,1149.5 2599.9,1150.4 2598.8,1147.9 2597.7,1149.4 2596.6,1149.7 2595.4,1151.4 2594.3,1151.4 2593.2,1152.0 2592.1,1151.1 2590.9,1151.9 2589.8,1152.2 2588.7,1151.9 2587.6,1151.5 2586.4,1152.8 2585.3,1152.6 2584.2,1151.9 2583.1,1152.1 2581.9,1151.9 2580.8,1152.6 2579.7,1153.1 2578.6,1154.1 2577.4,1152.3 2576.3,1154.3 2575.2,1153.3 2574.1,1153.0 2572.9,1153.6 2571.8,1152.2 2570.7,1153.8 2569.6,1155.9 2568.4,1155.0 2567.3,1155.0 2566.2,1153.8 2565.1,1154.3 2563.9,1156.6 2562.8,1155.5 2561.7,1155.7 2560.6,1154.9 2559.4,1156.0 2558.3,1157.0 2557.2,1158.5 2556.0,1156.6 2554.9,1156.4 2553.8,1157.5 2552.7,1156.3 2551.5,1158.6 2550.4,1156.9 2549.3,1157.7 2548.2,1157.2 2547.0,1157.8 2545.9,1158.8 2544.8,1158.1 2543.7,1159.7 2542.5,1157.3 2541.4,1158.7 2540.3,1159.3 2539.2,1158.9 2538.0,1159.1 2536.9,1159.5 2535.8,1159.5 2534.7,1158.8 2533.5,1158.4 2532.4,1159.5 2531.3,1159.1 2530.2,1160.9 2529.0,1159.1 2527.9,1161.6 2526.8,1161.6 2525.7,1162.0 2524.5,1160.9 2523.4,1160.0 2522.3,1160.5 2521.2,1161.2 2520.0,1160.6 2518.9,1161.4 2517.8,1161.6 2516.7,1162.6 2515.5,1162.8 2514.4,1162.3 2513.3,1161.7 2512.2,1162.2 2511.0,1162.5 2509.9,1163.4 2508.8,1163.5 2507.7,1162.6 2506.5,1164.4 2505.4,1161.9 2504.3,1164.4 2503.2,1164.3 2502.0,1165.3 2500.9,1164.4 2499.8,1165.1 2498.7,1166.2 2497.5,1166.1 2496.4,1165.4 2495.3,1166.8 2494.2,1166.2 2493.0,1166.6 2491.9,1168.0 2490.8,1167.7 2489.6,1166.1 2488.5,1168.8 2487.4,1168.6 2486.3,1167.6 2485.1,1168.7 2484.0,1170.0 2482.9,1169.9 2481.8,1170.4 2480.6,1172.1 2479.5,1170.3 2478.4,1170.1 2477.3,1170.6 2476.1,1171.6 2475.0,1171.6 2473.9,1171.4 2472.8,1173.7 2471.6,1173.6 2470.5,1173.1 2469.4,1174.5 2468.3,1174.5 2467.1,1175.3 2466.0,1176.8 2464.9,1175.6 2463.8,1175.6 2462.6,1176.2 2461.5,1176.7 2460.4,1177.3 2459.3,1178.3 2458.1,1179.1 2457.0,1180.1 2455.9,1181.0 2454.8,1181.4 2453.6,1180.7 2452.5,1181.8 2451.4,1184.2 2450.3,1183.5 2449.1,1183.3 2448.0,1186.0 2446.9,1186.9 2445.8,1187.2 2444.6,1188.4 2443.5,1188.1 2442.4,1187.5 2441.3,1189.2 2440.1,1190.7 2439.0,1191.1 2437.9,1192.9 2436.8,1193.3 2435.6,1194.2 2434.5,1194.3 2433.4,1195.4 2432.3,1197.1 2431.1,1198.8 2430.0,1200.6 2428.9,1200.6 2427.8,1201.9 2426.6,1202.5 2425.5,1205.0" fill="#3d9a37" fill-opacity="0.25"/><polyline points="2425.5,1202.4 2426.6,1200.0 2427.8,1199.4 2428.9,1198.1 2430.0,1198.0 2431.1,1196.3 2432.3,1194.6 2433.4,1192.8 2434.5,1191.8 2435.6,1191.6 2436.8,1190.8 2437.9,1190.3 2439.0,1188.5 2440.1,1188.1 2441.3,1186.6 2442.4,1184.9 2443.5,1185.5 2444.6,1185.9 2445.8,1184.6 2446.9,1184.3 2448.0,1183.4 2449.1,1180.8 2450.3,1180.9 2451.4,1181.6 2452.5,1179.3 2453.6,1178.2 2454.8,1178.8 2455.9,1178.4 2457.0,1177.6 2458.1,1176.5 2459.3,1175.7 2460.4,1174.7 2461.5,1174.2 2462.6,1173.7 2463.8,1173.0 2464.9,1173.1 2466.0,1174.3 2467.1,1172.7 2468.3,1171.9 2469.4,1172.0 2470.5,1170.5 2471.6,1171.1 2472.8,1171.1 2473.9,1168.9 2475.0,1169.1 2476.1,1169.0 2477.3,1168.1 2478.4,1167.6 2479.5,1167.8 2480.6,1169.6 2481.8,1167.8 2482.9,1167.3 2484.0,1167.4 2485.1,1166.2 2486.3,1165.1 2487.4,1166.1 2488.5,1166.2 2489.6,1163.5 2490.8,1165.1 2491.9,1165.4 2493.0,1164.0 2494.2,1163.6 2495.3,1164.2 2496.4,1162.8 2497.5,1163.5 2498.7,1163.6 2499.8,1162.5 2500.9,1161.9 2502.0,1162.7 2503.2,1161.7 2504.3,1161.8 2505.4,1159.4 2506.5,1161.9 2507.7,1160.1 2508.8,1161.0 2509.9,1160.8 2511.0,1160.0 2512.2,1159.7 2513.3,1159.2 2514.4,1159.7 2515.5,1160.2 2516.7,1160.0 2517.8,1159.0 2518.9,1158.8 2520.0,1158.0 2521.2,1158.6 2522.3,1157.9 2523.4,1157.4 2524.5,1158.3 2525.7,1159.4 2526.8,1159.0 2527.9,1159.1 2529.0,1156.6 2530.2,1158.3 2531.3,1156.6 2532.4,1156.9 2533.5,1155.9 2534.7,1156.3 2535.8,1157.0 2536.9,1156.9 2538.0,1156.5 2539.2,1156.3 2540.3,1156.7 2541.4,1156.2 2542.5,1154.8 2543.7,1157.2 2544.8,1155.5 2545.9,1156.2 2547.0,1155.3 2548.2,1154.6 2549.3,1155.1 2550.4,1154.3 2551.5,1156.0 2552.7,1153.8 2553.8,1154.9 2554.9,1153.8 2556.0,1154.0 2557.2,1156.0 2558.3,1154.4 2559.4,1153.5 2560.6,1152.3 2561.7,1153.1 2562.8,1153.0 2563.9,1154.1 2565.1,1151.7 2566.2,1151.2 2567.3,1152.4 2568.4,1152.5 2569.6,1153.3 2570.7,1151.2 2571.8,1149.7 2572.9,1151.0 2574.1,1150.4 2575.2,1150.8 2576.3,1151.8 2577.4,1149.8 2578.6,1151.6 2579.7,1150.6 2580.8,1150.0 2581.9,1149.4 2583.1,1149.5 2584.2,1149.3 2585.3,1150.0 2586.4,1150.2 2587.6,1149.0 2588.7,1149.4 2589.8,1149.6 2590.9,1149.4 2592.1,1148.6 2593.2,1149.4 2594.3,1148.8 2595.4,1148.8 2596.6,1147.2 2597.7,1146.8 2598.8,1145.3 2599.9,1147.8 2601.1,1147.0 2602.2,1145.5 2603.3,1146.2 2604.4,1146.0 2605.6,1144.2 2606.7,1145.6 2607.8,1146.0 2608.9,1145.8 2610.1,1144.3 2611.2,1144.1 2612.3,1145.2 2613.4,1144.6 2614.6,1143.2 2615.7,1143.0 2616.8,1143.7 2617.9,1142.4 2619.1,1142.2 2620.2,1143.8 2621.3,1142.4 2622.4,1141.6 2623.6,1142.1 2624.7,1143.1 2625.8,1141.4 2626.9,1140.3 2628.1,1139.4 2629.2,1142.1 2630.3,1138.1 2631.5,1140.7 2632.6,1138.9 2633.7,1138.4 2634.8,1138.3 2636.0,1138.7 2637.1,1139.4 2638.2,1137.8 2639.3,1138.6 2640.5,1139.7 2641.6,1135.3 2642.7,1136.7 2643.8,1135.5 2645.0,1137.3 2646.1,1135.2 2647.2,1134.9 2648.3,1134.6 2649.5,1135.5 2650.6,1136.2 2651.7,1135.1 2652.8,1136.4 2654.0,1135.7 2655.1,1134.0 2656.2,1134.6 2657.3,1133.6 2658.5,1133.3 2659.6,1131.4 2660.7,1131.6 2661.8,1132.4 2663.0,1131.1 2664.1,1132.3 2665.2,1131.7 2666.3,1130.4 2667.5,1131.8 2668.6,1130.7 2669.7,1131.2 2670.8,1129.8 2672.0,1128.3 2673.1,1129.8 2674.2,1128.8 2675.3,1129.3 2676.5,1129.2 2677.6,1128.9 2678.7,1126.5 2679.8,1125.4 2681.0,1126.5 2682.1,1127.0 2683.2,1125.6 2684.3,1126.0 2685.5,1124.7 2686.6,1124.7 2687.7,1124.3 2688.8,1123.6 2690.0,1124.1 2691.1,1123.5 2692.2,1124.1 2693.3,1122.6 2694.5,1122.9 2695.6,1121.5 2696.7,1121.6 2697.9,1120.3 2699.0,1119.5 2700.1,1120.4 2701.2,1119.4 2702.4,1118.9 2703.5,1117.1 2704.6,1115.8 2705.7,1115.8 2706.9,1116.1 2708.0,1114.1 2709.1,1115.7 2710.2,1112.8 2711.4,1113.7 2712.5,1114.7 2713.6,1109.8 2714.7,1109.9 2715.9,1111.2 2717.0,1109.5 2718.1,1109.0 2719.2,1108.0 2720.4,1108.4 2721.5,1107.0 2722.6,1105.2 2723.7,1104.6 2724.9,1103.0 2726.0,1103.0 2727.1,1100.4 2728.2,1101.9 2729.4,1100.3 2730.5,1101.1 2731.6,1099.7 2732.7,1096.9 2733.9,1097.8 2735.0,1095.8 2736.1,1095.4 2737.2,1095.4 2738.4,1094.0 2739.5,1093.3 2740.6,1092.5 2741.7,1090.7 2742.9,1090.0 2744.0,1090.2 2745.1,1089.7 2746.2,1088.0 2747.4,1087.6 2748.5,1086.0 2749.6,1084.1 2750.7,1084.8 2751.9,1084.7 2753.0,1084.2 2754.1,1084.0 2755.2,1083.4 2756.4,1082.9 2757.5,1081.8 2758.6,1081.2 2759.7,1079.6 2760.9,1079.9 2762.0,1079.1" fill="none" stroke="#3d9a37" stroke-width="2.6" stroke-dasharray="9,3,2,3,2,3"/><polygon points="2425.5,1200.0 2426.6,1196.6 2427.8,1196.3 2428.9,1194.2 2430.0,1193.8 2431.1,1192.2 2432.3,1192.5 2433.4,1190.8 2434.5,1188.3 2435.6,1190.3 2436.8,1187.6 2437.9,1186.3 2439.0,1186.4 2440.1,1185.3 2441.3,1184.0 2442.4,1184.7 2443.5,1183.1 2444.6,1183.3 2445.8,1182.5 2446.9,1181.7 2448.0,1180.6 2449.1,1179.7 2450.3,1178.8 2451.4,1179.6 2452.5,1176.3 2453.6,1176.3 2454.8,1176.1 2455.9,1176.3 2457.0,1175.6 2458.1,1174.5 2459.3,1174.1 2460.4,1175.2 2461.5,1172.7 2462.6,1170.5 2463.8,1173.8 2464.9,1171.0 2466.0,1171.1 2467.1,1171.0 2468.3,1169.4 2469.4,1170.9 2470.5,1169.4 2471.6,1168.0 2472.8,1168.9 2473.9,1168.7 2475.0,1167.9 2476.1,1167.9 2477.3,1166.0 2478.4,1167.5 2479.5,1165.8 2480.6,1167.1 2481.8,1165.2 2482.9,1165.5 2484.0,1167.1 2485.1,1164.8 2486.3,1165.3 2487.4,1164.5 2488.5,1162.6 2489.6,1164.4 2490.8,1164.1 2491.9,1161.8 2493.0,1162.6 2494.2,1161.2 2495.3,1161.9 2496.4,1162.6 2497.5,1161.7 2498.7,1160.4 2499.8,1160.4 2500.9,1160.9 2502.0,1160.6 2503.2,1160.5 2504.3,1160.6 2505.4,1158.4 2506.5,1159.7 2507.7,1160.4 2508.8,1159.7 2509.9,1158.5 2511.0,1158.4 2512.2,1158.8 2513.3,1159.0 2514.4,1158.3 2515.5,1159.4 2516.7,1158.9 2517.8,1157.1 2518.9,1157.9 2520.0,1157.1 2521.2,1156.2 2522.3,1156.5 2523.4,1156.8 2524.5,1155.0 2525.7,1155.9 2526.8,1156.6 2527.9,1155.5 2529.0,1155.6 2530.2,1156.5 2531.3,1155.6 2532.4,1155.6 2533.5,1156.8 2534.7,1155.2 2535.8,1155.2 2536.9,1155.1 2538.0,1155.9 2539.2,1154.7 2540.3,1154.3 2541.4,1154.0 2542.5,1154.8 2543.7,1153.3 2544.8,1154.6 2545.9,1153.6 2547.0,1152.2 2548.2,1153.7 2549.3,1153.3 2550.4,1151.9 2551.5,1152.9 2552.7,1152.7 2553.8,1152.1 2554.9,1151.3 2556.0,1153.6 2557.2,1152.4 2558.3,1152.4 2559.4,1152.2 2560.6,1151.9 2561.7,1151.7 2562.8,1150.6 2563.9,1151.4 2565.1,1150.4 2566.2,1150.0 2567.3,1150.7 2568.4,1149.8 2569.6,1148.4 2570.7,1149.3 2571.8,1149.9 2572.9,1149.2 2574.1,1149.7 2575.2,1148.6 2576.3,1147.9 2577.4,1149.0 2578.6,1148.3 2579.7,1147.1 2580.8,1148.2 2581.9,1147.4 2583.1,1148.2 2584.2,1147.8 2585.3,1147.4 2586.4,1145.1 2587.6,1146.9 2588.7,1146.7 2589.8,1146.5 2590.9,1146.0 2592.1,1145.2 2593.2,1145.3 2594.3,1143.7 2595.4,1144.9 2596.6,1143.7 2597.7,1144.4 2598.8,1143.9 2599.9,1145.3 2601.1,1144.0 2602.2,1143.7 2603.3,1143.6 2604.4,1144.9 2605.6,1142.3 2606.7,1143.1 2607.8,1142.9 2608.9,1142.5 2610.1,1142.2 2611.2,1141.5 2612.3,1142.6 2613.4,1142.1 2614.6,1140.9 2615.7,1140.7 2616.8,1140.9 2617.9,1140.8 2619.1,1140.8 2620.2,1139.9 2621.3,1138.7 2622.4,1140.2 2623.6,1138.0 2624.7,1138.2 2625.8,1139.0 2626.9,1137.8 2628.1,1139.2 2629.2,1139.2 2630.3,1138.6 2631.5,1137.6 2632.6,1137.3 2633.7,1137.2 2634.8,1136.5 2636.0,1137.9 2637.1,1135.6 2638.2,1136.8 2639.3,1136.0 2640.5,1135.5 2641.6,1135.8 2642.7,1135.7 2643.8,1135.1 2645.0,1134.1 2646.1,1133.4 2647.2,1133.1 2648.3,1134.0 2649.5,1133.6 2650.6,1133.4 2651.7,1132.0 2652.8,1133.7 2654.0,1130.9 2655.1,1131.9 2656.2,1131.8 2657.3,1130.7 2658.5,1129.9 2659.6,1130.1 2660.7,1129.2 2661.8,1129.7 2663.0,1128.5 2664.1,1128.2 2665.2,1128.9 2666.3,1127.4 2667.5,1128.1 2668.6,1127.9 2669.7,1128.3 2670.8,1127.5 2672.0,1126.4 2673.1,1127.7 2674.2,1125.9 2675.3,1125.8 2676.5,1125.5 2677.6,1127.1 2678.7,1125.1 2679.8,1124.1 2681.0,1124.8 2682.1,1123.7 2683.2,1125.2 2684.3,1122.4 2685.5,1122.9 2686.6,1121.3 2687.7,1122.8 2688.8,1120.4 2690.0,1120.6 2691.1,1119.2 2692.2,1120.0 2693.3,1119.1 2694.5,1116.3 2695.6,1117.9 2696.7,1116.9 2697.9,1115.7 2699.0,1115.4 2700.1,1112.7 2701.2,1111.3 2702.4,1112.1 2703.5,1111.8 2704.6,1108.5 2705.7,1107.4 2706.9,1106.3 2708.0,1104.8 2709.1,1105.0 2710.2,1103.1 2711.4,1102.5 2712.5,1101.0 2713.6,1097.6 2714.7,1097.2 2715.9,1093.2 2717.0,1093.0 2718.1,1091.7 2719.2,1088.7 2720.4,1085.9 2721.5,1084.8 2722.6,1083.9 2723.7,1080.5 2724.9,1077.5 2726.0,1076.6 2727.1,1074.5 2728.2,1070.7 2729.4,1069.0 2730.5,1067.5 2731.6,1064.5 2732.7,1062.3 2733.9,1059.1 2735.0,1056.8 2736.1,1053.6 2737.2,1051.5 2738.4,1050.9 2739.5,1047.1 2740.6,1044.5 2741.7,1042.7 2742.9,1040.1 2744.0,1039.2 2745.1,1037.5 2746.2,1034.1 2747.4,1033.8 2748.5,1032.8 2749.6,1028.6 2750.7,1028.3 2751.9,1026.3 2753.0,1025.6 2754.1,1024.0 2755.2,1022.5 2756.4,1020.5 2757.5,1018.6 2758.6,1019.3 2759.7,1015.8 2760.9,1016.1 2762.0,1014.8 2762.0,1040.4 2760.9,1041.3 2759.7,1040.7 2758.6,1043.9 2757.5,1042.8 2756.4,1044.4 2755.2,1046.0 2754.1,1047.2 2753.0,1048.5 2751.9,1048.8 2750.7,1050.4 2749.6,1050.4 2748.5,1054.3 2747.4,1054.9 2746.2,1054.9 2745.1,1058.0 2744.0,1059.3 2742.9,1059.8 2741.7,1062.1 2740.6,1063.6 2739.5,1065.9 2738.4,1069.3 2737.2,1069.6 2736.1,1071.3 2735.0,1074.2 2733.9,1076.1 2732.7,1079.0 2731.6,1080.8 2730.5,1083.5 2729.4,1084.6 2728.2,1086.0 2727.1,1089.4 2726.0,1091.2 2724.9,1091.8 2723.7,1094.5 2722.6,1097.6 2721.5,1098.0 2720.4,1098.8 2719.2,1101.2 2718.1,1103.9 2717.0,1104.9 2715.9,1104.7 2714.7,1108.4 2713.6,1108.4 2712.5,1111.5 2711.4,1112.7 2710.2,1112.9 2709.1,1114.5 2708.0,1114.0 2706.9,1115.2 2705.7,1115.8 2704.6,1116.6 2703.5,1119.6 2702.4,1119.6 2701.2,1118.4 2700.1,1119.5 2699.0,1121.8 2697.9,1121.8 2696.7,1122.7 2695.6,1123.3 2694.5,1121.4 2693.3,1124.2 2692.2,1125.1 2691.1,1124.3 2690.0,1125.7 2688.8,1125.5 2687.7,1128.0 2686.6,1126.4 2685.5,1128.0 2684.3,1127.5 2683.2,1130.3 2682.1,1128.8 2681.0,1129.9 2679.8,1129.2 2678.7,1130.2 2677.6,1132.2 2676.5,1130.6 2675.3,1130.9 2674.2,1131.0 2673.1,1132.8 2672.0,1131.5 2670.8,1132.7 2669.7,1133.4 2668.6,1133.0 2667.5,1133.2 2666.3,1132.6 2665.2,1134.0 2664.1,1133.3 2663.0,1133.6 2661.8,1134.8 2660.7,1134.4 2659.6,1135.2 2658.5,1135.0 2657.3,1135.8 2656.2,1137.0 2655.1,1137.0 2654.0,1136.0 2652.8,1138.8 2651.7,1137.2 2650.6,1138.5 2649.5,1138.7 2648.3,1139.1 2647.2,1138.2 2646.1,1138.5 2645.0,1139.2 2643.8,1140.3 2642.7,1140.8 2641.6,1140.9 2640.5,1140.6 2639.3,1141.1 2638.2,1141.9 2637.1,1140.7 2636.0,1143.0 2634.8,1141.6 2633.7,1142.3 2632.6,1142.4 2631.5,1142.8 2630.3,1143.7 2629.2,1144.3 2628.1,1144.3 2626.9,1142.9 2625.8,1144.1 2624.7,1143.3 2623.6,1143.1 2622.4,1145.3 2621.3,1143.8 2620.2,1145.0 2619.1,1145.9 2617.9,1145.9 2616.8,1146.0 2615.7,1145.9 2614.6,1146.0 2613.4,1147.2 2612.3,1147.7 2611.2,1146.6 2610.1,1147.4 2608.9,1147.6 2607.8,1148.0 2606.7,1148.2 2605.6,1147.4 2604.4,1150.0 2603.3,1148.8 2602.2,1148.9 2601.1,1149.1 2599.9,1150.4 2598.8,1149.0 2597.7,1149.5 2596.6,1148.8 2595.4,1150.0 2594.3,1148.8 2593.2,1150.4 2592.1,1150.3 2590.9,1151.1 2589.8,1151.7 2588.7,1151.9 2587.6,1152.0 2586.4,1150.2 2585.3,1152.5 2584.2,1152.9 2583.1,1153.3 2581.9,1152.5 2580.8,1153.3 2579.7,1152.2 2578.6,1153.5 2577.4,1154.1 2576.3,1153.0 2575.2,1153.7 2574.1,1154.8 2572.9,1154.3 2571.8,1155.0 2570.7,1154.4 2569.6,1153.6 2568.4,1154.9 2567.3,1155.8 2566.2,1155.1 2565.1,1155.5 2563.9,1156.5 2562.8,1155.7 2561.7,1156.8 2560.6,1157.0 2559.4,1157.4 2558.3,1157.5 2557.2,1157.5 2556.0,1158.8 2554.9,1156.4 2553.8,1157.2 2552.7,1157.8 2551.5,1158.0 2550.4,1157.0 2549.3,1158.5 2548.2,1158.8 2547.0,1157.4 2545.9,1158.7 2544.8,1159.7 2543.7,1158.4 2542.5,1160.0 2541.4,1159.1 2540.3,1159.4 2539.2,1159.8 2538.0,1161.0 2536.9,1160.2 2535.8,1160.3 2534.7,1160.4 2533.5,1161.9 2532.4,1160.7 2531.3,1160.7 2530.2,1161.6 2529.0,1160.7 2527.9,1160.7 2526.8,1161.7 2525.7,1161.1 2524.5,1160.1 2523.4,1161.9 2522.3,1161.6 2521.2,1161.3 2520.0,1162.2 2518.9,1163.0 2517.8,1162.2 2516.7,1164.1 2515.5,1164.5 2514.4,1163.4 2513.3,1164.1 2512.2,1163.9 2511.0,1163.5 2509.9,1163.7 2508.8,1164.8 2507.7,1165.5 2506.5,1164.9 2505.4,1163.6 2504.3,1165.8 2503.2,1165.6 2502.0,1165.7 2500.9,1166.0 2499.8,1165.5 2498.7,1165.5 2497.5,1166.8 2496.4,1167.7 2495.3,1167.0 2494.2,1166.3 2493.0,1167.7 2491.9,1166.9 2490.8,1169.2 2489.6,1169.5 2488.5,1167.7 2487.4,1169.6 2486.3,1170.4 2485.1,1169.9 2484.0,1172.2 2482.9,1170.6 2481.8,1170.3 2480.6,1172.2 2479.5,1170.9 2478.4,1172.6 2477.3,1171.1 2476.1,1173.0 2475.0,1173.0 2473.9,1173.8 2472.8,1174.0 2471.6,1173.1 2470.5,1174.6 2469.4,1176.1 2468.3,1174.5 2467.1,1176.1 2466.0,1176.2 2464.9,1176.2 2463.8,1178.9 2462.6,1175.6 2461.5,1177.9 2460.4,1180.3 2459.3,1179.2 2458.1,1179.6 2457.0,1180.7 2455.9,1181.5 2454.8,1181.2 2453.6,1181.5 2452.5,1181.4 2451.4,1184.7 2450.3,1183.9 2449.1,1184.8 2448.0,1185.7 2446.9,1186.8 2445.8,1187.6 2444.6,1188.5 2443.5,1188.2 2442.4,1189.8 2441.3,1189.2 2440.1,1190.4 2439.0,1191.5 2437.9,1191.4 2436.8,1192.7 2435.6,1195.5 2434.5,1193.4 2433.4,1195.9 2432.3,1197.7 2431.1,1197.4 2430.0,1199.0 2428.9,1199.3 2427.8,1201.4 2426.6,1201.7 2425.5,1205.1" fill="#3fb8d8" fill-opacity="0.25"/><polyline points="2425.5,1202.6 2426.6,1199.2 2427.8,1198.9 2428.9,1196.7 2430.0,1196.4 2431.1,1194.8 2432.3,1195.1 2433.4,1193.3 2434.5,1190.8 2435.6,1192.9 2436.8,1190.1 2437.9,1188.8 2439.0,1188.9 2440.1,1187.8 2441.3,1186.6 2442.4,1187.3 2443.5,1185.7 2444.6,1185.9 2445.8,1185.0 2446.9,1184.2 2448.0,1183.2 2449.1,1182.3 2450.3,1181.4 2451.4,1182.2 2452.5,1178.9 2453.6,1178.9 2454.8,1178.6 2455.9,1178.9 2457.0,1178.1 2458.1,1177.0 2459.3,1176.6 2460.4,1177.7 2461.5,1175.3 2462.6,1173.1 2463.8,1176.3 2464.9,1173.6 2466.0,1173.6 2467.1,1173.5 2468.3,1171.9 2469.4,1173.5 2470.5,1172.0 2471.6,1170.6 2472.8,1171.5 2473.9,1171.2 2475.0,1170.4 2476.1,1170.5 2477.3,1168.5 2478.4,1170.1 2479.5,1168.3 2480.6,1169.6 2481.8,1167.8 2482.9,1168.1 2484.0,1169.7 2485.1,1167.3 2486.3,1167.8 2487.4,1167.0 2488.5,1165.2 2489.6,1167.0 2490.8,1166.6 2491.9,1164.4 2493.0,1165.2 2494.2,1163.8 2495.3,1164.4 2496.4,1165.1 2497.5,1164.2 2498.7,1163.0 2499.8,1162.9 2500.9,1163.4 2502.0,1163.2 2503.2,1163.1 2504.3,1163.2 2505.4,1161.0 2506.5,1162.3 2507.7,1163.0 2508.8,1162.3 2509.9,1161.1 2511.0,1161.0 2512.2,1161.4 2513.3,1161.6 2514.4,1160.8 2515.5,1162.0 2516.7,1161.5 2517.8,1159.7 2518.9,1160.5 2520.0,1159.6 2521.2,1158.8 2522.3,1159.0 2523.4,1159.4 2524.5,1157.5 2525.7,1158.5 2526.8,1159.1 2527.9,1158.1 2529.0,1158.2 2530.2,1159.0 2531.3,1158.1 2532.4,1158.1 2533.5,1159.4 2534.7,1157.8 2535.8,1157.7 2536.9,1157.7 2538.0,1158.5 2539.2,1157.3 2540.3,1156.9 2541.4,1156.6 2542.5,1157.4 2543.7,1155.8 2544.8,1157.1 2545.9,1156.2 2547.0,1154.8 2548.2,1156.2 2549.3,1155.9 2550.4,1154.5 2551.5,1155.5 2552.7,1155.2 2553.8,1154.6 2554.9,1153.8 2556.0,1156.2 2557.2,1154.9 2558.3,1154.9 2559.4,1154.8 2560.6,1154.4 2561.7,1154.2 2562.8,1153.2 2563.9,1153.9 2565.1,1152.9 2566.2,1152.5 2567.3,1153.2 2568.4,1152.4 2569.6,1151.0 2570.7,1151.8 2571.8,1152.4 2572.9,1151.8 2574.1,1152.2 2575.2,1151.1 2576.3,1150.5 2577.4,1151.6 2578.6,1150.9 2579.7,1149.7 2580.8,1150.7 2581.9,1150.0 2583.1,1150.7 2584.2,1150.4 2585.3,1149.9 2586.4,1147.6 2587.6,1149.4 2588.7,1149.3 2589.8,1149.1 2590.9,1148.6 2592.1,1147.7 2593.2,1147.9 2594.3,1146.2 2595.4,1147.4 2596.6,1146.3 2597.7,1146.9 2598.8,1146.5 2599.9,1147.8 2601.1,1146.6 2602.2,1146.3 2603.3,1146.2 2604.4,1147.4 2605.6,1144.9 2606.7,1145.6 2607.8,1145.4 2608.9,1145.1 2610.1,1144.8 2611.2,1144.1 2612.3,1145.1 2613.4,1144.6 2614.6,1143.4 2615.7,1143.3 2616.8,1143.5 2617.9,1143.4 2619.1,1143.3 2620.2,1142.5 2621.3,1141.3 2622.4,1142.7 2623.6,1140.5 2624.7,1140.8 2625.8,1141.5 2626.9,1140.3 2628.1,1141.8 2629.2,1141.7 2630.3,1141.1 2631.5,1140.2 2632.6,1139.9 2633.7,1139.8 2634.8,1139.0 2636.0,1140.5 2637.1,1138.2 2638.2,1139.4 2639.3,1138.5 2640.5,1138.1 2641.6,1138.4 2642.7,1138.3 2643.8,1137.7 2645.0,1136.7 2646.1,1135.9 2647.2,1135.7 2648.3,1136.6 2649.5,1136.1 2650.6,1135.9 2651.7,1134.6 2652.8,1136.2 2654.0,1133.4 2655.1,1134.5 2656.2,1134.4 2657.3,1133.2 2658.5,1132.4 2659.6,1132.7 2660.7,1131.8 2661.8,1132.2 2663.0,1131.1 2664.1,1130.8 2665.2,1131.5 2666.3,1130.0 2667.5,1130.7 2668.6,1130.4 2669.7,1130.9 2670.8,1130.1 2672.0,1129.0 2673.1,1130.3 2674.2,1128.4 2675.3,1128.3 2676.5,1128.1 2677.6,1129.7 2678.7,1127.7 2679.8,1126.7 2681.0,1127.3 2682.1,1126.3 2683.2,1127.7 2684.3,1124.9 2685.5,1125.5 2686.6,1123.8 2687.7,1125.4 2688.8,1122.9 2690.0,1123.1 2691.1,1121.8 2692.2,1122.5 2693.3,1121.7 2694.5,1118.9 2695.6,1120.6 2696.7,1119.8 2697.9,1118.7 2699.0,1118.6 2700.1,1116.1 2701.2,1114.9 2702.4,1115.9 2703.5,1115.7 2704.6,1112.5 2705.7,1111.6 2706.9,1110.7 2708.0,1109.4 2709.1,1109.8 2710.2,1108.0 2711.4,1107.6 2712.5,1106.3 2713.6,1103.0 2714.7,1102.8 2715.9,1098.9 2717.0,1099.0 2718.1,1097.8 2719.2,1094.9 2720.4,1092.3 2721.5,1091.4 2722.6,1090.7 2723.7,1087.5 2724.9,1084.6 2726.0,1083.9 2727.1,1082.0 2728.2,1078.4 2729.4,1076.8 2730.5,1075.5 2731.6,1072.7 2732.7,1070.7 2733.9,1067.6 2735.0,1065.5 2736.1,1062.4 2737.2,1060.6 2738.4,1060.1 2739.5,1056.5 2740.6,1054.1 2741.7,1052.4 2742.9,1050.0 2744.0,1049.3 2745.1,1047.7 2746.2,1044.5 2747.4,1044.3 2748.5,1043.5 2749.6,1039.5 2750.7,1039.3 2751.9,1037.6 2753.0,1037.0 2754.1,1035.6 2755.2,1034.2 2756.4,1032.4 2757.5,1030.7 2758.6,1031.6 2759.7,1028.2 2760.9,1028.7 2762.0,1027.6" fill="none" stroke="#3fb8d8" stroke-width="2.6" stroke-dasharray="9,4,2,4"/><polyline points="2425.5,1201.8 2426.6,1201.2 2427.8,1201.2 2428.9,1197.5 2430.0,1198.5 2431.1,1196.6 2432.3,1195.6 2433.4,1193.7 2434.5,1194.2 2435.6,1192.2 2436.8,1192.6 2437.9,1190.3 2439.0,1190.9 2440.1,1189.8 2441.3,1187.3 2442.4,1187.8 2443.5,1187.2 2444.6,1184.8 2445.8,1185.6 2446.9,1185.8 2448.0,1183.9 2449.1,1184.8 2450.3,1182.4 2451.4,1181.7 2452.5,1182.5 2453.6,1181.9 2454.8,1180.8 2455.9,1180.3 2457.0,1180.6 2458.1,1178.9 2459.3,1180.4 2460.4,1178.6 2461.5,1178.1 2462.6,1177.6 2463.8,1176.6 2464.9,1177.4 2466.0,1175.5 2467.1,1175.7 2468.3,1175.7 2469.4,1175.8 2470.5,1175.3 2471.6,1173.7 2472.8,1174.3 2473.9,1173.2 2475.0,1172.0 2476.1,1171.7 2477.3,1170.9 2478.4,1172.0 2479.5,1172.3 2480.6,1170.3 2481.8,1170.5 2482.9,1169.6 2484.0,1170.1 2485.1,1168.9 2486.3,1168.9 2487.4,1168.7 2488.5,1168.6 2489.6,1168.3 2490.8,1168.2 2491.9,1167.9 2493.0,1167.0 2494.2,1167.9 2495.3,1165.9 2496.4,1167.1 2497.5,1166.0 2498.7,1166.5 2499.8,1166.4 2500.9,1164.4 2502.0,1165.9 2503.2,1166.4 2504.3,1165.8 2505.4,1165.2 2506.5,1163.1 2507.7,1164.3 2508.8,1163.5 2509.9,1164.8 2511.0,1163.5 2512.2,1163.0 2513.3,1161.9 2514.4,1163.6 2515.5,1162.4 2516.7,1162.4 2517.8,1163.2 2518.9,1162.2 2520.0,1162.2 2521.2,1163.6 2522.3,1161.1 2523.4,1160.9 2524.5,1161.5 2525.7,1161.9 2526.8,1159.6 2527.9,1160.3 2529.0,1159.5 2530.2,1159.0 2531.3,1160.2 2532.4,1159.0 2533.5,1159.6 2534.7,1159.3 2535.8,1159.1 2536.9,1158.8 2538.0,1157.7 2539.2,1158.3 2540.3,1158.3 2541.4,1158.2 2542.5,1157.5 2543.7,1158.2 2544.8,1157.7 2545.9,1157.2 2547.0,1157.4 2548.2,1156.8 2549.3,1157.0 2550.4,1154.8 2551.5,1155.1 2552.7,1155.5 2553.8,1155.7 2554.9,1153.8 2556.0,1155.0 2557.2,1155.1 2558.3,1154.6 2559.4,1154.4 2560.6,1153.4 2561.7,1154.2 2562.8,1152.4 2563.9,1154.5 2565.1,1153.1 2566.2,1154.2 2567.3,1151.8 2568.4,1153.2 2569.6,1152.8 2570.7,1151.8 2571.8,1151.4 2572.9,1153.0 2574.1,1152.2 2575.2,1152.8 2576.3,1151.4 2577.4,1151.3 2578.6,1151.3 2579.7,1151.4 2580.8,1150.9 2581.9,1151.0 2583.1,1149.8 2584.2,1148.8 2585.3,1151.2 2586.4,1149.6 2587.6,1149.6 2588.7,1148.7 2589.8,1149.6 2590.9,1148.7 2592.1,1149.2 2593.2,1147.6 2594.3,1147.9 2595.4,1147.8 2596.6,1147.2 2597.7,1147.4 2598.8,1148.2 2599.9,1146.3 2601.1,1146.3 2602.2,1146.4 2603.3,1145.3 2604.4,1144.9 2605.6,1146.5 2606.7,1146.0 2607.8,1144.0 2608.9,1143.8 2610.1,1145.2 2611.2,1145.3 2612.3,1144.7 2613.4,1144.3 2614.6,1144.9 2615.7,1143.4 2616.8,1144.2 2617.9,1143.9 2619.1,1142.0 2620.2,1143.0 2621.3,1142.3 2622.4,1141.5 2623.6,1141.1 2624.7,1141.7 2625.8,1141.2 2626.9,1141.6 2628.1,1139.3 2629.2,1139.9 2630.3,1141.0 2631.5,1139.9 2632.6,1139.1 2633.7,1139.0 2634.8,1137.7 2636.0,1137.8 2637.1,1139.0 2638.2,1138.4 2639.3,1139.0 2640.5,1137.6 2641.6,1137.4 2642.7,1135.1 2643.8,1136.9 2645.0,1138.3 2646.1,1136.9 2647.2,1136.0 2648.3,1136.8 2649.5,1136.2 2650.6,1135.5 2651.7,1134.7 2652.8,1134.8 2654.0,1135.1 2655.1,1133.5 2656.2,1134.2 2657.3,1133.9 2658.5,1134.3 2659.6,1133.5 2660.7,1132.1 2661.8,1133.6 2663.0,1132.1 2664.1,1131.2 2665.2,1131.7 2666.3,1130.9 2667.5,1131.7 2668.6,1129.5 2669.7,1129.3 2670.8,1129.7 2672.0,1130.9 2673.1,1130.0 2674.2,1128.2 2675.3,1127.3 2676.5,1128.1 2677.6,1127.0 2678.7,1128.0 2679.8,1127.3 2681.0,1126.7 2682.1,1125.9 2683.2,1126.9 2684.3,1124.6 2685.5,1123.7 2686.6,1125.1 2687.7,1124.7 2688.8,1122.8 2690.0,1123.0 2691.1,1123.6 2692.2,1120.5 2693.3,1120.3 2694.5,1120.0 2695.6,1117.1 2696.7,1117.8 2697.9,1117.5 2699.0,1115.8 2700.1,1115.6 2701.2,1114.2 2702.4,1112.1 2703.5,1111.5 2704.6,1109.9 2705.7,1106.7 2706.9,1105.6 2708.0,1103.8 2709.1,1102.0 2710.2,1099.9 2711.4,1096.8 2712.5,1095.5 2713.6,1091.3 2714.7,1090.5 2715.9,1086.9 2717.0,1084.4 2718.1,1080.0 2719.2,1075.5 2720.4,1070.7 2721.5,1068.0 2722.6,1063.0 2723.7,1058.5 2724.9,1053.8 2726.0,1048.9 2727.1,1042.5 2728.2,1038.3 2729.4,1031.1 2730.5,1025.3 2731.6,1019.9 2732.7,1014.2 2733.9,1008.4 2735.0,999.9 2736.1,996.4 2737.2,988.3 2738.4,983.3 2739.5,978.4 2740.6,973.5 2741.7,966.5 2742.9,960.9 2744.0,958.1 2745.1,953.0 2746.2,947.5 2747.4,943.9 2748.5,938.7 2749.6,937.0 2750.7,932.7 2751.9,930.8 2753.0,925.3 2754.1,924.6 2755.2,923.1 2756.4,919.1 2757.5,916.8 2758.6,913.1 2759.7,912.9 2760.9,910.8 2762.0,908.6" fill="none" stroke="#c85fc6" stroke-width="2.6" stroke-dasharray=""/><rect x="2425.5" y="893.2" width="336.5" height="327.70000000000005" fill="none" stroke="#444" stroke-width="1.2"/><text x="2417.5" y="1210.9" font-family="Liberation Sans" font-size="17.5" text-anchor="end" fill="#333" >10</text><text x="2417.5" y="1159.7" font-family="Liberation Sans" font-size="17.5" text-anchor="end" fill="#333" >20</text><text x="2417.5" y="1108.5" font-family="Liberation Sans" font-size="17.5" text-anchor="end" fill="#333" >30</text><text x="2417.5" y="1057.4" font-family="Liberation Sans" font-size="17.5" text-anchor="end" fill="#333" >40</text><text x="2417.5" y="1006.2" font-family="Liberation Sans" font-size="17.5" text-anchor="end" fill="#333" >50</text><text x="2417.5" y="955.0" font-family="Liberation Sans" font-size="17.5" text-anchor="end" fill="#333" >60</text><text x="2417.5" y="903.8" font-family="Liberation Sans" font-size="17.5" text-anchor="end" fill="#333" >70</text><text x="2425.5" y="1243.9" font-family="Liberation Sans" font-size="17" text-anchor="middle" fill="#333" >0</text><text x="2509.6" y="1243.9" font-family="Liberation Sans" font-size="17" text-anchor="middle" fill="#333" >50</text><text x="2593.8" y="1243.9" font-family="Liberation Sans" font-size="17" text-anchor="middle" fill="#333" >100</text><text x="2677.9" y="1243.9" font-family="Liberation Sans" font-size="17" text-anchor="middle" fill="#333" >150</text><text x="2762.0" y="1243.9" font-family="Liberation Sans" font-size="17" text-anchor="middle" fill="#333" >200</text><text x="2593.8" y="1263.9" font-family="Liberation Sans" font-size="17.5" text-anchor="middle" fill="#333" >epoch</text><text transform="translate(2389.5,1057.0500000000002) rotate(-90)" font-family="Liberation Sans" font-size="17.5" text-anchor="middle" fill="#333">training accuracy</text><line x1="2442" y1="918" x2="2481" y2="918" stroke="#c85fc6" stroke-width="2.8" stroke-dasharray=""/><text x="2496.7" y="924.0" font-family="Liberation Sans" font-size="17.5" text-anchor="start" fill="#333" >ERM</text><line x1="2442" y1="944.5" x2="2481" y2="944.5" stroke="#3b6fb0" stroke-width="2.8" stroke-dasharray="10,5"/><text x="2496.7" y="950.5" font-family="Liberation Sans" font-size="17.5" text-anchor="start" fill="#333" >SAM</text><line x1="2442" y1="971.4" x2="2481" y2="971.4" stroke="#808080" stroke-width="2.8" stroke-dasharray="2.5,3"/><text x="2496.7" y="977.4" font-family="Liberation Sans" font-size="17.5" text-anchor="start" fill="#333" >ESAM</text><line x1="2442" y1="998" x2="2481" y2="998" stroke="#3fb8d8" stroke-width="2.8" stroke-dasharray="9,4,2,4"/><text x="2496.7" y="1004.0" font-family="Liberation Sans" font-size="17.5" text-anchor="start" fill="#333" >SS-SAM</text><line x1="2442" y1="1025" x2="2481" y2="1025" stroke="#ee8330" stroke-width="2.8" stroke-dasharray="12,4,2.5,4"/><text x="2496.7" y="1031.0" font-family="Liberation Sans" font-size="17.5" text-anchor="start" fill="#333" >LookSAM</text><line x1="2442" y1="1051.9" x2="2481" y2="1051.9" stroke="#3d9a37" stroke-width="2.8" stroke-dasharray="9,3,2,3,2,3"/><text x="2496.7" y="1057.9" font-family="Liberation Sans" font-size="17.5" text-anchor="start" fill="#333" >AE-SAM</text><line x1="2442" y1="1078.8" x2="2481" y2="1078.8" stroke="#c0342f" stroke-width="2.8" stroke-dasharray="12,4,3,4"/><text x="2496.7" y="1084.8" font-family="Liberation Sans" font-size="17.5" text-anchor="start" fill="#333" >AE-LookSAM</text><polygon points="2849.7,1203.5 2850.5,1203.5 2851.4,1203.5 2852.2,1203.5 2853.1,1203.5 2853.9,1203.5 2854.7,1203.5 2855.6,1203.5 2856.4,1203.5 2857.3,1203.5 2858.1,1203.5 2859.0,1203.5 2859.8,1203.5 2860.6,1203.5 2861.5,1203.5 2862.3,1203.5 2863.2,1171.6 2864.0,1179.7 2864.8,1186.3 2865.7,1166.8 2866.5,1187.8 2867.4,1190.5 2868.2,1180.4 2869.1,1186.8 2869.9,1170.0 2870.7,1163.1 2871.6,1167.0 2872.4,1165.3 2873.3,1152.6 2874.1,1176.3 2874.9,1164.6 2875.8,1162.5 2876.6,1159.7 2877.5,1159.9 2878.3,1170.4 2879.1,1168.1 2880.0,1171.9 2880.8,1158.2 2881.7,1173.3 2882.5,1164.1 2883.4,1171.7 2884.2,1162.1 2885.0,1168.4 2885.9,1162.1 2886.7,1166.6 2887.6,1172.5 2888.4,1176.4 2889.2,1160.5 2890.1,1169.7 2890.9,1171.1 2891.8,1165.6 2892.6,1171.5 2893.5,1164.1 2894.3,1163.2 2895.1,1161.7 2896.0,1166.8 2896.8,1159.2 2897.7,1169.7 2898.5,1165.3 2899.3,1180.3 2900.2,1162.2 2901.0,1171.1 2901.9,1174.2 2902.7,1161.6 2903.5,1165.1 2904.4,1173.5 2905.2,1159.7 2906.1,1172.8 2906.9,1176.0 2907.8,1160.3 2908.6,1170.8 2909.4,1149.4 2910.3,1174.8 2911.1,1164.6 2912.0,1164.6 2912.8,1172.4 2913.6,1171.6 2914.5,1148.7 2915.3,1169.0 2916.2,1166.9 2917.0,1169.4 2917.8,1163.7 2918.7,1149.9 2919.5,1172.3 2920.4,1165.8 2921.2,1172.5 2922.1,1176.1 2922.9,1169.3 2923.7,1168.2 2924.6,1163.1 2925.4,1170.8 2926.3,1175.2 2927.1,1165.7 2927.9,1165.3 2928.8,1173.0 2929.6,1159.0 2930.5,1165.6 2931.3,1152.5 2932.2,1162.0 2933.0,1176.5 2933.8,1173.2 2934.7,1172.9 2935.5,1159.9 2936.4,1162.4 2937.2,1176.9 2938.0,1162.9 2938.9,1167.0 2939.7,1166.1 2940.6,1165.0 2941.4,1163.7 2942.2,1173.4 2943.1,1161.5 2943.9,1177.2 2944.8,1172.5 2945.6,1164.6 2946.5,1163.3 2947.3,1173.2 2948.1,1170.2 2949.0,1162.3 2949.8,1171.2 2950.7,1172.2 2951.5,1177.6 2952.3,1165.5 2953.2,1151.4 2954.0,1171.0 2954.9,1166.7 2955.7,1176.8 2956.6,1163.6 2957.4,1164.7 2958.2,1160.5 2959.1,1169.0 2959.9,1172.8 2960.8,1152.2 2961.6,1174.9 2962.4,1166.0 2963.3,1165.8 2964.1,1168.2 2965.0,1161.2 2965.8,1148.7 2966.6,1175.7 2967.5,1170.8 2968.3,1171.6 2969.2,1150.9 2970.0,1164.5 2970.9,1160.5 2971.7,1166.2 2972.5,1161.2 2973.4,1155.6 2974.2,1162.0 2975.1,1164.3 2975.9,1167.5 2976.7,1172.9 2977.6,1165.2 2978.4,1155.5 2979.3,1162.3 2980.1,1173.1 2981.0,1166.7 2981.8,1164.8 2982.6,1172.1 2983.5,1166.5 2984.3,1162.9 2985.2,1172.9 2986.0,1156.6 2986.8,1172.6 2987.7,1168.5 2988.5,1158.3 2989.4,1162.2 2990.2,1164.0 2991.0,1159.1 2991.9,1169.8 2992.7,1161.0 2993.6,1169.7 2994.4,1172.5 2995.3,1171.4 2996.1,1167.2 2996.9,1148.7 2997.8,1165.1 2998.6,1168.0 2999.5,1161.6 3000.3,1168.0 3001.1,1164.4 3002.0,1168.7 3002.8,1163.6 3003.7,1170.1 3004.5,1174.1 3005.4,1161.4 3006.2,1157.2 3007.0,1155.5 3007.9,1176.0 3008.7,1175.7 3009.6,1165.2 3010.4,1162.9 3011.2,1172.8 3012.1,1169.4 3012.9,1156.4 3013.8,1149.3 3014.6,1166.0 3015.4,1167.9 3016.3,1158.7 3017.1,1172.8 3018.0,1151.6 3018.8,1169.0 3019.7,1162.8 3020.5,1174.9 3021.3,1172.4 3022.2,1165.9 3023.0,1166.3 3023.9,1171.2 3024.7,1168.9 3025.5,1165.6 3026.4,1171.9 3027.2,1177.0 3028.1,1153.8 3028.9,1175.2 3029.7,1152.3 3030.6,1159.0 3031.4,1167.4 3032.3,1163.2 3033.1,1160.9 3034.0,1173.7 3034.8,1169.5 3035.6,1163.1 3036.5,1165.2 3037.3,1162.1 3038.2,1173.6 3039.0,1167.5 3039.8,1169.3 3040.7,1155.0 3041.5,1157.8 3042.4,1167.2 3043.2,1167.4 3044.1,1162.9 3044.9,1158.8 3045.7,1162.8 3046.6,1163.2 3047.4,1172.2 3048.3,1163.6 3049.1,1164.1 3049.9,1154.0 3050.8,1169.5 3051.6,1170.0 3052.5,1151.9 3053.3,1168.5 3054.1,1172.6 3055.0,1168.9 3055.8,1162.9 3056.7,1166.8 3057.5,1168.3 3058.4,1171.2 3059.2,1171.9 3060.0,1173.1 3060.9,1177.6 3061.7,1173.7 3062.6,1169.1 3063.4,1148.7 3064.2,1165.2 3065.1,1154.6 3065.9,1164.8 3066.8,1174.1 3067.6,1164.4 3068.5,1174.9 3069.3,1176.0 3070.1,1174.3 3071.0,1164.4 3071.8,1167.4 3072.7,1170.5 3073.5,1163.1 3074.3,1172.2 3075.2,1149.3 3076.0,1171.3 3076.9,1163.8 3077.7,1164.8 3078.5,1152.9 3079.4,1161.4 3080.2,1150.2 3081.1,1177.9 3081.9,1171.6 3082.8,1173.3 3083.6,1168.1 3084.4,1175.1 3085.3,1171.2 3086.1,1162.3 3087.0,1164.1 3087.8,1162.7 3088.6,1167.3 3089.5,1167.7 3090.3,1164.5 3091.2,1160.4 3092.0,1164.1 3092.9,1168.7 3093.7,1157.0 3094.5,1166.5 3095.4,1169.4 3096.2,1175.7 3097.1,1155.2 3097.9,1165.7 3098.7,1168.4 3099.6,1173.2 3100.4,1168.9 3101.3,1168.3 3102.1,1168.3 3102.9,1161.6 3103.8,1167.2 3104.6,1173.0 3105.5,1165.2 3106.3,1166.7 3107.2,1169.4 3108.0,1166.0 3108.8,1155.8 3109.7,1162.2 3110.5,1148.7 3111.4,1162.9 3112.2,1163.3 3113.0,1172.3 3113.9,1169.1 3114.7,1176.1 3115.6,1165.4 3116.4,1164.6 3117.3,1165.5 3118.1,1173.3 3118.9,1166.6 3119.8,1154.6 3120.6,1165.6 3121.5,1168.3 3122.3,1159.2 3123.1,1171.1 3124.0,1159.7 3124.8,1167.7 3125.7,1166.3 3126.5,1167.3 3127.3,1170.5 3128.2,1171.1 3129.0,1161.1 3129.9,1159.4 3130.7,1167.4 3131.6,1170.2 3132.4,1161.6 3133.2,1163.9 3134.1,1159.8 3134.9,1166.3 3135.8,1171.1 3136.6,1153.4 3137.4,1159.9 3138.3,1166.2 3139.1,1158.6 3140.0,1172.0 3140.8,1169.4 3141.6,1177.9 3142.5,1173.3 3143.3,1174.8 3144.2,1164.1 3145.0,1171.2 3145.9,1178.3 3146.7,1169.0 3147.5,1165.8 3148.4,1171.1 3149.2,1160.0 3150.1,1149.6 3150.9,1176.4 3151.7,1171.2 3152.6,1157.2 3153.4,1162.3 3154.3,1170.7 3155.1,1171.6 3156.0,1165.3 3156.8,1170.9 3157.6,1152.9 3158.5,1162.0 3159.3,1159.3 3160.2,1171.2 3161.0,1163.9 3161.8,1164.5 3162.7,1171.5 3163.5,1178.7 3164.4,1171.0 3165.2,1157.5 3166.0,1170.9 3166.9,1167.4 3167.7,1165.2 3168.6,1167.4 3169.4,1173.3 3170.3,1169.9 3171.1,1171.5 3171.9,1176.0 3172.8,1169.0 3173.6,1169.0 3174.5,1168.9 3175.3,1166.7 3176.1,1165.0 3177.0,1152.8 3177.8,1164.9 3178.7,1156.6 3179.5,1148.7 3180.4,1167.0 3181.2,1163.1 3182.0,1157.0 3182.9,1153.8 3183.7,1148.7 3184.6,1158.9 3185.4,1162.0 3185.4,1206.6 2849.7,1206.6" fill="#d6d6d6" fill-opacity="0.85"/><polyline points="2849.7,1205.7 2850.5,1205.7 2851.4,1205.7 2852.2,1205.7 2853.1,1205.7 2853.9,1205.7 2854.7,1205.7 2855.6,1205.7 2856.4,1205.7 2857.3,1205.7 2858.1,1205.7 2859.0,1205.7 2859.8,1205.7 2860.6,1205.7 2861.5,1205.7 2862.3,1205.7 2863.2,1205.7 2864.0,1205.7 2864.8,1205.7 2865.7,1205.7 2866.5,1205.7 2867.4,1205.7 2868.2,1205.7 2869.1,1205.7 2869.9,1189.6 2870.7,1184.1 2871.6,1185.7 2872.4,1198.0 2873.3,1188.0 2874.1,1193.3 2874.9,1184.4 2875.8,1179.4 2876.6,1190.0 2877.5,1187.9 2878.3,1189.0 2879.1,1186.9 2880.0,1185.9 2880.8,1183.6 2881.7,1191.6 2882.5,1182.6 2883.4,1191.4 2884.2,1187.2 2885.0,1184.1 2885.9,1185.6 2886.7,1191.4 2887.6,1190.6 2888.4,1189.8 2889.2,1188.3 2890.1,1184.1 2890.9,1192.7 2891.8,1186.5 2892.6,1186.0 2893.5,1186.2 2894.3,1186.5 2895.1,1182.8 2896.0,1186.4 2896.8,1185.1 2897.7,1186.2 2898.5,1181.9 2899.3,1194.8 2900.2,1183.7 2901.0,1189.1 2901.9,1189.1 2902.7,1191.6 2903.5,1194.7 2904.4,1189.5 2905.2,1190.6 2906.1,1186.4 2906.9,1193.3 2907.8,1183.1 2908.6,1187.2 2909.4,1189.0 2910.3,1190.6 2911.1,1190.9 2912.0,1192.1 2912.8,1190.1 2913.6,1188.1 2914.5,1188.8 2915.3,1193.1 2916.2,1189.1 2917.0,1191.3 2917.8,1187.6 2918.7,1181.6 2919.5,1186.0 2920.4,1189.3 2921.2,1193.9 2922.1,1193.1 2922.9,1194.1 2923.7,1185.6 2924.6,1190.8 2925.4,1187.9 2926.3,1190.3 2927.1,1187.8 2927.9,1183.2 2928.8,1190.6 2929.6,1189.3 2930.5,1191.0 2931.3,1185.1 2932.2,1191.8 2933.0,1192.1 2933.8,1193.0 2934.7,1193.1 2935.5,1186.5 2936.4,1179.1 2937.2,1191.6 2938.0,1184.8 2938.9,1187.3 2939.7,1192.0 2940.6,1189.1 2941.4,1189.0 2942.2,1190.6 2943.1,1181.4 2943.9,1194.8 2944.8,1186.8 2945.6,1187.0 2946.5,1190.2 2947.3,1187.6 2948.1,1185.1 2949.0,1187.6 2949.8,1186.7 2950.7,1185.7 2951.5,1195.3 2952.3,1183.0 2953.2,1180.2 2954.0,1184.7 2954.9,1184.6 2955.7,1193.1 2956.6,1188.6 2957.4,1191.0 2958.2,1190.2 2959.1,1184.8 2959.9,1191.0 2960.8,1188.6 2961.6,1194.9 2962.4,1188.7 2963.3,1187.8 2964.1,1190.6 2965.0,1190.7 2965.8,1181.5 2966.6,1192.4 2967.5,1191.8 2968.3,1191.0 2969.2,1183.9 2970.0,1180.8 2970.9,1187.0 2971.7,1190.7 2972.5,1189.7 2973.4,1184.4 2974.2,1191.3 2975.1,1183.1 2975.9,1183.2 2976.7,1187.9 2977.6,1185.9 2978.4,1185.5 2979.3,1182.7 2980.1,1191.8 2981.0,1184.0 2981.8,1189.5 2982.6,1190.8 2983.5,1187.8 2984.3,1188.9 2985.2,1191.6 2986.0,1193.8 2986.8,1191.5 2987.7,1183.1 2988.5,1181.3 2989.4,1185.9 2990.2,1184.0 2991.0,1190.0 2991.9,1188.4 2992.7,1187.2 2993.6,1191.9 2994.4,1191.6 2995.3,1187.8 2996.1,1189.3 2996.9,1191.9 2997.8,1186.8 2998.6,1189.1 2999.5,1184.6 3000.3,1188.2 3001.1,1189.2 3002.0,1187.7 3002.8,1188.8 3003.7,1190.5 3004.5,1189.6 3005.4,1185.5 3006.2,1185.9 3007.0,1183.6 3007.9,1194.1 3008.7,1189.5 3009.6,1189.6 3010.4,1187.5 3011.2,1189.7 3012.1,1190.0 3012.9,1185.4 3013.8,1187.5 3014.6,1192.2 3015.4,1183.5 3016.3,1184.7 3017.1,1190.2 3018.0,1185.2 3018.8,1190.7 3019.7,1184.2 3020.5,1188.9 3021.3,1191.0 3022.2,1189.5 3023.0,1190.8 3023.9,1187.5 3024.7,1187.5 3025.5,1188.0 3026.4,1190.1 3027.2,1201.0 3028.1,1187.8 3028.9,1194.8 3029.7,1187.3 3030.6,1184.2 3031.4,1187.2 3032.3,1189.5 3033.1,1188.8 3034.0,1188.6 3034.8,1190.1 3035.6,1190.2 3036.5,1191.4 3037.3,1184.0 3038.2,1188.2 3039.0,1184.8 3039.8,1189.0 3040.7,1187.9 3041.5,1188.7 3042.4,1186.5 3043.2,1185.3 3044.1,1187.3 3044.9,1190.5 3045.7,1190.9 3046.6,1182.3 3047.4,1189.1 3048.3,1189.2 3049.1,1183.0 3049.9,1184.3 3050.8,1186.3 3051.6,1189.6 3052.5,1179.9 3053.3,1186.8 3054.1,1186.2 3055.0,1188.8 3055.8,1193.1 3056.7,1192.8 3057.5,1186.7 3058.4,1186.8 3059.2,1189.0 3060.0,1192.3 3060.9,1193.2 3061.7,1189.3 3062.6,1193.3 3063.4,1185.0 3064.2,1184.1 3065.1,1178.2 3065.9,1185.1 3066.8,1190.2 3067.6,1191.2 3068.5,1200.3 3069.3,1190.2 3070.1,1188.8 3071.0,1184.8 3071.8,1186.0 3072.7,1186.1 3073.5,1187.4 3074.3,1185.8 3075.2,1183.1 3076.0,1191.9 3076.9,1189.8 3077.7,1193.0 3078.5,1182.5 3079.4,1183.6 3080.2,1185.5 3081.1,1192.4 3081.9,1187.5 3082.8,1189.0 3083.6,1187.9 3084.4,1188.8 3085.3,1186.3 3086.1,1189.5 3087.0,1185.2 3087.8,1187.3 3088.6,1189.2 3089.5,1188.5 3090.3,1189.7 3091.2,1185.3 3092.0,1189.1 3092.9,1187.1 3093.7,1189.5 3094.5,1193.4 3095.4,1185.0 3096.2,1191.9 3097.1,1185.8 3097.9,1186.7 3098.7,1194.0 3099.6,1191.5 3100.4,1190.0 3101.3,1191.0 3102.1,1192.3 3102.9,1185.6 3103.8,1189.0 3104.6,1186.8 3105.5,1189.7 3106.3,1187.1 3107.2,1190.8 3108.0,1188.2 3108.8,1186.1 3109.7,1188.0 3110.5,1189.8 3111.4,1192.0 3112.2,1187.6 3113.0,1186.9 3113.9,1189.1 3114.7,1190.9 3115.6,1186.2 3116.4,1179.4 3117.3,1189.2 3118.1,1187.0 3118.9,1186.8 3119.8,1197.2 3120.6,1187.7 3121.5,1190.6 3122.3,1183.3 3123.1,1189.0 3124.0,1190.9 3124.8,1188.9 3125.7,1187.6 3126.5,1190.1 3127.3,1188.3 3128.2,1192.9 3129.0,1188.9 3129.9,1185.4 3130.7,1181.2 3131.6,1185.7 3132.4,1187.2 3133.2,1184.0 3134.1,1184.6 3134.9,1182.3 3135.8,1184.4 3136.6,1188.6 3137.4,1187.2 3138.3,1187.5 3139.1,1187.1 3140.0,1187.4 3140.8,1190.9 3141.6,1195.5 3142.5,1190.5 3143.3,1195.3 3144.2,1187.9 3145.0,1188.1 3145.9,1194.0 3146.7,1185.7 3147.5,1185.1 3148.4,1187.8 3149.2,1182.3 3150.1,1181.6 3150.9,1192.4 3151.7,1184.5 3152.6,1186.6 3153.4,1186.7 3154.3,1184.9 3155.1,1190.7 3156.0,1190.2 3156.8,1191.1 3157.6,1190.8 3158.5,1188.5 3159.3,1193.2 3160.2,1191.8 3161.0,1186.1 3161.8,1188.4 3162.7,1186.8 3163.5,1194.8 3164.4,1190.9 3165.2,1190.1 3166.0,1188.0 3166.9,1190.2 3167.7,1184.9 3168.6,1188.4 3169.4,1188.1 3170.3,1188.1 3171.1,1185.7 3171.9,1189.8 3172.8,1184.2 3173.6,1186.5 3174.5,1187.6 3175.3,1188.0 3176.1,1186.3 3177.0,1184.6 3177.8,1184.8 3178.7,1186.8 3179.5,1185.1 3180.4,1187.7 3181.2,1183.8 3182.0,1188.2 3182.9,1195.4 3183.7,1183.5 3184.6,1187.8 3185.4,1192.3" fill="none" stroke="#808080" stroke-width="2.3" stroke-dasharray="2.5,3"/><polygon points="2883.4,1071.7 2884.2,1077.3 2885.0,1074.9 2885.9,1068.6 2886.7,1068.4 2887.6,1064.3 2888.4,1071.3 2889.2,1063.2 2890.1,1061.0 2890.9,1067.1 2891.8,1068.0 2892.6,1055.5 2893.5,1056.1 2894.3,1063.0 2895.1,1050.5 2896.0,1063.6 2896.8,1055.5 2897.7,1055.5 2898.5,1060.0 2899.3,1052.8 2900.2,1049.3 2901.0,1050.8 2901.9,1047.1 2902.7,1055.2 2903.5,1046.4 2904.4,1048.4 2905.2,1047.8 2906.1,1040.5 2906.9,1045.1 2907.8,1040.6 2908.6,1028.2 2909.4,1035.2 2910.3,1044.3 2911.1,1043.7 2912.0,1041.0 2912.8,1043.5 2913.6,1028.6 2914.5,1032.7 2915.3,1032.7 2916.2,1033.1 2917.0,1025.6 2917.8,1034.8 2918.7,1034.6 2919.5,1024.4 2920.4,1031.1 2921.2,1031.1 2922.1,1028.4 2922.9,1012.9 2923.7,1022.5 2924.6,1018.2 2925.4,1023.4 2926.3,1020.7 2927.1,1019.9 2927.9,1025.3 2928.8,1024.8 2929.6,1007.7 2930.5,1022.1 2931.3,1007.7 2932.2,1018.0 2933.0,1016.5 2933.8,1018.9 2934.7,998.7 2935.5,1012.6 2936.4,1011.2 2937.2,1014.9 2938.0,1013.7 2938.9,1005.5 2939.7,1003.5 2940.6,1000.9 2941.4,1002.6 2942.2,1007.1 2943.1,1002.1 2943.9,1006.1 2944.8,997.9 2945.6,997.9 2946.5,990.9 2947.3,1005.4 2948.1,993.4 2949.0,1003.1 2949.8,1002.2 2950.7,987.2 2951.5,982.2 2952.3,988.1 2953.2,1000.3 2954.0,1001.7 2954.9,999.1 2955.7,998.0 2956.6,994.3 2957.4,979.1 2958.2,995.8 2959.1,990.0 2959.9,985.4 2960.8,991.3 2961.6,994.7 2962.4,992.6 2963.3,980.4 2964.1,989.1 2965.0,973.6 2965.8,982.2 2966.6,975.4 2967.5,988.3 2968.3,984.5 2969.2,985.0 2970.0,978.0 2970.9,978.5 2971.7,979.8 2972.5,975.8 2973.4,980.1 2974.2,984.3 2975.1,977.7 2975.9,978.0 2976.7,983.3 2977.6,974.1 2978.4,981.9 2979.3,973.6 2980.1,968.2 2981.0,966.2 2981.8,973.4 2982.6,967.1 2983.5,977.1 2984.3,978.6 2985.2,974.4 2986.0,974.3 2986.8,964.8 2987.7,953.4 2988.5,968.9 2989.4,954.8 2990.2,976.3 2991.0,975.9 2991.9,968.6 2992.7,957.5 2993.6,963.3 2994.4,973.5 2995.3,972.1 2996.1,968.0 2996.9,971.5 2997.8,966.2 2998.6,968.0 2999.5,971.2 3000.3,964.8 3001.1,964.4 3002.0,969.0 3002.8,968.5 3003.7,958.2 3004.5,953.9 3005.4,967.3 3006.2,954.8 3007.0,957.1 3007.9,960.1 3008.7,961.9 3009.6,966.2 3010.4,963.5 3011.2,963.9 3012.1,959.5 3012.9,964.2 3013.8,944.6 3014.6,942.2 3015.4,962.7 3016.3,958.7 3017.1,952.3 3018.0,948.8 3018.8,940.7 3019.7,957.5 3020.5,940.6 3021.3,955.1 3022.2,959.1 3023.0,954.8 3023.9,952.8 3024.7,947.1 3025.5,953.8 3026.4,956.2 3027.2,955.5 3028.1,943.7 3028.9,948.4 3029.7,946.2 3030.6,949.3 3031.4,951.8 3032.3,948.5 3033.1,950.5 3034.0,944.4 3034.8,950.7 3035.6,948.7 3036.5,942.7 3037.3,951.8 3038.2,931.4 3039.0,950.3 3039.8,919.7 3040.7,940.5 3041.5,944.9 3042.4,944.4 3043.2,921.5 3044.1,946.9 3044.1,985.3 3043.2,989.5 3042.4,980.7 3041.5,993.2 3040.7,986.9 3039.8,987.8 3039.0,994.9 3038.2,997.2 3037.3,982.8 3036.5,989.0 3035.6,989.3 3034.8,1000.7 3034.0,987.6 3033.1,998.5 3032.3,997.3 3031.4,992.7 3030.6,990.2 3029.7,1000.4 3028.9,990.9 3028.1,988.2 3027.2,988.4 3026.4,990.8 3025.5,1002.8 3024.7,998.2 3023.9,997.1 3023.0,997.8 3022.2,994.9 3021.3,995.6 3020.5,1006.0 3019.7,995.0 3018.8,1003.9 3018.0,997.1 3017.1,1003.1 3016.3,1004.8 3015.4,1000.2 3014.6,1008.5 3013.8,1004.0 3012.9,999.8 3012.1,997.2 3011.2,1002.5 3010.4,997.8 3009.6,1014.2 3008.7,999.3 3007.9,1006.6 3007.0,1004.7 3006.2,1010.4 3005.4,1001.4 3004.5,1011.0 3003.7,1009.7 3002.8,1000.7 3002.0,1011.5 3001.1,1013.3 3000.3,1008.6 2999.5,1014.7 2998.6,1012.0 2997.8,1004.9 2996.9,1010.0 2996.1,1004.3 2995.3,1024.4 2994.4,1007.5 2993.6,1006.5 2992.7,1016.0 2991.9,1009.6 2991.0,1015.0 2990.2,1008.1 2989.4,1012.6 2988.5,1025.1 2987.7,1011.7 2986.8,1013.4 2986.0,1018.1 2985.2,1021.9 2984.3,1013.7 2983.5,1016.7 2982.6,1026.5 2981.8,1011.8 2981.0,1016.7 2980.1,1016.4 2979.3,1019.0 2978.4,1023.6 2977.6,1022.4 2976.7,1038.5 2975.9,1032.5 2975.1,1018.2 2974.2,1016.6 2973.4,1028.2 2972.5,1031.4 2971.7,1024.8 2970.9,1021.3 2970.0,1020.4 2969.2,1045.5 2968.3,1025.7 2967.5,1028.5 2966.6,1031.2 2965.8,1029.4 2965.0,1025.8 2964.1,1026.7 2963.3,1033.2 2962.4,1033.0 2961.6,1042.6 2960.8,1027.6 2959.9,1037.2 2959.1,1036.9 2958.2,1030.2 2957.4,1043.7 2956.6,1032.9 2955.7,1036.7 2954.9,1038.1 2954.0,1048.9 2953.2,1033.8 2952.3,1038.3 2951.5,1041.8 2950.7,1038.0 2949.8,1038.4 2949.0,1039.9 2948.1,1056.9 2947.3,1043.2 2946.5,1049.1 2945.6,1044.5 2944.8,1050.2 2943.9,1042.6 2943.1,1043.8 2942.2,1048.6 2941.4,1053.1 2940.6,1056.9 2939.7,1053.2 2938.9,1046.1 2938.0,1061.6 2937.2,1051.3 2936.4,1055.1 2935.5,1058.0 2934.7,1062.7 2933.8,1052.9 2933.0,1055.0 2932.2,1052.3 2931.3,1061.6 2930.5,1059.0 2929.6,1057.1 2928.8,1055.9 2927.9,1059.8 2927.1,1067.2 2926.3,1068.3 2925.4,1060.5 2924.6,1063.9 2923.7,1062.6 2922.9,1071.7 2922.1,1077.0 2921.2,1066.9 2920.4,1074.1 2919.5,1067.9 2918.7,1074.8 2917.8,1092.4 2917.0,1073.1 2916.2,1083.1 2915.3,1082.2 2914.5,1075.4 2913.6,1074.0 2912.8,1076.6 2912.0,1082.8 2911.1,1083.4 2910.3,1084.4 2909.4,1091.0 2908.6,1085.2 2907.8,1082.6 2906.9,1102.3 2906.1,1089.1 2905.2,1086.6 2904.4,1084.6 2903.5,1085.6 2902.7,1090.5 2901.9,1088.3 2901.0,1095.2 2900.2,1102.3 2899.3,1103.7 2898.5,1104.6 2897.7,1092.8 2896.8,1104.3 2896.0,1104.5 2895.1,1101.6 2894.3,1103.7 2893.5,1107.2 2892.6,1110.2 2891.8,1101.2 2890.9,1108.0 2890.1,1105.8 2889.2,1104.9 2888.4,1129.2 2887.6,1112.8 2886.7,1109.3 2885.9,1126.4 2885.0,1122.4 2884.2,1128.7 2883.4,1113.0" fill="#f2dcd6" fill-opacity="0.9"/><polyline points="2883.4,1103.5 2884.2,1100.1 2885.0,1095.0 2885.9,1097.2 2886.7,1078.5 2887.6,1076.3 2888.4,1083.7 2889.2,1092.9 2890.1,1084.5 2890.9,1087.9 2891.8,1069.9 2892.6,1077.8 2893.5,1075.3 2894.3,1081.3 2895.1,1092.9 2896.0,1082.0 2896.8,1083.6 2897.7,1070.8 2898.5,1071.9 2899.3,1077.8 2900.2,1073.5 2901.0,1057.1 2901.9,1076.0 2902.7,1074.7 2903.5,1068.3 2904.4,1071.0 2905.2,1067.9 2906.1,1059.3 2906.9,1048.8 2907.8,1075.6 2908.6,1060.7 2909.4,1059.2 2910.3,1059.2 2911.1,1059.0 2912.0,1059.3 2912.8,1047.7 2913.6,1058.3 2914.5,1054.6 2915.3,1052.6 2916.2,1050.8 2917.0,1052.0 2917.8,1041.8 2918.7,1048.7 2919.5,1046.3 2920.4,1047.1 2921.2,1053.6 2922.1,1051.3 2922.9,1052.0 2923.7,1041.2 2924.6,1047.4 2925.4,1049.1 2926.3,1037.9 2927.1,1034.6 2927.9,1051.7 2928.8,1023.4 2929.6,1035.5 2930.5,1035.6 2931.3,1025.4 2932.2,1032.3 2933.0,1036.6 2933.8,1013.6 2934.7,1038.7 2935.5,1030.3 2936.4,1022.1 2937.2,1036.6 2938.0,1028.2 2938.9,1023.6 2939.7,1007.0 2940.6,1032.3 2941.4,1025.0 2942.2,1018.7 2943.1,1022.5 2943.9,1032.0 2944.8,1018.6 2945.6,1020.2 2946.5,1016.8 2947.3,1010.7 2948.1,1011.0 2949.0,1015.0 2949.8,1015.1 2950.7,1025.5 2951.5,1017.2 2952.3,1013.7 2953.2,1017.9 2954.0,1013.3 2954.9,1019.8 2955.7,1000.5 2956.6,994.9 2957.4,1014.3 2958.2,1007.4 2959.1,1011.7 2959.9,999.1 2960.8,1005.0 2961.6,1007.1 2962.4,1008.8 2963.3,1005.3 2964.1,1013.5 2965.0,999.6 2965.8,1009.8 2966.6,999.3 2967.5,1001.8 2968.3,993.4 2969.2,1001.5 2970.0,992.6 2970.9,1007.2 2971.7,994.4 2972.5,1000.3 2973.4,996.3 2974.2,996.6 2975.1,989.0 2975.9,1011.8 2976.7,992.8 2977.6,1006.8 2978.4,985.0 2979.3,1009.7 2980.1,1001.6 2981.0,1006.4 2981.8,979.8 2982.6,1002.5 2983.5,991.0 2984.3,995.7 2985.2,1005.2 2986.0,993.2 2986.8,984.9 2987.7,991.1 2988.5,981.8 2989.4,991.7 2990.2,988.3 2991.0,991.0 2991.9,984.8 2992.7,972.0 2993.6,983.7 2994.4,984.6 2995.3,990.6 2996.1,991.2 2996.9,973.3 2997.8,993.2 2998.6,991.2 2999.5,984.3 3000.3,986.4 3001.1,967.2 3002.0,1000.9 3002.8,978.9 3003.7,975.7 3004.5,989.7 3005.4,985.5 3006.2,976.6 3007.0,966.7 3007.9,986.4 3008.7,991.2 3009.6,970.6 3010.4,965.8 3011.2,980.0 3012.1,994.4 3012.9,965.0 3013.8,977.6 3014.6,966.7 3015.4,975.5 3016.3,977.7 3017.1,977.9 3018.0,962.2 3018.8,962.1 3019.7,989.8 3020.5,979.9 3021.3,958.1 3022.2,974.5 3023.0,982.0 3023.9,970.7 3024.7,971.2 3025.5,970.7 3026.4,973.2 3027.2,971.5 3028.1,972.2 3028.9,965.5 3029.7,974.1 3030.6,969.5 3031.4,967.9 3032.3,956.1 3033.1,963.0 3034.0,966.4 3034.8,960.8 3035.6,961.4 3036.5,955.6 3037.3,959.7 3038.2,949.1 3039.0,952.2 3039.8,962.7 3040.7,965.2 3041.5,954.6 3042.4,957.0 3043.2,961.4 3044.1,971.9" fill="none" stroke="#f5c6b0" stroke-width="1.1" stroke-opacity="0.9"/><polyline points="2883.4,1114.8 2884.2,1096.5 2885.0,1092.0 2885.9,1090.7 2886.7,1106.1 2887.6,1086.6 2888.4,1097.9 2889.2,1089.5 2890.1,1088.2 2890.9,1096.7 2891.8,1094.0 2892.6,1104.6 2893.5,1094.3 2894.3,1100.2 2895.1,1081.5 2896.0,1083.3 2896.8,1075.5 2897.7,1078.8 2898.5,1085.5 2899.3,1076.7 2900.2,1081.4 2901.0,1072.5 2901.9,1073.9 2902.7,1083.2 2903.5,1074.4 2904.4,1072.9 2905.2,1074.8 2906.1,1064.3 2906.9,1056.9 2907.8,1072.3 2908.6,1071.2 2909.4,1085.2 2910.3,1067.5 2911.1,1068.9 2912.0,1081.5 2912.8,1061.2 2913.6,1057.8 2914.5,1067.3 2915.3,1063.5 2916.2,1067.2 2917.0,1052.5 2917.8,1069.5 2918.7,1059.0 2919.5,1040.2 2920.4,1054.2 2921.2,1049.9 2922.1,1053.8 2922.9,1060.9 2923.7,1050.9 2924.6,1046.4 2925.4,1056.7 2926.3,1045.0 2927.1,1036.8 2927.9,1037.2 2928.8,1057.2 2929.6,1051.4 2930.5,1055.4 2931.3,1033.3 2932.2,1035.9 2933.0,1034.2 2933.8,1045.8 2934.7,1047.3 2935.5,1036.8 2936.4,1035.9 2937.2,1042.7 2938.0,1034.2 2938.9,1029.5 2939.7,1032.1 2940.6,1041.4 2941.4,1049.2 2942.2,1033.8 2943.1,1029.8 2943.9,1032.4 2944.8,1033.1 2945.6,1034.4 2946.5,1022.6 2947.3,1028.0 2948.1,1025.9 2949.0,1033.8 2949.8,1030.3 2950.7,1023.5 2951.5,1032.0 2952.3,1033.3 2953.2,1025.2 2954.0,1012.4 2954.9,1019.7 2955.7,1009.0 2956.6,1020.9 2957.4,1021.6 2958.2,1029.4 2959.1,1022.3 2959.9,1005.7 2960.8,1013.7 2961.6,1009.8 2962.4,1009.3 2963.3,1014.3 2964.1,1015.1 2965.0,1011.8 2965.8,1006.8 2966.6,1007.8 2967.5,1006.8 2968.3,1008.8 2969.2,1015.3 2970.0,1010.6 2970.9,1015.3 2971.7,999.2 2972.5,1023.0 2973.4,1007.5 2974.2,986.2 2975.1,1007.0 2975.9,1012.7 2976.7,1003.4 2977.6,992.7 2978.4,1003.7 2979.3,997.1 2980.1,1000.7 2981.0,1004.0 2981.8,975.8 2982.6,999.7 2983.5,1004.0 2984.3,1003.2 2985.2,995.9 2986.0,995.2 2986.8,991.9 2987.7,996.5 2988.5,1008.4 2989.4,992.5 2990.2,998.7 2991.0,998.1 2991.9,1007.1 2992.7,999.5 2993.6,1000.2 2994.4,994.3 2995.3,1005.1 2996.1,992.8 2996.9,991.8 2997.8,1001.1 2998.6,996.8 2999.5,998.2 3000.3,983.8 3001.1,1010.5 3002.0,992.8 3002.8,1002.8 3003.7,992.6 3004.5,982.1 3005.4,993.3 3006.2,986.8 3007.0,994.1 3007.9,971.7 3008.7,979.4 3009.6,977.2 3010.4,996.2 3011.2,994.0 3012.1,976.3 3012.9,985.9 3013.8,986.0 3014.6,980.9 3015.4,993.0 3016.3,976.5 3017.1,982.0 3018.0,978.0 3018.8,986.6 3019.7,976.8 3020.5,986.0 3021.3,972.4 3022.2,970.6 3023.0,971.9 3023.9,974.6 3024.7,973.2 3025.5,999.2 3026.4,970.8 3027.2,979.1 3028.1,975.7 3028.9,978.3 3029.7,986.6 3030.6,979.4 3031.4,969.5 3032.3,963.1 3033.1,978.7 3034.0,980.5 3034.8,961.5 3035.6,979.5 3036.5,955.7 3037.3,971.2 3038.2,978.2 3039.0,963.0 3039.8,956.9 3040.7,981.2 3041.5,957.1 3042.4,971.2 3043.2,956.8 3044.1,971.1" fill="none" stroke="#c8d9ee" stroke-width="1.1" stroke-opacity="0.9"/><polyline points="2883.4,1107.1 2884.2,1089.5 2885.0,1085.1 2885.9,1074.7 2886.7,1076.6 2887.6,1083.6 2888.4,1089.9 2889.2,1091.0 2890.1,1088.1 2890.9,1091.3 2891.8,1085.8 2892.6,1102.6 2893.5,1080.0 2894.3,1080.5 2895.1,1058.9 2896.0,1072.1 2896.8,1080.8 2897.7,1071.4 2898.5,1084.5 2899.3,1078.5 2900.2,1087.4 2901.0,1060.3 2901.9,1066.0 2902.7,1078.9 2903.5,1069.1 2904.4,1060.2 2905.2,1062.8 2906.1,1062.7 2906.9,1071.5 2907.8,1068.8 2908.6,1062.0 2909.4,1054.5 2910.3,1067.3 2911.1,1068.6 2912.0,1049.7 2912.8,1065.1 2913.6,1048.3 2914.5,1053.9 2915.3,1047.9 2916.2,1040.0 2917.0,1047.4 2917.8,1045.7 2918.7,1058.1 2919.5,1055.4 2920.4,1043.8 2921.2,1035.8 2922.1,1035.9 2922.9,1027.6 2923.7,1042.5 2924.6,1042.3 2925.4,1035.0 2926.3,1041.8 2927.1,1041.5 2927.9,1048.2 2928.8,1031.2 2929.6,1046.5 2930.5,1033.0 2931.3,1047.2 2932.2,1026.4 2933.0,1042.2 2933.8,1026.5 2934.7,1045.0 2935.5,1035.2 2936.4,1021.7 2937.2,1036.7 2938.0,1029.1 2938.9,1032.7 2939.7,1046.4 2940.6,1025.1 2941.4,1023.4 2942.2,1034.8 2943.1,1020.8 2943.9,1031.0 2944.8,1031.9 2945.6,1023.2 2946.5,1027.9 2947.3,1003.8 2948.1,1033.4 2949.0,1014.6 2949.8,1011.9 2950.7,1034.7 2951.5,1032.0 2952.3,1013.2 2953.2,1020.7 2954.0,1013.2 2954.9,1006.5 2955.7,1017.8 2956.6,1022.5 2957.4,1035.0 2958.2,1011.1 2959.1,1019.3 2959.9,1008.8 2960.8,1008.8 2961.6,1020.8 2962.4,995.6 2963.3,999.9 2964.1,1001.1 2965.0,1016.4 2965.8,1009.6 2966.6,1010.0 2967.5,1008.2 2968.3,1013.1 2969.2,1000.1 2970.0,1001.0 2970.9,999.3 2971.7,1005.4 2972.5,990.6 2973.4,998.6 2974.2,1021.0 2975.1,1003.7 2975.9,998.5 2976.7,990.0 2977.6,999.5 2978.4,998.7 2979.3,1001.5 2980.1,990.6 2981.0,998.9 2981.8,999.7 2982.6,1000.4 2983.5,989.7 2984.3,997.8 2985.2,1006.4 2986.0,987.8 2986.8,997.9 2987.7,989.1 2988.5,988.5 2989.4,981.5 2990.2,982.3 2991.0,994.7 2991.9,991.0 2992.7,999.4 2993.6,975.5 2994.4,984.9 2995.3,976.9 2996.1,990.0 2996.9,1003.2 2997.8,974.5 2998.6,985.4 2999.5,984.7 3000.3,984.8 3001.1,979.7 3002.0,980.2 3002.8,996.5 3003.7,974.9 3004.5,987.3 3005.4,986.3 3006.2,968.6 3007.0,974.5 3007.9,984.0 3008.7,995.5 3009.6,979.2 3010.4,975.7 3011.2,980.2 3012.1,989.0 3012.9,984.9 3013.8,988.2 3014.6,976.1 3015.4,970.9 3016.3,968.8 3017.1,982.3 3018.0,974.2 3018.8,971.2 3019.7,979.2 3020.5,975.9 3021.3,957.5 3022.2,972.2 3023.0,966.4 3023.9,976.4 3024.7,972.2 3025.5,985.6 3026.4,971.8 3027.2,961.8 3028.1,954.2 3028.9,960.9 3029.7,964.5 3030.6,969.0 3031.4,973.7 3032.3,969.8 3033.1,963.3 3034.0,973.9 3034.8,959.9 3035.6,974.6 3036.5,980.4 3037.3,973.9 3038.2,978.6 3039.0,975.9 3039.8,955.7 3040.7,965.7 3041.5,962.0 3042.4,954.1 3043.2,952.9 3044.1,966.4" fill="none" stroke="#d3e9cb" stroke-width="1.1" stroke-opacity="0.9"/><polyline points="2883.4,1086.7 2884.2,1093.1 2885.0,1095.0 2885.9,1090.4 2886.7,1104.1 2887.6,1097.9 2888.4,1091.5 2889.2,1084.7 2890.1,1091.4 2890.9,1088.3 2891.8,1078.6 2892.6,1074.0 2893.5,1078.0 2894.3,1072.9 2895.1,1085.0 2896.0,1083.2 2896.8,1077.1 2897.7,1080.9 2898.5,1081.4 2899.3,1063.3 2900.2,1076.8 2901.0,1081.9 2901.9,1069.4 2902.7,1057.8 2903.5,1070.7 2904.4,1060.6 2905.2,1072.8 2906.1,1072.2 2906.9,1072.8 2907.8,1067.5 2908.6,1050.9 2909.4,1073.5 2910.3,1050.5 2911.1,1070.4 2912.0,1063.3 2912.8,1053.8 2913.6,1054.4 2914.5,1056.2 2915.3,1070.5 2916.2,1053.6 2917.0,1063.5 2917.8,1034.2 2918.7,1055.2 2919.5,1051.0 2920.4,1060.6 2921.2,1054.3 2922.1,1059.7 2922.9,1040.8 2923.7,1049.6 2924.6,1042.1 2925.4,1051.0 2926.3,1048.5 2927.1,1033.4 2927.9,1050.3 2928.8,1055.8 2929.6,1037.4 2930.5,1048.6 2931.3,1042.1 2932.2,1030.5 2933.0,1043.1 2933.8,1028.8 2934.7,1040.4 2935.5,1022.6 2936.4,1023.2 2937.2,1036.7 2938.0,1033.9 2938.9,1038.1 2939.7,1029.2 2940.6,1021.0 2941.4,1040.8 2942.2,1021.5 2943.1,1038.5 2943.9,1034.1 2944.8,1040.7 2945.6,1009.3 2946.5,1024.7 2947.3,1022.6 2948.1,1029.1 2949.0,1014.7 2949.8,1039.0 2950.7,1021.5 2951.5,1003.5 2952.3,1023.3 2953.2,1019.4 2954.0,1013.6 2954.9,1024.6 2955.7,1017.3 2956.6,1009.2 2957.4,1014.5 2958.2,1012.4 2959.1,1017.4 2959.9,1011.4 2960.8,1012.8 2961.6,1001.0 2962.4,1006.1 2963.3,1013.0 2964.1,1029.7 2965.0,1004.1 2965.8,1003.0 2966.6,1015.5 2967.5,1023.4 2968.3,1015.9 2969.2,998.9 2970.0,1013.9 2970.9,1008.4 2971.7,1002.3 2972.5,993.7 2973.4,1002.8 2974.2,1002.8 2975.1,1005.6 2975.9,987.8 2976.7,991.8 2977.6,1000.5 2978.4,1010.4 2979.3,1005.1 2980.1,993.9 2981.0,1003.7 2981.8,990.5 2982.6,994.3 2983.5,994.4 2984.3,991.1 2985.2,991.9 2986.0,1002.1 2986.8,997.5 2987.7,976.0 2988.5,1003.6 2989.4,997.4 2990.2,984.8 2991.0,994.0 2991.9,998.7 2992.7,1002.3 2993.6,987.2 2994.4,982.9 2995.3,979.5 2996.1,989.7 2996.9,981.4 2997.8,997.4 2998.6,987.5 2999.5,993.7 3000.3,986.5 3001.1,981.5 3002.0,978.6 3002.8,994.4 3003.7,976.1 3004.5,989.5 3005.4,993.4 3006.2,986.2 3007.0,995.9 3007.9,983.9 3008.7,981.2 3009.6,984.7 3010.4,978.4 3011.2,984.7 3012.1,981.7 3012.9,992.7 3013.8,980.5 3014.6,987.2 3015.4,983.5 3016.3,980.3 3017.1,977.6 3018.0,991.7 3018.8,990.6 3019.7,980.2 3020.5,973.6 3021.3,974.1 3022.2,969.4 3023.0,965.8 3023.9,971.7 3024.7,975.3 3025.5,982.9 3026.4,981.7 3027.2,977.5 3028.1,971.3 3028.9,971.2 3029.7,972.5 3030.6,973.3 3031.4,966.7 3032.3,969.6 3033.1,968.4 3034.0,967.9 3034.8,974.2 3035.6,977.6 3036.5,965.1 3037.3,965.3 3038.2,969.9 3039.0,971.0 3039.8,949.2 3040.7,972.8 3041.5,968.1 3042.4,963.8 3043.2,974.6 3044.1,964.1" fill="none" stroke="#eecbe8" stroke-width="1.1" stroke-opacity="0.9"/><polygon points="3039.8,965.9 3040.7,971.7 3041.5,964.7 3042.4,968.3 3043.2,963.9 3044.1,965.6 3044.9,966.5 3045.7,965.6 3046.6,965.3 3047.4,962.3 3048.3,960.4 3049.1,955.5 3049.9,966.4 3050.8,965.2 3051.6,968.6 3052.5,959.6 3053.3,963.8 3054.1,954.5 3055.0,950.7 3055.8,950.4 3056.7,948.5 3057.5,948.0 3058.4,946.0 3059.2,950.4 3060.0,947.3 3060.9,952.2 3061.7,951.4 3062.6,948.6 3063.4,945.7 3064.2,944.8 3065.1,951.0 3065.9,948.6 3066.8,951.9 3067.6,951.5 3068.5,952.4 3069.3,948.7 3070.1,944.4 3071.0,947.7 3071.8,949.4 3072.7,942.8 3073.5,936.8 3074.3,939.0 3075.2,935.3 3076.0,940.3 3076.9,944.3 3077.7,949.1 3078.5,947.8 3079.4,952.7 3080.2,947.5 3081.1,954.4 3081.9,953.6 3082.8,947.1 3083.6,946.9 3084.4,953.6 3085.3,953.8 3086.1,962.9 3087.0,966.8 3087.8,970.1 3088.6,961.3 3089.5,962.5 3090.3,955.0 3091.2,958.5 3092.0,962.2 3092.9,971.4 3093.7,972.0 3094.5,968.0 3095.4,970.7 3096.2,962.3 3097.1,954.1 3097.9,954.6 3098.7,961.0 3099.6,955.8 3100.4,960.9 3101.3,963.7 3102.1,964.0 3102.9,960.1 3103.8,959.5 3104.6,956.4 3105.5,961.8 3106.3,960.3 3107.2,961.6 3108.0,972.2 3108.8,969.9 3109.7,973.6 3110.5,977.5 3111.4,972.0 3112.2,971.2 3113.0,977.4 3113.9,974.8 3114.7,983.1 3115.6,990.1 3116.4,992.0 3117.3,993.0 3118.1,995.3 3118.9,992.9 3119.8,989.3 3120.6,985.3 3121.5,980.0 3122.3,981.9 3123.1,984.4 3124.0,987.9 3124.8,993.9 3125.7,1001.6 3126.5,1001.0 3127.3,996.7 3128.2,1003.4 3129.0,1003.2 3129.9,1002.0 3130.7,1008.3 3131.6,1013.6 3132.4,1020.5 3133.2,1025.0 3134.1,1035.2 3134.9,1029.3 3135.8,1034.5 3136.6,1034.1 3137.4,1039.6 3138.3,1042.7 3139.1,1051.7 3140.0,1054.4 3140.8,1053.6 3141.6,1060.6 3142.5,1064.8 3143.3,1067.9 3144.2,1071.1 3145.0,1068.3 3145.9,1067.8 3146.7,1072.1 3147.5,1075.6 3148.4,1079.0 3149.2,1079.2 3150.1,1080.4 3150.9,1085.8 3151.7,1082.4 3152.6,1086.5 3153.4,1094.0 3154.3,1099.3 3155.1,1098.2 3156.0,1104.0 3156.8,1103.1 3157.6,1101.9 3158.5,1104.5 3159.3,1101.5 3160.2,1095.4 3161.0,1100.7 3161.8,1102.1 3162.7,1105.1 3163.5,1108.4 3164.4,1110.6 3165.2,1108.4 3166.0,1105.4 3166.9,1104.0 3167.7,1105.6 3168.6,1107.3 3169.4,1101.2 3170.3,1107.1 3171.1,1108.0 3171.9,1106.4 3172.8,1106.5 3173.6,1112.1 3174.5,1110.3 3175.3,1110.4 3176.1,1115.8 3177.0,1110.5 3177.8,1111.5 3178.7,1107.7 3179.5,1106.3 3180.4,1108.9 3181.2,1117.5 3182.0,1113.3 3182.9,1114.8 3183.7,1117.7 3184.6,1120.6 3185.4,1121.9 3185.4,1133.4 3184.6,1130.4 3183.7,1134.1 3182.9,1127.9 3182.0,1124.5 3181.2,1127.8 3180.4,1123.8 3179.5,1122.5 3178.7,1123.3 3177.8,1120.4 3177.0,1122.1 3176.1,1130.7 3175.3,1127.1 3174.5,1123.0 3173.6,1121.4 3172.8,1117.1 3171.9,1116.6 3171.1,1124.3 3170.3,1122.9 3169.4,1116.2 3168.6,1120.9 3167.7,1114.6 3166.9,1112.9 3166.0,1115.8 3165.2,1121.4 3164.4,1126.2 3163.5,1125.4 3162.7,1122.0 3161.8,1116.0 3161.0,1113.4 3160.2,1110.4 3159.3,1113.3 3158.5,1112.4 3157.6,1116.6 3156.8,1119.3 3156.0,1116.5 3155.1,1109.6 3154.3,1107.8 3153.4,1109.0 3152.6,1103.7 3151.7,1097.3 3150.9,1093.8 3150.1,1089.1 3149.2,1096.0 3148.4,1088.0 3147.5,1086.4 3146.7,1079.6 3145.9,1083.9 3145.0,1082.3 3144.2,1079.7 3143.3,1076.9 3142.5,1075.5 3141.6,1077.2 3140.8,1067.6 3140.0,1065.3 3139.1,1061.3 3138.3,1056.6 3137.4,1050.1 3136.6,1048.0 3135.8,1042.5 3134.9,1043.9 3134.1,1044.9 3133.2,1040.3 3132.4,1034.7 3131.6,1027.9 3130.7,1024.3 3129.9,1011.5 3129.0,1013.6 3128.2,1015.3 3127.3,1013.0 3126.5,1010.7 3125.7,1010.5 3124.8,1004.6 3124.0,999.6 3123.1,998.8 3122.3,992.9 3121.5,994.0 3120.6,995.3 3119.8,998.8 3118.9,1000.4 3118.1,1005.6 3117.3,1004.0 3116.4,1002.8 3115.6,1000.1 3114.7,990.4 3113.9,991.5 3113.0,987.5 3112.2,985.4 3111.4,983.6 3110.5,985.5 3109.7,983.6 3108.8,984.9 3108.0,981.1 3107.2,978.2 3106.3,974.5 3105.5,970.8 3104.6,972.8 3103.8,969.8 3102.9,976.6 3102.1,976.3 3101.3,976.6 3100.4,974.1 3099.6,970.2 3098.7,968.5 3097.9,964.6 3097.1,968.4 3096.2,976.3 3095.4,983.5 3094.5,981.6 3093.7,983.8 3092.9,981.7 3092.0,978.6 3091.2,968.8 3090.3,971.6 3089.5,974.6 3088.6,977.1 3087.8,980.2 3087.0,983.7 3086.1,972.6 3085.3,968.8 3084.4,963.1 3083.6,958.4 3082.8,962.7 3081.9,962.7 3081.1,962.5 3080.2,963.8 3079.4,963.5 3078.5,962.4 3077.7,957.5 3076.9,952.4 3076.0,948.6 3075.2,949.1 3074.3,950.7 3073.5,952.6 3072.7,957.8 3071.8,964.9 3071.0,959.3 3070.1,960.9 3069.3,962.2 3068.5,965.7 3067.6,967.2 3066.8,968.9 3065.9,964.9 3065.1,960.3 3064.2,961.6 3063.4,956.8 3062.6,961.6 3061.7,966.8 3060.9,964.1 3060.0,963.6 3059.2,961.9 3058.4,959.7 3057.5,959.0 3056.7,962.6 3055.8,961.0 3055.0,965.6 3054.1,970.6 3053.3,971.3 3052.5,976.5 3051.6,978.7 3050.8,976.7 3049.9,976.0 3049.1,972.4 3048.3,975.3 3047.4,973.0 3046.6,976.1 3045.7,979.9 3044.9,981.0 3044.1,979.4 3043.2,975.6 3042.4,992.5 3041.5,991.2 3040.7,996.3 3039.8,999.2" fill="#c85fc6" fill-opacity="0.12"/><polyline points="3043.2,969.8 3044.1,972.5 3044.9,973.7 3045.7,972.7 3046.6,970.7 3047.4,967.7 3048.3,967.9 3049.1,963.9 3049.9,971.2 3050.8,971.0 3051.6,973.7 3052.5,968.1 3053.3,967.5 3054.1,962.5 3055.0,958.1 3055.8,955.7 3056.7,955.6 3057.5,953.5 3058.4,952.8 3059.2,956.1 3060.0,955.4 3060.9,958.2 3061.7,959.1 3062.6,955.1 3063.4,951.3 3064.2,953.2 3065.1,955.7 3065.9,956.8 3066.8,960.4 3067.6,959.3 3068.5,959.1 3069.3,955.4 3070.1,952.7 3071.0,953.5 3071.8,957.2 3072.7,950.3 3073.5,944.7 3074.3,944.8 3075.2,942.2 3076.0,944.5 3076.9,948.3 3077.7,953.3 3078.5,955.1 3079.4,958.1 3080.2,955.6 3081.1,958.5 3081.9,958.2 3082.8,954.9 3083.6,952.7 3084.4,958.3 3085.3,961.3 3086.1,967.8 3087.0,975.2 3087.8,975.1 3088.6,969.2 3089.5,968.6 3090.3,963.3 3091.2,963.7 3092.0,970.4 3092.9,976.6 3093.7,977.9 3094.5,974.8 3095.4,977.1 3096.2,969.3 3097.1,961.3 3097.9,959.6 3098.7,964.8 3099.6,963.0 3100.4,967.5 3101.3,970.1 3102.1,970.1 3102.9,968.4 3103.8,964.7 3104.6,964.6 3105.5,966.3 3106.3,967.4 3107.2,969.9 3108.0,976.7 3108.8,977.4 3109.7,978.6 3110.5,981.5 3111.4,977.8 3112.2,978.3 3113.0,982.4 3113.9,983.1 3114.7,986.7 3115.6,995.1 3116.4,997.4 3117.3,998.5 3118.1,1000.5 3118.9,996.7 3119.8,994.0 3120.6,990.3 3121.5,987.0 3122.3,987.4 3123.1,991.6 3124.0,993.8 3124.8,999.3 3125.7,1006.0 3126.5,1005.9 3127.3,1004.9 3128.2,1009.3 3129.0,1008.4 3129.9,1006.8 3130.7,1016.3 3131.6,1020.8 3132.4,1027.6 3133.2,1032.7 3134.1,1040.1 3134.9,1036.6 3135.8,1038.5 3136.6,1041.0 3137.4,1044.8 3138.3,1049.7 3139.1,1056.5 3140.0,1059.9 3140.8,1060.6 3141.6,1068.9 3142.5,1070.1 3143.3,1072.4 3144.2,1075.4 3145.0,1075.3 3145.9,1075.8 3146.7,1075.9 3147.5,1081.0 3148.4,1083.5 3149.2,1087.6 3150.1,1084.8 3150.9,1089.8 3151.7,1089.9 3152.6,1095.1 3153.4,1101.5 3154.3,1103.5 3155.1,1103.9 3156.0,1110.3 3156.8,1111.2 3157.6,1109.3 3158.5,1108.4 3159.3,1107.4 3160.2,1102.9 3161.0,1107.0 3161.8,1109.1 3162.7,1113.5 3163.5,1116.9 3164.4,1118.4 3165.2,1114.9 3166.0,1110.6 3166.9,1108.5 3167.7,1110.1 3168.6,1114.1 3169.4,1108.7 3170.3,1115.0 3171.1,1116.1 3171.9,1111.5 3172.8,1111.8 3173.6,1116.7 3174.5,1116.6 3175.3,1118.8 3176.1,1123.2 3177.0,1116.3 3177.8,1116.0 3178.7,1115.5 3179.5,1114.4 3180.4,1116.3 3181.2,1122.6 3182.0,1118.9 3182.9,1121.4 3183.7,1125.9 3184.6,1125.5 3185.4,1127.7" fill="none" stroke="#c85fc6" stroke-width="2.4" stroke-dasharray=""/><polyline points="2849.7,1158.6 2850.5,1158.5 2851.4,1159.7 2852.2,1160.7 2853.1,1158.8 2853.9,1150.3 2854.7,1149.1 2855.6,1140.5 2856.4,1144.3 2857.3,1134.3 2858.1,1122.6 2859.0,1115.3 2859.8,1118.2 2860.6,1110.0 2861.5,1112.4 2862.3,1127.2 2863.2,1128.1 2864.0,1127.0 2864.8,1115.6 2865.7,1107.8 2866.5,1111.0 2867.4,1112.4 2868.2,1112.4 2869.1,1123.6 2869.9,1132.8 2870.7,1122.7 2871.6,1118.0 2872.4,1121.3 2873.3,1107.9 2874.1,1093.6 2874.9,1088.5 2875.8,1090.1 2876.6,1081.6 2877.5,1092.0 2878.3,1098.7 2879.1,1098.9 2880.0,1097.1 2880.8,1083.0 2881.7,1072.5 2882.5,1072.1 2883.4,1065.2 2884.2,1074.7 2885.0,1092.6 2885.9,1097.1 2886.7,1101.5 2887.6,1104.8 2888.4,1098.5 2889.2,1082.7 2890.1,1071.9 2890.9,1063.5" fill="none" stroke="#c85fc6" stroke-width="2" stroke-dasharray=""/><polygon points="3039.8,945.5 3040.7,937.5 3041.5,928.4 3042.4,933.4 3043.2,953.8 3044.1,949.0 3044.9,956.2 3045.7,966.9 3046.6,963.1 3047.4,961.1 3048.3,961.9 3049.1,960.3 3049.9,953.9 3050.8,959.1 3051.6,955.9 3052.5,963.4 3053.3,963.5 3054.1,958.5 3055.0,957.7 3055.8,959.2 3056.7,950.8 3057.5,951.0 3058.4,950.9 3059.2,950.0 3060.0,947.3 3060.9,952.8 3061.7,948.9 3062.6,944.2 3063.4,938.5 3064.2,936.5 3065.1,936.0 3065.9,936.5 3066.8,942.5 3067.6,938.4 3068.5,949.7 3069.3,947.1 3070.1,941.4 3071.0,938.8 3071.8,945.3 3072.7,939.7 3073.5,942.8 3074.3,945.2 3075.2,944.8 3076.0,945.2 3076.9,940.6 3077.7,948.0 3078.5,950.2 3079.4,957.5 3080.2,949.6 3081.1,955.2 3081.9,952.2 3082.8,944.1 3083.6,943.6 3084.4,931.1 3085.3,933.6 3086.1,925.9 3087.0,929.1 3087.8,920.5 3088.6,933.0 3089.5,932.9 3090.3,935.8 3091.2,933.4 3092.0,941.3 3092.9,943.0 3093.7,946.6 3094.5,952.0 3095.4,948.8 3096.2,947.2 3097.1,944.3 3097.9,938.3 3098.7,937.4 3099.6,938.2 3100.4,933.5 3101.3,932.2 3102.1,930.4 3102.9,928.2 3103.8,927.6 3104.6,926.1 3105.5,928.6 3106.3,924.6 3107.2,921.5 3108.0,925.4 3108.8,925.5 3109.7,925.4 3110.5,930.5 3111.4,932.0 3112.2,933.7 3113.0,934.5 3113.9,938.2 3114.7,940.7 3115.6,940.8 3116.4,947.9 3117.3,940.2 3118.1,938.7 3118.9,936.9 3119.8,939.0 3120.6,936.5 3121.5,939.7 3122.3,941.6 3123.1,944.8 3124.0,945.1 3124.8,947.1 3125.7,953.0 3126.5,955.8 3127.3,962.9 3128.2,959.8 3129.0,959.9 3129.9,964.1 3130.7,960.2 3131.6,959.3 3132.4,962.1 3133.2,966.8 3134.1,968.6 3134.9,970.9 3135.8,972.1 3136.6,978.5 3137.4,977.1 3138.3,984.6 3139.1,985.0 3140.0,984.1 3140.8,986.1 3141.6,990.5 3142.5,985.8 3143.3,988.4 3144.2,990.1 3145.0,997.4 3145.9,1000.3 3146.7,1000.2 3147.5,1002.1 3148.4,1001.9 3149.2,1004.3 3150.1,1006.4 3150.9,1008.3 3151.7,1013.8 3152.6,1018.1 3153.4,1019.0 3154.3,1019.9 3155.1,1020.5 3156.0,1020.6 3156.8,1021.4 3157.6,1021.9 3158.5,1021.6 3159.3,1021.5 3160.2,1025.3 3161.0,1020.8 3161.8,1020.1 3162.7,1020.9 3163.5,1027.8 3164.4,1026.1 3165.2,1030.5 3166.0,1034.1 3166.9,1038.2 3167.7,1036.2 3168.6,1039.0 3169.4,1040.0 3170.3,1037.5 3171.1,1039.1 3171.9,1042.4 3172.8,1042.5 3173.6,1046.2 3174.5,1047.9 3175.3,1044.6 3176.1,1044.4 3177.0,1041.0 3177.8,1044.1 3178.7,1041.4 3179.5,1043.9 3180.4,1048.3 3181.2,1047.8 3182.0,1046.6 3182.9,1049.3 3183.7,1039.6 3184.6,1045.0 3185.4,1045.2 3185.4,1059.7 3184.6,1054.0 3183.7,1055.6 3182.9,1059.0 3182.0,1059.1 3181.2,1055.2 3180.4,1058.5 3179.5,1060.1 3178.7,1056.2 3177.8,1054.8 3177.0,1057.1 3176.1,1053.1 3175.3,1054.9 3174.5,1059.6 3173.6,1055.7 3172.8,1057.5 3171.9,1051.7 3171.1,1053.6 3170.3,1048.2 3169.4,1047.8 3168.6,1051.7 3167.7,1052.7 3166.9,1047.4 3166.0,1046.7 3165.2,1044.0 3164.4,1039.3 3163.5,1035.4 3162.7,1037.9 3161.8,1036.5 3161.0,1037.1 3160.2,1034.2 3159.3,1032.9 3158.5,1037.4 3157.6,1035.3 3156.8,1032.6 3156.0,1028.2 3155.1,1029.0 3154.3,1027.3 3153.4,1027.9 3152.6,1026.4 3151.7,1027.6 3150.9,1024.8 3150.1,1020.4 3149.2,1016.7 3148.4,1018.2 3147.5,1017.6 3146.7,1016.6 3145.9,1010.5 3145.0,1006.2 3144.2,1006.0 3143.3,1000.5 3142.5,1000.4 3141.6,998.3 3140.8,999.5 3140.0,1000.9 3139.1,999.8 3138.3,993.6 3137.4,991.2 3136.6,987.6 3135.8,987.6 3134.9,979.5 3134.1,976.6 3133.2,978.9 3132.4,976.3 3131.6,973.8 3130.7,977.0 3129.9,978.1 3129.0,976.9 3128.2,975.6 3127.3,973.1 3126.5,971.5 3125.7,965.2 3124.8,963.1 3124.0,960.4 3123.1,954.3 3122.3,953.5 3121.5,951.0 3120.6,948.3 3119.8,951.0 3118.9,952.4 3118.1,955.5 3117.3,957.1 3116.4,955.9 3115.6,955.7 3114.7,951.6 3113.9,950.4 3113.0,948.5 3112.2,946.0 3111.4,947.3 3110.5,943.5 3109.7,939.3 3108.8,941.3 3108.0,937.6 3107.2,936.5 3106.3,934.3 3105.5,936.0 3104.6,937.4 3103.8,938.6 3102.9,942.6 3102.1,947.1 3101.3,947.9 3100.4,945.3 3099.6,950.5 3098.7,954.6 3097.9,950.9 3097.1,958.5 3096.2,964.3 3095.4,961.6 3094.5,963.1 3093.7,960.5 3092.9,951.8 3092.0,953.0 3091.2,950.4 3090.3,945.1 3089.5,940.8 3088.6,941.7 3087.8,935.2 3087.0,937.6 3086.1,933.4 3085.3,944.5 3084.4,947.8 3083.6,955.2 3082.8,955.5 3081.9,963.7 3081.1,962.8 3080.2,964.0 3079.4,965.0 3078.5,966.6 3077.7,957.9 3076.9,957.2 3076.0,961.5 3075.2,955.0 3074.3,953.6 3073.5,954.3 3072.7,951.8 3071.8,956.4 3071.0,955.1 3070.1,954.0 3069.3,957.0 3068.5,959.5 3067.6,954.2 3066.8,951.0 3065.9,951.1 3065.1,943.5 3064.2,947.3 3063.4,951.4 3062.6,956.5 3061.7,960.0 3060.9,963.8 3060.0,962.8 3059.2,960.4 3058.4,962.2 3057.5,960.7 3056.7,960.6 3055.8,975.5 3055.0,972.4 3054.1,972.3 3053.3,974.6 3052.5,972.8 3051.6,969.3 3050.8,970.9 3049.9,971.0 3049.1,968.7 3048.3,972.1 3047.4,970.4 3046.6,976.3 3045.7,974.3 3044.9,969.7 3044.1,963.7 3043.2,962.2 3042.4,955.7 3041.5,962.7 3040.7,978.2 3039.8,971.8" fill="#3fb8d8" fill-opacity="0.12"/><polyline points="3043.2,958.0 3044.1,956.4 3044.9,963.0 3045.7,970.6 3046.6,969.7 3047.4,965.8 3048.3,967.0 3049.1,964.5 3049.9,962.4 3050.8,965.0 3051.6,962.6 3052.5,968.1 3053.3,969.1 3054.1,965.4 3055.0,965.1 3055.8,967.4 3056.7,955.7 3057.5,955.9 3058.4,956.5 3059.2,955.2 3060.0,955.1 3060.9,958.3 3061.7,954.5 3062.6,950.4 3063.4,945.0 3064.2,941.9 3065.1,939.8 3065.9,943.8 3066.8,946.8 3067.6,946.3 3068.5,954.6 3069.3,952.1 3070.1,947.7 3071.0,946.9 3071.8,950.9 3072.7,945.7 3073.5,948.6 3074.3,949.4 3075.2,949.9 3076.0,953.3 3076.9,948.9 3077.7,952.9 3078.5,958.4 3079.4,961.2 3080.2,956.8 3081.1,959.0 3081.9,957.9 3082.8,949.8 3083.6,949.4 3084.4,939.5 3085.3,939.1 3086.1,929.6 3087.0,933.3 3087.8,927.8 3088.6,937.4 3089.5,936.9 3090.3,940.5 3091.2,941.9 3092.0,947.2 3092.9,947.4 3093.7,953.6 3094.5,957.6 3095.4,955.2 3096.2,955.8 3097.1,951.4 3097.9,944.6 3098.7,946.0 3099.6,944.4 3100.4,939.4 3101.3,940.0 3102.1,938.7 3102.9,935.4 3103.8,933.1 3104.6,931.8 3105.5,932.3 3106.3,929.4 3107.2,929.0 3108.0,931.5 3108.8,933.4 3109.7,932.3 3110.5,937.0 3111.4,939.7 3112.2,939.9 3113.0,941.5 3113.9,944.3 3114.7,946.2 3115.6,948.3 3116.4,951.9 3117.3,948.6 3118.1,947.1 3118.9,944.6 3119.8,945.0 3120.6,942.4 3121.5,945.4 3122.3,947.6 3123.1,949.5 3124.0,952.8 3124.8,955.1 3125.7,959.1 3126.5,963.7 3127.3,968.0 3128.2,967.7 3129.0,968.4 3129.9,971.1 3130.7,968.6 3131.6,966.6 3132.4,969.2 3133.2,972.9 3134.1,972.6 3134.9,975.2 3135.8,979.9 3136.6,983.1 3137.4,984.1 3138.3,989.1 3139.1,992.4 3140.0,992.5 3140.8,992.8 3141.6,994.4 3142.5,993.1 3143.3,994.5 3144.2,998.1 3145.0,1001.8 3145.9,1005.4 3146.7,1008.4 3147.5,1009.8 3148.4,1010.0 3149.2,1010.5 3150.1,1013.4 3150.9,1016.5 3151.7,1020.7 3152.6,1022.2 3153.4,1023.5 3154.3,1023.6 3155.1,1024.8 3156.0,1024.4 3156.8,1027.0 3157.6,1028.6 3158.5,1029.5 3159.3,1027.2 3160.2,1029.8 3161.0,1028.9 3161.8,1028.3 3162.7,1029.4 3163.5,1031.6 3164.4,1032.7 3165.2,1037.2 3166.0,1040.4 3166.9,1042.8 3167.7,1044.4 3168.6,1045.4 3169.4,1043.9 3170.3,1042.8 3171.1,1046.3 3171.9,1047.0 3172.8,1050.0 3173.6,1051.0 3174.5,1053.7 3175.3,1049.8 3176.1,1048.7 3177.0,1049.1 3177.8,1049.5 3178.7,1048.8 3179.5,1052.0 3180.4,1053.4 3181.2,1051.5 3182.0,1052.9 3182.9,1054.2 3183.7,1047.6 3184.6,1049.5 3185.4,1052.4" fill="none" stroke="#3fb8d8" stroke-width="2.4" stroke-dasharray="9,4,2,4"/><polyline points="2849.7,1158.3 2850.5,1147.9 2851.4,1144.9 2852.2,1144.1 2853.1,1143.9 2853.9,1163.6 2854.7,1178.4 2855.6,1172.8 2856.4,1166.4 2857.3,1164.7 2858.1,1136.6 2859.0,1120.7 2859.8,1120.7 2860.6,1114.5 2861.5,1100.4 2862.3,1101.6 2863.2,1111.0 2864.0,1099.1 2864.8,1105.0 2865.7,1113.7 2866.5,1113.3 2867.4,1110.2 2868.2,1111.3 2869.1,1105.6 2869.9,1096.6 2870.7,1093.3 2871.6,1093.7 2872.4,1099.1 2873.3,1097.7 2874.1,1105.1 2874.9,1092.3 2875.8,1088.6 2876.6,1089.9 2877.5,1087.6 2878.3,1080.9 2879.1,1095.0 2880.0,1094.1 2880.8,1088.0 2881.7,1088.8 2882.5,1087.8 2883.4,1088.3 2884.2,1083.8 2885.0,1080.6 2885.9,1079.9 2886.7,1098.4 2887.6,1100.3 2888.4,1105.4 2889.2,1109.7 2890.1,1111.6 2890.9,1090.1" fill="none" stroke="#3fb8d8" stroke-width="2" stroke-dasharray="9,4,2,4"/><polygon points="3039.8,945.2 3040.7,944.0 3041.5,939.8 3042.4,942.8 3043.2,951.9 3044.1,960.0 3044.9,956.9 3045.7,955.6 3046.6,951.1 3047.4,953.5 3048.3,952.0 3049.1,949.6 3049.9,952.8 3050.8,963.7 3051.6,966.4 3052.5,958.3 3053.3,955.5 3054.1,948.7 3055.0,946.1 3055.8,938.1 3056.7,941.2 3057.5,949.3 3058.4,954.7 3059.2,945.8 3060.0,950.1 3060.9,944.3 3061.7,942.8 3062.6,936.7 3063.4,942.7 3064.2,950.5 3065.1,948.6 3065.9,944.8 3066.8,947.5 3067.6,948.1 3068.5,937.4 3069.3,933.8 3070.1,935.1 3071.0,936.0 3071.8,936.6 3072.7,940.0 3073.5,945.5 3074.3,949.2 3075.2,946.7 3076.0,945.6 3076.9,940.8 3077.7,935.5 3078.5,936.6 3079.4,931.3 3080.2,929.8 3081.1,930.4 3081.9,932.1 3082.8,936.3 3083.6,933.9 3084.4,938.7 3085.3,935.1 3086.1,936.7 3087.0,926.6 3087.8,930.7 3088.6,926.9 3089.5,929.5 3090.3,924.8 3091.2,928.0 3092.0,931.0 3092.9,920.9 3093.7,922.9 3094.5,921.6 3095.4,926.3 3096.2,926.2 3097.1,929.8 3097.9,925.5 3098.7,926.5 3099.6,922.2 3100.4,913.7 3101.3,912.3 3102.1,925.5 3102.9,922.1 3103.8,927.0 3104.6,926.3 3105.5,927.9 3106.3,926.5 3107.2,929.9 3108.0,926.2 3108.8,928.5 3109.7,930.0 3110.5,930.0 3111.4,930.8 3112.2,929.4 3113.0,936.5 3113.9,934.8 3114.7,938.6 3115.6,937.3 3116.4,938.7 3117.3,936.1 3118.1,934.4 3118.9,934.5 3119.8,934.7 3120.6,933.9 3121.5,934.7 3122.3,931.2 3123.1,931.8 3124.0,936.0 3124.8,936.2 3125.7,938.8 3126.5,939.9 3127.3,942.6 3128.2,936.9 3129.0,938.8 3129.9,936.0 3130.7,938.8 3131.6,937.4 3132.4,942.3 3133.2,942.0 3134.1,941.4 3134.9,946.6 3135.8,944.2 3136.6,945.6 3137.4,946.6 3138.3,944.6 3139.1,945.2 3140.0,945.1 3140.8,941.8 3141.6,943.2 3142.5,943.5 3143.3,940.9 3144.2,945.1 3145.0,947.4 3145.9,949.3 3146.7,944.0 3147.5,947.4 3148.4,947.2 3149.2,946.5 3150.1,949.3 3150.9,950.5 3151.7,951.2 3152.6,952.6 3153.4,950.4 3154.3,950.4 3155.1,948.9 3156.0,949.7 3156.8,954.4 3157.6,950.7 3158.5,948.2 3159.3,952.1 3160.2,947.1 3161.0,952.0 3161.8,950.3 3162.7,952.7 3163.5,948.0 3164.4,949.5 3165.2,948.0 3166.0,953.2 3166.9,950.3 3167.7,955.3 3168.6,955.7 3169.4,956.3 3170.3,960.9 3171.1,962.8 3171.9,962.8 3172.8,960.2 3173.6,958.0 3174.5,959.3 3175.3,958.5 3176.1,958.5 3177.0,957.1 3177.8,962.0 3178.7,958.0 3179.5,958.9 3180.4,957.3 3181.2,955.9 3182.0,955.9 3182.9,956.6 3183.7,961.8 3184.6,962.4 3185.4,964.2 3185.4,972.5 3184.6,972.5 3183.7,971.2 3182.9,968.3 3182.0,968.3 3181.2,969.8 3180.4,972.1 3179.5,971.9 3178.7,974.9 3177.8,969.4 3177.0,973.4 3176.1,966.8 3175.3,971.7 3174.5,968.6 3173.6,973.8 3172.8,974.3 3171.9,973.9 3171.1,970.6 3170.3,973.5 3169.4,972.5 3168.6,965.2 3167.7,968.2 3166.9,965.2 3166.0,961.3 3165.2,964.5 3164.4,965.9 3163.5,962.0 3162.7,961.7 3161.8,961.2 3161.0,961.1 3160.2,963.6 3159.3,964.5 3158.5,964.6 3157.6,967.6 3156.8,962.1 3156.0,965.3 3155.1,962.9 3154.3,966.1 3153.4,963.1 3152.6,962.1 3151.7,964.1 3150.9,967.1 3150.1,960.7 3149.2,961.9 3148.4,963.4 3147.5,964.3 3146.7,959.4 3145.9,958.1 3145.0,961.9 3144.2,957.4 3143.3,955.3 3142.5,957.9 3141.6,954.0 3140.8,954.8 3140.0,953.2 3139.1,958.7 3138.3,959.2 3137.4,960.8 3136.6,956.4 3135.8,958.6 3134.9,954.3 3134.1,954.2 3133.2,953.1 3132.4,952.4 3131.6,950.2 3130.7,951.3 3129.9,952.9 3129.0,948.3 3128.2,952.7 3127.3,959.0 3126.5,954.4 3125.7,952.8 3124.8,951.2 3124.0,946.2 3123.1,941.8 3122.3,945.3 3121.5,944.0 3120.6,945.9 3119.8,947.6 3118.9,946.5 3118.1,946.2 3117.3,944.3 3116.4,948.1 3115.6,951.6 3114.7,947.7 3113.9,951.7 3113.0,949.8 3112.2,946.3 3111.4,939.2 3110.5,943.5 3109.7,940.7 3108.8,938.5 3108.0,941.3 3107.2,941.6 3106.3,940.7 3105.5,937.9 3104.6,940.1 3103.8,938.1 3102.9,938.4 3102.1,933.6 3101.3,929.4 3100.4,927.6 3099.6,930.2 3098.7,936.0 3097.9,939.1 3097.1,941.9 3096.2,940.8 3095.4,938.7 3094.5,933.9 3093.7,933.9 3092.9,935.3 3092.0,938.4 3091.2,942.7 3090.3,940.7 3089.5,938.0 3088.6,943.2 3087.8,942.6 3087.0,940.0 3086.1,948.6 3085.3,948.5 3084.4,951.2 3083.6,947.8 3082.8,950.1 3081.9,942.7 3081.1,945.6 3080.2,942.4 3079.4,942.6 3078.5,944.0 3077.7,947.3 3076.9,949.6 3076.0,959.9 3075.2,963.4 3074.3,960.1 3073.5,962.5 3072.7,955.5 3071.8,948.5 3071.0,947.0 3070.1,951.6 3069.3,950.9 3068.5,951.9 3067.6,955.9 3066.8,956.2 3065.9,957.7 3065.1,960.0 3064.2,959.7 3063.4,953.7 3062.6,953.4 3061.7,956.8 3060.9,957.3 3060.0,965.3 3059.2,957.5 3058.4,964.4 3057.5,957.1 3056.7,957.9 3055.8,947.9 3055.0,960.5 3054.1,963.5 3053.3,965.9 3052.5,967.8 3051.6,978.0 3050.8,977.5 3049.9,965.6 3049.1,959.4 3048.3,959.5 3047.4,967.6 3046.6,964.1 3045.7,969.8 3044.9,967.3 3044.1,968.6 3043.2,959.5 3042.4,973.8 3041.5,982.1 3040.7,976.2 3039.8,982.4" fill="#3d9a37" fill-opacity="0.12"/><polyline points="3043.2,955.7 3044.1,964.3 3044.9,962.1 3045.7,962.7 3046.6,957.6 3047.4,960.6 3048.3,955.7 3049.1,954.5 3049.9,959.2 3050.8,970.6 3051.6,972.2 3052.5,963.1 3053.3,960.7 3054.1,956.1 3055.0,953.3 3055.8,943.0 3056.7,949.6 3057.5,953.2 3058.4,959.5 3059.2,951.7 3060.0,957.7 3060.9,950.8 3061.7,949.8 3062.6,945.1 3063.4,948.2 3064.2,955.1 3065.1,954.3 3065.9,951.3 3066.8,951.9 3067.6,952.0 3068.5,944.7 3069.3,942.3 3070.1,943.4 3071.0,941.5 3071.8,942.6 3072.7,947.7 3073.5,954.0 3074.3,954.6 3075.2,955.1 3076.0,952.7 3076.9,945.2 3077.7,941.4 3078.5,940.3 3079.4,936.9 3080.2,936.1 3081.1,938.0 3081.9,937.4 3082.8,943.2 3083.6,940.8 3084.4,945.0 3085.3,941.8 3086.1,942.7 3087.0,933.3 3087.8,936.6 3088.6,935.0 3089.5,933.8 3090.3,932.7 3091.2,935.3 3092.0,934.7 3092.9,928.1 3093.7,928.4 3094.5,927.8 3095.4,932.5 3096.2,933.5 3097.1,935.8 3097.9,932.3 3098.7,931.3 3099.6,926.2 3100.4,920.7 3101.3,920.9 3102.1,929.6 3102.9,930.3 3103.8,932.5 3104.6,933.2 3105.5,932.9 3106.3,933.6 3107.2,935.7 3108.0,933.7 3108.8,933.5 3109.7,935.3 3110.5,936.8 3111.4,935.0 3112.2,937.8 3113.0,943.2 3113.9,943.3 3114.7,943.1 3115.6,944.5 3116.4,943.4 3117.3,940.2 3118.1,940.3 3118.9,940.5 3119.8,941.2 3120.6,939.9 3121.5,939.4 3122.3,938.2 3123.1,936.8 3124.0,941.1 3124.8,943.7 3125.7,945.8 3126.5,947.1 3127.3,950.8 3128.2,944.8 3129.0,943.5 3129.9,944.5 3130.7,945.0 3131.6,943.8 3132.4,947.3 3133.2,947.5 3134.1,947.8 3134.9,950.5 3135.8,951.4 3136.6,951.0 3137.4,953.7 3138.3,951.9 3139.1,951.9 3140.0,949.2 3140.8,948.3 3141.6,948.6 3142.5,950.7 3143.3,948.1 3144.2,951.3 3145.0,954.6 3145.9,953.7 3146.7,951.7 3147.5,955.8 3148.4,955.3 3149.2,954.2 3150.1,955.0 3150.9,958.8 3151.7,957.7 3152.6,957.3 3153.4,956.8 3154.3,958.3 3155.1,955.9 3156.0,957.5 3156.8,958.3 3157.6,959.1 3158.5,956.4 3159.3,958.3 3160.2,955.3 3161.0,956.6 3161.8,955.7 3162.7,957.2 3163.5,955.0 3164.4,957.7 3165.2,956.3 3166.0,957.2 3166.9,957.7 3167.7,961.8 3168.6,960.5 3169.4,964.4 3170.3,967.2 3171.1,966.7 3171.9,968.4 3172.8,967.3 3173.6,965.9 3174.5,963.9 3175.3,965.1 3176.1,962.7 3177.0,965.3 3177.8,965.7 3178.7,966.5 3179.5,965.4 3180.4,964.7 3181.2,962.8 3182.0,962.1 3182.9,962.5 3183.7,966.5 3184.6,967.5 3185.4,968.3" fill="none" stroke="#3d9a37" stroke-width="2.4" stroke-dasharray="9,3,2,3,2,3"/><polyline points="2849.7,1161.1 2850.5,1160.8 2851.4,1163.1 2852.2,1168.6 2853.1,1172.6 2853.9,1180.6 2854.7,1173.0 2855.6,1162.7 2856.4,1150.9 2857.3,1148.4 2858.1,1133.0 2859.0,1135.0 2859.8,1135.1 2860.6,1145.2 2861.5,1140.7 2862.3,1131.1 2863.2,1124.3 2864.0,1117.9 2864.8,1111.6 2865.7,1102.8 2866.5,1112.5 2867.4,1108.3 2868.2,1108.8 2869.1,1107.8 2869.9,1108.9 2870.7,1104.1 2871.6,1106.4 2872.4,1103.7 2873.3,1098.1 2874.1,1104.4 2874.9,1101.2 2875.8,1103.3 2876.6,1104.4 2877.5,1106.8 2878.3,1111.6 2879.1,1116.5 2880.0,1116.1 2880.8,1115.5 2881.7,1105.1 2882.5,1105.3 2883.4,1100.3 2884.2,1107.9 2885.0,1112.3 2885.9,1119.8 2886.7,1121.6 2887.6,1130.6 2888.4,1117.4 2889.2,1110.6 2890.1,1107.5 2890.9,1099.0" fill="none" stroke="#3d9a37" stroke-width="2" stroke-dasharray="9,3,2,3,2,3"/><polygon points="3039.8,951.2 3040.7,946.7 3041.5,962.0 3042.4,958.1 3043.2,963.9 3044.1,963.6 3044.9,961.9 3045.7,953.8 3046.6,953.0 3047.4,948.0 3048.3,946.8 3049.1,950.5 3049.9,946.0 3050.8,952.0 3051.6,954.1 3052.5,961.2 3053.3,962.8 3054.1,969.7 3055.0,951.7 3055.8,946.7 3056.7,935.1 3057.5,929.1 3058.4,928.3 3059.2,936.9 3060.0,932.9 3060.9,938.7 3061.7,942.7 3062.6,940.3 3063.4,943.9 3064.2,953.8 3065.1,952.9 3065.9,948.5 3066.8,954.9 3067.6,947.4 3068.5,945.7 3069.3,947.6 3070.1,944.7 3071.0,945.1 3071.8,942.3 3072.7,945.0 3073.5,945.1 3074.3,950.3 3075.2,952.6 3076.0,950.3 3076.9,951.4 3077.7,947.5 3078.5,946.2 3079.4,944.6 3080.2,946.9 3081.1,944.6 3081.9,943.8 3082.8,936.9 3083.6,940.5 3084.4,940.1 3085.3,934.6 3086.1,935.1 3087.0,939.9 3087.8,940.7 3088.6,936.9 3089.5,938.7 3090.3,942.9 3091.2,947.1 3092.0,941.0 3092.9,945.9 3093.7,942.1 3094.5,935.8 3095.4,935.4 3096.2,929.0 3097.1,929.4 3097.9,931.3 3098.7,930.1 3099.6,926.5 3100.4,933.1 3101.3,928.5 3102.1,927.2 3102.9,928.0 3103.8,929.7 3104.6,928.2 3105.5,926.2 3106.3,926.6 3107.2,923.4 3108.0,921.4 3108.8,928.2 3109.7,921.7 3110.5,923.2 3111.4,927.6 3112.2,928.7 3113.0,923.2 3113.9,921.2 3114.7,925.6 3115.6,923.3 3116.4,919.0 3117.3,925.8 3118.1,926.4 3118.9,925.9 3119.8,922.0 3120.6,921.3 3121.5,919.3 3122.3,915.6 3123.1,920.5 3124.0,920.3 3124.8,919.4 3125.7,919.6 3126.5,918.2 3127.3,919.5 3128.2,922.2 3129.0,922.8 3129.9,917.1 3130.7,918.8 3131.6,921.3 3132.4,922.3 3133.2,923.3 3134.1,925.0 3134.9,927.0 3135.8,925.1 3136.6,924.4 3137.4,924.9 3138.3,926.9 3139.1,926.0 3140.0,917.8 3140.8,916.4 3141.6,919.4 3142.5,916.3 3143.3,919.0 3144.2,919.8 3145.0,923.6 3145.9,923.2 3146.7,922.1 3147.5,924.8 3148.4,924.0 3149.2,922.1 3150.1,924.6 3150.9,925.6 3151.7,924.0 3152.6,923.3 3153.4,926.3 3154.3,924.1 3155.1,927.4 3156.0,930.7 3156.8,929.7 3157.6,929.1 3158.5,932.4 3159.3,928.1 3160.2,929.2 3161.0,929.6 3161.8,926.3 3162.7,929.6 3163.5,928.6 3164.4,930.7 3165.2,934.5 3166.0,932.8 3166.9,929.1 3167.7,934.6 3168.6,930.4 3169.4,930.3 3170.3,930.5 3171.1,931.8 3171.9,933.1 3172.8,930.3 3173.6,932.8 3174.5,934.5 3175.3,936.6 3176.1,931.6 3177.0,932.8 3177.8,935.7 3178.7,934.8 3179.5,929.0 3180.4,935.5 3181.2,930.5 3182.0,936.6 3182.9,936.2 3183.7,935.3 3184.6,935.2 3185.4,938.6 3185.4,946.1 3184.6,947.1 3183.7,946.0 3182.9,944.0 3182.0,944.1 3181.2,946.3 3180.4,943.4 3179.5,943.3 3178.7,944.8 3177.8,947.7 3177.0,949.4 3176.1,948.7 3175.3,946.0 3174.5,943.9 3173.6,943.9 3172.8,945.7 3171.9,941.2 3171.1,944.6 3170.3,943.0 3169.4,940.3 3168.6,944.5 3167.7,944.0 3166.9,944.9 3166.0,944.1 3165.2,943.3 3164.4,942.1 3163.5,941.4 3162.7,937.9 3161.8,942.4 3161.0,941.0 3160.2,940.8 3159.3,941.2 3158.5,941.6 3157.6,942.5 3156.8,937.6 3156.0,940.4 3155.1,939.2 3154.3,938.2 3153.4,935.6 3152.6,939.9 3151.7,936.9 3150.9,938.4 3150.1,936.7 3149.2,937.7 3148.4,935.2 3147.5,933.0 3146.7,936.1 3145.9,934.9 3145.0,937.7 3144.2,935.8 3143.3,930.8 3142.5,931.4 3141.6,934.1 3140.8,933.1 3140.0,934.8 3139.1,935.5 3138.3,936.6 3137.4,938.9 3136.6,939.4 3135.8,940.3 3134.9,935.5 3134.1,938.3 3133.2,935.2 3132.4,934.4 3131.6,934.8 3130.7,933.5 3129.9,931.7 3129.0,931.0 3128.2,930.1 3127.3,927.9 3126.5,932.9 3125.7,935.8 3124.8,928.5 3124.0,930.8 3123.1,928.1 3122.3,932.4 3121.5,928.1 3120.6,934.3 3119.8,929.8 3118.9,933.9 3118.1,936.6 3117.3,936.1 3116.4,933.6 3115.6,933.4 3114.7,933.8 3113.9,936.2 3113.0,930.7 3112.2,938.1 3111.4,936.9 3110.5,938.2 3109.7,937.7 3108.8,938.8 3108.0,935.7 3107.2,939.9 3106.3,937.7 3105.5,940.4 3104.6,938.2 3103.8,943.8 3102.9,942.3 3102.1,943.7 3101.3,943.4 3100.4,941.1 3099.6,941.4 3098.7,946.1 3097.9,941.4 3097.1,939.4 3096.2,941.4 3095.4,945.7 3094.5,950.8 3093.7,950.9 3092.9,960.0 3092.0,954.3 3091.2,957.5 3090.3,956.3 3089.5,954.9 3088.6,952.3 3087.8,957.6 3087.0,956.9 3086.1,943.0 3085.3,949.9 3084.4,947.8 3083.6,953.4 3082.8,948.8 3081.9,955.8 3081.1,961.1 3080.2,959.5 3079.4,955.5 3078.5,960.4 3077.7,961.8 3076.9,960.2 3076.0,966.7 3075.2,965.9 3074.3,958.4 3073.5,962.0 3072.7,957.3 3071.8,952.7 3071.0,953.7 3070.1,961.3 3069.3,960.1 3068.5,959.7 3067.6,963.1 3066.8,963.8 3065.9,962.2 3065.1,960.8 3064.2,961.8 3063.4,957.1 3062.6,949.3 3061.7,953.6 3060.9,951.7 3060.0,948.3 3059.2,953.4 3058.4,942.2 3057.5,941.0 3056.7,945.8 3055.8,957.6 3055.0,959.9 3054.1,979.9 3053.3,972.6 3052.5,973.3 3051.6,969.6 3050.8,962.8 3049.9,959.9 3049.1,960.5 3048.3,961.6 3047.4,964.7 3046.6,967.1 3045.7,963.2 3044.9,971.8 3044.1,973.1 3043.2,978.2 3042.4,987.5 3041.5,999.4 3040.7,986.9 3039.8,994.2" fill="#ee8330" fill-opacity="0.12"/><polyline points="3043.2,971.0 3044.1,968.4 3044.9,966.9 3045.7,958.5 3046.6,960.0 3047.4,956.4 3048.3,954.2 3049.1,955.5 3049.9,952.9 3050.8,957.4 3051.6,961.8 3052.5,967.3 3053.3,967.7 3054.1,974.8 3055.0,955.8 3055.8,952.1 3056.7,940.5 3057.5,935.0 3058.4,935.3 3059.2,945.2 3060.0,940.6 3060.9,945.2 3061.7,948.2 3062.6,944.8 3063.4,950.5 3064.2,957.8 3065.1,956.9 3065.9,955.4 3066.8,959.3 3067.6,955.2 3068.5,952.7 3069.3,953.8 3070.1,953.0 3071.0,949.4 3071.8,947.5 3072.7,951.1 3073.5,953.6 3074.3,954.3 3075.2,959.3 3076.0,958.5 3076.9,955.8 3077.7,954.7 3078.5,953.3 3079.4,950.1 3080.2,953.2 3081.1,952.9 3081.9,949.8 3082.8,942.8 3083.6,947.0 3084.4,944.0 3085.3,942.2 3086.1,939.1 3087.0,948.4 3087.8,949.1 3088.6,944.6 3089.5,946.8 3090.3,949.6 3091.2,952.3 3092.0,947.7 3092.9,953.0 3093.7,946.5 3094.5,943.3 3095.4,940.5 3096.2,935.2 3097.1,934.4 3097.9,936.4 3098.7,938.1 3099.6,934.0 3100.4,937.1 3101.3,935.9 3102.1,935.5 3102.9,935.2 3103.8,936.8 3104.6,933.2 3105.5,933.3 3106.3,932.2 3107.2,931.7 3108.0,928.5 3108.8,933.5 3109.7,929.7 3110.5,930.7 3111.4,932.3 3112.2,933.4 3113.0,927.0 3113.9,928.7 3114.7,929.7 3115.6,928.3 3116.4,926.3 3117.3,930.9 3118.1,931.5 3118.9,929.9 3119.8,925.9 3120.6,927.8 3121.5,923.7 3122.3,924.0 3123.1,924.3 3124.0,925.6 3124.8,923.9 3125.7,927.7 3126.5,925.6 3127.3,923.7 3128.2,926.1 3129.0,926.9 3129.9,924.4 3130.7,926.2 3131.6,928.1 3132.4,928.4 3133.2,929.2 3134.1,931.6 3134.9,931.3 3135.8,932.7 3136.6,931.9 3137.4,931.9 3138.3,931.7 3139.1,930.7 3140.0,926.3 3140.8,924.8 3141.6,926.7 3142.5,923.8 3143.3,924.9 3144.2,927.8 3145.0,930.7 3145.9,929.0 3146.7,929.1 3147.5,928.9 3148.4,929.6 3149.2,929.9 3150.1,930.7 3150.9,932.0 3151.7,930.4 3152.6,931.6 3153.4,930.9 3154.3,931.2 3155.1,933.3 3156.0,935.5 3156.8,933.6 3157.6,935.8 3158.5,937.0 3159.3,934.6 3160.2,935.0 3161.0,935.3 3161.8,934.3 3162.7,933.7 3163.5,935.0 3164.4,936.4 3165.2,938.9 3166.0,938.5 3166.9,937.0 3167.7,939.3 3168.6,937.5 3169.4,935.3 3170.3,936.7 3171.1,938.2 3171.9,937.1 3172.8,938.0 3173.6,938.3 3174.5,939.2 3175.3,941.3 3176.1,940.1 3177.0,941.1 3177.8,941.7 3178.7,939.8 3179.5,936.1 3180.4,939.4 3181.2,938.4 3182.0,940.4 3182.9,940.1 3183.7,940.6 3184.6,941.1 3185.4,942.3" fill="none" stroke="#ee8330" stroke-width="2.4" stroke-dasharray="12,4,2.5,4"/><polyline points="2849.7,1178.6 2850.5,1178.4 2851.4,1170.3 2852.2,1171.6 2853.1,1165.3 2853.9,1167.6 2854.7,1158.4 2855.6,1154.9 2856.4,1153.4 2857.3,1148.8 2858.1,1132.8 2859.0,1135.9 2859.8,1138.5 2860.6,1131.8 2861.5,1131.3 2862.3,1136.6 2863.2,1126.9 2864.0,1125.4 2864.8,1127.5 2865.7,1120.3 2866.5,1112.8 2867.4,1117.9 2868.2,1119.8 2869.1,1115.5 2869.9,1110.0 2870.7,1103.4 2871.6,1102.1 2872.4,1092.3 2873.3,1089.8 2874.1,1094.8 2874.9,1098.3 2875.8,1088.9 2876.6,1084.5 2877.5,1092.8 2878.3,1088.7 2879.1,1091.0 2880.0,1095.4 2880.8,1097.7 2881.7,1087.3 2882.5,1094.6 2883.4,1094.5 2884.2,1091.1 2885.0,1103.0 2885.9,1101.7 2886.7,1095.8 2887.6,1092.4 2888.4,1090.8 2889.2,1073.4 2890.1,1076.5 2890.9,1076.8" fill="none" stroke="#ee8330" stroke-width="2" stroke-dasharray="12,4,2.5,4"/><polygon points="3039.8,953.9 3040.7,960.1 3041.5,969.0 3042.4,955.0 3043.2,965.0 3044.1,966.3 3044.9,962.0 3045.7,961.5 3046.6,963.6 3047.4,955.8 3048.3,959.0 3049.1,958.9 3049.9,951.4 3050.8,951.0 3051.6,952.2 3052.5,953.8 3053.3,951.8 3054.1,959.9 3055.0,956.5 3055.8,954.5 3056.7,952.4 3057.5,941.9 3058.4,945.2 3059.2,946.7 3060.0,948.8 3060.9,942.1 3061.7,952.1 3062.6,949.3 3063.4,945.7 3064.2,948.0 3065.1,943.7 3065.9,934.4 3066.8,931.1 3067.6,935.5 3068.5,934.6 3069.3,943.9 3070.1,945.4 3071.0,946.0 3071.8,944.9 3072.7,943.9 3073.5,936.2 3074.3,934.5 3075.2,931.5 3076.0,937.8 3076.9,935.7 3077.7,936.9 3078.5,937.9 3079.4,941.0 3080.2,931.2 3081.1,941.1 3081.9,936.8 3082.8,942.8 3083.6,940.3 3084.4,946.0 3085.3,943.5 3086.1,946.5 3087.0,941.1 3087.8,943.3 3088.6,940.3 3089.5,938.4 3090.3,936.4 3091.2,934.6 3092.0,933.1 3092.9,938.5 3093.7,940.8 3094.5,944.1 3095.4,946.5 3096.2,938.6 3097.1,931.4 3097.9,931.7 3098.7,926.1 3099.6,925.9 3100.4,928.6 3101.3,929.0 3102.1,924.6 3102.9,927.2 3103.8,927.8 3104.6,924.9 3105.5,930.3 3106.3,927.3 3107.2,926.5 3108.0,926.5 3108.8,929.1 3109.7,928.3 3110.5,926.6 3111.4,922.9 3112.2,924.4 3113.0,918.7 3113.9,922.4 3114.7,918.9 3115.6,919.0 3116.4,919.4 3117.3,920.2 3118.1,920.2 3118.9,921.5 3119.8,920.6 3120.6,917.8 3121.5,915.7 3122.3,916.5 3123.1,914.6 3124.0,914.8 3124.8,917.2 3125.7,911.7 3126.5,914.7 3127.3,913.7 3128.2,915.5 3129.0,914.5 3129.9,915.2 3130.7,911.6 3131.6,913.5 3132.4,916.0 3133.2,911.0 3134.1,912.3 3134.9,912.6 3135.8,910.5 3136.6,912.8 3137.4,915.1 3138.3,910.6 3139.1,910.9 3140.0,913.3 3140.8,909.9 3141.6,911.9 3142.5,908.4 3143.3,912.5 3144.2,909.1 3145.0,912.4 3145.9,906.8 3146.7,905.9 3147.5,902.1 3148.4,904.7 3149.2,902.8 3150.1,905.9 3150.9,905.7 3151.7,905.5 3152.6,905.3 3153.4,901.5 3154.3,902.3 3155.1,904.3 3156.0,905.1 3156.8,908.6 3157.6,910.3 3158.5,909.3 3159.3,907.9 3160.2,908.0 3161.0,908.0 3161.8,904.8 3162.7,907.1 3163.5,907.7 3164.4,906.3 3165.2,907.4 3166.0,903.4 3166.9,905.0 3167.7,903.2 3168.6,908.1 3169.4,904.2 3170.3,905.8 3171.1,904.9 3171.9,905.4 3172.8,903.8 3173.6,904.1 3174.5,907.6 3175.3,902.3 3176.1,906.2 3177.0,903.9 3177.8,902.4 3178.7,898.9 3179.5,901.4 3180.4,904.7 3181.2,902.8 3182.0,900.8 3182.9,903.2 3183.7,903.1 3184.6,904.8 3185.4,900.5 3185.4,913.5 3184.6,912.2 3183.7,919.5 3182.9,915.3 3182.0,917.7 3181.2,915.3 3180.4,915.9 3179.5,915.4 3178.7,913.2 3177.8,914.9 3177.0,920.3 3176.1,914.7 3175.3,919.0 3174.5,921.3 3173.6,918.5 3172.8,919.3 3171.9,917.9 3171.1,920.3 3170.3,918.1 3169.4,919.4 3168.6,915.6 3167.7,920.3 3166.9,914.8 3166.0,919.2 3165.2,917.3 3164.4,921.1 3163.5,919.7 3162.7,922.7 3161.8,921.8 3161.0,925.1 3160.2,921.4 3159.3,922.1 3158.5,922.8 3157.6,919.8 3156.8,916.5 3156.0,917.3 3155.1,914.1 3154.3,915.2 3153.4,918.0 3152.6,914.1 3151.7,914.4 3150.9,914.3 3150.1,914.5 3149.2,914.9 3148.4,912.6 3147.5,916.9 3146.7,920.1 3145.9,920.5 3145.0,921.7 3144.2,924.4 3143.3,920.8 3142.5,924.7 3141.6,921.5 3140.8,922.2 3140.0,921.3 3139.1,927.7 3138.3,925.6 3137.4,924.2 3136.6,925.3 3135.8,927.2 3134.9,925.3 3134.1,926.8 3133.2,927.7 3132.4,923.6 3131.6,926.6 3130.7,925.2 3129.9,923.2 3129.0,924.5 3128.2,923.3 3127.3,922.9 3126.5,925.0 3125.7,928.3 3124.8,927.8 3124.0,929.1 3123.1,928.1 3122.3,928.0 3121.5,932.6 3120.6,927.3 3119.8,930.2 3118.9,932.5 3118.1,931.1 3117.3,930.1 3116.4,929.7 3115.6,931.0 3114.7,934.3 3113.9,931.0 3113.0,935.4 3112.2,934.8 3111.4,936.9 3110.5,935.3 3109.7,936.4 3108.8,940.0 3108.0,941.0 3107.2,941.0 3106.3,942.5 3105.5,939.0 3104.6,941.7 3103.8,941.2 3102.9,941.6 3102.1,941.7 3101.3,944.8 3100.4,942.7 3099.6,934.3 3098.7,940.7 3097.9,944.7 3097.1,947.7 3096.2,950.4 3095.4,955.7 3094.5,953.1 3093.7,949.8 3092.9,946.2 3092.0,943.8 3091.2,948.1 3090.3,945.2 3089.5,947.3 3088.6,951.5 3087.8,954.6 3087.0,955.2 3086.1,960.1 3085.3,959.3 3084.4,953.8 3083.6,956.5 3082.8,952.1 3081.9,953.6 3081.1,948.5 3080.2,948.0 3079.4,954.3 3078.5,954.1 3077.7,948.6 3076.9,947.3 3076.0,948.7 3075.2,947.2 3074.3,945.1 3073.5,950.0 3072.7,955.0 3071.8,955.6 3071.0,957.8 3070.1,955.8 3069.3,951.4 3068.5,945.4 3067.6,948.0 3066.8,945.3 3065.9,945.7 3065.1,956.5 3064.2,955.6 3063.4,961.5 3062.6,963.7 3061.7,965.3 3060.9,955.7 3060.0,959.5 3059.2,956.8 3058.4,952.9 3057.5,958.9 3056.7,963.1 3055.8,968.3 3055.0,970.9 3054.1,968.0 3053.3,968.7 3052.5,963.0 3051.6,964.5 3050.8,962.5 3049.9,966.1 3049.1,969.7 3048.3,971.8 3047.4,967.9 3046.6,975.9 3045.7,975.8 3044.9,976.5 3044.1,977.8 3043.2,981.9 3042.4,994.6 3041.5,991.7 3040.7,983.3 3039.8,982.4" fill="#3b6fb0" fill-opacity="0.12"/><polyline points="3043.2,973.4 3044.1,972.0 3044.9,969.2 3045.7,968.7 3046.6,969.8 3047.4,961.8 3048.3,965.4 3049.1,964.3 3049.9,958.7 3050.8,956.7 3051.6,958.3 3052.5,958.4 3053.3,960.3 3054.1,964.0 3055.0,963.7 3055.8,961.4 3056.7,957.8 3057.5,950.4 3058.4,949.0 3059.2,951.7 3060.0,954.1 3060.9,948.9 3061.7,958.7 3062.6,956.5 3063.4,953.6 3064.2,951.8 3065.1,950.1 3065.9,940.1 3066.8,938.2 3067.6,941.7 3068.5,940.0 3069.3,947.6 3070.1,950.6 3071.0,951.9 3071.8,950.2 3072.7,949.5 3073.5,943.1 3074.3,939.8 3075.2,939.4 3076.0,943.2 3076.9,941.5 3077.7,942.7 3078.5,946.0 3079.4,947.6 3080.2,939.6 3081.1,944.8 3081.9,945.2 3082.8,947.5 3083.6,948.4 3084.4,949.9 3085.3,951.4 3086.1,953.3 3087.0,948.2 3087.8,948.9 3088.6,945.9 3089.5,942.8 3090.3,940.8 3091.2,941.4 3092.0,938.4 3092.9,942.3 3093.7,945.3 3094.5,948.6 3095.4,951.1 3096.2,944.5 3097.1,939.6 3097.9,938.2 3098.7,933.4 3099.6,930.1 3100.4,935.7 3101.3,936.9 3102.1,933.1 3102.9,934.4 3103.8,934.5 3104.6,933.3 3105.5,934.6 3106.3,934.9 3107.2,933.8 3108.0,933.8 3108.8,934.5 3109.7,932.4 3110.5,931.0 3111.4,929.9 3112.2,929.6 3113.0,927.1 3113.9,926.7 3114.7,926.6 3115.6,925.0 3116.4,924.5 3117.3,925.2 3118.1,925.6 3118.9,927.0 3119.8,925.4 3120.6,922.5 3121.5,924.1 3122.3,922.3 3123.1,921.4 3124.0,921.9 3124.8,922.5 3125.7,920.0 3126.5,919.8 3127.3,918.3 3128.2,919.4 3129.0,919.5 3129.9,919.2 3130.7,918.4 3131.6,920.1 3132.4,919.8 3133.2,919.4 3134.1,919.5 3134.9,919.0 3135.8,918.9 3136.6,919.0 3137.4,919.7 3138.3,918.1 3139.1,919.3 3140.0,917.3 3140.8,916.1 3141.6,916.7 3142.5,916.5 3143.3,916.6 3144.2,916.7 3145.0,917.1 3145.9,913.7 3146.7,913.0 3147.5,909.5 3148.4,908.6 3149.2,908.8 3150.1,910.2 3150.9,910.0 3151.7,909.9 3152.6,909.7 3153.4,909.8 3154.3,908.7 3155.1,909.2 3156.0,911.2 3156.8,912.5 3157.6,915.0 3158.5,916.0 3159.3,915.0 3160.2,914.7 3161.0,916.6 3161.8,913.3 3162.7,914.9 3163.5,913.7 3164.4,913.7 3165.2,912.4 3166.0,911.3 3166.9,909.9 3167.7,911.7 3168.6,911.9 3169.4,911.8 3170.3,912.0 3171.1,912.6 3171.9,911.6 3172.8,911.5 3173.6,911.3 3174.5,914.4 3175.3,910.6 3176.1,910.5 3177.0,912.1 3177.8,908.6 3178.7,906.1 3179.5,908.4 3180.4,910.3 3181.2,909.0 3182.0,909.3 3182.9,909.3 3183.7,911.3 3184.6,908.5 3185.4,907.0" fill="none" stroke="#3b6fb0" stroke-width="2.4" stroke-dasharray="10,5"/><polyline points="2849.7,1184.7 2850.5,1188.1 2851.4,1169.7 2852.2,1171.0 2853.1,1166.0 2853.9,1154.1 2854.7,1154.9 2855.6,1154.4 2856.4,1142.4 2857.3,1140.1 2858.1,1147.7 2859.0,1136.8 2859.8,1142.9 2860.6,1141.7 2861.5,1137.9 2862.3,1135.2 2863.2,1136.1 2864.0,1129.3 2864.8,1127.8 2865.7,1128.0 2866.5,1123.1 2867.4,1117.2 2868.2,1120.6 2869.1,1133.3 2869.9,1129.7 2870.7,1121.2 2871.6,1127.7 2872.4,1123.6 2873.3,1107.6 2874.1,1105.0 2874.9,1108.0 2875.8,1093.7 2876.6,1089.7 2877.5,1088.3 2878.3,1090.1 2879.1,1094.7 2880.0,1094.2 2880.8,1089.9 2881.7,1086.2 2882.5,1089.4 2883.4,1081.1 2884.2,1091.3 2885.0,1091.4 2885.9,1108.3 2886.7,1110.3 2887.6,1110.6 2888.4,1106.5 2889.2,1106.5 2890.1,1100.5 2890.9,1086.6" fill="none" stroke="#3b6fb0" stroke-width="2" stroke-dasharray="10,5"/><polygon points="3039.8,943.2 3040.7,925.4 3041.5,923.8 3042.4,928.6 3043.2,943.6 3044.1,944.2 3044.9,949.5 3045.7,953.1 3046.6,949.7 3047.4,955.2 3048.3,966.7 3049.1,959.9 3049.9,958.0 3050.8,963.5 3051.6,964.0 3052.5,962.6 3053.3,959.1 3054.1,956.0 3055.0,947.7 3055.8,946.1 3056.7,948.2 3057.5,956.6 3058.4,958.9 3059.2,956.3 3060.0,953.2 3060.9,943.9 3061.7,941.0 3062.6,944.6 3063.4,943.6 3064.2,939.7 3065.1,947.8 3065.9,952.6 3066.8,949.7 3067.6,946.0 3068.5,952.1 3069.3,949.1 3070.1,946.8 3071.0,952.7 3071.8,957.2 3072.7,953.3 3073.5,955.0 3074.3,951.9 3075.2,957.1 3076.0,944.2 3076.9,948.4 3077.7,946.6 3078.5,951.5 3079.4,938.8 3080.2,947.7 3081.1,945.9 3081.9,946.7 3082.8,939.0 3083.6,942.8 3084.4,940.4 3085.3,941.6 3086.1,932.6 3087.0,938.3 3087.8,936.8 3088.6,933.5 3089.5,935.5 3090.3,936.3 3091.2,932.8 3092.0,931.6 3092.9,929.3 3093.7,932.9 3094.5,934.7 3095.4,935.7 3096.2,940.0 3097.1,940.1 3097.9,940.9 3098.7,935.8 3099.6,931.5 3100.4,926.0 3101.3,922.5 3102.1,930.1 3102.9,930.5 3103.8,931.1 3104.6,931.2 3105.5,931.1 3106.3,928.4 3107.2,924.5 3108.0,926.0 3108.8,922.0 3109.7,922.6 3110.5,921.3 3111.4,919.7 3112.2,919.3 3113.0,917.9 3113.9,916.2 3114.7,920.4 3115.6,921.2 3116.4,923.9 3117.3,919.1 3118.1,922.9 3118.9,921.8 3119.8,919.5 3120.6,921.9 3121.5,923.7 3122.3,924.4 3123.1,918.5 3124.0,922.7 3124.8,917.9 3125.7,920.2 3126.5,916.6 3127.3,915.2 3128.2,913.0 3129.0,914.7 3129.9,911.9 3130.7,912.2 3131.6,908.3 3132.4,912.0 3133.2,910.4 3134.1,911.8 3134.9,914.5 3135.8,913.4 3136.6,912.9 3137.4,912.8 3138.3,912.5 3139.1,911.8 3140.0,908.2 3140.8,904.3 3141.6,904.9 3142.5,903.1 3143.3,907.1 3144.2,909.9 3145.0,912.9 3145.9,914.9 3146.7,912.0 3147.5,911.0 3148.4,911.3 3149.2,910.6 3150.1,908.1 3150.9,907.2 3151.7,907.3 3152.6,905.0 3153.4,904.8 3154.3,907.9 3155.1,911.8 3156.0,912.0 3156.8,913.0 3157.6,908.5 3158.5,915.3 3159.3,909.2 3160.2,910.9 3161.0,914.6 3161.8,909.0 3162.7,905.6 3163.5,905.5 3164.4,911.5 3165.2,905.1 3166.0,908.8 3166.9,909.9 3167.7,908.6 3168.6,906.2 3169.4,905.5 3170.3,907.4 3171.1,906.4 3171.9,910.2 3172.8,910.7 3173.6,913.4 3174.5,908.4 3175.3,914.6 3176.1,915.4 3177.0,911.7 3177.8,908.2 3178.7,906.1 3179.5,900.8 3180.4,899.8 3181.2,899.1 3182.0,901.8 3182.9,905.8 3183.7,909.6 3184.6,909.0 3185.4,911.9 3185.4,928.1 3184.6,925.6 3183.7,922.9 3182.9,921.1 3182.0,917.1 3181.2,914.4 3180.4,913.9 3179.5,917.5 3178.7,921.7 3177.8,921.9 3177.0,922.9 3176.1,923.4 3175.3,925.6 3174.5,924.9 3173.6,925.9 3172.8,922.6 3171.9,922.8 3171.1,922.9 3170.3,922.8 3169.4,921.6 3168.6,920.1 3167.7,919.9 3166.9,919.8 3166.0,921.2 3165.2,921.6 3164.4,924.2 3163.5,922.6 3162.7,920.0 3161.8,924.5 3161.0,922.6 3160.2,922.2 3159.3,925.1 3158.5,924.1 3157.6,924.2 3156.8,920.5 3156.0,920.2 3155.1,923.2 3154.3,919.8 3153.4,919.3 3152.6,920.8 3151.7,922.1 3150.9,922.1 3150.1,922.8 3149.2,924.4 3148.4,921.8 3147.5,921.0 3146.7,921.5 3145.9,922.5 3145.0,920.7 3144.2,917.4 3143.3,917.9 3142.5,918.6 3141.6,918.3 3140.8,921.5 3140.0,921.8 3139.1,922.1 3138.3,925.9 3137.4,921.0 3136.6,926.0 3135.8,929.2 3134.9,927.4 3134.1,925.0 3133.2,927.1 3132.4,925.0 3131.6,924.3 3130.7,921.1 3129.9,926.2 3129.0,925.2 3128.2,926.6 3127.3,930.2 3126.5,925.5 3125.7,928.8 3124.8,933.8 3124.0,931.0 3123.1,935.1 3122.3,934.4 3121.5,932.2 3120.6,932.3 3119.8,935.4 3118.9,934.2 3118.1,931.5 3117.3,934.1 3116.4,931.8 3115.6,930.9 3114.7,928.4 3113.9,931.5 3113.0,929.3 3112.2,929.3 3111.4,930.4 3110.5,931.3 3109.7,931.9 3108.8,938.5 3108.0,935.4 3107.2,940.5 3106.3,939.4 3105.5,945.2 3104.6,939.7 3103.8,939.2 3102.9,939.6 3102.1,940.1 3101.3,934.6 3100.4,943.1 3099.6,943.2 3098.7,952.0 3097.9,953.3 3097.1,956.8 3096.2,951.4 3095.4,952.8 3094.5,943.7 3093.7,941.1 3092.9,940.1 3092.0,944.1 3091.2,943.6 3090.3,950.5 3089.5,943.4 3088.6,949.5 3087.8,946.8 3087.0,954.4 3086.1,946.6 3085.3,952.1 3084.4,952.0 3083.6,955.5 3082.8,951.2 3081.9,956.6 3081.1,957.8 3080.2,963.0 3079.4,953.2 3078.5,959.2 3077.7,962.0 3076.9,962.3 3076.0,960.9 3075.2,967.1 3074.3,964.5 3073.5,962.7 3072.7,965.0 3071.8,969.4 3071.0,962.6 3070.1,961.3 3069.3,964.7 3068.5,967.5 3067.6,961.4 3066.8,957.9 3065.9,967.4 3065.1,964.4 3064.2,954.1 3063.4,953.3 3062.6,952.2 3061.7,948.7 3060.9,955.6 3060.0,963.4 3059.2,966.5 3058.4,969.6 3057.5,964.6 3056.7,960.1 3055.8,958.3 3055.0,956.4 3054.1,963.6 3053.3,971.8 3052.5,970.7 3051.6,976.8 3050.8,980.1 3049.9,970.0 3049.1,972.9 3048.3,977.7 3047.4,970.3 3046.6,965.7 3045.7,963.2 3044.9,964.5 3044.1,953.2 3043.2,960.0 3042.4,967.2 3041.5,965.1 3040.7,958.1 3039.8,964.1" fill="#c0342f" fill-opacity="0.12"/><polyline points="3043.2,951.8 3044.1,948.7 3044.9,957.0 3045.7,958.1 3046.6,957.7 3047.4,962.8 3048.3,972.2 3049.1,966.4 3049.9,964.0 3050.8,971.8 3051.6,970.4 3052.5,966.6 3053.3,965.4 3054.1,959.8 3055.0,952.0 3055.8,952.2 3056.7,954.2 3057.5,960.6 3058.4,964.3 3059.2,961.4 3060.0,958.3 3060.9,949.7 3061.7,944.8 3062.6,948.4 3063.4,948.5 3064.2,946.9 3065.1,956.1 3065.9,960.0 3066.8,953.8 3067.6,953.7 3068.5,959.8 3069.3,956.9 3070.1,954.0 3071.0,957.6 3071.8,963.3 3072.7,959.2 3073.5,958.9 3074.3,958.2 3075.2,962.1 3076.0,952.5 3076.9,955.4 3077.7,954.3 3078.5,955.3 3079.4,946.0 3080.2,955.4 3081.1,951.9 3081.9,951.7 3082.8,945.1 3083.6,949.2 3084.4,946.2 3085.3,946.8 3086.1,939.6 3087.0,946.4 3087.8,941.8 3088.6,941.5 3089.5,939.5 3090.3,943.4 3091.2,938.2 3092.0,937.9 3092.9,934.7 3093.7,937.0 3094.5,939.2 3095.4,944.2 3096.2,945.7 3097.1,948.5 3097.9,947.1 3098.7,943.9 3099.6,937.4 3100.4,934.5 3101.3,928.5 3102.1,935.1 3102.9,935.1 3103.8,935.2 3104.6,935.5 3105.5,938.2 3106.3,933.9 3107.2,932.5 3108.0,930.7 3108.8,930.3 3109.7,927.3 3110.5,926.3 3111.4,925.0 3112.2,924.3 3113.0,923.6 3113.9,923.9 3114.7,924.4 3115.6,926.1 3116.4,927.9 3117.3,926.6 3118.1,927.2 3118.9,928.0 3119.8,927.4 3120.6,927.1 3121.5,928.0 3122.3,929.4 3123.1,926.8 3124.0,926.9 3124.8,925.8 3125.7,924.5 3126.5,921.0 3127.3,922.7 3128.2,919.8 3129.0,920.0 3129.9,919.0 3130.7,916.6 3131.6,916.3 3132.4,918.5 3133.2,918.7 3134.1,918.4 3134.9,920.9 3135.8,921.3 3136.6,919.4 3137.4,916.9 3138.3,919.2 3139.1,916.9 3140.0,915.0 3140.8,912.9 3141.6,911.6 3142.5,910.9 3143.3,912.5 3144.2,913.7 3145.0,916.8 3145.9,918.7 3146.7,916.7 3147.5,916.0 3148.4,916.5 3149.2,917.5 3150.1,915.4 3150.9,914.6 3151.7,914.7 3152.6,912.9 3153.4,912.0 3154.3,913.8 3155.1,917.5 3156.0,916.1 3156.8,916.8 3157.6,916.4 3158.5,919.7 3159.3,917.1 3160.2,916.5 3161.0,918.6 3161.8,916.8 3162.7,912.8 3163.5,914.1 3164.4,917.9 3165.2,913.4 3166.0,915.0 3166.9,914.8 3167.7,914.2 3168.6,913.2 3169.4,913.5 3170.3,915.1 3171.1,914.7 3171.9,916.5 3172.8,916.6 3173.6,919.7 3174.5,916.7 3175.3,920.1 3176.1,919.4 3177.0,917.3 3177.8,915.1 3178.7,913.9 3179.5,909.2 3180.4,906.8 3181.2,906.8 3182.0,909.4 3182.9,913.5 3183.7,916.3 3184.6,917.3 3185.4,920.0" fill="none" stroke="#c0342f" stroke-width="2.4" stroke-dasharray="12,4,3,4"/><polyline points="2849.7,1175.5 2850.5,1168.8 2851.4,1154.2 2852.2,1154.7 2853.1,1156.5 2853.9,1159.6 2854.7,1152.8 2855.6,1159.1 2856.4,1143.5 2857.3,1138.3 2858.1,1121.8 2859.0,1117.1 2859.8,1105.3 2860.6,1119.2 2861.5,1107.5 2862.3,1109.3 2863.2,1112.3 2864.0,1119.9 2864.8,1113.1 2865.7,1120.5 2866.5,1130.0 2867.4,1126.1 2868.2,1123.3 2869.1,1125.2 2869.9,1123.0 2870.7,1099.0 2871.6,1098.7 2872.4,1100.1 2873.3,1086.0 2874.1,1088.7 2874.9,1100.1 2875.8,1103.9 2876.6,1102.2 2877.5,1106.2 2878.3,1098.5 2879.1,1100.5 2880.0,1097.5 2880.8,1095.0 2881.7,1099.8 2882.5,1102.0 2883.4,1101.1 2884.2,1103.0 2885.0,1102.1 2885.9,1104.1 2886.7,1100.8 2887.6,1097.0 2888.4,1096.9 2889.2,1099.0 2890.1,1095.2 2890.9,1097.0" fill="none" stroke="#c0342f" stroke-width="2" stroke-dasharray="12,4,3,4"/><rect x="2849.7" y="891.9" width="335.7000000000003" height="327.69999999999993" fill="none" stroke="#444" stroke-width="1.2"/><text x="2841.7" y="1211.7" font-family="Liberation Sans" font-size="17.5" text-anchor="end" fill="#333" >10</text><text x="2841.7" y="1167.8" font-family="Liberation Sans" font-size="17.5" text-anchor="end" fill="#333" >20</text><text x="2841.7" y="1124.0" font-family="Liberation Sans" font-size="17.5" text-anchor="end" fill="#333" >30</text><text x="2841.7" y="1080.1" font-family="Liberation Sans" font-size="17.5" text-anchor="end" fill="#333" >40</text><text x="2841.7" y="1036.2" font-family="Liberation Sans" font-size="17.5" text-anchor="end" fill="#333" >50</text><text x="2841.7" y="992.4" font-family="Liberation Sans" font-size="17.5" text-anchor="end" fill="#333" >60</text><text x="2841.7" y="948.5" font-family="Liberation Sans" font-size="17.5" text-anchor="end" fill="#333" >70</text><text x="2841.7" y="904.6" font-family="Liberation Sans" font-size="17.5" text-anchor="end" fill="#333" >80</text><text x="2849.7" y="1242.6" font-family="Liberation Sans" font-size="17" text-anchor="middle" fill="#333" >0</text><text x="2933.6" y="1242.6" font-family="Liberation Sans" font-size="17" text-anchor="middle" fill="#333" >50</text><text x="3017.6" y="1242.6" font-family="Liberation Sans" font-size="17" text-anchor="middle" fill="#333" >100</text><text x="3101.5" y="1242.6" font-family="Liberation Sans" font-size="17" text-anchor="middle" fill="#333" >150</text><text x="3185.4" y="1242.6" font-family="Liberation Sans" font-size="17" text-anchor="middle" fill="#333" >200</text><text x="3017.6" y="1262.6" font-family="Liberation Sans" font-size="17.5" text-anchor="middle" fill="#333" >epoch</text><text transform="translate(2813.7,1055.75) rotate(-90)" font-family="Liberation Sans" font-size="17.5" text-anchor="middle" fill="#333">testing accuracy</text><line x1="2865.7" y1="917" x2="2904.7" y2="917" stroke="#c85fc6" stroke-width="2.8" stroke-dasharray=""/><text x="2920.0" y="923.0" font-family="Liberation Sans" font-size="17.5" text-anchor="start" fill="#333" >ERM</text><line x1="2865.7" y1="944" x2="2904.7" y2="944" stroke="#3b6fb0" stroke-width="2.8" stroke-dasharray="10,5"/><text x="2920.0" y="950.0" font-family="Liberation Sans" font-size="17.5" text-anchor="start" fill="#333" >SAM</text><line x1="2865.7" y1="971" x2="2904.7" y2="971" stroke="#808080" stroke-width="2.8" stroke-dasharray="2.5,3"/><text x="2920.0" y="977.0" font-family="Liberation Sans" font-size="17.5" text-anchor="start" fill="#333" >ESAM</text><line x1="2865.7" y1="998" x2="2904.7" y2="998" stroke="#3fb8d8" stroke-width="2.8" stroke-dasharray="9,4,2,4"/><text x="2920.0" y="1004.0" font-family="Liberation Sans" font-size="17.5" text-anchor="start" fill="#333" >SS-SAM</text><line x1="2865.7" y1="1025" x2="2904.7" y2="1025" stroke="#ee8330" stroke-width="2.8" stroke-dasharray="12,4,2.5,4"/><text x="2920.0" y="1031.0" font-family="Liberation Sans" font-size="17.5" text-anchor="start" fill="#333" >LookSAM</text><line x1="2865.7" y1="1052" x2="2904.7" y2="1052" stroke="#3d9a37" stroke-width="2.8" stroke-dasharray="9,3,2,3,2,3"/><text x="2920.0" y="1058.0" font-family="Liberation Sans" font-size="17.5" text-anchor="start" fill="#333" >AE-SAM</text><line x1="2865.7" y1="1079" x2="2904.7" y2="1079" stroke="#c0342f" stroke-width="2.8" stroke-dasharray="12,4,3,4"/><text x="2920.0" y="1085.0" font-family="Liberation Sans" font-size="17.5" text-anchor="start" fill="#333" >AE-LookSAM</text></svg></body></html>
